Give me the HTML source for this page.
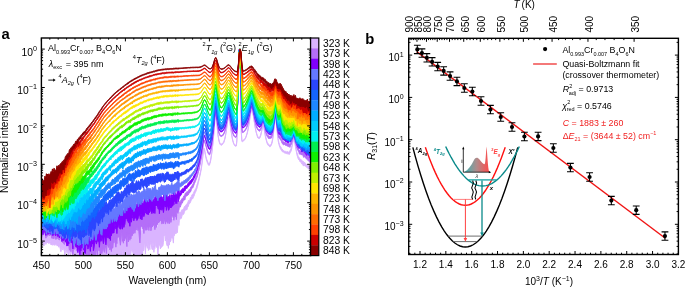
<!DOCTYPE html><html><head><meta charset="utf-8"><style>html,body{margin:0;padding:0;background:#fff;}svg{display:block;will-change:transform;}</style></head><body><svg width="685" height="287" viewBox="0 0 685 287" font-family='"Liberation Sans", sans-serif'>
<rect width="685" height="287" fill="#fff"/>
<defs><clipPath id="cl"><rect x="41.4" y="38.0" width="269.2" height="217.6"/></clipPath>
<linearGradient id="sg" x1="0" x2="1" y1="0" y2="0"><stop offset="0" stop-color="#3cb4b4"/><stop offset="0.5" stop-color="#b08a8a"/><stop offset="1" stop-color="#ff4a4a"/></linearGradient></defs>
<text x="1.6" y="38.9" font-size="14.8" text-anchor="start" fill="#000" font-weight="bold">a</text>
<text x="365.2" y="43.8" font-size="14.8" text-anchor="start" fill="#000" font-weight="bold">b</text>
<g clip-path="url(#cl)">
<polygon points="40.4,234.8 40.9,234.1 41.4,231.7 41.9,234.6 42.4,234.1 42.9,234.8 43.4,234.1 43.9,235.6 44.4,234.8 44.9,236.0 45.4,235.3 45.9,233.5 46.4,235.9 46.9,234.6 47.4,234.9 47.9,234.8 48.4,233.2 48.9,235.1 49.4,231.8 49.9,232.4 50.4,233.0 50.9,235.9 51.4,234.5 51.9,235.4 52.4,234.1 52.9,236.4 53.4,233.9 53.9,234.3 54.4,236.5 54.9,236.7 55.4,237.6 55.9,234.8 56.4,235.0 56.9,235.1 57.4,236.6 57.9,237.2 58.4,237.3 58.9,237.3 59.4,236.3 59.9,237.6 60.4,237.8 60.9,237.4 61.4,240.0 61.9,236.5 62.4,236.9 62.9,238.7 63.4,236.5 63.9,237.2 64.4,240.3 64.9,240.6 65.4,240.4 65.9,240.9 66.4,239.2 66.9,238.5 67.4,236.6 67.9,240.5 68.4,237.6 68.9,238.6 69.4,237.3 69.9,239.8 70.4,241.9 70.9,235.7 71.4,239.1 71.9,239.5 72.4,236.3 72.9,237.7 73.4,240.7 73.9,240.3 74.4,236.4 74.9,239.1 75.4,235.0 75.9,239.9 76.4,236.6 76.9,241.7 77.4,240.1 77.9,243.8 78.4,240.0 78.9,238.0 79.4,243.1 79.9,241.8 80.4,238.5 80.9,240.0 81.4,241.1 81.9,238.0 82.4,239.8 82.9,235.8 83.4,241.8 83.9,238.4 84.4,240.3 84.9,239.8 85.4,243.0 85.9,239.7 86.4,239.2 86.9,242.5 87.4,243.9 87.9,235.8 88.4,235.4 88.9,238.1 89.4,232.1 89.9,236.7 90.4,234.5 90.9,234.4 91.4,239.4 91.9,240.6 92.4,241.4 92.9,243.9 93.4,239.9 93.9,239.9 94.4,242.2 94.9,243.5 95.4,237.7 95.9,240.3 96.4,234.9 96.9,230.9 97.4,237.4 97.9,234.2 98.4,235.9 98.9,240.6 99.4,241.1 99.9,231.9 100.4,237.0 100.9,230.0 101.4,236.5 101.9,230.8 102.4,226.0 102.9,226.9 103.4,236.5 103.9,232.8 104.4,233.0 104.9,231.7 105.4,238.4 105.9,236.4 106.4,230.7 106.9,236.9 107.4,236.0 107.9,229.7 108.4,238.3 108.9,238.8 109.4,234.3 109.9,236.3 110.4,237.2 110.9,230.9 111.4,226.7 111.9,228.1 112.4,229.2 112.9,232.6 113.4,231.6 113.9,230.1 114.4,232.5 114.9,228.0 115.4,230.3 115.9,233.1 116.4,228.0 116.9,229.3 117.4,231.8 117.9,226.1 118.4,225.6 118.9,233.0 119.4,227.3 119.9,227.0 120.4,233.2 120.9,231.1 121.4,230.3 121.9,228.7 122.4,224.5 122.9,225.1 123.4,231.7 123.9,223.8 124.4,222.3 124.9,234.1 125.4,230.8 125.9,231.4 126.4,222.2 126.9,220.9 127.4,231.5 127.9,228.2 128.4,230.1 128.9,228.0 129.4,223.7 129.9,231.0 130.4,231.0 130.9,226.7 131.4,226.0 131.9,223.8 132.4,229.0 132.9,232.3 133.4,230.5 133.9,222.8 134.4,223.8 134.9,230.5 135.4,223.0 135.9,227.9 136.4,223.8 136.9,234.5 137.4,224.9 137.9,232.5 138.4,228.9 138.9,227.6 139.4,227.0 139.9,230.6 140.4,230.3 140.9,230.1 141.4,232.8 141.9,233.9 142.4,232.5 142.9,226.6 143.4,227.6 143.9,222.1 144.4,223.7 144.9,228.2 145.4,225.1 145.9,217.7 146.4,224.0 146.9,222.5 147.4,217.8 147.9,223.0 148.4,219.3 148.9,217.2 149.4,223.0 149.9,217.9 150.4,221.0 150.9,223.5 151.4,221.9 151.9,220.8 152.4,217.4 152.9,226.1 153.4,219.0 153.9,220.5 154.4,223.5 154.9,215.5 155.4,219.1 155.9,225.9 156.4,221.1 156.9,227.2 157.4,228.9 157.9,226.1 158.4,219.9 158.9,225.2 159.4,217.6 159.9,220.3 160.4,225.4 160.9,220.7 161.4,222.8 161.9,223.2 162.4,220.8 162.9,219.3 163.4,215.6 163.9,221.8 164.4,211.5 164.9,214.7 165.4,214.5 165.9,214.1 166.4,213.8 166.9,222.3 167.4,222.0 167.9,216.4 168.4,216.2 168.9,222.0 169.4,217.7 169.9,221.8 170.4,222.1 170.9,218.7 171.4,219.9 171.9,220.2 172.4,219.1 172.9,218.8 173.4,219.4 173.9,220.2 174.4,214.1 174.9,214.5 175.4,213.6 175.9,214.0 176.4,217.1 176.9,216.8 177.4,216.9 177.9,213.2 178.4,208.9 178.9,210.9 179.4,213.9 179.9,212.0 180.4,213.0 180.9,212.3 181.4,210.5 181.9,209.8 182.4,210.3 182.9,209.3 183.4,209.8 183.9,208.0 184.4,206.5 184.9,206.8 185.4,205.8 185.9,204.9 186.4,204.4 186.9,204.8 187.4,202.8 187.9,202.9 188.4,200.4 188.9,200.8 189.4,200.2 189.9,199.5 190.4,197.5 190.9,197.8 191.4,196.4 191.9,195.1 192.4,194.3 192.9,194.7 193.4,193.2 193.9,192.1 194.4,190.8 194.9,190.3 195.4,189.2 195.9,188.4 196.4,187.2 196.9,185.2 197.4,183.9 197.9,182.2 198.4,180.2 198.9,178.6 199.4,176.6 199.9,173.9 200.4,172.0 200.9,169.7 201.4,166.4 201.9,163.5 202.4,159.3 202.9,154.4 203.4,150.1 203.9,147.8 204.4,148.7 204.9,151.2 205.4,154.1 205.9,156.4 206.4,158.3 206.9,159.8 207.4,161.0 207.9,162.4 208.4,163.3 208.9,163.6 209.4,163.6 209.9,162.5 210.4,160.8 210.9,157.9 211.4,154.8 211.9,151.3 212.4,147.3 212.9,143.1 213.4,137.9 213.9,132.0 214.4,125.8 214.9,120.1 215.4,116.1 215.9,115.6 216.4,118.8 216.9,123.6 217.4,129.1 217.9,133.7 218.4,137.2 218.9,139.8 219.4,141.6 219.9,143.0 220.4,143.8 220.9,144.2 221.4,144.0 221.9,143.8 222.4,143.6 222.9,142.9 223.4,142.3 223.9,141.3 224.4,139.8 224.9,138.1 225.4,135.7 225.9,132.9 226.4,129.5 226.9,126.0 227.4,122.4 227.9,119.2 228.4,117.3 228.9,117.1 229.4,118.5 229.9,121.5 230.4,125.2 230.9,129.0 231.4,132.3 231.9,135.6 232.4,138.4 232.9,140.5 233.4,142.2 233.9,143.5 234.4,144.1 234.9,144.6 235.4,145.2 235.9,145.2 236.4,144.8 236.9,139.6 237.4,115.3 237.9,85.0 238.4,62.9 238.9,51.0 239.4,49.5 239.9,58.6 240.4,77.8 240.9,106.1 241.4,133.1 241.9,140.4 242.4,140.6 242.9,140.5 243.4,140.1 243.9,139.5 244.4,139.3 244.9,138.6 245.4,137.8 245.9,136.6 246.4,135.4 246.9,133.7 247.4,131.9 247.9,129.5 248.4,127.1 248.9,124.0 249.4,120.9 249.9,117.6 250.4,114.5 250.9,111.8 251.4,110.2 251.9,109.6 252.4,110.7 252.9,112.7 253.4,115.5 253.9,118.7 254.4,121.9 254.9,125.2 255.4,127.8 255.9,130.3 256.4,132.5 256.9,134.2 257.4,135.6 257.9,136.6 258.4,137.1 258.9,137.6 259.4,137.3 259.9,136.5 260.4,135.4 260.9,133.7 261.4,131.6 261.9,129.4 262.4,126.9 262.9,125.7 263.4,125.6 263.9,127.0 264.4,129.7 264.9,132.6 265.4,135.4 265.9,137.7 266.4,139.8 266.9,141.4 267.4,142.7 267.9,143.3 268.4,144.0 268.9,144.8 269.4,145.2 269.9,145.1 270.4,145.0 270.9,144.5 271.4,143.6 271.9,142.1 272.4,139.8 272.9,136.9 273.4,132.6 273.9,128.1 274.4,123.3 274.9,119.4 275.4,117.6 275.9,119.3 276.4,122.8 276.9,127.9 277.4,132.4 277.9,136.8 278.4,140.3 278.9,142.5 279.4,144.4 279.9,145.9 280.4,146.8 280.9,146.9 281.4,148.6 281.9,149.1 282.4,149.2 282.9,150.3 283.4,150.5 283.9,150.7 284.4,151.2 284.9,151.2 285.4,151.3 285.9,151.7 286.4,152.1 286.9,151.4 287.4,151.6 287.9,151.9 288.4,152.3 288.9,151.7 289.4,151.5 289.9,151.0 290.4,149.8 290.9,149.0 291.4,147.4 291.9,145.6 292.4,142.8 292.9,140.2 293.4,138.4 293.9,138.3 294.4,138.8 294.9,141.4 295.4,144.5 295.9,147.4 296.4,149.6 296.9,152.4 297.4,154.0 297.9,155.4 298.4,156.7 298.9,157.3 299.4,158.2 299.9,158.6 300.4,159.3 300.9,159.2 301.4,160.3 301.9,160.4 302.4,161.2 302.9,161.0 303.4,161.4 303.9,162.6 304.4,162.0 304.9,162.7 305.4,163.7 305.9,163.7 306.4,164.6 306.9,164.5 307.4,165.2 307.9,165.3 308.4,165.8 308.9,165.8 309.4,166.0 309.9,166.5 310.4,167.6 310.9,167.8 311.4,169.2 311.4,171.2 310.9,170.4 310.4,170.8 309.9,170.0 309.4,169.0 308.9,169.1 308.4,168.9 307.9,168.4 307.4,167.1 306.9,167.6 306.4,167.0 305.9,166.4 305.4,166.0 304.9,166.1 304.4,164.8 303.9,164.9 303.4,166.1 302.9,164.8 302.4,164.1 301.9,164.1 301.4,162.8 300.9,162.2 300.4,162.0 299.9,161.5 299.4,160.3 298.9,160.0 298.4,159.3 297.9,157.9 297.4,156.4 296.9,154.7 296.4,151.9 295.9,149.7 295.4,146.7 294.9,143.4 294.4,141.1 293.9,140.7 293.4,140.4 292.9,142.6 292.4,145.1 291.9,147.7 291.4,150.1 290.9,151.5 290.4,152.4 289.9,153.2 289.4,154.4 288.9,154.2 288.4,153.9 287.9,153.7 287.4,154.1 286.9,153.5 286.4,153.6 285.9,153.4 285.4,153.1 284.9,153.4 284.4,152.4 283.9,152.5 283.4,152.0 282.9,152.1 282.4,151.7 281.9,151.2 281.4,150.4 280.9,149.3 280.4,148.9 279.9,147.4 279.4,146.1 278.9,144.2 278.4,142.1 277.9,138.6 277.4,134.2 276.9,129.3 276.4,124.3 275.9,120.6 275.4,119.4 274.9,120.8 274.4,124.9 273.9,129.6 273.4,134.4 272.9,138.5 272.4,141.4 271.9,143.7 271.4,144.9 270.9,145.8 270.4,146.4 269.9,147.1 269.4,146.2 268.9,146.0 268.4,145.5 267.9,144.9 267.4,144.0 266.9,142.8 266.4,140.8 265.9,138.9 265.4,136.7 264.9,133.9 264.4,130.9 263.9,128.3 263.4,126.7 262.9,127.0 262.4,128.0 261.9,130.3 261.4,132.7 260.9,135.3 260.4,136.9 259.9,137.8 259.4,138.6 258.9,138.6 258.4,138.3 257.9,138.0 257.4,136.8 256.9,135.1 256.4,133.3 255.9,131.4 255.4,128.9 254.9,125.9 254.4,122.7 253.9,119.7 253.4,116.3 252.9,113.6 252.4,111.3 251.9,110.4 251.4,110.9 250.9,112.6 250.4,115.4 249.9,118.4 249.4,121.8 248.9,124.9 248.4,127.9 247.9,130.5 247.4,132.8 246.9,134.5 246.4,136.1 245.9,137.7 245.4,138.7 244.9,139.6 244.4,140.0 243.9,140.6 243.4,140.9 242.9,141.3 242.4,141.8 241.9,141.5 241.4,134.0 240.9,106.7 240.4,78.3 239.9,59.0 239.4,50.1 238.9,51.5 238.4,63.4 237.9,85.6 237.4,115.9 236.9,140.6 236.4,146.0 235.9,146.2 235.4,146.2 234.9,146.0 234.4,145.2 233.9,144.4 233.4,143.1 232.9,141.5 232.4,139.2 231.9,136.3 231.4,133.3 230.9,129.8 230.4,125.9 229.9,122.2 229.4,119.2 228.9,117.7 228.4,118.0 227.9,119.9 227.4,123.2 226.9,126.7 226.4,130.4 225.9,133.7 225.4,136.5 224.9,139.1 224.4,140.7 223.9,142.5 223.4,143.1 222.9,143.9 222.4,144.6 221.9,145.0 221.4,145.2 220.9,145.2 220.4,144.7 219.9,144.1 219.4,142.7 218.9,140.8 218.4,138.0 217.9,134.4 217.4,129.7 216.9,124.4 216.4,119.4 215.9,116.3 215.4,116.9 214.9,120.8 214.4,126.7 213.9,132.8 213.4,138.9 212.9,144.2 212.4,148.5 211.9,152.5 211.4,156.0 210.9,159.5 210.4,162.0 209.9,163.8 209.4,165.3 208.9,165.3 208.4,165.1 207.9,163.8 207.4,162.7 206.9,161.4 206.4,159.8 205.9,157.7 205.4,155.2 204.9,152.4 204.4,149.9 203.9,149.0 203.4,151.6 202.9,156.3 202.4,160.7 201.9,164.8 201.4,168.6 200.9,171.1 200.4,174.0 199.9,176.0 199.4,178.3 198.9,180.6 198.4,182.2 197.9,184.9 197.4,186.4 196.9,188.5 196.4,189.7 195.9,191.4 195.4,192.3 194.9,193.6 194.4,194.8 193.9,196.3 193.4,196.9 192.9,198.7 192.4,198.4 191.9,199.2 191.4,200.1 190.9,200.9 190.4,202.6 189.9,203.4 189.4,203.2 188.9,204.3 188.4,206.1 187.9,207.1 187.4,207.7 186.9,209.9 186.4,209.7 185.9,210.1 185.4,209.5 184.9,211.2 184.4,211.7 183.9,213.8 183.4,214.5 182.9,214.4 182.4,214.6 181.9,216.1 181.4,218.3 180.9,218.2 180.4,218.8 179.9,219.0 179.4,220.5 178.9,225.5 178.4,223.3 177.9,225.0 177.4,232.6 176.9,233.0 176.4,230.2 175.9,234.0 175.4,231.6 174.9,232.9 174.4,235.6 173.9,233.3 173.4,243.1 172.9,239.4 172.4,235.7 171.9,238.1 171.4,235.7 170.9,240.7 170.4,241.8 169.9,239.1 169.4,245.1 168.9,237.6 168.4,248.4 167.9,238.8 167.4,246.1 166.9,245.1 166.4,242.5 165.9,237.2 165.4,241.0 164.9,232.1 164.4,235.8 163.9,236.1 163.4,242.7 162.9,245.7 162.4,246.3 161.9,246.5 161.4,247.5 160.9,241.7 160.4,248.9 159.9,244.8 159.4,245.3 158.9,244.9 158.4,248.0 157.9,254.9 157.4,245.5 156.9,247.7 156.4,244.4 155.9,246.5 155.4,239.0 154.9,248.5 154.4,246.5 153.9,252.3 153.4,245.1 152.9,242.0 152.4,249.8 151.9,249.0 151.4,245.0 150.9,244.6 150.4,240.0 149.9,249.7 149.4,246.3 148.9,247.7 148.4,250.5 147.9,240.5 147.4,248.3 146.9,245.8 146.4,246.1 145.9,246.7 145.4,254.1 144.9,242.9 144.4,242.9 143.9,249.9 143.4,250.9 142.9,250.0 142.4,257.3 141.9,255.3 141.4,256.3 140.9,255.9 140.4,255.1 139.9,254.4 139.4,264.9 138.9,251.8 138.4,258.0 137.9,256.9 137.4,257.1 136.9,260.3 136.4,252.0 135.9,255.1 135.4,259.4 134.9,249.5 134.4,256.6 133.9,258.5 133.4,254.7 132.9,252.8 132.4,250.4 131.9,250.5 131.4,249.4 130.9,253.5 130.4,261.0 129.9,257.0 129.4,261.6 128.9,257.0 128.4,256.5 127.9,255.5 127.4,270.1 126.9,253.1 126.4,253.8 125.9,254.7 125.4,252.5 124.9,260.7 124.4,247.3 123.9,260.7 123.4,261.5 122.9,249.9 122.4,251.5 121.9,258.0 121.4,266.9 120.9,256.9 120.4,260.2 119.9,255.3 119.4,253.4 118.9,261.5 118.4,254.6 117.9,260.2 117.4,255.0 116.9,260.1 116.4,263.6 115.9,255.0 115.4,258.6 114.9,266.2 114.4,262.6 113.9,258.7 113.4,258.7 112.9,259.0 112.4,251.9 111.9,255.9 111.4,264.7 110.9,259.1 110.4,260.1 109.9,263.8 109.4,258.0 108.9,258.1 108.4,267.9 107.9,256.2 107.4,269.0 106.9,267.8 106.4,263.9 105.9,264.8 105.4,257.6 104.9,283.6 104.4,257.8 103.9,260.4 103.4,263.0 102.9,255.8 102.4,252.1 101.9,266.8 101.4,252.1 100.9,258.6 100.4,265.4 99.9,266.4 99.4,264.1 98.9,273.2 98.4,264.3 97.9,263.1 97.4,256.4 96.9,261.8 96.4,269.8 95.9,259.5 95.4,255.6 94.9,260.4 94.4,268.4 93.9,266.0 93.4,274.8 92.9,262.3 92.4,264.1 91.9,256.6 91.4,259.3 90.9,256.0 90.4,262.7 89.9,255.5 89.4,260.4 88.9,255.8 88.4,259.3 87.9,264.8 87.4,262.8 86.9,259.5 86.4,266.0 85.9,263.1 85.4,263.0 84.9,263.1 84.4,265.9 83.9,264.0 83.4,261.5 82.9,260.8 82.4,256.9 81.9,258.4 81.4,254.9 80.9,261.8 80.4,262.0 79.9,255.6 79.4,256.6 78.9,261.2 78.4,262.7 77.9,258.4 77.4,259.6 76.9,252.9 76.4,256.5 75.9,255.1 75.4,256.8 74.9,252.5 74.4,257.6 73.9,251.3 73.4,252.5 72.9,258.3 72.4,253.9 71.9,253.7 71.4,251.9 70.9,252.3 70.4,255.4 69.9,253.3 69.4,252.9 68.9,251.9 68.4,255.4 67.9,252.8 67.4,251.6 66.9,252.8 66.4,250.0 65.9,248.6 65.4,250.3 64.9,256.5 64.4,251.5 63.9,248.5 63.4,247.7 62.9,250.1 62.4,248.7 61.9,246.9 61.4,249.6 60.9,251.8 60.4,249.7 59.9,246.8 59.4,244.8 58.9,247.3 58.4,246.5 57.9,246.0 57.4,245.4 56.9,245.8 56.4,243.1 55.9,244.7 55.4,242.8 54.9,245.4 54.4,244.7 53.9,244.6 53.4,244.2 52.9,245.3 52.4,241.4 51.9,245.1 51.4,243.3 50.9,244.7 50.4,241.8 49.9,240.7 49.4,243.0 48.9,243.7 48.4,242.7 47.9,242.2 47.4,243.0 46.9,242.1 46.4,242.6 45.9,244.4 45.4,241.3 44.9,242.1 44.4,243.8 43.9,246.0 43.4,244.4 42.9,243.2 42.4,241.6 41.9,242.3 41.4,240.0 40.9,242.8 40.4,241.3" fill="#dab4ff" stroke="#dab4ff" stroke-width="1.0" stroke-linejoin="round"/>
<polygon points="40.4,227.4 40.9,227.9 41.4,226.4 41.9,226.3 42.4,226.5 42.9,226.6 43.4,225.7 43.9,224.1 44.4,225.8 44.9,224.7 45.4,226.6 45.9,227.2 46.4,227.7 46.9,226.7 47.4,227.7 47.9,226.2 48.4,227.9 48.9,227.6 49.4,226.0 49.9,227.5 50.4,226.4 50.9,226.1 51.4,227.5 51.9,229.9 52.4,228.5 52.9,228.9 53.4,230.1 53.9,227.7 54.4,227.9 54.9,229.5 55.4,229.5 55.9,229.6 56.4,228.7 56.9,228.8 57.4,231.6 57.9,232.0 58.4,229.9 58.9,230.6 59.4,230.8 59.9,228.5 60.4,227.9 60.9,227.2 61.4,227.7 61.9,230.7 62.4,231.6 62.9,229.8 63.4,229.3 63.9,234.0 64.4,231.4 64.9,230.6 65.4,231.0 65.9,230.9 66.4,231.7 66.9,231.5 67.4,232.7 67.9,230.6 68.4,231.3 68.9,228.8 69.4,230.8 69.9,228.9 70.4,232.6 70.9,230.1 71.4,231.9 71.9,230.6 72.4,231.1 72.9,234.1 73.4,234.1 73.9,233.4 74.4,235.9 74.9,231.0 75.4,233.0 75.9,232.1 76.4,229.8 76.9,227.3 77.4,226.3 77.9,232.1 78.4,232.4 78.9,229.7 79.4,229.9 79.9,233.3 80.4,229.6 80.9,229.2 81.4,230.3 81.9,231.5 82.4,232.0 82.9,232.6 83.4,230.9 83.9,230.9 84.4,230.4 84.9,228.7 85.4,235.9 85.9,234.7 86.4,232.1 86.9,235.9 87.4,234.5 87.9,239.3 88.4,235.7 88.9,234.8 89.4,236.8 89.9,232.1 90.4,232.4 90.9,227.3 91.4,230.2 91.9,228.3 92.4,224.2 92.9,227.5 93.4,234.0 93.9,233.8 94.4,232.6 94.9,236.7 95.4,234.7 95.9,229.4 96.4,228.9 96.9,228.8 97.4,226.4 97.9,225.3 98.4,229.5 98.9,228.5 99.4,228.7 99.9,224.0 100.4,231.8 100.9,229.6 101.4,230.6 101.9,225.8 102.4,223.0 102.9,229.4 103.4,222.8 103.9,224.6 104.4,230.1 104.9,222.7 105.4,228.1 105.9,222.4 106.4,228.2 106.9,223.1 107.4,223.5 107.9,220.9 108.4,221.8 108.9,223.0 109.4,228.6 109.9,226.4 110.4,225.5 110.9,220.5 111.4,223.4 111.9,225.4 112.4,224.4 112.9,220.5 113.4,225.1 113.9,218.6 114.4,218.8 114.9,220.9 115.4,219.1 115.9,221.4 116.4,220.8 116.9,218.2 117.4,219.3 117.9,219.0 118.4,217.3 118.9,217.2 119.4,221.8 119.9,220.5 120.4,216.0 120.9,215.7 121.4,214.2 121.9,215.4 122.4,217.1 122.9,217.0 123.4,217.9 123.9,219.1 124.4,220.5 124.9,220.2 125.4,221.8 125.9,219.0 126.4,215.9 126.9,216.8 127.4,219.3 127.9,214.8 128.4,219.9 128.9,212.1 129.4,215.9 129.9,217.9 130.4,217.9 130.9,214.4 131.4,222.7 131.9,221.6 132.4,217.0 132.9,218.0 133.4,216.1 133.9,212.0 134.4,215.7 134.9,208.1 135.4,210.3 135.9,214.8 136.4,209.7 136.9,210.6 137.4,207.9 137.9,208.3 138.4,208.0 138.9,217.6 139.4,211.8 139.9,216.1 140.4,216.7 140.9,212.0 141.4,209.4 141.9,204.8 142.4,208.4 142.9,212.6 143.4,210.8 143.9,212.8 144.4,211.0 144.9,216.6 145.4,209.6 145.9,208.6 146.4,213.5 146.9,210.8 147.4,213.0 147.9,211.4 148.4,213.7 148.9,209.3 149.4,212.7 149.9,208.5 150.4,207.9 150.9,211.2 151.4,211.4 151.9,207.4 152.4,213.2 152.9,211.6 153.4,210.6 153.9,208.8 154.4,210.1 154.9,211.4 155.4,208.7 155.9,207.5 156.4,206.8 156.9,208.2 157.4,208.8 157.9,210.8 158.4,207.9 158.9,207.2 159.4,207.1 159.9,204.1 160.4,207.9 160.9,203.0 161.4,205.0 161.9,204.3 162.4,204.6 162.9,209.0 163.4,205.7 163.9,207.9 164.4,206.2 164.9,204.6 165.4,207.0 165.9,206.5 166.4,209.3 166.9,206.2 167.4,208.0 167.9,206.8 168.4,206.6 168.9,203.9 169.4,207.0 169.9,206.0 170.4,209.3 170.9,208.9 171.4,203.7 171.9,206.4 172.4,201.3 172.9,204.5 173.4,204.1 173.9,204.0 174.4,203.8 174.9,203.7 175.4,202.5 175.9,200.8 176.4,202.1 176.9,202.1 177.4,200.6 177.9,202.8 178.4,200.9 178.9,200.9 179.4,201.9 179.9,202.6 180.4,201.4 180.9,200.2 181.4,200.3 181.9,198.7 182.4,198.2 182.9,198.5 183.4,197.2 183.9,195.9 184.4,195.4 184.9,194.4 185.4,193.0 185.9,192.9 186.4,192.6 186.9,191.6 187.4,191.7 187.9,192.0 188.4,191.0 188.9,190.0 189.4,189.3 189.9,188.8 190.4,188.5 190.9,186.9 191.4,186.7 191.9,186.1 192.4,184.9 192.9,184.2 193.4,183.4 193.9,181.7 194.4,180.7 194.9,179.3 195.4,179.0 195.9,177.2 196.4,176.1 196.9,175.2 197.4,173.4 197.9,171.6 198.4,169.8 198.9,168.0 199.4,165.3 199.9,163.6 200.4,161.0 200.9,158.5 201.4,155.6 201.9,152.8 202.4,149.4 202.9,145.7 203.4,142.4 203.9,140.1 204.4,140.2 204.9,141.5 205.4,143.2 205.9,144.9 206.4,146.7 206.9,148.5 207.4,149.8 207.9,151.2 208.4,152.6 208.9,153.5 209.4,153.6 209.9,152.6 210.4,151.4 210.9,149.2 211.4,146.5 211.9,143.2 212.4,139.9 212.9,136.0 213.4,131.7 213.9,126.8 214.4,121.5 214.9,116.5 215.4,113.0 215.9,112.5 216.4,115.1 216.9,119.2 217.4,123.5 217.9,127.2 218.4,130.0 218.9,132.1 219.4,133.7 219.9,134.6 220.4,135.2 220.9,135.6 221.4,135.6 221.9,135.4 222.4,135.2 222.9,134.5 223.4,133.9 223.9,133.1 224.4,131.8 224.9,130.6 225.4,128.8 225.9,126.4 226.4,124.0 226.9,121.2 227.4,118.2 227.9,115.5 228.4,113.9 228.9,113.8 229.4,115.2 229.9,117.6 230.4,120.7 230.9,123.7 231.4,126.4 231.9,128.9 232.4,131.0 232.9,132.5 233.4,134.0 233.9,134.9 234.4,135.7 234.9,136.2 235.4,136.4 235.9,136.4 236.4,136.2 236.9,131.9 237.4,112.9 237.9,87.1 238.4,66.3 238.9,53.4 239.4,48.9 239.9,52.7 240.4,64.9 240.9,85.0 241.4,110.2 241.9,127.9 242.4,131.8 242.9,131.8 243.4,131.4 243.9,131.2 244.4,130.6 244.9,130.0 245.4,129.3 245.9,128.6 246.4,127.7 246.9,126.3 247.4,124.8 247.9,123.3 248.4,121.3 248.9,118.9 249.4,116.4 249.9,113.7 250.4,111.1 250.9,108.9 251.4,107.6 251.9,107.3 252.4,108.1 252.9,109.9 253.4,112.3 253.9,114.7 254.4,117.5 254.9,120.1 255.4,122.0 255.9,123.8 256.4,125.5 256.9,126.8 257.4,128.0 257.9,128.8 258.4,129.4 258.9,129.5 259.4,129.7 259.9,129.5 260.4,128.7 260.9,127.8 261.4,126.4 261.9,124.7 262.4,123.1 262.9,122.0 263.4,121.8 263.9,123.1 264.4,125.0 264.9,127.3 265.4,129.5 265.9,131.4 266.4,132.6 266.9,134.2 267.4,134.7 267.9,135.8 268.4,135.6 268.9,136.1 269.4,136.8 269.9,136.5 270.4,136.4 270.9,136.8 271.4,135.8 271.9,135.0 272.4,133.3 272.9,130.8 273.4,127.8 273.9,124.4 274.4,120.1 274.9,116.7 275.4,115.4 275.9,116.6 276.4,119.7 276.9,124.1 277.4,128.2 277.9,131.3 278.4,133.5 278.9,135.4 279.4,135.8 279.9,136.3 280.4,136.9 280.9,137.7 281.4,139.3 281.9,139.8 282.4,141.0 282.9,141.7 283.4,141.8 283.9,141.9 284.4,142.0 284.9,142.8 285.4,142.3 285.9,142.9 286.4,143.0 286.9,143.3 287.4,143.9 287.9,144.1 288.4,143.5 288.9,143.8 289.4,143.9 289.9,143.6 290.4,143.4 290.9,142.2 291.4,141.4 291.9,139.4 292.4,138.3 292.9,135.6 293.4,134.6 293.9,134.9 294.4,135.2 294.9,137.2 295.4,139.6 295.9,141.1 296.4,142.8 296.9,145.1 297.4,145.7 297.9,147.8 298.4,149.2 298.9,149.5 299.4,150.3 299.9,150.6 300.4,150.8 300.9,150.7 301.4,150.3 301.9,150.4 302.4,151.6 302.9,152.1 303.4,151.9 303.9,152.8 304.4,152.9 304.9,152.9 305.4,154.3 305.9,153.9 306.4,154.7 306.9,155.7 307.4,156.4 307.9,156.1 308.4,157.1 308.9,156.7 309.4,157.5 309.9,158.1 310.4,158.0 310.9,158.4 311.4,159.3 311.4,162.8 310.9,162.0 310.4,161.9 309.9,162.4 309.4,161.7 308.9,160.4 308.4,160.8 307.9,160.6 307.4,159.3 306.9,159.3 306.4,159.0 305.9,158.2 305.4,156.9 304.9,157.0 304.4,156.1 303.9,157.5 303.4,156.7 302.9,155.3 302.4,154.9 301.9,154.0 301.4,155.1 300.9,154.0 300.4,154.2 299.9,153.5 299.4,154.3 298.9,152.1 298.4,151.3 297.9,150.3 297.4,148.9 296.9,148.1 296.4,146.4 295.9,144.0 295.4,142.6 294.9,141.3 294.4,138.1 293.9,137.5 293.4,137.6 292.9,138.8 292.4,140.6 291.9,142.3 291.4,144.2 290.9,145.0 290.4,145.7 289.9,147.4 289.4,146.8 288.9,146.3 288.4,146.7 287.9,146.1 287.4,146.1 286.9,146.1 286.4,145.5 285.9,145.4 285.4,145.3 284.9,144.8 284.4,144.5 283.9,144.8 283.4,144.8 282.9,144.0 282.4,143.7 281.9,142.8 281.4,141.3 280.9,139.9 280.4,139.9 279.9,138.6 279.4,138.4 278.9,137.9 278.4,135.9 277.9,133.8 277.4,130.5 276.9,126.4 276.4,122.1 275.9,118.5 275.4,117.0 274.9,118.5 274.4,122.1 273.9,126.0 273.4,129.6 272.9,133.3 272.4,135.5 271.9,136.7 271.4,138.1 270.9,138.2 270.4,138.4 269.9,138.6 269.4,138.5 268.9,138.4 268.4,138.4 267.9,137.2 267.4,136.8 266.9,135.9 266.4,134.4 265.9,133.1 265.4,131.6 264.9,128.8 264.4,126.6 263.9,124.7 263.4,123.3 262.9,123.7 262.4,124.3 261.9,126.2 261.4,128.0 260.9,129.3 260.4,130.4 259.9,130.8 259.4,131.2 258.9,130.9 258.4,130.5 257.9,130.0 257.4,129.0 256.9,128.2 256.4,126.9 255.9,125.5 255.4,123.3 254.9,120.9 254.4,118.4 253.9,115.7 253.4,113.3 252.9,110.7 252.4,109.0 251.9,108.1 251.4,108.4 250.9,109.9 250.4,111.9 249.9,114.5 249.4,117.1 248.9,119.6 248.4,122.0 247.9,124.0 247.4,125.7 246.9,127.5 246.4,128.3 245.9,129.4 245.4,130.3 244.9,131.0 244.4,131.5 243.9,132.1 243.4,132.3 242.9,132.7 242.4,132.5 241.9,128.8 241.4,110.8 240.9,85.5 240.4,65.4 239.9,53.2 239.4,49.4 238.9,53.9 238.4,66.7 237.9,87.5 237.4,113.6 236.9,132.8 236.4,137.0 235.9,137.3 235.4,137.5 234.9,137.2 234.4,136.6 233.9,136.0 233.4,135.0 232.9,133.8 232.4,131.8 231.9,129.7 231.4,127.2 230.9,124.7 230.4,121.2 229.9,118.3 229.4,115.7 228.9,114.3 228.4,114.6 227.9,116.3 227.4,119.0 226.9,122.0 226.4,124.8 225.9,127.3 225.4,129.5 224.9,131.3 224.4,132.7 223.9,133.9 223.4,134.9 222.9,135.5 222.4,136.0 221.9,136.4 221.4,136.4 220.9,136.3 220.4,136.1 219.9,135.7 219.4,134.3 218.9,132.9 218.4,131.1 217.9,128.0 217.4,124.2 216.9,119.9 216.4,115.7 215.9,113.1 215.4,113.6 214.9,117.1 214.4,122.3 213.9,127.6 213.4,132.7 212.9,136.9 212.4,140.9 211.9,144.5 211.4,147.4 210.9,150.3 210.4,152.3 209.9,154.4 209.4,154.9 208.9,154.5 208.4,153.7 207.9,152.8 207.4,151.2 206.9,149.8 206.4,147.7 205.9,146.1 205.4,144.4 204.9,142.7 204.4,141.3 203.9,141.1 203.4,143.5 202.9,147.0 202.4,150.5 201.9,154.1 201.4,157.3 200.9,160.2 200.4,162.6 199.9,165.4 199.4,167.5 198.9,170.6 198.4,171.7 197.9,174.0 197.4,175.9 196.9,177.6 196.4,178.8 195.9,180.0 195.4,181.3 194.9,182.8 194.4,183.2 193.9,185.0 193.4,186.2 192.9,187.8 192.4,187.8 191.9,188.4 191.4,189.3 190.9,191.0 190.4,191.9 189.9,192.4 189.4,193.0 188.9,193.2 188.4,194.8 187.9,195.3 187.4,195.3 186.9,195.9 186.4,196.0 185.9,196.5 185.4,197.0 184.9,200.0 184.4,199.9 183.9,200.1 183.4,200.5 182.9,201.6 182.4,203.0 181.9,203.2 181.4,203.9 180.9,205.1 180.4,207.0 179.9,207.2 179.4,206.1 178.9,210.4 178.4,210.3 177.9,213.4 177.4,212.5 176.9,212.6 176.4,219.6 175.9,214.2 175.4,216.8 174.9,216.1 174.4,216.3 173.9,220.3 173.4,218.3 172.9,217.2 172.4,214.6 171.9,216.4 171.4,220.1 170.9,222.4 170.4,218.5 169.9,220.9 169.4,223.7 168.9,222.5 168.4,217.7 167.9,223.5 167.4,220.5 166.9,221.6 166.4,220.7 165.9,222.7 165.4,224.1 164.9,221.7 164.4,220.8 163.9,218.5 163.4,223.7 162.9,222.5 162.4,221.4 161.9,224.1 161.4,220.0 160.9,221.0 160.4,219.4 159.9,220.9 159.4,222.2 158.9,221.7 158.4,222.8 157.9,219.5 157.4,224.6 156.9,221.2 156.4,227.4 155.9,220.2 155.4,226.3 154.9,229.7 154.4,225.7 153.9,221.7 153.4,225.5 152.9,223.0 152.4,227.0 151.9,224.0 151.4,228.4 150.9,230.8 150.4,223.0 149.9,227.2 149.4,223.2 148.9,230.5 148.4,225.9 147.9,227.0 147.4,226.5 146.9,230.1 146.4,224.0 145.9,230.4 145.4,226.5 144.9,227.8 144.4,227.8 143.9,233.5 143.4,227.8 142.9,228.9 142.4,225.4 141.9,226.3 141.4,227.1 140.9,227.6 140.4,235.1 139.9,242.9 139.4,237.9 138.9,231.9 138.4,226.7 137.9,230.5 137.4,224.1 136.9,227.8 136.4,229.8 135.9,230.0 135.4,229.2 134.9,233.3 134.4,228.0 133.9,231.1 133.4,233.6 132.9,232.9 132.4,235.4 131.9,236.1 131.4,234.1 130.9,238.9 130.4,236.3 129.9,240.3 129.4,236.1 128.9,233.8 128.4,242.0 127.9,237.0 127.4,231.9 126.9,246.6 126.4,239.0 125.9,234.2 125.4,238.2 124.9,239.3 124.4,240.9 123.9,236.3 123.4,243.2 122.9,239.1 122.4,241.3 121.9,231.9 121.4,233.7 120.9,241.0 120.4,245.2 119.9,241.2 119.4,237.6 118.9,237.0 118.4,235.7 117.9,237.7 117.4,234.6 116.9,243.6 116.4,240.4 115.9,247.2 115.4,242.7 114.9,241.6 114.4,236.0 113.9,243.1 113.4,239.7 112.9,247.8 112.4,248.2 111.9,240.2 111.4,251.5 110.9,248.1 110.4,247.9 109.9,250.0 109.4,243.2 108.9,242.6 108.4,247.5 107.9,244.3 107.4,244.8 106.9,246.5 106.4,253.6 105.9,248.7 105.4,247.8 104.9,246.2 104.4,252.4 103.9,250.9 103.4,246.2 102.9,249.4 102.4,251.5 101.9,253.6 101.4,253.1 100.9,248.1 100.4,254.8 99.9,251.4 99.4,248.8 98.9,250.7 98.4,244.4 97.9,244.2 97.4,255.0 96.9,251.4 96.4,248.5 95.9,250.9 95.4,257.2 94.9,258.8 94.4,256.0 93.9,247.4 93.4,255.0 92.9,254.0 92.4,251.6 91.9,246.6 91.4,254.0 90.9,251.5 90.4,248.7 89.9,255.3 89.4,253.3 88.9,258.1 88.4,258.0 87.9,257.4 87.4,251.0 86.9,250.5 86.4,255.0 85.9,253.5 85.4,250.5 84.9,255.7 84.4,264.2 83.9,263.7 83.4,252.5 82.9,248.6 82.4,252.1 81.9,255.3 81.4,251.2 80.9,248.1 80.4,249.1 79.9,254.4 79.4,250.9 78.9,249.6 78.4,250.7 77.9,250.1 77.4,251.6 76.9,246.1 76.4,250.7 75.9,246.8 75.4,246.9 74.9,248.6 74.4,249.2 73.9,249.2 73.4,250.0 72.9,254.6 72.4,251.8 71.9,243.2 71.4,243.1 70.9,251.6 70.4,246.3 69.9,248.1 69.4,250.2 68.9,246.4 68.4,244.4 67.9,244.3 67.4,245.1 66.9,241.2 66.4,243.9 65.9,239.8 65.4,243.0 64.9,240.9 64.4,244.5 63.9,244.1 63.4,241.9 62.9,242.9 62.4,241.1 61.9,240.4 61.4,237.6 60.9,239.0 60.4,238.7 59.9,237.4 59.4,240.0 58.9,239.7 58.4,239.2 57.9,237.6 57.4,237.5 56.9,238.8 56.4,237.1 55.9,239.5 55.4,236.6 54.9,234.9 54.4,236.6 53.9,238.8 53.4,237.7 52.9,238.4 52.4,236.7 51.9,238.3 51.4,236.3 50.9,235.3 50.4,234.3 49.9,234.8 49.4,236.0 48.9,234.7 48.4,233.3 47.9,235.3 47.4,236.3 46.9,235.0 46.4,235.7 45.9,238.2 45.4,233.7 44.9,233.4 44.4,232.2 43.9,235.0 43.4,234.0 42.9,235.3 42.4,233.7 41.9,237.5 41.4,237.6 40.9,235.5 40.4,234.1" fill="#b46ef8" stroke="#b46ef8" stroke-width="1.0" stroke-linejoin="round"/>
<polygon points="40.4,224.8 40.9,225.1 41.4,224.7 41.9,223.3 42.4,223.6 42.9,224.1 43.4,224.3 43.9,224.5 44.4,223.0 44.9,224.0 45.4,225.9 45.9,224.4 46.4,223.1 46.9,225.9 47.4,223.6 47.9,227.3 48.4,226.7 48.9,224.8 49.4,224.7 49.9,227.1 50.4,224.9 50.9,225.2 51.4,225.8 51.9,224.9 52.4,225.3 52.9,226.9 53.4,226.5 53.9,226.2 54.4,226.1 54.9,226.2 55.4,225.0 55.9,226.4 56.4,226.9 56.9,227.8 57.4,226.0 57.9,227.4 58.4,226.1 58.9,224.9 59.4,227.3 59.9,226.2 60.4,226.5 60.9,225.7 61.4,225.3 61.9,227.7 62.4,229.3 62.9,227.2 63.4,229.0 63.9,227.4 64.4,229.3 64.9,227.2 65.4,228.1 65.9,228.2 66.4,228.8 66.9,228.7 67.4,227.8 67.9,230.8 68.4,226.1 68.9,226.9 69.4,226.4 69.9,227.6 70.4,230.6 70.9,225.7 71.4,225.5 71.9,224.6 72.4,227.2 72.9,222.6 73.4,222.3 73.9,224.3 74.4,221.7 74.9,223.7 75.4,229.8 75.9,231.3 76.4,231.0 76.9,230.6 77.4,229.3 77.9,230.0 78.4,226.9 78.9,226.1 79.4,232.0 79.9,231.3 80.4,226.6 80.9,228.5 81.4,235.4 81.9,228.6 82.4,231.8 82.9,227.9 83.4,223.6 83.9,229.4 84.4,225.5 84.9,228.5 85.4,224.7 85.9,225.4 86.4,231.2 86.9,225.3 87.4,223.5 87.9,228.8 88.4,223.7 88.9,227.9 89.4,228.5 89.9,227.1 90.4,228.0 90.9,223.0 91.4,229.4 91.9,226.7 92.4,226.0 92.9,223.5 93.4,222.7 93.9,224.4 94.4,222.9 94.9,227.5 95.4,221.6 95.9,225.2 96.4,219.8 96.9,220.4 97.4,224.0 97.9,219.3 98.4,222.4 98.9,223.3 99.4,228.0 99.9,220.7 100.4,223.3 100.9,219.7 101.4,224.8 101.9,219.8 102.4,222.9 102.9,222.8 103.4,222.6 103.9,220.5 104.4,218.6 104.9,225.2 105.4,218.5 105.9,223.2 106.4,224.9 106.9,222.7 107.4,221.4 107.9,218.0 108.4,218.7 108.9,218.5 109.4,217.5 109.9,216.4 110.4,218.2 110.9,218.2 111.4,216.2 111.9,218.1 112.4,214.4 112.9,218.7 113.4,218.2 113.9,213.2 114.4,216.6 114.9,212.5 115.4,212.3 115.9,214.3 116.4,211.7 116.9,212.2 117.4,214.3 117.9,209.5 118.4,210.8 118.9,214.1 119.4,210.6 119.9,213.7 120.4,215.5 120.9,209.9 121.4,210.3 121.9,212.0 122.4,209.9 122.9,210.8 123.4,211.8 123.9,210.1 124.4,209.4 124.9,209.3 125.4,205.4 125.9,207.6 126.4,208.3 126.9,207.6 127.4,206.5 127.9,208.4 128.4,206.4 128.9,204.8 129.4,205.2 129.9,207.5 130.4,203.6 130.9,203.4 131.4,203.4 131.9,201.4 132.4,203.2 132.9,201.6 133.4,202.8 133.9,202.5 134.4,201.7 134.9,205.4 135.4,202.1 135.9,206.7 136.4,204.5 136.9,204.7 137.4,202.5 137.9,204.9 138.4,201.2 138.9,202.6 139.4,203.6 139.9,202.5 140.4,201.4 140.9,202.9 141.4,198.0 141.9,203.4 142.4,203.5 142.9,202.7 143.4,205.8 143.9,201.0 144.4,199.4 144.9,197.3 145.4,201.4 145.9,196.9 146.4,200.7 146.9,201.4 147.4,200.5 147.9,202.0 148.4,203.2 148.9,197.1 149.4,199.6 149.9,196.2 150.4,199.2 150.9,200.5 151.4,198.4 151.9,199.9 152.4,201.4 152.9,201.6 153.4,199.3 153.9,201.0 154.4,200.3 154.9,196.8 155.4,196.7 155.9,195.9 156.4,196.8 156.9,194.9 157.4,195.5 157.9,196.0 158.4,198.6 158.9,198.1 159.4,196.5 159.9,197.2 160.4,195.0 160.9,196.3 161.4,196.6 161.9,196.5 162.4,197.3 162.9,199.3 163.4,198.2 163.9,194.1 164.4,197.4 164.9,196.8 165.4,194.7 165.9,194.0 166.4,194.8 166.9,195.2 167.4,196.0 167.9,197.2 168.4,197.9 168.9,196.0 169.4,198.2 169.9,194.5 170.4,197.4 170.9,199.4 171.4,194.6 171.9,197.9 172.4,194.9 172.9,196.5 173.4,191.3 173.9,194.9 174.4,191.9 174.9,191.4 175.4,194.2 175.9,194.8 176.4,194.2 176.9,193.6 177.4,190.4 177.9,190.4 178.4,189.3 178.9,189.9 179.4,192.4 179.9,192.7 180.4,192.2 180.9,190.4 181.4,189.8 181.9,189.7 182.4,188.7 182.9,188.3 183.4,188.7 183.9,188.2 184.4,187.0 184.9,186.0 185.4,185.8 185.9,185.9 186.4,186.0 186.9,185.2 187.4,185.3 187.9,183.4 188.4,183.7 188.9,182.2 189.4,182.6 189.9,181.1 190.4,181.1 190.9,180.2 191.4,180.0 191.9,179.0 192.4,179.0 192.9,178.2 193.4,177.0 193.9,175.7 194.4,174.7 194.9,174.0 195.4,173.1 195.9,172.5 196.4,170.6 196.9,169.4 197.4,167.8 197.9,166.0 198.4,164.6 198.9,162.1 199.4,160.1 199.9,157.8 200.4,155.6 200.9,152.8 201.4,150.1 201.9,147.2 202.4,144.3 202.9,140.8 203.4,137.9 203.9,135.7 204.4,135.3 204.9,136.4 205.4,137.9 205.9,139.3 206.4,141.0 206.9,142.8 207.4,144.3 207.9,145.5 208.4,146.9 208.9,148.3 209.4,148.4 209.9,147.8 210.4,146.6 210.9,144.6 211.4,141.9 211.9,138.8 212.4,135.5 212.9,132.1 213.4,127.9 213.9,123.4 214.4,118.6 214.9,113.9 215.4,110.8 215.9,110.3 216.4,112.6 216.9,116.4 217.4,120.1 217.9,123.3 218.4,125.9 218.9,127.7 219.4,129.2 219.9,130.0 220.4,130.7 220.9,131.0 221.4,131.0 221.9,130.8 222.4,130.5 222.9,130.0 223.4,129.5 223.9,128.7 224.4,127.8 224.9,126.3 225.4,124.8 225.9,122.9 226.4,120.7 226.9,118.3 227.4,115.6 227.9,113.3 228.4,111.7 228.9,111.6 229.4,112.9 229.9,115.0 230.4,117.7 230.9,120.4 231.4,123.0 231.9,125.0 232.4,126.8 232.9,128.5 233.4,129.7 233.9,130.7 234.4,131.3 234.9,132.0 235.4,132.2 235.9,132.2 236.4,131.7 236.9,128.0 237.4,111.5 237.9,87.5 238.4,67.5 238.9,54.4 239.4,49.0 239.9,51.2 240.4,61.2 240.9,78.5 241.4,101.4 241.9,120.8 242.4,127.0 242.9,127.3 243.4,127.0 243.9,126.6 244.4,126.2 244.9,125.6 245.4,125.0 245.9,124.2 246.4,123.2 246.9,122.2 247.4,121.0 247.9,119.4 248.4,117.7 248.9,115.8 249.4,113.6 249.9,111.3 250.4,108.9 250.9,107.0 251.4,105.6 251.9,105.3 252.4,106.1 252.9,107.7 253.4,109.6 253.9,112.1 254.4,114.7 254.9,116.7 255.4,118.6 255.9,120.5 256.4,121.9 256.9,123.1 257.4,123.8 257.9,124.6 258.4,125.4 258.9,125.9 259.4,126.1 259.9,125.8 260.4,125.6 260.9,124.6 261.4,123.1 261.9,121.6 262.4,120.3 262.9,119.7 263.4,119.6 263.9,121.0 264.4,122.6 264.9,124.8 265.4,126.7 265.9,127.7 266.4,128.8 266.9,130.3 267.4,130.5 267.9,131.7 268.4,132.0 268.9,131.8 269.4,132.1 269.9,132.6 270.4,132.3 270.9,132.3 271.4,131.8 271.9,131.3 272.4,130.2 272.9,128.3 273.4,125.2 273.9,121.6 274.4,117.7 274.9,115.0 275.4,113.1 275.9,114.1 276.4,117.4 276.9,121.7 277.4,125.4 277.9,128.4 278.4,130.5 278.9,131.2 279.4,132.5 279.9,132.3 280.4,132.8 280.9,132.9 281.4,134.5 281.9,134.9 282.4,135.7 282.9,136.9 283.4,137.0 283.9,137.5 284.4,137.4 284.9,138.0 285.4,138.7 285.9,138.5 286.4,138.6 286.9,138.8 287.4,138.9 287.9,139.2 288.4,139.1 288.9,139.7 289.4,138.5 289.9,139.5 290.4,138.1 290.9,137.9 291.4,137.7 291.9,135.8 292.4,134.1 292.9,133.6 293.4,131.7 293.9,132.4 294.4,132.6 294.9,135.2 295.4,136.3 295.9,139.0 296.4,140.1 296.9,140.7 297.4,142.5 297.9,142.2 298.4,143.4 298.9,144.5 299.4,144.0 299.9,145.5 300.4,145.6 300.9,145.6 301.4,146.2 301.9,147.1 302.4,147.9 302.9,147.6 303.4,148.3 303.9,148.4 304.4,148.8 304.9,149.4 305.4,150.1 305.9,149.6 306.4,150.7 306.9,150.1 307.4,150.7 307.9,150.6 308.4,151.0 308.9,151.8 309.4,151.6 309.9,152.7 310.4,152.8 310.9,153.7 311.4,153.7 311.4,159.2 310.9,158.6 310.4,158.4 309.9,157.7 309.4,156.5 308.9,155.6 308.4,155.0 307.9,154.8 307.4,155.1 306.9,155.6 306.4,155.1 305.9,154.3 305.4,153.5 304.9,153.0 304.4,152.6 303.9,151.4 303.4,151.7 302.9,151.5 302.4,150.5 301.9,151.9 301.4,150.6 300.9,149.6 300.4,149.2 299.9,148.6 299.4,147.6 298.9,148.4 298.4,146.6 297.9,147.2 297.4,146.2 296.9,144.7 296.4,143.9 295.9,141.5 295.4,140.2 294.9,138.3 294.4,135.8 293.9,134.6 293.4,135.7 292.9,137.1 292.4,138.3 291.9,139.2 291.4,140.4 290.9,141.6 290.4,141.7 289.9,141.8 289.4,141.8 288.9,142.5 288.4,142.8 287.9,143.2 287.4,142.8 286.9,141.7 286.4,141.9 285.9,141.0 285.4,141.6 284.9,140.8 284.4,140.1 283.9,140.3 283.4,139.8 282.9,139.7 282.4,138.7 281.9,137.7 281.4,136.9 280.9,135.6 280.4,135.2 279.9,135.2 279.4,134.6 278.9,133.9 278.4,132.6 277.9,130.6 277.4,127.9 276.9,123.7 276.4,120.1 275.9,116.8 275.4,116.1 274.9,116.7 274.4,120.1 273.9,123.3 273.4,127.0 272.9,129.8 272.4,132.4 271.9,133.3 271.4,133.7 270.9,135.1 270.4,134.7 269.9,134.9 269.4,134.5 268.9,134.3 268.4,134.1 267.9,133.3 267.4,132.4 266.9,132.0 266.4,131.2 265.9,129.8 265.4,127.8 264.9,126.3 264.4,124.3 263.9,122.6 263.4,121.1 262.9,120.8 262.4,122.0 261.9,123.0 261.4,125.2 260.9,126.1 260.4,126.9 259.9,127.3 259.4,127.4 258.9,127.0 258.4,126.5 257.9,126.0 257.4,125.1 256.9,124.4 256.4,122.9 255.9,121.7 255.4,120.1 254.9,117.9 254.4,115.8 253.9,113.3 253.4,110.9 252.9,108.7 252.4,106.9 251.9,106.2 251.4,106.6 250.9,107.8 250.4,109.9 249.9,112.1 249.4,114.5 248.9,116.5 248.4,118.5 247.9,120.4 247.4,122.1 246.9,123.1 246.4,124.2 245.9,125.3 245.4,126.0 244.9,126.4 244.4,127.1 243.9,127.6 243.4,127.7 242.9,128.1 242.4,127.7 241.9,121.6 241.4,101.9 240.9,79.1 240.4,61.7 239.9,51.8 239.4,49.4 238.9,54.9 238.4,68.0 237.9,88.2 237.4,112.2 236.9,128.8 236.4,132.5 235.9,133.2 235.4,133.2 234.9,132.8 234.4,132.3 233.9,131.6 233.4,130.6 232.9,129.4 232.4,127.8 231.9,125.9 231.4,123.8 230.9,121.2 230.4,118.5 229.9,115.7 229.4,113.5 228.9,112.2 228.4,112.5 227.9,114.0 227.4,116.3 226.9,118.9 226.4,121.5 225.9,123.8 225.4,125.7 224.9,127.3 224.4,128.4 223.9,129.6 223.4,130.3 222.9,131.0 222.4,131.5 221.9,131.7 221.4,131.9 220.9,132.0 220.4,131.7 219.9,131.0 219.4,130.2 218.9,128.8 218.4,126.6 217.9,124.2 217.4,121.1 216.9,117.3 216.4,113.4 215.9,110.9 215.4,111.4 214.9,114.5 214.4,119.3 213.9,124.2 213.4,128.8 212.9,132.9 212.4,136.7 211.9,140.3 211.4,142.8 210.9,145.5 210.4,147.8 209.9,149.2 209.4,149.4 208.9,149.1 208.4,148.3 207.9,146.7 207.4,145.3 206.9,143.8 206.4,142.1 205.9,140.5 205.4,139.0 204.9,137.4 204.4,136.3 203.9,136.5 203.4,138.7 202.9,142.0 202.4,145.5 201.9,148.6 201.4,151.8 200.9,154.7 200.4,156.8 199.9,159.7 199.4,161.8 198.9,164.6 198.4,166.1 197.9,167.9 197.4,170.2 196.9,171.7 196.4,173.4 195.9,174.5 195.4,175.6 194.9,176.9 194.4,178.2 193.9,178.2 193.4,179.8 192.9,180.8 192.4,181.0 191.9,182.2 191.4,183.3 190.9,183.7 190.4,184.2 189.9,184.3 189.4,185.3 188.9,185.7 188.4,186.5 187.9,186.7 187.4,187.6 186.9,188.6 186.4,188.2 185.9,188.7 185.4,189.7 184.9,191.1 184.4,190.8 183.9,191.6 183.4,192.9 182.9,191.8 182.4,192.8 181.9,192.9 181.4,194.3 180.9,195.4 180.4,195.5 179.9,196.4 179.4,197.1 178.9,199.7 178.4,201.5 177.9,198.5 177.4,198.4 176.9,203.5 176.4,202.5 175.9,203.7 175.4,202.3 174.9,201.8 174.4,201.4 173.9,204.7 173.4,201.2 172.9,205.9 172.4,205.9 171.9,206.1 171.4,207.6 170.9,206.2 170.4,207.9 169.9,206.6 169.4,207.6 168.9,210.0 168.4,210.2 167.9,206.1 167.4,206.8 166.9,206.6 166.4,210.4 165.9,205.0 165.4,207.0 164.9,206.4 164.4,203.8 163.9,209.7 163.4,212.6 162.9,207.5 162.4,209.0 161.9,210.3 161.4,209.7 160.9,206.3 160.4,209.7 159.9,208.6 159.4,213.8 158.9,205.9 158.4,209.3 157.9,208.7 157.4,207.6 156.9,206.2 156.4,204.7 155.9,206.2 155.4,206.5 154.9,213.5 154.4,208.7 153.9,211.6 153.4,213.2 152.9,211.8 152.4,210.7 151.9,213.7 151.4,212.1 150.9,211.6 150.4,210.8 149.9,207.4 149.4,212.7 148.9,210.9 148.4,214.7 147.9,209.1 147.4,214.3 146.9,214.2 146.4,213.0 145.9,212.7 145.4,213.0 144.9,209.7 144.4,215.3 143.9,216.6 143.4,215.8 142.9,215.7 142.4,216.1 141.9,219.9 141.4,214.8 140.9,214.1 140.4,219.1 139.9,216.3 139.4,212.6 138.9,216.1 138.4,216.8 137.9,219.1 137.4,219.3 136.9,220.5 136.4,216.9 135.9,217.6 135.4,218.3 134.9,218.2 134.4,218.3 133.9,220.8 133.4,219.6 132.9,215.6 132.4,217.9 131.9,218.1 131.4,222.2 130.9,220.8 130.4,219.0 129.9,226.3 129.4,222.4 128.9,222.8 128.4,222.7 127.9,221.1 127.4,220.9 126.9,217.9 126.4,218.7 125.9,219.1 125.4,219.3 124.9,224.4 124.4,224.9 123.9,227.4 123.4,223.3 122.9,225.3 122.4,229.2 121.9,224.0 121.4,225.7 120.9,229.1 120.4,228.9 119.9,228.8 119.4,228.1 118.9,223.9 118.4,225.1 117.9,227.5 117.4,224.1 116.9,233.6 116.4,224.2 115.9,229.1 115.4,225.4 114.9,222.8 114.4,228.9 113.9,233.0 113.4,231.8 112.9,233.4 112.4,231.7 111.9,232.2 111.4,235.8 110.9,232.9 110.4,240.5 109.9,233.1 109.4,239.0 108.9,236.8 108.4,237.2 107.9,238.1 107.4,234.4 106.9,237.5 106.4,238.5 105.9,244.8 105.4,237.0 104.9,237.4 104.4,235.7 103.9,241.5 103.4,243.7 102.9,241.2 102.4,236.0 101.9,237.1 101.4,240.8 100.9,241.4 100.4,240.6 99.9,240.6 99.4,247.3 98.9,241.9 98.4,241.4 97.9,240.7 97.4,240.6 96.9,242.5 96.4,244.1 95.9,242.3 95.4,241.1 94.9,241.0 94.4,244.9 93.9,248.5 93.4,250.7 92.9,240.2 92.4,244.0 91.9,243.2 91.4,246.7 90.9,242.4 90.4,251.4 89.9,248.2 89.4,241.2 88.9,243.4 88.4,247.5 87.9,249.1 87.4,243.4 86.9,245.3 86.4,244.1 85.9,245.9 85.4,253.5 84.9,249.9 84.4,252.8 83.9,242.6 83.4,249.6 82.9,243.0 82.4,245.1 81.9,248.1 81.4,246.1 80.9,251.1 80.4,246.1 79.9,255.7 79.4,244.4 78.9,244.1 78.4,247.7 77.9,252.7 77.4,246.7 76.9,247.3 76.4,247.0 75.9,247.0 75.4,243.9 74.9,239.9 74.4,239.8 73.9,239.8 73.4,237.4 72.9,248.9 72.4,239.1 71.9,241.5 71.4,242.8 70.9,242.5 70.4,240.6 69.9,240.3 69.4,240.5 68.9,243.7 68.4,242.3 67.9,245.8 67.4,244.0 66.9,246.1 66.4,241.6 65.9,240.1 65.4,241.9 64.9,239.2 64.4,237.1 63.9,240.4 63.4,240.5 62.9,236.8 62.4,240.0 61.9,241.6 61.4,236.8 60.9,234.2 60.4,234.5 59.9,233.8 59.4,237.9 58.9,235.9 58.4,235.2 57.9,236.6 57.4,235.2 56.9,234.6 56.4,233.9 55.9,235.7 55.4,235.6 54.9,233.3 54.4,232.9 53.9,234.2 53.4,234.8 52.9,235.7 52.4,234.7 51.9,235.1 51.4,233.9 50.9,233.0 50.4,234.3 49.9,232.2 49.4,233.2 48.9,234.0 48.4,233.6 47.9,234.5 47.4,233.6 46.9,232.1 46.4,233.0 45.9,235.5 45.4,233.7 44.9,230.9 44.4,230.4 43.9,232.6 43.4,232.5 42.9,234.7 42.4,230.8 41.9,233.2 41.4,231.2 40.9,233.1 40.4,233.6" fill="#8000ff" stroke="#8000ff" stroke-width="1.0" stroke-linejoin="round"/>
<polygon points="40.4,221.0 40.9,221.1 41.4,221.2 41.9,219.1 42.4,220.0 42.9,220.9 43.4,219.3 43.9,222.8 44.4,221.7 44.9,219.8 45.4,219.8 45.9,220.8 46.4,223.4 46.9,222.2 47.4,224.6 47.9,224.8 48.4,221.8 48.9,224.6 49.4,225.0 49.9,225.3 50.4,222.7 50.9,223.3 51.4,224.6 51.9,223.7 52.4,221.7 52.9,225.0 53.4,225.1 53.9,223.1 54.4,225.3 54.9,223.0 55.4,224.1 55.9,225.3 56.4,223.4 56.9,223.2 57.4,226.0 57.9,226.4 58.4,223.5 58.9,226.7 59.4,226.5 59.9,225.2 60.4,225.1 60.9,225.7 61.4,222.3 61.9,226.3 62.4,223.3 62.9,225.2 63.4,226.7 63.9,225.7 64.4,223.3 64.9,223.7 65.4,226.2 65.9,226.0 66.4,222.8 66.9,223.0 67.4,224.1 67.9,221.1 68.4,225.7 68.9,226.3 69.4,223.8 69.9,225.8 70.4,225.2 70.9,222.4 71.4,219.3 71.9,220.1 72.4,220.3 72.9,223.2 73.4,222.4 73.9,226.8 74.4,226.2 74.9,226.2 75.4,222.6 75.9,220.0 76.4,222.5 76.9,225.7 77.4,223.6 77.9,226.4 78.4,223.8 78.9,225.1 79.4,227.1 79.9,225.3 80.4,226.8 80.9,225.1 81.4,224.8 81.9,224.6 82.4,224.1 82.9,221.2 83.4,221.4 83.9,223.4 84.4,223.9 84.9,225.2 85.4,223.5 85.9,226.5 86.4,226.4 86.9,222.2 87.4,224.1 87.9,218.6 88.4,219.8 88.9,219.8 89.4,217.1 89.9,223.9 90.4,223.0 90.9,222.5 91.4,219.8 91.9,224.4 92.4,220.4 92.9,218.2 93.4,222.4 93.9,217.7 94.4,218.5 94.9,221.3 95.4,219.4 95.9,217.1 96.4,219.8 96.9,219.5 97.4,218.0 97.9,220.9 98.4,213.9 98.9,218.7 99.4,212.1 99.9,212.8 100.4,214.3 100.9,215.8 101.4,217.6 101.9,219.5 102.4,217.2 102.9,215.4 103.4,217.4 103.9,212.7 104.4,214.8 104.9,213.1 105.4,215.1 105.9,214.3 106.4,212.5 106.9,214.4 107.4,216.7 107.9,211.9 108.4,210.4 108.9,210.0 109.4,208.1 109.9,210.4 110.4,208.4 110.9,210.4 111.4,207.7 111.9,208.6 112.4,210.1 112.9,206.7 113.4,206.7 113.9,208.9 114.4,208.7 114.9,208.6 115.4,205.0 115.9,208.4 116.4,207.3 116.9,203.9 117.4,206.8 117.9,206.0 118.4,204.5 118.9,204.0 119.4,202.2 119.9,203.4 120.4,200.0 120.9,205.7 121.4,204.2 121.9,203.3 122.4,198.9 122.9,198.8 123.4,201.5 123.9,200.9 124.4,201.1 124.9,198.4 125.4,197.1 125.9,196.1 126.4,196.9 126.9,197.1 127.4,195.7 127.9,197.5 128.4,195.0 128.9,194.2 129.4,194.6 129.9,196.5 130.4,197.5 130.9,194.0 131.4,194.2 131.9,194.9 132.4,195.1 132.9,196.4 133.4,194.5 133.9,195.1 134.4,196.0 134.9,194.3 135.4,196.1 135.9,193.9 136.4,191.8 136.9,192.5 137.4,191.9 137.9,192.6 138.4,190.7 138.9,193.9 139.4,191.3 139.9,192.2 140.4,192.9 140.9,194.0 141.4,191.6 141.9,193.6 142.4,191.3 142.9,191.3 143.4,190.4 143.9,187.6 144.4,191.2 144.9,189.2 145.4,190.4 145.9,191.2 146.4,190.8 146.9,188.0 147.4,190.8 147.9,187.8 148.4,189.8 148.9,188.5 149.4,188.5 149.9,190.3 150.4,188.4 150.9,189.6 151.4,190.5 151.9,190.6 152.4,187.4 152.9,187.7 153.4,188.7 153.9,188.8 154.4,186.4 154.9,188.6 155.4,184.7 155.9,189.8 156.4,189.9 156.9,190.0 157.4,190.1 157.9,191.5 158.4,189.2 158.9,187.1 159.4,187.2 159.9,189.3 160.4,186.6 160.9,187.3 161.4,184.6 161.9,186.9 162.4,186.9 162.9,185.1 163.4,186.1 163.9,187.0 164.4,185.9 164.9,185.5 165.4,186.9 165.9,185.3 166.4,185.1 166.9,184.7 167.4,184.8 167.9,185.6 168.4,184.0 168.9,185.9 169.4,186.0 169.9,184.8 170.4,186.2 170.9,185.8 171.4,184.2 171.9,183.1 172.4,186.7 172.9,184.8 173.4,186.1 173.9,184.6 174.4,184.6 174.9,183.7 175.4,184.8 175.9,182.9 176.4,183.0 176.9,182.2 177.4,181.4 177.9,180.8 178.4,181.4 178.9,180.3 179.4,184.0 179.9,183.4 180.4,183.7 180.9,183.1 181.4,182.1 181.9,181.6 182.4,182.0 182.9,181.8 183.4,181.4 183.9,180.4 184.4,180.6 184.9,180.4 185.4,179.6 185.9,179.5 186.4,179.3 186.9,178.4 187.4,178.3 187.9,178.3 188.4,177.0 188.9,177.0 189.4,176.7 189.9,175.3 190.4,175.7 190.9,174.8 191.4,174.1 191.9,174.1 192.4,172.9 192.9,172.3 193.4,172.0 193.9,170.9 194.4,170.8 194.9,169.0 195.4,168.5 195.9,167.7 196.4,166.2 196.9,164.8 197.4,163.5 197.9,162.0 198.4,160.4 198.9,158.0 199.4,155.8 199.9,153.7 200.4,151.4 200.9,148.8 201.4,146.1 201.9,143.0 202.4,140.1 202.9,136.9 203.4,134.0 203.9,132.1 204.4,131.7 204.9,132.4 205.4,133.5 205.9,135.0 206.4,136.6 206.9,138.4 207.4,140.1 207.9,142.0 208.4,143.5 208.9,144.5 209.4,145.0 209.9,144.6 210.4,143.4 210.9,141.8 211.4,138.9 211.9,136.2 212.4,132.7 212.9,128.9 213.4,125.0 213.9,120.5 214.4,115.8 214.9,111.6 215.4,108.4 215.9,108.0 216.4,110.3 216.9,113.8 217.4,117.5 217.9,120.7 218.4,123.3 218.9,125.3 219.4,127.0 219.9,127.9 220.4,128.7 220.9,128.9 221.4,128.8 221.9,128.7 222.4,128.3 222.9,127.9 223.4,127.2 223.9,126.3 224.4,125.2 224.9,124.0 225.4,122.4 225.9,120.5 226.4,118.5 226.9,116.0 227.4,113.5 227.9,111.4 228.4,110.1 228.9,109.9 229.4,111.1 229.9,113.1 230.4,115.7 230.9,118.1 231.4,120.6 231.9,122.6 232.4,124.4 232.9,125.9 233.4,127.2 233.9,128.2 234.4,129.0 234.9,129.6 235.4,129.8 235.9,129.9 236.4,129.6 236.9,125.9 237.4,110.8 237.9,88.1 238.4,68.5 238.9,55.4 239.4,49.3 239.9,50.4 240.4,58.7 240.9,73.8 241.4,94.7 241.9,115.1 242.4,124.1 242.9,125.2 243.4,124.9 243.9,124.4 244.4,123.8 244.9,123.3 245.4,122.7 245.9,121.8 246.4,121.0 246.9,119.8 247.4,118.8 247.9,117.2 248.4,115.6 248.9,113.6 249.4,111.7 249.9,109.6 250.4,107.3 250.9,105.5 251.4,104.4 251.9,104.1 252.4,104.7 252.9,106.2 253.4,108.3 253.9,110.8 254.4,113.0 254.9,114.9 255.4,116.8 255.9,118.2 256.4,119.7 256.9,120.9 257.4,121.6 257.9,122.6 258.4,123.3 258.9,123.5 259.4,123.7 259.9,123.8 260.4,123.2 260.9,122.9 261.4,122.0 261.9,120.4 262.4,119.5 262.9,118.6 263.4,118.7 263.9,119.8 264.4,121.3 264.9,123.3 265.4,124.6 265.9,126.3 266.4,127.2 266.9,127.9 267.4,128.8 267.9,129.2 268.4,130.0 268.9,130.8 269.4,130.9 269.9,130.8 270.4,131.4 270.9,130.8 271.4,130.5 271.9,129.1 272.4,128.3 272.9,126.3 273.4,123.7 273.9,120.2 274.4,116.3 274.9,113.3 275.4,111.8 275.9,113.2 276.4,116.5 276.9,119.6 277.4,123.1 277.9,126.0 278.4,127.9 278.9,128.9 279.4,129.1 279.9,129.8 280.4,129.8 280.9,130.3 281.4,131.4 281.9,132.2 282.4,133.4 282.9,134.3 283.4,134.7 283.9,135.3 284.4,136.1 284.9,135.5 285.4,136.0 285.9,136.2 286.4,136.1 286.9,136.3 287.4,136.4 287.9,137.5 288.4,136.5 288.9,137.1 289.4,137.2 289.9,137.1 290.4,137.5 290.9,137.1 291.4,136.0 291.9,135.0 292.4,133.1 292.9,132.3 293.4,130.7 293.9,130.2 294.4,131.8 294.9,132.6 295.4,134.8 295.9,136.6 296.4,138.6 296.9,139.3 297.4,140.3 297.9,140.9 298.4,141.6 298.9,141.9 299.4,142.4 299.9,143.1 300.4,144.0 300.9,144.1 301.4,145.4 301.9,145.2 302.4,145.8 302.9,145.6 303.4,145.3 303.9,146.6 304.4,145.5 304.9,147.3 305.4,147.1 305.9,148.2 306.4,148.8 306.9,148.4 307.4,149.3 307.9,149.8 308.4,148.7 308.9,150.1 309.4,148.9 309.9,149.3 310.4,150.1 310.9,151.0 311.4,150.0 311.4,157.4 310.9,155.7 310.4,153.5 309.9,154.5 309.4,154.0 308.9,153.6 308.4,154.4 307.9,154.3 307.4,153.6 306.9,153.2 306.4,152.8 305.9,152.1 305.4,151.2 304.9,151.4 304.4,150.4 303.9,151.5 303.4,151.2 302.9,150.6 302.4,150.2 301.9,149.0 301.4,148.8 300.9,149.2 300.4,148.1 299.9,147.2 299.4,147.8 298.9,146.4 298.4,146.0 297.9,144.8 297.4,144.7 296.9,143.8 296.4,142.0 295.9,141.0 295.4,137.9 294.9,136.1 294.4,134.9 293.9,134.7 293.4,133.8 292.9,135.2 292.4,137.9 291.9,139.1 291.4,139.1 290.9,141.0 290.4,140.5 289.9,141.2 289.4,140.6 288.9,140.2 288.4,140.9 287.9,140.3 287.4,139.9 286.9,140.6 286.4,139.0 285.9,140.1 285.4,139.5 284.9,139.0 284.4,138.9 283.9,138.2 283.4,138.2 282.9,137.7 282.4,136.8 281.9,135.3 281.4,135.1 280.9,132.5 280.4,132.4 279.9,131.7 279.4,132.0 278.9,131.4 278.4,130.8 277.9,129.2 277.4,126.3 276.9,122.5 276.4,118.9 275.9,115.8 275.4,114.3 274.9,115.2 274.4,118.9 273.9,122.3 273.4,126.1 272.9,128.8 272.4,130.0 271.9,131.3 271.4,132.4 270.9,133.2 270.4,133.2 269.9,133.0 269.4,133.0 268.9,132.8 268.4,132.1 267.9,131.6 267.4,131.1 266.9,129.9 266.4,129.5 265.9,127.8 265.4,126.6 264.9,124.7 264.4,123.5 263.9,121.6 263.4,120.1 262.9,120.1 262.4,121.4 261.9,122.2 261.4,123.5 260.9,124.5 260.4,124.8 259.9,125.2 259.4,125.2 258.9,124.7 258.4,124.5 257.9,123.7 257.4,123.0 256.9,122.1 256.4,121.3 255.9,119.5 255.4,118.2 254.9,116.4 254.4,114.0 253.9,112.0 253.4,109.3 252.9,107.2 252.4,105.6 251.9,105.0 251.4,105.3 250.9,106.5 250.4,108.3 249.9,110.6 249.4,112.5 248.9,114.7 248.4,116.4 247.9,118.2 247.4,119.5 246.9,120.8 246.4,121.8 245.9,123.1 245.4,123.6 244.9,124.4 244.4,124.7 243.9,125.5 243.4,125.7 242.9,126.1 242.4,125.0 241.9,116.0 241.4,95.3 240.9,74.4 240.4,59.2 239.9,50.9 239.4,49.8 238.9,55.9 238.4,69.0 237.9,88.6 237.4,111.5 236.9,126.8 236.4,130.4 235.9,130.8 235.4,130.7 234.9,130.5 234.4,130.0 233.9,129.1 233.4,128.2 232.9,127.0 232.4,125.4 231.9,123.3 231.4,121.5 230.9,118.8 230.4,116.4 229.9,113.8 229.4,111.9 228.9,110.6 228.4,110.8 227.9,112.2 227.4,114.2 226.9,116.7 226.4,119.2 225.9,121.3 225.4,123.3 224.9,124.7 224.4,126.0 223.9,127.2 223.4,128.0 222.9,128.6 222.4,129.3 221.9,129.6 221.4,129.8 220.9,129.7 220.4,129.5 219.9,128.7 219.4,127.9 218.9,126.3 218.4,124.2 217.9,121.7 217.4,118.1 216.9,114.5 216.4,110.9 215.9,108.8 215.4,109.1 214.9,112.2 214.4,116.7 213.9,121.3 213.4,126.0 212.9,129.9 212.4,133.8 211.9,137.1 211.4,140.2 210.9,142.7 210.4,144.7 209.9,146.0 209.4,146.3 208.9,146.0 208.4,144.8 207.9,143.1 207.4,141.5 206.9,139.7 206.4,137.7 205.9,135.9 205.4,134.5 204.9,133.2 204.4,132.6 203.9,132.9 203.4,135.1 202.9,138.1 202.4,141.4 201.9,144.3 201.4,147.5 200.9,149.8 200.4,152.7 199.9,155.4 199.4,157.4 198.9,160.1 198.4,162.1 197.9,163.8 197.4,165.2 196.9,167.0 196.4,168.8 195.9,169.5 195.4,171.3 194.9,171.3 194.4,172.7 193.9,173.3 193.4,174.2 192.9,174.6 192.4,175.6 191.9,176.1 191.4,176.8 190.9,177.4 190.4,178.4 189.9,178.7 189.4,178.8 188.9,180.3 188.4,180.9 187.9,181.1 187.4,181.7 186.9,182.6 186.4,182.5 185.9,182.7 185.4,182.6 184.9,183.6 184.4,182.9 183.9,184.1 183.4,184.8 182.9,184.5 182.4,185.6 181.9,185.0 181.4,186.4 180.9,186.7 180.4,186.8 179.9,186.8 179.4,187.5 178.9,190.8 178.4,187.9 177.9,188.5 177.4,190.5 176.9,191.4 176.4,189.8 175.9,191.4 175.4,191.2 174.9,191.2 174.4,194.6 173.9,192.0 173.4,192.5 172.9,191.3 172.4,194.0 171.9,192.8 171.4,193.6 170.9,192.0 170.4,193.0 169.9,193.7 169.4,192.7 168.9,192.8 168.4,193.7 167.9,194.8 167.4,196.5 166.9,193.4 166.4,194.8 165.9,193.7 165.4,195.8 164.9,200.8 164.4,192.6 163.9,194.9 163.4,194.4 162.9,194.0 162.4,195.0 161.9,193.9 161.4,195.3 160.9,196.7 160.4,195.4 159.9,197.0 159.4,197.4 158.9,196.4 158.4,198.2 157.9,200.8 157.4,198.9 156.9,196.7 156.4,197.6 155.9,196.5 155.4,196.2 154.9,195.8 154.4,196.5 153.9,196.8 153.4,198.5 152.9,199.4 152.4,196.3 151.9,201.4 151.4,199.2 150.9,199.4 150.4,199.5 149.9,199.1 149.4,198.1 148.9,196.7 148.4,201.9 147.9,196.8 147.4,199.0 146.9,200.4 146.4,202.2 145.9,200.8 145.4,200.7 144.9,198.1 144.4,199.2 143.9,197.3 143.4,198.9 142.9,200.1 142.4,202.5 141.9,201.4 141.4,201.3 140.9,204.7 140.4,203.0 139.9,203.6 139.4,203.0 138.9,204.8 138.4,206.8 137.9,202.8 137.4,203.6 136.9,202.4 136.4,201.6 135.9,205.0 135.4,208.2 134.9,204.9 134.4,210.7 133.9,211.6 133.4,208.6 132.9,208.9 132.4,209.4 131.9,208.0 131.4,207.8 130.9,205.8 130.4,207.0 129.9,205.0 129.4,205.3 128.9,208.0 128.4,206.1 127.9,207.6 127.4,204.6 126.9,211.1 126.4,210.2 125.9,207.6 125.4,207.8 124.9,213.2 124.4,208.3 123.9,208.2 123.4,208.8 122.9,212.2 122.4,215.8 121.9,214.5 121.4,215.6 120.9,215.7 120.4,215.4 119.9,214.7 119.4,212.7 118.9,214.1 118.4,216.4 117.9,214.6 117.4,218.9 116.9,220.3 116.4,221.6 115.9,221.1 115.4,217.1 114.9,217.6 114.4,221.5 113.9,218.3 113.4,218.9 112.9,219.4 112.4,222.4 111.9,219.2 111.4,219.2 110.9,219.0 110.4,219.4 109.9,223.5 109.4,218.8 108.9,223.7 108.4,223.4 107.9,223.8 107.4,227.1 106.9,226.6 106.4,228.7 105.9,229.0 105.4,227.9 104.9,225.0 104.4,229.0 103.9,228.8 103.4,228.6 102.9,227.9 102.4,228.9 101.9,235.3 101.4,232.5 100.9,234.3 100.4,229.3 99.9,230.2 99.4,226.8 98.9,228.2 98.4,232.4 97.9,234.0 97.4,234.0 96.9,233.9 96.4,239.2 95.9,240.5 95.4,237.9 94.9,235.9 94.4,232.2 93.9,232.2 93.4,233.6 92.9,239.9 92.4,240.0 91.9,236.3 91.4,239.0 90.9,235.6 90.4,241.1 89.9,237.4 89.4,236.6 88.9,236.9 88.4,237.3 87.9,244.4 87.4,238.8 86.9,243.7 86.4,239.4 85.9,242.9 85.4,244.5 84.9,236.3 84.4,240.2 83.9,244.2 83.4,248.3 82.9,239.3 82.4,243.9 81.9,240.7 81.4,243.3 80.9,238.9 80.4,244.9 79.9,238.4 79.4,243.2 78.9,245.6 78.4,241.8 77.9,241.0 77.4,245.0 76.9,237.7 76.4,238.8 75.9,238.4 75.4,241.7 74.9,243.7 74.4,239.7 73.9,245.6 73.4,241.0 72.9,240.5 72.4,239.8 71.9,236.7 71.4,235.8 70.9,237.4 70.4,236.7 69.9,242.5 69.4,238.5 68.9,241.4 68.4,234.6 67.9,237.1 67.4,236.9 66.9,237.9 66.4,237.8 65.9,238.6 65.4,239.4 64.9,235.3 64.4,234.7 63.9,235.7 63.4,238.2 62.9,236.3 62.4,238.5 61.9,235.5 61.4,236.3 60.9,235.4 60.4,236.3 59.9,235.0 59.4,235.4 58.9,233.8 58.4,232.7 57.9,232.0 57.4,233.7 56.9,231.8 56.4,234.3 55.9,232.0 55.4,231.5 54.9,229.7 54.4,234.0 53.9,233.0 53.4,231.9 52.9,234.1 52.4,232.4 51.9,232.0 51.4,235.0 50.9,230.6 50.4,230.8 49.9,233.3 49.4,231.3 48.9,231.8 48.4,232.8 47.9,232.5 47.4,230.3 46.9,229.2 46.4,234.1 45.9,229.3 45.4,231.2 44.9,228.8 44.4,229.9 43.9,230.3 43.4,228.2 42.9,228.0 42.4,228.8 41.9,228.4 41.4,228.2 40.9,231.8 40.4,227.2" fill="#6478ff" stroke="#6478ff" stroke-width="1.0" stroke-linejoin="round"/>
<polygon points="40.4,216.7 40.9,217.7 41.4,217.5 41.9,218.4 42.4,218.1 42.9,216.1 43.4,217.3 43.9,218.5 44.4,217.4 44.9,220.1 45.4,219.9 45.9,219.8 46.4,219.4 46.9,222.2 47.4,219.6 47.9,221.4 48.4,219.6 48.9,220.0 49.4,220.8 49.9,220.9 50.4,220.1 50.9,219.1 51.4,220.9 51.9,219.7 52.4,221.7 52.9,221.7 53.4,222.2 53.9,218.5 54.4,220.6 54.9,217.7 55.4,220.8 55.9,219.0 56.4,219.8 56.9,219.2 57.4,219.1 57.9,221.6 58.4,219.8 58.9,223.2 59.4,222.6 59.9,220.2 60.4,222.3 60.9,220.7 61.4,220.7 61.9,223.0 62.4,224.7 62.9,224.7 63.4,225.6 63.9,222.5 64.4,221.3 64.9,224.1 65.4,221.3 65.9,219.2 66.4,219.7 66.9,221.5 67.4,218.9 67.9,221.6 68.4,221.2 68.9,220.5 69.4,221.5 69.9,220.7 70.4,220.5 70.9,224.2 71.4,220.5 71.9,219.1 72.4,218.1 72.9,220.2 73.4,222.2 73.9,217.4 74.4,220.4 74.9,219.0 75.4,221.1 75.9,219.8 76.4,219.5 76.9,216.4 77.4,216.5 77.9,219.5 78.4,218.3 78.9,219.3 79.4,220.2 79.9,220.5 80.4,222.3 80.9,220.4 81.4,219.7 81.9,215.3 82.4,219.9 82.9,223.2 83.4,217.9 83.9,221.2 84.4,218.5 84.9,220.2 85.4,215.5 85.9,219.3 86.4,213.7 86.9,219.0 87.4,212.8 87.9,213.8 88.4,216.0 88.9,217.7 89.4,218.6 89.9,217.0 90.4,220.2 90.9,218.5 91.4,219.5 91.9,216.3 92.4,217.9 92.9,213.7 93.4,216.4 93.9,217.1 94.4,217.0 94.9,216.2 95.4,215.8 95.9,214.3 96.4,210.3 96.9,212.4 97.4,209.2 97.9,207.9 98.4,209.8 98.9,212.8 99.4,210.2 99.9,210.7 100.4,208.1 100.9,208.9 101.4,207.8 101.9,205.8 102.4,207.0 102.9,205.5 103.4,204.5 103.9,203.3 104.4,202.9 104.9,205.4 105.4,202.4 105.9,203.5 106.4,201.6 106.9,205.3 107.4,204.1 107.9,204.0 108.4,202.8 108.9,202.2 109.4,200.0 109.9,202.6 110.4,201.1 110.9,199.5 111.4,200.9 111.9,199.2 112.4,199.5 112.9,198.0 113.4,199.5 113.9,196.4 114.4,197.5 114.9,196.2 115.4,195.6 115.9,195.3 116.4,193.7 116.9,193.3 117.4,192.6 117.9,192.0 118.4,192.0 118.9,192.0 119.4,193.6 119.9,193.8 120.4,193.9 120.9,193.4 121.4,191.3 121.9,194.4 122.4,192.9 122.9,191.5 123.4,192.0 123.9,190.5 124.4,189.6 124.9,187.9 125.4,188.7 125.9,188.5 126.4,185.4 126.9,185.8 127.4,185.3 127.9,186.3 128.4,183.8 128.9,184.0 129.4,185.3 129.9,185.8 130.4,183.3 130.9,185.6 131.4,182.9 131.9,181.4 132.4,180.5 132.9,181.2 133.4,182.5 133.9,184.8 134.4,183.8 134.9,184.1 135.4,183.0 135.9,182.5 136.4,180.6 136.9,182.2 137.4,181.9 137.9,182.9 138.4,180.6 138.9,181.5 139.4,182.7 139.9,181.7 140.4,181.0 140.9,179.0 141.4,180.3 141.9,178.8 142.4,178.9 142.9,180.4 143.4,180.4 143.9,179.9 144.4,179.4 144.9,179.1 145.4,177.9 145.9,177.6 146.4,180.4 146.9,177.6 147.4,178.7 147.9,177.0 148.4,178.4 148.9,177.0 149.4,176.9 149.9,178.5 150.4,176.2 150.9,178.0 151.4,176.4 151.9,177.3 152.4,176.0 152.9,177.7 153.4,176.5 153.9,176.3 154.4,176.1 154.9,175.7 155.4,176.8 155.9,175.9 156.4,175.7 156.9,174.5 157.4,176.6 157.9,173.8 158.4,175.5 158.9,173.7 159.4,175.4 159.9,173.8 160.4,175.3 160.9,173.4 161.4,174.5 161.9,175.4 162.4,172.9 162.9,173.9 163.4,173.7 163.9,173.7 164.4,175.3 164.9,175.5 165.4,174.0 165.9,173.2 166.4,174.6 166.9,171.8 167.4,173.8 167.9,171.8 168.4,172.7 168.9,174.0 169.4,174.6 169.9,174.7 170.4,174.4 170.9,174.4 171.4,174.6 171.9,175.1 172.4,173.8 172.9,174.4 173.4,174.3 173.9,173.9 174.4,173.6 174.9,172.0 175.4,173.3 175.9,172.1 176.4,173.6 176.9,172.3 177.4,171.2 177.9,171.7 178.4,171.7 178.9,172.7 179.4,173.6 179.9,173.1 180.4,173.5 180.9,173.0 181.4,172.4 181.9,172.7 182.4,172.3 182.9,172.6 183.4,171.9 183.9,172.1 184.4,171.4 184.9,171.2 185.4,170.4 185.9,170.2 186.4,169.5 186.9,169.6 187.4,169.4 187.9,169.4 188.4,169.6 188.9,169.1 189.4,168.7 189.9,168.5 190.4,167.8 190.9,167.2 191.4,167.2 191.9,166.9 192.4,165.9 192.9,165.3 193.4,165.1 193.9,164.9 194.4,163.9 194.9,163.4 195.4,162.5 195.9,161.9 196.4,160.9 196.9,160.2 197.4,158.6 197.9,157.2 198.4,155.5 198.9,153.9 199.4,151.7 199.9,149.6 200.4,146.9 200.9,144.6 201.4,141.9 201.9,138.9 202.4,136.1 202.9,133.3 203.4,130.4 203.9,128.5 204.4,128.0 204.9,128.5 205.4,129.5 205.9,131.2 206.4,132.8 206.9,134.7 207.4,136.5 207.9,138.5 208.4,140.2 208.9,141.4 209.4,141.8 209.9,142.1 210.4,141.2 210.9,139.4 211.4,137.0 211.9,133.9 212.4,130.2 212.9,126.5 213.4,122.3 213.9,117.9 214.4,113.3 214.9,109.2 215.4,106.1 215.9,105.7 216.4,107.8 216.9,111.4 217.4,115.1 217.9,118.6 218.4,121.4 218.9,123.8 219.4,125.5 219.9,126.9 220.4,127.7 220.9,128.1 221.4,128.0 221.9,127.9 222.4,127.5 222.9,126.8 223.4,125.8 223.9,124.9 224.4,123.7 224.9,122.3 225.4,120.6 225.9,118.7 226.4,116.6 226.9,114.2 227.4,112.0 227.9,109.8 228.4,108.5 228.9,108.4 229.4,109.5 229.9,111.4 230.4,113.8 230.9,116.4 231.4,118.6 231.9,120.8 232.4,122.6 232.9,124.2 233.4,125.7 233.9,126.9 234.4,127.8 234.9,128.3 235.4,128.6 235.9,129.0 236.4,128.7 236.9,125.2 237.4,110.6 237.9,88.6 238.4,69.4 238.9,56.2 239.4,49.6 239.9,49.8 240.4,56.7 240.9,70.2 241.4,89.4 241.9,110.3 242.4,122.2 242.9,124.2 243.4,124.0 243.9,123.4 244.4,122.9 244.9,122.1 245.4,121.3 245.9,120.4 246.4,119.5 246.9,118.4 247.4,117.2 247.9,115.7 248.4,114.1 248.9,112.1 249.4,110.2 249.9,108.2 250.4,106.0 250.9,104.1 251.4,103.0 251.9,102.7 252.4,103.4 252.9,105.2 253.4,107.1 253.9,109.2 254.4,111.5 254.9,113.6 255.4,115.5 255.9,116.8 256.4,118.3 256.9,119.4 257.4,120.7 257.9,121.7 258.4,122.1 258.9,122.7 259.4,122.9 259.9,123.4 260.4,123.1 260.9,122.2 261.4,121.1 261.9,120.3 262.4,118.6 262.9,118.5 263.4,118.3 263.9,119.6 264.4,121.2 264.9,123.4 265.4,124.5 265.9,125.9 266.4,127.1 266.9,128.1 267.4,128.4 267.9,129.4 268.4,129.2 268.9,130.0 269.4,130.4 269.9,130.3 270.4,130.2 270.9,130.2 271.4,129.6 271.9,129.4 272.4,127.9 272.9,125.7 273.4,122.6 273.9,119.4 274.4,116.0 274.9,113.1 275.4,111.7 275.9,112.2 276.4,115.3 276.9,119.0 277.4,122.1 277.9,125.1 278.4,126.7 278.9,128.0 279.4,128.3 279.9,127.3 280.4,127.9 280.9,128.2 281.4,130.4 281.9,130.8 282.4,133.0 282.9,133.2 283.4,134.2 283.9,135.1 284.4,135.2 284.9,135.7 285.4,135.8 285.9,136.1 286.4,137.0 286.9,135.9 287.4,136.5 287.9,136.2 288.4,136.1 288.9,136.2 289.4,137.3 289.9,136.5 290.4,136.8 290.9,135.8 291.4,135.7 291.9,134.8 292.4,132.5 292.9,130.9 293.4,130.4 293.9,129.4 294.4,130.5 294.9,133.3 295.4,133.4 295.9,136.6 296.4,137.5 296.9,138.3 297.4,138.7 297.9,140.6 298.4,141.0 298.9,142.5 299.4,142.8 299.9,142.7 300.4,142.7 300.9,143.3 301.4,144.3 301.9,144.5 302.4,144.9 302.9,144.7 303.4,146.2 303.9,145.7 304.4,146.0 304.9,145.6 305.4,146.0 305.9,145.6 306.4,146.8 306.9,147.7 307.4,147.7 307.9,147.4 308.4,148.3 308.9,147.5 309.4,148.1 309.9,147.9 310.4,149.8 310.9,149.0 311.4,150.0 311.4,155.5 310.9,154.6 310.4,153.6 309.9,155.1 309.4,152.5 308.9,155.3 308.4,153.0 307.9,153.5 307.4,153.3 306.9,153.1 306.4,152.4 305.9,150.6 305.4,151.6 304.9,150.7 304.4,150.7 303.9,150.4 303.4,150.2 302.9,150.7 302.4,151.3 301.9,149.2 301.4,148.4 300.9,147.1 300.4,146.3 299.9,146.6 299.4,147.7 298.9,145.0 298.4,145.2 297.9,143.3 297.4,143.0 296.9,142.4 296.4,142.2 295.9,139.3 295.4,137.9 294.9,136.4 294.4,135.3 293.9,133.1 293.4,134.5 292.9,135.6 292.4,136.8 291.9,138.2 291.4,139.1 290.9,139.3 290.4,140.5 289.9,141.8 289.4,140.9 288.9,140.8 288.4,140.7 287.9,139.4 287.4,139.5 286.9,140.4 286.4,139.2 285.9,140.0 285.4,139.6 284.9,139.3 284.4,138.3 283.9,137.6 283.4,138.0 282.9,136.3 282.4,135.8 281.9,134.5 281.4,133.3 280.9,132.0 280.4,130.7 279.9,130.9 279.4,130.8 278.9,130.7 278.4,130.0 277.9,128.0 277.4,124.7 276.9,121.9 276.4,118.5 275.9,114.4 275.4,115.1 274.9,115.8 274.4,118.7 273.9,122.1 273.4,125.5 272.9,128.3 272.4,131.2 271.9,131.0 271.4,131.8 270.9,132.7 270.4,132.8 269.9,132.9 269.4,132.5 268.9,132.1 268.4,131.5 267.9,131.0 267.4,131.4 266.9,130.3 266.4,129.7 265.9,127.8 265.4,126.1 264.9,125.6 264.4,123.0 263.9,121.2 263.4,120.6 262.9,120.0 262.4,120.3 261.9,121.8 261.4,123.0 260.9,124.2 260.4,124.9 259.9,125.0 259.4,124.5 258.9,124.5 258.4,123.9 257.9,123.6 257.4,122.1 256.9,121.2 256.4,119.9 255.9,118.3 255.4,116.6 254.9,114.7 254.4,112.8 253.9,110.7 253.4,108.6 252.9,106.1 252.4,104.6 251.9,104.1 251.4,104.3 250.9,105.2 250.4,107.1 249.9,109.2 249.4,111.2 248.9,113.2 248.4,114.9 247.9,116.7 247.4,118.2 246.9,119.2 246.4,120.3 245.9,121.3 245.4,122.4 244.9,123.1 244.4,123.7 243.9,124.3 243.4,125.0 242.9,125.1 242.4,123.0 241.9,111.1 241.4,90.0 240.9,70.7 240.4,57.2 239.9,50.3 239.4,50.1 238.9,56.8 238.4,69.9 237.9,89.2 237.4,111.3 236.9,126.1 236.4,129.7 235.9,129.9 235.4,129.7 234.9,129.3 234.4,128.7 233.9,127.8 233.4,126.5 232.9,125.2 232.4,123.6 231.9,121.6 231.4,119.5 230.9,117.1 230.4,114.5 229.9,112.1 229.4,110.3 228.9,109.0 228.4,109.2 227.9,110.4 227.4,112.6 226.9,115.1 226.4,117.2 225.9,119.4 225.4,121.4 224.9,123.0 224.4,124.5 223.9,125.9 223.4,126.9 222.9,127.7 222.4,128.6 221.9,128.7 221.4,129.0 220.9,129.1 220.4,128.7 219.9,127.7 219.4,126.4 218.9,124.8 218.4,122.3 217.9,119.3 217.4,115.8 216.9,112.2 216.4,108.5 215.9,106.4 215.4,106.9 214.9,109.9 214.4,114.1 213.9,118.7 213.4,123.2 212.9,127.3 212.4,131.4 211.9,135.0 211.4,138.2 210.9,140.8 210.4,142.3 209.9,143.3 209.4,143.2 208.9,142.5 208.4,141.3 207.9,139.6 207.4,137.6 206.9,135.7 206.4,133.8 205.9,132.3 205.4,130.6 204.9,129.3 204.4,128.9 203.9,129.3 203.4,131.3 202.9,134.1 202.4,137.4 201.9,140.2 201.4,143.1 200.9,145.8 200.4,148.2 199.9,150.8 199.4,153.5 198.9,155.1 198.4,157.5 197.9,159.7 197.4,160.2 196.9,162.0 196.4,163.2 195.9,163.6 195.4,164.8 194.9,165.9 194.4,166.6 193.9,166.9 193.4,166.8 192.9,168.0 192.4,168.5 191.9,169.7 191.4,169.8 190.9,169.9 190.4,170.0 189.9,170.5 189.4,171.1 188.9,171.7 188.4,172.0 187.9,172.1 187.4,171.8 186.9,172.4 186.4,172.4 185.9,173.8 185.4,172.9 184.9,174.3 184.4,173.4 183.9,174.7 183.4,174.4 182.9,174.8 182.4,174.9 181.9,175.3 181.4,175.7 180.9,176.3 180.4,175.6 179.9,176.3 179.4,175.9 178.9,180.5 178.4,179.3 177.9,179.1 177.4,180.3 176.9,178.7 176.4,178.3 175.9,178.0 175.4,177.8 174.9,180.0 174.4,178.8 173.9,180.2 173.4,180.4 172.9,181.1 172.4,179.6 171.9,182.4 171.4,178.6 170.9,181.9 170.4,180.2 169.9,180.2 169.4,181.0 168.9,180.1 168.4,179.2 167.9,179.4 167.4,178.9 166.9,179.5 166.4,179.6 165.9,179.6 165.4,181.8 164.9,179.8 164.4,182.4 163.9,181.3 163.4,180.6 162.9,179.1 162.4,178.8 161.9,181.3 161.4,179.5 160.9,180.7 160.4,182.3 159.9,181.1 159.4,181.3 158.9,181.6 158.4,181.6 157.9,182.6 157.4,182.9 156.9,181.9 156.4,182.7 155.9,181.8 155.4,182.9 154.9,184.6 154.4,182.0 153.9,182.5 153.4,184.5 152.9,181.9 152.4,184.0 151.9,184.7 151.4,183.1 150.9,183.9 150.4,183.2 149.9,184.4 149.4,182.6 148.9,185.9 148.4,184.3 147.9,183.5 147.4,187.1 146.9,186.9 146.4,187.9 145.9,185.3 145.4,186.4 144.9,185.8 144.4,184.9 143.9,186.0 143.4,188.1 142.9,187.0 142.4,186.4 141.9,185.6 141.4,185.3 140.9,188.8 140.4,189.6 139.9,189.4 139.4,189.7 138.9,189.0 138.4,187.5 137.9,190.2 137.4,189.1 136.9,190.1 136.4,189.7 135.9,192.5 135.4,190.5 134.9,190.0 134.4,192.8 133.9,193.4 133.4,190.6 132.9,192.8 132.4,190.1 131.9,191.6 131.4,192.2 130.9,191.6 130.4,191.8 129.9,193.2 129.4,194.7 128.9,194.3 128.4,194.5 127.9,193.1 127.4,193.1 126.9,197.2 126.4,195.6 125.9,195.3 125.4,196.0 124.9,194.1 124.4,196.0 123.9,198.1 123.4,198.2 122.9,199.5 122.4,201.7 121.9,199.4 121.4,201.6 120.9,201.1 120.4,202.5 119.9,201.2 119.4,199.2 118.9,203.6 118.4,201.6 117.9,201.0 117.4,202.9 116.9,206.8 116.4,202.5 115.9,203.3 115.4,204.1 114.9,205.2 114.4,206.0 113.9,206.9 113.4,205.8 112.9,207.8 112.4,208.2 111.9,209.0 111.4,209.1 110.9,211.5 110.4,208.4 109.9,209.7 109.4,207.6 108.9,211.3 108.4,214.7 107.9,212.2 107.4,212.4 106.9,213.6 106.4,210.5 105.9,212.3 105.4,213.3 104.9,212.3 104.4,215.0 103.9,217.0 103.4,217.0 102.9,216.8 102.4,222.1 101.9,215.8 101.4,218.5 100.9,217.2 100.4,220.2 99.9,223.6 99.4,221.8 98.9,222.9 98.4,225.9 97.9,222.2 97.4,223.0 96.9,222.6 96.4,221.0 95.9,222.0 95.4,228.4 94.9,229.3 94.4,231.1 93.9,229.9 93.4,227.6 92.9,228.3 92.4,228.9 91.9,230.3 91.4,233.2 90.9,237.2 90.4,233.9 89.9,233.8 89.4,231.4 88.9,235.8 88.4,227.9 87.9,227.3 87.4,227.5 86.9,234.8 86.4,231.1 85.9,235.7 85.4,230.1 84.9,234.9 84.4,236.8 83.9,231.8 83.4,237.6 82.9,234.9 82.4,237.0 81.9,230.3 81.4,243.5 80.9,235.3 80.4,240.1 79.9,238.8 79.4,238.5 78.9,235.3 78.4,238.3 77.9,234.8 77.4,231.5 76.9,231.9 76.4,236.7 75.9,237.2 75.4,236.9 74.9,237.4 74.4,234.1 73.9,236.0 73.4,236.3 72.9,233.1 72.4,239.1 71.9,232.7 71.4,233.5 70.9,237.1 70.4,231.4 69.9,233.1 69.4,234.4 68.9,232.2 68.4,234.2 67.9,238.5 67.4,235.1 66.9,234.6 66.4,232.8 65.9,234.5 65.4,238.2 64.9,235.1 64.4,238.4 63.9,236.7 63.4,232.6 62.9,236.2 62.4,235.3 61.9,234.0 61.4,233.9 60.9,231.7 60.4,233.9 59.9,233.2 59.4,233.4 58.9,228.6 58.4,231.2 57.9,229.2 57.4,227.7 56.9,227.3 56.4,228.0 55.9,226.4 55.4,226.4 54.9,226.3 54.4,228.9 53.9,227.5 53.4,229.1 52.9,233.5 52.4,230.5 51.9,231.3 51.4,229.9 50.9,228.2 50.4,229.2 49.9,232.1 49.4,229.2 48.9,229.1 48.4,230.1 47.9,230.1 47.4,229.9 46.9,228.8 46.4,227.9 45.9,227.8 45.4,227.6 44.9,226.8 44.4,225.8 43.9,225.9 43.4,225.8 42.9,225.6 42.4,227.0 41.9,226.3 41.4,225.4 40.9,226.7 40.4,226.0" fill="#2a46ff" stroke="#2a46ff" stroke-width="1.0" stroke-linejoin="round"/>
<polygon points="40.4,215.3 40.9,216.5 41.4,216.2 41.9,217.0 42.4,215.8 42.9,215.6 43.4,215.2 43.9,214.2 44.4,214.9 44.9,216.2 45.4,217.3 45.9,217.0 46.4,216.0 46.9,216.0 47.4,218.8 47.9,217.3 48.4,219.9 48.9,219.0 49.4,217.8 49.9,218.1 50.4,215.3 50.9,215.3 51.4,215.6 51.9,214.2 52.4,217.1 52.9,218.2 53.4,218.4 53.9,220.0 54.4,217.1 54.9,217.2 55.4,218.4 55.9,216.8 56.4,218.5 56.9,218.9 57.4,219.9 57.9,219.1 58.4,218.9 58.9,219.6 59.4,219.9 59.9,220.7 60.4,220.7 60.9,217.4 61.4,218.9 61.9,216.4 62.4,217.6 62.9,220.3 63.4,219.7 63.9,217.6 64.4,221.7 64.9,217.6 65.4,220.0 65.9,219.6 66.4,218.8 66.9,216.6 67.4,215.2 67.9,215.4 68.4,220.3 68.9,219.4 69.4,219.1 69.9,220.5 70.4,217.3 70.9,217.0 71.4,216.0 71.9,215.6 72.4,216.6 72.9,214.7 73.4,217.7 73.9,218.1 74.4,213.7 74.9,214.4 75.4,215.2 75.9,216.0 76.4,213.0 76.9,215.3 77.4,214.8 77.9,213.8 78.4,213.9 78.9,211.3 79.4,212.5 79.9,215.6 80.4,215.3 80.9,216.2 81.4,212.5 81.9,215.5 82.4,213.2 82.9,215.8 83.4,210.5 83.9,211.3 84.4,211.7 84.9,212.3 85.4,213.2 85.9,215.3 86.4,215.3 86.9,212.8 87.4,209.9 87.9,213.6 88.4,211.5 88.9,210.8 89.4,212.3 89.9,210.6 90.4,208.3 90.9,210.5 91.4,209.3 91.9,209.2 92.4,209.5 92.9,206.7 93.4,206.0 93.9,207.5 94.4,208.1 94.9,208.2 95.4,205.7 95.9,205.2 96.4,203.9 96.9,206.0 97.4,204.0 97.9,203.7 98.4,202.3 98.9,200.2 99.4,202.5 99.9,201.9 100.4,202.0 100.9,200.0 101.4,200.2 101.9,199.1 102.4,200.2 102.9,198.1 103.4,196.1 103.9,197.8 104.4,195.0 104.9,194.4 105.4,194.8 105.9,193.6 106.4,193.5 106.9,194.3 107.4,191.8 107.9,192.2 108.4,193.3 108.9,190.5 109.4,191.1 109.9,190.9 110.4,189.8 110.9,188.7 111.4,190.1 111.9,190.0 112.4,187.5 112.9,187.6 113.4,187.2 113.9,186.7 114.4,186.0 114.9,186.4 115.4,185.5 115.9,185.2 116.4,186.8 116.9,184.4 117.4,184.2 117.9,184.8 118.4,184.2 118.9,184.3 119.4,183.2 119.9,181.6 120.4,182.9 120.9,180.2 121.4,181.6 121.9,180.5 122.4,180.6 122.9,178.4 123.4,180.5 123.9,178.1 124.4,178.6 124.9,178.7 125.4,178.2 125.9,178.7 126.4,177.2 126.9,176.7 127.4,176.8 127.9,175.2 128.4,174.3 128.9,174.0 129.4,173.2 129.9,173.9 130.4,174.3 130.9,173.7 131.4,174.2 131.9,174.8 132.4,173.2 132.9,173.7 133.4,172.6 133.9,173.7 134.4,173.2 134.9,172.7 135.4,170.3 135.9,170.9 136.4,171.2 136.9,171.4 137.4,170.7 137.9,169.4 138.4,169.5 138.9,171.4 139.4,169.9 139.9,171.2 140.4,171.5 140.9,170.2 141.4,170.0 141.9,169.3 142.4,168.1 142.9,168.6 143.4,167.8 143.9,169.1 144.4,167.7 144.9,169.1 145.4,168.4 145.9,166.8 146.4,167.2 146.9,166.8 147.4,166.9 147.9,167.7 148.4,167.3 148.9,167.3 149.4,166.7 149.9,166.9 150.4,166.1 150.9,166.3 151.4,166.1 151.9,167.0 152.4,166.7 152.9,165.9 153.4,164.1 153.9,164.9 154.4,165.2 154.9,164.8 155.4,164.8 155.9,166.3 156.4,165.3 156.9,164.2 157.4,164.0 157.9,165.6 158.4,163.2 158.9,164.1 159.4,164.5 159.9,163.9 160.4,162.8 160.9,162.8 161.4,164.1 161.9,163.4 162.4,164.5 162.9,163.0 163.4,164.6 163.9,162.8 164.4,163.6 164.9,164.1 165.4,163.7 165.9,161.7 166.4,163.6 166.9,162.9 167.4,163.2 167.9,163.1 168.4,162.5 168.9,163.2 169.4,162.0 169.9,162.6 170.4,162.4 170.9,161.5 171.4,162.8 171.9,162.4 172.4,162.3 172.9,163.0 173.4,163.3 173.9,162.7 174.4,162.7 174.9,163.1 175.4,161.2 175.9,162.3 176.4,162.4 176.9,161.3 177.4,161.3 177.9,162.3 178.4,161.6 178.9,162.0 179.4,162.4 179.9,162.6 180.4,162.3 180.9,162.6 181.4,161.7 181.9,162.0 182.4,161.6 182.9,161.4 183.4,161.6 183.9,161.7 184.4,161.4 184.9,161.1 185.4,161.2 185.9,160.9 186.4,160.8 186.9,161.0 187.4,160.5 187.9,160.2 188.4,160.7 188.9,159.9 189.4,159.9 189.9,159.2 190.4,159.6 190.9,159.3 191.4,158.6 191.9,158.4 192.4,158.2 192.9,157.9 193.4,157.6 193.9,156.6 194.4,156.5 194.9,155.8 195.4,155.6 195.9,154.8 196.4,154.4 196.9,153.5 197.4,152.9 197.9,151.4 198.4,150.2 198.9,148.5 199.4,146.6 199.9,144.7 200.4,142.7 200.9,140.1 201.4,137.4 201.9,135.0 202.4,132.1 202.9,129.4 203.4,126.8 203.9,125.0 204.4,124.3 204.9,124.5 205.4,125.5 205.9,126.9 206.4,128.6 206.9,130.5 207.4,132.5 207.9,134.4 208.4,136.2 208.9,137.5 209.4,138.3 209.9,138.4 210.4,137.7 210.9,136.2 211.4,133.8 211.9,130.8 212.4,127.2 212.9,123.3 213.4,119.0 213.9,114.8 214.4,110.3 214.9,106.3 215.4,103.6 215.9,103.1 216.4,105.2 216.9,108.6 217.4,112.4 217.9,115.8 218.4,119.0 218.9,121.7 219.4,123.6 219.9,125.2 220.4,126.2 220.9,126.5 221.4,126.7 221.9,126.2 222.4,125.7 222.9,125.2 223.4,124.2 223.9,123.0 224.4,121.6 224.9,120.1 225.4,118.6 225.9,116.5 226.4,114.4 226.9,112.2 227.4,110.0 227.9,107.9 228.4,106.8 228.9,106.6 229.4,107.7 229.9,109.5 230.4,111.7 230.9,114.2 231.4,116.6 231.9,118.7 232.4,120.5 232.9,122.4 233.4,123.9 233.9,124.9 234.4,126.2 234.9,126.7 235.4,127.4 235.9,127.7 236.4,127.5 236.9,124.0 237.4,109.9 237.9,88.9 238.4,70.1 238.9,56.9 239.4,50.0 239.9,49.4 240.4,55.3 240.9,67.4 241.4,85.2 241.9,105.6 242.4,119.5 242.9,122.9 243.4,122.7 243.9,122.4 244.4,121.6 244.9,120.9 245.4,119.9 245.9,119.1 246.4,117.8 246.9,116.8 247.4,115.4 247.9,114.0 248.4,112.3 248.9,110.4 249.4,108.5 249.9,106.6 250.4,104.5 250.9,102.9 251.4,102.0 251.9,101.7 252.4,102.3 252.9,103.8 253.4,105.9 253.9,107.9 254.4,110.1 254.9,111.9 255.4,113.8 255.9,115.3 256.4,116.5 256.9,117.9 257.4,119.0 257.9,119.9 258.4,120.9 258.9,121.3 259.4,121.9 259.9,122.6 260.4,122.6 260.9,121.8 261.4,120.5 261.9,119.9 262.4,118.6 262.9,117.3 263.4,117.8 263.9,119.2 264.4,121.1 264.9,122.8 265.4,124.3 265.9,125.6 266.4,126.2 266.9,127.4 267.4,128.2 267.9,128.5 268.4,129.2 268.9,129.9 269.4,129.5 269.9,129.6 270.4,129.6 270.9,129.7 271.4,129.5 271.9,128.0 272.4,127.5 272.9,125.5 273.4,122.0 273.9,118.4 274.4,114.7 274.9,112.2 275.4,110.9 275.9,112.2 276.4,114.2 276.9,117.9 277.4,121.6 277.9,123.6 278.4,125.2 278.9,127.1 279.4,126.5 279.9,126.6 280.4,126.6 280.9,128.1 281.4,128.5 281.9,130.9 282.4,131.9 282.9,133.6 283.4,134.7 283.9,134.3 284.4,135.7 284.9,135.1 285.4,135.3 285.9,135.6 286.4,136.0 286.9,136.9 287.4,135.8 287.9,136.1 288.4,136.5 288.9,135.7 289.4,136.1 289.9,135.9 290.4,135.1 290.9,135.1 291.4,134.6 291.9,134.3 292.4,133.3 292.9,131.9 293.4,129.9 293.9,129.0 294.4,130.0 294.9,132.1 295.4,133.4 295.9,136.2 296.4,137.5 296.9,137.3 297.4,139.3 297.9,140.6 298.4,140.6 298.9,140.4 299.4,140.4 299.9,142.8 300.4,141.6 300.9,141.9 301.4,142.4 301.9,142.8 302.4,143.2 302.9,142.9 303.4,143.8 303.9,144.1 304.4,144.3 304.9,144.9 305.4,145.5 305.9,145.3 306.4,146.3 306.9,145.4 307.4,146.2 307.9,147.6 308.4,147.6 308.9,146.7 309.4,147.5 309.9,146.0 310.4,147.4 310.9,146.5 311.4,148.2 311.4,153.7 310.9,154.3 310.4,153.1 309.9,151.6 309.4,153.2 308.9,152.7 308.4,152.3 307.9,153.4 307.4,152.4 306.9,151.0 306.4,151.7 305.9,150.1 305.4,151.2 304.9,149.7 304.4,148.8 303.9,150.1 303.4,148.8 302.9,148.6 302.4,148.5 301.9,148.5 301.4,147.1 300.9,147.7 300.4,146.9 299.9,145.3 299.4,146.7 298.9,145.1 298.4,146.0 297.9,144.8 297.4,143.0 296.9,141.7 296.4,142.6 295.9,140.4 295.4,138.5 294.9,136.2 294.4,134.6 293.9,135.2 293.4,133.9 292.9,135.9 292.4,137.1 291.9,138.6 291.4,138.8 290.9,138.5 290.4,140.6 289.9,140.0 289.4,140.3 288.9,140.4 288.4,140.1 287.9,140.9 287.4,139.6 286.9,139.2 286.4,139.7 285.9,139.1 285.4,138.5 284.9,139.4 284.4,138.5 283.9,138.9 283.4,137.6 282.9,136.1 282.4,134.8 281.9,133.7 281.4,132.7 280.9,130.7 280.4,129.4 279.9,129.9 279.4,129.6 278.9,130.1 278.4,128.3 277.9,127.2 277.4,124.8 276.9,120.7 276.4,116.8 275.9,114.7 275.4,113.5 274.9,115.2 274.4,118.0 273.9,121.3 273.4,125.2 272.9,127.7 272.4,129.6 271.9,130.7 271.4,131.8 270.9,132.8 270.4,132.0 269.9,133.2 269.4,131.8 268.9,131.9 268.4,131.1 267.9,130.6 267.4,130.8 266.9,129.4 266.4,129.1 265.9,127.9 265.4,126.5 264.9,124.5 264.4,122.8 263.9,121.0 263.4,120.2 262.9,119.9 262.4,120.2 261.9,121.5 261.4,122.9 260.9,123.4 260.4,123.8 259.9,124.2 259.4,124.0 258.9,123.3 258.4,122.4 257.9,121.7 257.4,120.6 256.9,119.8 256.4,118.1 255.9,117.1 255.4,115.2 254.9,113.4 254.4,111.3 253.9,109.2 253.4,107.2 252.9,105.0 252.4,103.3 251.9,102.7 251.4,103.1 250.9,103.8 250.4,105.6 249.9,107.6 249.4,109.6 248.9,111.7 248.4,113.4 247.9,115.0 247.4,116.4 246.9,117.7 246.4,119.0 245.9,120.1 245.4,121.0 244.9,121.7 244.4,122.5 243.9,123.2 243.4,123.8 242.9,123.9 242.4,120.5 241.9,106.2 241.4,85.7 240.9,67.8 240.4,55.7 239.9,49.9 239.4,50.5 238.9,57.4 238.4,70.6 237.9,89.5 237.4,110.7 236.9,125.1 236.4,128.4 235.9,128.7 235.4,128.5 234.9,128.0 234.4,126.9 233.9,126.0 233.4,124.8 232.9,123.4 232.4,121.3 231.9,119.6 231.4,117.4 230.9,115.0 230.4,112.6 229.9,110.3 229.4,108.3 228.9,107.4 228.4,107.5 227.9,108.7 227.4,110.7 226.9,113.0 226.4,115.3 225.9,117.3 225.4,119.4 224.9,121.0 224.4,122.5 223.9,123.9 223.4,125.2 222.9,126.1 222.4,126.7 221.9,127.4 221.4,127.5 220.9,127.5 220.4,127.1 219.9,126.2 219.4,124.6 218.9,122.6 218.4,119.8 217.9,116.7 217.4,113.0 216.9,109.2 216.4,105.9 215.9,103.8 215.4,104.1 214.9,107.0 214.4,111.2 213.9,115.6 213.4,119.8 212.9,124.2 212.4,128.0 211.9,131.7 211.4,135.0 210.9,137.3 210.4,139.2 209.9,139.9 209.4,140.0 208.9,138.7 208.4,137.3 207.9,135.7 207.4,133.6 206.9,131.5 206.4,129.7 205.9,127.9 205.4,126.5 204.9,125.7 204.4,125.0 203.9,125.7 203.4,127.8 202.9,130.4 202.4,133.4 201.9,136.0 201.4,138.8 200.9,141.4 200.4,143.9 199.9,145.9 199.4,148.2 198.9,149.9 198.4,151.9 197.9,153.3 197.4,154.3 196.9,155.6 196.4,156.2 195.9,156.9 195.4,157.3 194.9,158.0 194.4,158.2 193.9,159.0 193.4,159.1 192.9,159.9 192.4,160.5 191.9,161.5 191.4,161.0 190.9,160.7 190.4,161.5 189.9,161.7 189.4,161.7 188.9,162.4 188.4,163.1 187.9,162.5 187.4,162.7 186.9,163.2 186.4,163.1 185.9,162.6 185.4,162.8 184.9,164.6 184.4,163.7 183.9,163.2 183.4,164.1 182.9,164.0 182.4,163.6 181.9,164.3 181.4,164.1 180.9,164.5 180.4,164.4 179.9,164.7 179.4,164.7 178.9,167.2 178.4,166.1 177.9,165.8 177.4,166.2 176.9,165.9 176.4,166.2 175.9,166.6 175.4,166.8 174.9,167.5 174.4,166.7 173.9,169.0 173.4,168.7 172.9,167.8 172.4,167.5 171.9,167.1 171.4,167.6 170.9,167.2 170.4,167.4 169.9,167.9 169.4,166.8 168.9,167.7 168.4,167.3 167.9,168.4 167.4,166.9 166.9,168.0 166.4,169.0 165.9,167.8 165.4,168.2 164.9,168.2 164.4,169.2 163.9,168.9 163.4,169.3 162.9,167.7 162.4,167.8 161.9,169.3 161.4,169.1 160.9,168.0 160.4,168.2 159.9,168.5 159.4,168.4 158.9,169.1 158.4,169.4 157.9,168.4 157.4,170.2 156.9,168.9 156.4,171.0 155.9,169.7 155.4,170.0 154.9,170.9 154.4,170.8 153.9,171.1 153.4,170.5 152.9,171.9 152.4,170.9 151.9,170.2 151.4,171.5 150.9,172.3 150.4,172.4 149.9,172.1 149.4,171.9 148.9,171.4 148.4,173.4 147.9,174.0 147.4,173.8 146.9,173.3 146.4,174.8 145.9,173.6 145.4,173.9 144.9,174.9 144.4,175.2 143.9,175.9 143.4,175.5 142.9,175.3 142.4,173.2 141.9,174.8 141.4,173.9 140.9,175.5 140.4,175.7 139.9,176.5 139.4,177.1 138.9,176.5 138.4,176.5 137.9,176.0 137.4,177.1 136.9,177.3 136.4,177.5 135.9,177.6 135.4,178.7 134.9,178.9 134.4,179.4 133.9,181.5 133.4,177.9 132.9,178.5 132.4,179.0 131.9,181.2 131.4,179.6 130.9,181.2 130.4,179.9 129.9,180.2 129.4,180.3 128.9,179.3 128.4,180.5 127.9,183.0 127.4,182.7 126.9,184.5 126.4,183.4 125.9,183.7 125.4,184.9 124.9,185.2 124.4,185.3 123.9,186.9 123.4,186.9 122.9,186.2 122.4,185.7 121.9,185.7 121.4,187.6 120.9,189.2 120.4,189.4 119.9,188.5 119.4,189.1 118.9,189.7 118.4,190.3 117.9,191.4 117.4,189.5 116.9,191.1 116.4,193.1 115.9,192.0 115.4,193.2 114.9,193.4 114.4,193.4 113.9,193.5 113.4,193.3 112.9,196.6 112.4,195.4 111.9,197.3 111.4,196.1 110.9,196.3 110.4,198.5 109.9,197.6 109.4,198.1 108.9,196.7 108.4,199.5 107.9,199.9 107.4,198.7 106.9,199.1 106.4,200.8 105.9,200.6 105.4,200.7 104.9,202.8 104.4,203.3 103.9,202.5 103.4,206.7 102.9,205.3 102.4,206.6 101.9,206.3 101.4,207.3 100.9,209.0 100.4,209.4 99.9,209.9 99.4,209.2 98.9,208.3 98.4,210.3 97.9,210.7 97.4,210.7 96.9,213.3 96.4,214.5 95.9,216.3 95.4,214.7 94.9,217.1 94.4,218.8 93.9,215.8 93.4,216.2 92.9,217.3 92.4,217.0 91.9,217.8 91.4,217.2 90.9,220.4 90.4,221.5 89.9,222.1 89.4,221.5 88.9,220.0 88.4,226.1 87.9,222.2 87.4,229.0 86.9,225.2 86.4,224.9 85.9,233.0 85.4,224.3 84.9,229.0 84.4,229.8 83.9,226.7 83.4,228.0 82.9,230.4 82.4,226.6 81.9,226.0 81.4,231.4 80.9,228.4 80.4,230.1 79.9,226.3 79.4,230.4 78.9,231.4 78.4,224.9 77.9,227.6 77.4,233.0 76.9,230.9 76.4,230.1 75.9,231.2 75.4,230.3 74.9,227.6 74.4,232.1 73.9,227.0 73.4,230.1 72.9,227.7 72.4,229.0 71.9,233.5 71.4,230.8 70.9,235.7 70.4,234.9 69.9,241.1 69.4,231.9 68.9,229.6 68.4,228.8 67.9,234.6 67.4,231.6 66.9,227.9 66.4,231.4 65.9,231.0 65.4,229.4 64.9,233.5 64.4,232.8 63.9,231.5 63.4,230.5 62.9,229.4 62.4,234.0 61.9,230.2 61.4,229.0 60.9,231.6 60.4,228.3 59.9,231.1 59.4,231.3 58.9,230.6 58.4,229.0 57.9,227.7 57.4,225.1 56.9,227.3 56.4,226.9 55.9,229.0 55.4,225.3 54.9,229.1 54.4,225.7 53.9,229.2 53.4,225.0 52.9,224.8 52.4,225.7 51.9,225.9 51.4,224.3 50.9,223.6 50.4,225.5 49.9,226.3 49.4,224.4 48.9,225.6 48.4,227.9 47.9,227.9 47.4,227.6 46.9,228.3 46.4,225.9 45.9,225.5 45.4,227.3 44.9,226.3 44.4,225.5 43.9,224.0 43.4,225.9 42.9,222.8 42.4,225.9 41.9,224.1 41.4,226.2 40.9,224.6 40.4,231.0" fill="#1464ff" stroke="#1464ff" stroke-width="1.0" stroke-linejoin="round"/>
<polygon points="40.4,215.5 40.9,212.8 41.4,212.3 41.9,214.3 42.4,213.3 42.9,212.2 43.4,211.3 43.9,213.9 44.4,212.4 44.9,215.5 45.4,214.0 45.9,214.3 46.4,212.4 46.9,215.0 47.4,215.3 47.9,213.7 48.4,213.3 48.9,213.3 49.4,213.9 49.9,212.3 50.4,215.2 50.9,213.4 51.4,212.5 51.9,216.5 52.4,216.7 52.9,216.2 53.4,216.8 53.9,215.0 54.4,214.6 54.9,214.3 55.4,215.9 55.9,213.0 56.4,214.9 56.9,216.8 57.4,213.4 57.9,215.1 58.4,214.6 58.9,212.1 59.4,214.8 59.9,211.9 60.4,216.7 60.9,215.7 61.4,218.4 61.9,213.8 62.4,214.2 62.9,215.0 63.4,216.9 63.9,216.0 64.4,215.4 64.9,217.3 65.4,214.8 65.9,211.4 66.4,215.9 66.9,215.2 67.4,210.2 67.9,210.8 68.4,218.1 68.9,216.8 69.4,212.4 69.9,211.0 70.4,210.5 70.9,213.3 71.4,211.2 71.9,211.7 72.4,209.5 72.9,211.3 73.4,214.1 73.9,213.3 74.4,210.6 74.9,212.1 75.4,210.2 75.9,209.1 76.4,209.9 76.9,208.3 77.4,211.7 77.9,206.6 78.4,211.4 78.9,208.7 79.4,211.7 79.9,209.5 80.4,207.2 80.9,206.0 81.4,205.0 81.9,206.1 82.4,207.4 82.9,206.6 83.4,210.1 83.9,210.5 84.4,206.0 84.9,206.3 85.4,207.4 85.9,208.2 86.4,204.9 86.9,207.5 87.4,207.1 87.9,203.8 88.4,203.9 88.9,203.1 89.4,201.7 89.9,201.5 90.4,203.1 90.9,203.2 91.4,201.7 91.9,203.0 92.4,202.3 92.9,200.7 93.4,199.3 93.9,199.6 94.4,199.3 94.9,199.6 95.4,196.8 95.9,196.9 96.4,198.2 96.9,195.9 97.4,197.0 97.9,197.1 98.4,195.5 98.9,193.2 99.4,193.3 99.9,192.4 100.4,190.7 100.9,190.1 101.4,189.9 101.9,190.0 102.4,189.2 102.9,190.4 103.4,189.7 103.9,188.2 104.4,188.0 104.9,187.2 105.4,187.6 105.9,185.2 106.4,185.4 106.9,185.6 107.4,184.0 107.9,183.7 108.4,183.2 108.9,182.6 109.4,183.3 109.9,183.8 110.4,182.8 110.9,181.8 111.4,181.4 111.9,180.2 112.4,179.3 112.9,179.1 113.4,179.5 113.9,179.5 114.4,179.2 114.9,177.6 115.4,177.8 115.9,177.0 116.4,176.7 116.9,175.8 117.4,175.4 117.9,175.4 118.4,175.9 118.9,174.2 119.4,174.7 119.9,172.9 120.4,172.8 120.9,173.4 121.4,172.7 121.9,172.4 122.4,171.4 122.9,169.8 123.4,170.2 123.9,170.4 124.4,170.2 124.9,170.7 125.4,170.2 125.9,168.3 126.4,168.9 126.9,168.5 127.4,167.0 127.9,168.4 128.4,166.7 128.9,167.0 129.4,166.7 129.9,166.3 130.4,166.0 130.9,165.7 131.4,165.4 131.9,165.0 132.4,165.0 132.9,165.5 133.4,164.7 133.9,163.5 134.4,163.1 134.9,164.0 135.4,163.6 135.9,162.1 136.4,162.0 136.9,162.7 137.4,161.9 137.9,161.4 138.4,161.0 138.9,161.1 139.4,161.4 139.9,160.9 140.4,160.6 140.9,161.7 141.4,160.1 141.9,160.8 142.4,160.8 142.9,159.5 143.4,158.9 143.9,160.3 144.4,158.9 144.9,159.8 145.4,158.0 145.9,158.9 146.4,158.5 146.9,157.9 147.4,159.1 147.9,158.4 148.4,158.8 148.9,158.5 149.4,157.4 149.9,156.6 150.4,157.1 150.9,157.5 151.4,157.0 151.9,156.3 152.4,156.9 152.9,156.7 153.4,156.7 153.9,155.8 154.4,156.5 154.9,156.5 155.4,155.8 155.9,155.6 156.4,155.3 156.9,155.0 157.4,155.6 157.9,156.1 158.4,154.6 158.9,154.6 159.4,154.6 159.9,155.1 160.4,155.1 160.9,154.7 161.4,154.5 161.9,155.4 162.4,154.2 162.9,154.5 163.4,154.2 163.9,153.8 164.4,155.1 164.9,154.1 165.4,153.9 165.9,154.4 166.4,154.7 166.9,154.2 167.4,154.4 167.9,155.0 168.4,154.6 168.9,154.0 169.4,153.7 169.9,153.3 170.4,153.0 170.9,154.7 171.4,153.4 171.9,153.3 172.4,153.0 172.9,153.3 173.4,152.9 173.9,152.7 174.4,154.1 174.9,153.8 175.4,153.3 175.9,152.4 176.4,152.9 176.9,152.7 177.4,152.5 177.9,152.9 178.4,152.7 178.9,152.9 179.4,153.9 179.9,153.7 180.4,153.5 180.9,153.7 181.4,153.6 181.9,153.5 182.4,153.1 182.9,153.0 183.4,152.9 183.9,153.1 184.4,152.9 184.9,153.1 185.4,152.7 185.9,152.6 186.4,152.7 186.9,152.3 187.4,152.4 187.9,151.9 188.4,151.8 188.9,152.0 189.4,151.9 189.9,151.8 190.4,151.4 190.9,151.7 191.4,151.1 191.9,151.0 192.4,150.9 192.9,150.3 193.4,150.1 193.9,149.9 194.4,149.5 194.9,149.3 195.4,148.8 195.9,148.6 196.4,147.6 196.9,147.1 197.4,146.1 197.9,145.3 198.4,144.0 198.9,142.8 199.4,141.6 199.9,139.7 200.4,137.5 200.9,135.3 201.4,132.9 201.9,130.4 202.4,127.8 202.9,125.4 203.4,122.8 203.9,121.2 204.4,120.4 204.9,120.6 205.4,121.6 205.9,123.0 206.4,124.6 206.9,126.5 207.4,128.3 207.9,130.3 208.4,132.2 208.9,133.8 209.4,134.9 209.9,135.3 210.4,134.4 210.9,132.9 211.4,130.6 211.9,127.5 212.4,123.9 212.9,120.0 213.4,115.9 213.9,111.6 214.4,107.2 214.9,103.2 215.4,100.7 215.9,100.3 216.4,102.3 216.9,105.6 217.4,109.3 217.9,112.9 218.4,116.2 218.9,119.1 219.4,121.7 219.9,123.4 220.4,124.2 220.9,125.0 221.4,125.0 221.9,124.6 222.4,124.1 222.9,123.4 223.4,122.3 223.9,121.0 224.4,119.5 224.9,118.0 225.4,116.1 225.9,114.2 226.4,112.1 226.9,109.9 227.4,107.9 227.9,106.0 228.4,104.7 228.9,104.6 229.4,105.5 229.9,107.3 230.4,109.7 230.9,111.8 231.4,114.2 231.9,116.3 232.4,118.1 232.9,120.1 233.4,121.6 233.9,123.0 234.4,124.1 234.9,125.0 235.4,125.7 235.9,126.3 236.4,126.2 236.9,122.9 237.4,109.6 237.9,89.3 238.4,70.7 238.9,57.6 239.4,50.4 239.9,49.2 240.4,54.1 240.9,65.1 241.4,81.5 241.9,101.2 242.4,116.4 242.9,121.3 243.4,121.3 243.9,120.8 244.4,120.2 244.9,119.2 245.4,118.1 245.9,117.2 246.4,116.1 246.9,114.6 247.4,113.4 247.9,111.8 248.4,110.4 248.9,108.7 249.4,106.6 249.9,104.9 250.4,102.8 250.9,101.3 251.4,100.2 251.9,100.2 252.4,100.7 252.9,102.0 253.4,103.9 253.9,105.9 254.4,107.9 254.9,110.0 255.4,111.7 255.9,113.3 256.4,114.7 256.9,116.4 257.4,117.7 257.9,118.8 258.4,120.0 258.9,120.4 259.4,120.9 259.9,121.3 260.4,121.1 260.9,121.0 261.4,120.3 261.9,119.2 262.4,118.3 262.9,117.0 263.4,117.3 263.9,118.4 264.4,120.6 264.9,122.3 265.4,123.9 265.9,124.8 266.4,126.2 266.9,127.5 267.4,127.8 267.9,128.5 268.4,129.0 268.9,129.1 269.4,129.8 269.9,129.4 270.4,128.8 270.9,128.9 271.4,129.0 271.9,127.0 272.4,125.7 272.9,123.6 273.4,121.5 273.9,117.1 274.4,113.7 274.9,109.9 275.4,108.9 275.9,110.1 276.4,112.2 276.9,116.1 277.4,120.2 277.9,123.1 278.4,124.3 278.9,124.9 279.4,124.7 279.9,123.9 280.4,124.3 280.9,124.8 281.4,126.8 281.9,128.9 282.4,130.7 282.9,131.1 283.4,132.8 283.9,134.1 284.4,134.3 284.9,134.1 285.4,134.2 285.9,135.4 286.4,135.1 286.9,135.4 287.4,135.2 287.9,135.2 288.4,135.0 288.9,135.3 289.4,136.0 289.9,135.4 290.4,135.8 290.9,135.4 291.4,134.2 291.9,133.0 292.4,131.8 292.9,131.2 293.4,129.0 293.9,129.5 294.4,130.5 294.9,131.1 295.4,133.3 295.9,135.9 296.4,136.4 296.9,136.8 297.4,137.7 297.9,139.5 298.4,138.6 298.9,139.6 299.4,140.1 299.9,141.1 300.4,141.4 300.9,140.8 301.4,142.0 301.9,142.3 302.4,141.5 302.9,141.9 303.4,142.5 303.9,141.5 304.4,142.2 304.9,142.9 305.4,142.5 305.9,142.5 306.4,142.3 306.9,143.0 307.4,142.2 307.9,142.8 308.4,144.8 308.9,144.9 309.4,145.5 309.9,146.1 310.4,147.6 310.9,147.5 311.4,146.8 311.4,152.3 310.9,151.9 310.4,152.4 309.9,150.7 309.4,150.9 308.9,150.0 308.4,150.3 307.9,149.5 307.4,149.7 306.9,148.5 306.4,148.0 305.9,151.1 305.4,148.8 304.9,148.0 304.4,148.2 303.9,147.6 303.4,148.2 302.9,146.4 302.4,146.7 301.9,146.2 301.4,147.3 300.9,146.3 300.4,145.3 299.9,145.0 299.4,144.7 298.9,144.1 298.4,143.2 297.9,143.6 297.4,143.6 296.9,143.0 296.4,142.4 295.9,141.1 295.4,138.1 294.9,135.7 294.4,135.4 293.9,133.6 293.4,133.6 292.9,134.6 292.4,135.9 291.9,136.8 291.4,139.8 290.9,139.5 290.4,139.4 289.9,140.0 289.4,140.3 288.9,139.3 288.4,139.8 287.9,140.4 287.4,139.6 286.9,139.3 286.4,138.5 285.9,138.3 285.4,138.9 284.9,138.4 284.4,137.1 283.9,138.4 283.4,136.6 282.9,136.0 282.4,134.4 281.9,132.2 281.4,129.6 280.9,128.0 280.4,127.4 279.9,127.3 279.4,127.4 278.9,127.9 278.4,128.2 277.9,126.3 277.4,123.4 276.9,119.1 276.4,115.7 275.9,112.3 275.4,112.3 274.9,112.5 274.4,117.0 273.9,120.0 273.4,124.2 272.9,127.0 272.4,128.7 271.9,129.9 271.4,130.9 270.9,131.3 270.4,131.7 269.9,131.7 269.4,131.6 268.9,131.0 268.4,131.5 267.9,130.6 267.4,129.9 266.9,129.7 266.4,128.9 265.9,127.2 265.4,126.3 264.9,125.0 264.4,122.9 263.9,121.1 263.4,119.6 262.9,119.6 262.4,120.2 261.9,121.1 261.4,122.5 260.9,123.3 260.4,123.4 259.9,123.4 259.4,122.8 258.9,122.4 258.4,121.5 257.9,120.5 257.4,119.0 256.9,117.7 256.4,116.6 255.9,114.8 255.4,113.2 254.9,111.4 254.4,109.7 253.9,107.1 253.4,105.4 252.9,103.2 252.4,101.7 251.9,101.4 251.4,101.6 250.9,102.7 250.4,104.0 249.9,105.7 249.4,107.6 248.9,109.7 248.4,111.2 247.9,112.9 247.4,114.3 246.9,115.6 246.4,116.9 245.9,117.9 245.4,119.3 244.9,120.1 244.4,121.0 243.9,121.7 243.4,122.5 242.9,122.2 242.4,117.3 241.9,101.9 241.4,82.1 240.9,65.6 240.4,54.7 239.9,49.7 239.4,50.9 238.9,58.2 238.4,71.3 237.9,89.8 237.4,110.4 236.9,123.9 236.4,127.1 235.9,127.2 235.4,126.8 234.9,126.0 234.4,125.2 233.9,123.9 233.4,122.5 232.9,121.0 232.4,119.1 231.9,117.1 231.4,115.0 230.9,112.6 230.4,110.4 229.9,108.1 229.4,106.4 228.9,105.4 228.4,105.5 227.9,106.7 227.4,108.5 226.9,110.8 226.4,112.9 225.9,115.1 225.4,117.0 224.9,118.9 224.4,120.4 223.9,121.9 223.4,123.2 222.9,124.3 222.4,125.0 221.9,125.7 221.4,126.0 220.9,126.0 220.4,125.2 219.9,124.3 219.4,122.4 218.9,120.1 218.4,117.1 217.9,113.9 217.4,110.0 216.9,106.3 216.4,102.9 215.9,100.9 215.4,101.3 214.9,103.9 214.4,107.9 213.9,112.2 213.4,116.6 212.9,121.1 212.4,124.9 211.9,128.7 211.4,131.9 210.9,134.1 210.4,135.8 209.9,136.3 209.4,136.1 208.9,135.0 208.4,133.5 207.9,131.5 207.4,129.4 206.9,127.4 206.4,125.6 205.9,123.9 205.4,122.4 204.9,121.8 204.4,121.4 203.9,122.1 203.4,123.8 202.9,126.4 202.4,129.2 201.9,131.7 201.4,133.9 200.9,136.4 200.4,138.9 199.9,141.3 199.4,142.7 198.9,144.6 198.4,145.4 197.9,147.2 197.4,148.1 196.9,148.5 196.4,149.4 195.9,150.1 195.4,150.3 194.9,150.8 194.4,151.5 193.9,151.7 193.4,151.9 192.9,152.7 192.4,152.7 191.9,152.7 191.4,153.0 190.9,153.6 190.4,153.6 189.9,153.8 189.4,153.4 188.9,153.8 188.4,153.9 187.9,154.1 187.4,153.7 186.9,154.2 186.4,154.5 185.9,154.8 185.4,154.9 184.9,154.6 184.4,155.1 183.9,154.6 183.4,155.2 182.9,154.7 182.4,154.9 181.9,155.3 181.4,155.6 180.9,155.6 180.4,155.5 179.9,155.3 179.4,156.3 178.9,159.2 178.4,157.3 177.9,157.4 177.4,156.8 176.9,156.5 176.4,157.5 175.9,156.6 175.4,157.8 174.9,156.8 174.4,158.3 173.9,157.0 173.4,157.8 172.9,157.2 172.4,157.5 171.9,158.1 171.4,157.4 170.9,158.1 170.4,158.1 169.9,158.3 169.4,158.8 168.9,158.7 168.4,158.9 167.9,158.2 167.4,158.7 166.9,158.6 166.4,158.3 165.9,158.6 165.4,159.0 164.9,159.2 164.4,159.1 163.9,157.8 163.4,158.2 162.9,157.7 162.4,160.7 161.9,158.2 161.4,158.3 160.9,159.2 160.4,159.1 159.9,158.9 159.4,159.3 158.9,158.6 158.4,159.8 157.9,158.8 157.4,159.3 156.9,160.5 156.4,160.2 155.9,160.1 155.4,160.2 154.9,161.6 154.4,159.7 153.9,161.2 153.4,160.9 152.9,159.6 152.4,159.6 151.9,160.7 151.4,161.7 150.9,161.3 150.4,161.3 149.9,161.6 149.4,162.5 148.9,163.6 148.4,162.7 147.9,163.4 147.4,162.8 146.9,163.2 146.4,163.7 145.9,163.7 145.4,165.7 144.9,164.9 144.4,164.7 143.9,164.6 143.4,164.4 142.9,166.6 142.4,165.0 141.9,165.2 141.4,165.1 140.9,165.5 140.4,167.2 139.9,166.2 139.4,167.1 138.9,166.8 138.4,166.3 137.9,166.8 137.4,168.5 136.9,167.0 136.4,166.4 135.9,168.3 135.4,168.5 134.9,168.8 134.4,169.2 133.9,170.1 133.4,168.9 132.9,170.8 132.4,171.0 131.9,169.7 131.4,170.4 130.9,169.6 130.4,170.8 129.9,171.7 129.4,171.9 128.9,172.3 128.4,172.2 127.9,172.4 127.4,173.5 126.9,173.0 126.4,173.4 125.9,174.6 125.4,176.3 124.9,177.5 124.4,176.2 123.9,175.1 123.4,175.9 122.9,175.8 122.4,176.0 121.9,177.7 121.4,176.5 120.9,177.0 120.4,177.1 119.9,178.9 119.4,178.7 118.9,179.5 118.4,181.4 117.9,181.1 117.4,180.7 116.9,182.3 116.4,181.0 115.9,181.5 115.4,183.7 114.9,182.3 114.4,184.3 113.9,182.3 113.4,183.0 112.9,185.1 112.4,183.3 111.9,185.9 111.4,185.5 110.9,185.4 110.4,186.9 109.9,188.8 109.4,187.2 108.9,188.0 108.4,188.4 107.9,188.8 107.4,189.6 106.9,189.7 106.4,190.0 105.9,191.4 105.4,192.6 104.9,193.2 104.4,194.2 103.9,194.3 103.4,194.8 102.9,196.0 102.4,195.9 101.9,195.8 101.4,197.5 100.9,197.8 100.4,196.6 99.9,197.9 99.4,200.6 98.9,199.2 98.4,202.5 97.9,201.4 97.4,203.0 96.9,203.7 96.4,203.5 95.9,206.2 95.4,203.8 94.9,205.3 94.4,206.7 93.9,206.8 93.4,209.3 92.9,209.0 92.4,210.8 91.9,212.4 91.4,211.7 90.9,212.4 90.4,210.2 89.9,215.4 89.4,211.3 88.9,215.2 88.4,213.1 87.9,213.6 87.4,215.1 86.9,218.4 86.4,217.8 85.9,217.2 85.4,218.4 84.9,220.1 84.4,218.5 83.9,221.4 83.4,221.2 82.9,220.5 82.4,219.6 81.9,218.4 81.4,221.6 80.9,219.1 80.4,225.6 79.9,221.2 79.4,224.0 78.9,224.9 78.4,222.0 77.9,224.1 77.4,224.8 76.9,219.8 76.4,221.1 75.9,221.2 75.4,229.7 74.9,223.6 74.4,227.6 73.9,225.6 73.4,227.6 72.9,222.5 72.4,225.4 71.9,227.4 71.4,223.0 70.9,228.5 70.4,230.0 69.9,226.1 69.4,226.2 68.9,227.8 68.4,227.9 67.9,225.4 67.4,226.8 66.9,224.8 66.4,225.4 65.9,225.2 65.4,225.9 64.9,226.6 64.4,226.4 63.9,230.0 63.4,228.1 62.9,226.8 62.4,226.9 61.9,228.9 61.4,228.6 60.9,225.2 60.4,228.7 59.9,227.7 59.4,221.1 58.9,222.1 58.4,225.6 57.9,223.3 57.4,224.3 56.9,225.0 56.4,222.3 55.9,224.1 55.4,222.3 54.9,223.3 54.4,226.3 53.9,225.6 53.4,226.4 52.9,225.4 52.4,225.7 51.9,224.2 51.4,222.5 50.9,224.0 50.4,223.3 49.9,222.3 49.4,221.9 48.9,223.0 48.4,224.0 47.9,221.5 47.4,224.2 46.9,222.4 46.4,222.3 45.9,224.1 45.4,224.5 44.9,224.3 44.4,223.9 43.9,223.0 43.4,226.2 42.9,220.6 42.4,219.2 41.9,224.4 41.4,222.7 40.9,222.6 40.4,223.0" fill="#1e88ff" stroke="#1e88ff" stroke-width="1.0" stroke-linejoin="round"/>
<polygon points="40.4,211.2 40.9,208.9 41.4,210.7 41.9,212.5 42.4,210.9 42.9,209.8 43.4,212.3 43.9,211.7 44.4,211.4 44.9,213.2 45.4,210.0 45.9,211.9 46.4,211.4 46.9,210.5 47.4,209.5 47.9,212.6 48.4,209.1 48.9,211.4 49.4,212.3 49.9,212.2 50.4,211.7 50.9,214.0 51.4,214.2 51.9,211.6 52.4,211.6 52.9,212.1 53.4,211.1 53.9,213.6 54.4,213.0 54.9,214.5 55.4,212.2 55.9,214.8 56.4,214.2 56.9,210.4 57.4,214.2 57.9,210.4 58.4,212.2 58.9,212.4 59.4,213.7 59.9,211.8 60.4,212.7 60.9,210.8 61.4,209.5 61.9,212.4 62.4,214.4 62.9,208.1 63.4,210.7 63.9,210.8 64.4,208.8 64.9,209.0 65.4,210.3 65.9,213.0 66.4,208.9 66.9,212.1 67.4,211.0 67.9,212.5 68.4,211.9 68.9,209.5 69.4,207.7 69.9,204.2 70.4,205.7 70.9,206.0 71.4,205.8 71.9,207.8 72.4,204.8 72.9,206.8 73.4,208.8 73.9,205.3 74.4,206.5 74.9,207.7 75.4,204.4 75.9,204.3 76.4,205.1 76.9,205.0 77.4,204.0 77.9,206.5 78.4,204.0 78.9,203.9 79.4,202.5 79.9,203.1 80.4,206.8 80.9,206.1 81.4,206.0 81.9,205.7 82.4,203.7 82.9,202.1 83.4,202.1 83.9,202.7 84.4,199.5 84.9,202.6 85.4,202.5 85.9,199.9 86.4,200.0 86.9,199.0 87.4,200.6 87.9,197.2 88.4,199.4 88.9,197.6 89.4,198.2 89.9,196.1 90.4,197.4 90.9,196.0 91.4,193.3 91.9,196.0 92.4,193.2 92.9,194.1 93.4,193.3 93.9,193.2 94.4,192.1 94.9,190.1 95.4,190.6 95.9,190.9 96.4,189.0 96.9,190.1 97.4,189.0 97.9,187.6 98.4,187.0 98.9,187.5 99.4,185.0 99.9,183.8 100.4,183.6 100.9,182.7 101.4,182.4 101.9,182.7 102.4,182.1 102.9,180.7 103.4,180.4 103.9,181.0 104.4,179.1 104.9,178.6 105.4,178.8 105.9,177.0 106.4,177.2 106.9,177.0 107.4,175.9 107.9,176.2 108.4,175.4 108.9,174.5 109.4,174.9 109.9,174.0 110.4,173.4 110.9,173.1 111.4,171.7 111.9,172.0 112.4,170.2 112.9,169.8 113.4,169.7 113.9,169.9 114.4,170.0 114.9,169.2 115.4,168.5 115.9,168.5 116.4,168.8 116.9,167.3 117.4,167.3 117.9,165.9 118.4,166.1 118.9,165.8 119.4,164.4 119.9,164.6 120.4,163.7 120.9,164.0 121.4,163.9 121.9,162.4 122.4,162.3 122.9,163.3 123.4,162.4 123.9,161.5 124.4,161.8 124.9,160.9 125.4,160.8 125.9,159.5 126.4,159.4 126.9,158.2 127.4,158.0 127.9,158.5 128.4,157.7 128.9,157.0 129.4,158.6 129.9,157.8 130.4,158.5 130.9,158.0 131.4,157.2 131.9,157.4 132.4,156.2 132.9,156.0 133.4,155.9 133.9,154.5 134.4,154.8 134.9,154.5 135.4,153.0 135.9,153.6 136.4,153.1 136.9,153.7 137.4,151.8 137.9,152.0 138.4,152.4 138.9,151.8 139.4,151.5 139.9,151.4 140.4,151.5 140.9,152.0 141.4,150.7 141.9,151.6 142.4,151.3 142.9,150.4 143.4,149.5 143.9,149.5 144.4,150.2 144.9,149.5 145.4,150.1 145.9,149.8 146.4,149.5 146.9,149.1 147.4,149.0 147.9,148.2 148.4,148.9 148.9,148.7 149.4,148.4 149.9,148.6 150.4,147.9 150.9,148.5 151.4,147.9 151.9,148.4 152.4,147.2 152.9,147.3 153.4,146.6 153.9,147.3 154.4,146.9 154.9,146.7 155.4,146.9 155.9,147.6 156.4,147.5 156.9,146.5 157.4,145.8 157.9,146.3 158.4,145.7 158.9,145.9 159.4,145.5 159.9,146.1 160.4,146.6 160.9,146.5 161.4,145.1 161.9,146.0 162.4,145.7 162.9,145.3 163.4,144.7 163.9,145.5 164.4,145.8 164.9,144.6 165.4,145.0 165.9,144.6 166.4,145.0 166.9,145.1 167.4,145.2 167.9,145.9 168.4,144.8 168.9,145.2 169.4,145.5 169.9,144.9 170.4,144.6 170.9,145.2 171.4,145.7 171.9,145.4 172.4,145.1 172.9,145.1 173.4,144.4 173.9,144.2 174.4,144.9 174.9,144.9 175.4,144.9 175.9,145.0 176.4,144.4 176.9,144.0 177.4,144.0 177.9,143.7 178.4,143.7 178.9,143.7 179.4,144.7 179.9,144.9 180.4,144.6 180.9,144.3 181.4,144.6 181.9,144.4 182.4,144.5 182.9,144.1 183.4,144.1 183.9,144.4 184.4,144.1 184.9,144.1 185.4,144.1 185.9,144.1 186.4,143.7 186.9,144.1 187.4,144.0 187.9,143.8 188.4,143.7 188.9,144.0 189.4,143.6 189.9,143.1 190.4,143.3 190.9,142.9 191.4,142.6 191.9,142.8 192.4,142.6 192.9,142.1 193.4,142.6 193.9,142.2 194.4,142.2 194.9,141.9 195.4,141.2 195.9,140.9 196.4,140.5 196.9,140.1 197.4,139.3 197.9,138.8 198.4,137.8 198.9,136.8 199.4,135.1 199.9,133.8 200.4,132.1 200.9,130.1 201.4,128.1 201.9,125.6 202.4,123.5 202.9,121.2 203.4,118.8 203.9,117.2 204.4,116.6 204.9,116.8 205.4,117.6 205.9,118.7 206.4,120.3 206.9,122.4 207.4,124.1 207.9,126.0 208.4,127.7 208.9,129.1 209.4,130.0 209.9,130.5 210.4,130.1 210.9,128.7 211.4,126.6 211.9,123.7 212.4,120.2 212.9,116.2 213.4,112.1 213.9,107.8 214.4,103.8 214.9,100.0 215.4,97.7 215.9,97.2 216.4,99.1 216.9,102.4 217.4,106.0 217.9,109.7 218.4,113.1 218.9,116.2 219.4,119.0 219.9,120.8 220.4,121.8 220.9,122.5 221.4,122.7 221.9,122.3 222.4,121.7 222.9,120.8 223.4,119.8 223.9,118.4 224.4,116.8 224.9,115.3 225.4,113.5 225.9,111.5 226.4,109.5 226.9,107.4 227.4,105.5 227.9,103.9 228.4,102.7 228.9,102.6 229.4,103.6 229.9,105.1 230.4,107.3 230.9,109.4 231.4,111.5 231.9,113.7 232.4,115.5 232.9,117.4 233.4,119.1 233.9,120.4 234.4,121.8 234.9,122.9 235.4,123.4 235.9,124.1 236.4,124.1 236.9,121.0 237.4,108.8 237.9,89.4 238.4,71.3 238.9,58.2 239.4,50.6 239.9,48.9 240.4,53.2 240.9,63.2 241.4,78.5 241.9,97.4 242.4,113.2 242.9,118.9 243.4,119.6 243.9,118.9 244.4,118.1 244.9,117.0 245.4,116.1 245.9,115.1 246.4,113.8 246.9,112.6 247.4,111.2 247.9,109.6 248.4,108.2 248.9,106.5 249.4,104.5 249.9,102.8 250.4,101.1 250.9,99.4 251.4,98.8 251.9,98.6 252.4,99.2 252.9,100.5 253.4,102.3 253.9,104.3 254.4,106.5 254.9,108.4 255.4,110.2 255.9,111.4 256.4,113.2 256.9,114.4 257.4,116.1 257.9,116.6 258.4,117.6 258.9,118.4 259.4,118.8 259.9,119.3 260.4,119.6 260.9,119.6 261.4,119.6 261.9,118.9 262.4,117.5 262.9,116.8 263.4,117.0 263.9,117.8 264.4,119.3 264.9,121.2 265.4,123.1 265.9,123.6 266.4,125.1 266.9,126.4 267.4,126.4 267.9,126.8 268.4,127.8 268.9,127.7 269.4,128.6 269.9,128.2 270.4,127.9 270.9,127.7 271.4,127.6 271.9,126.6 272.4,124.8 272.9,122.9 273.4,119.4 273.9,116.1 274.4,112.7 274.9,109.3 275.4,108.3 275.9,108.9 276.4,111.8 276.9,115.1 277.4,118.8 277.9,121.0 278.4,123.1 278.9,124.1 279.4,123.4 279.9,122.4 280.4,122.0 280.9,123.2 281.4,124.7 281.9,126.0 282.4,128.7 282.9,130.4 283.4,131.8 283.9,132.3 284.4,134.2 284.9,133.9 285.4,133.6 285.9,134.2 286.4,134.6 286.9,134.8 287.4,135.5 287.9,135.0 288.4,134.9 288.9,135.1 289.4,136.3 289.9,135.1 290.4,134.7 290.9,134.7 291.4,134.1 291.9,131.6 292.4,131.6 292.9,129.3 293.4,129.2 293.9,128.8 294.4,129.3 294.9,130.0 295.4,131.7 295.9,134.4 296.4,133.9 296.9,134.6 297.4,137.7 297.9,137.7 298.4,136.9 298.9,138.2 299.4,140.2 299.9,138.7 300.4,138.8 300.9,141.1 301.4,140.1 301.9,140.5 302.4,140.8 302.9,142.4 303.4,140.5 303.9,140.5 304.4,142.0 304.9,140.8 305.4,141.6 305.9,142.8 306.4,141.7 306.9,141.5 307.4,142.2 307.9,143.6 308.4,141.8 308.9,142.9 309.4,142.7 309.9,143.3 310.4,142.3 310.9,143.6 311.4,143.4 311.4,152.4 310.9,151.0 310.4,147.8 309.9,148.4 309.4,148.1 308.9,147.6 308.4,149.2 307.9,149.1 307.4,148.6 306.9,148.7 306.4,149.9 305.9,147.6 305.4,148.5 304.9,148.0 304.4,146.2 303.9,147.5 303.4,146.7 302.9,146.5 302.4,146.4 301.9,146.8 301.4,145.2 300.9,146.0 300.4,145.5 299.9,143.3 299.4,143.1 298.9,143.1 298.4,143.2 297.9,143.6 297.4,142.1 296.9,139.5 296.4,138.5 295.9,139.4 295.4,137.9 294.9,136.5 294.4,134.8 293.9,134.4 293.4,132.6 292.9,134.6 292.4,135.7 291.9,137.7 291.4,137.7 290.9,138.8 290.4,138.4 289.9,139.9 289.4,141.6 288.9,140.1 288.4,139.4 287.9,138.6 287.4,139.5 286.9,139.0 286.4,138.8 285.9,138.9 285.4,138.4 284.9,137.9 284.4,137.2 283.9,136.5 283.4,134.8 282.9,133.9 282.4,133.3 281.9,129.6 281.4,127.9 280.9,126.0 280.4,126.4 279.9,125.4 279.4,127.3 278.9,126.7 278.4,125.8 277.9,124.7 277.4,122.1 276.9,117.9 276.4,114.1 275.9,111.9 275.4,111.6 274.9,112.5 274.4,115.2 273.9,119.3 273.4,123.0 272.9,125.1 272.4,127.5 271.9,129.0 271.4,129.8 270.9,130.7 270.4,131.0 269.9,131.2 269.4,130.8 268.9,130.8 268.4,130.5 267.9,129.2 267.4,129.6 266.9,128.2 266.4,127.5 265.9,126.2 265.4,125.4 264.9,123.3 264.4,121.6 263.9,120.0 263.4,119.1 262.9,119.0 262.4,120.3 261.9,120.8 261.4,121.0 260.9,122.4 260.4,121.7 259.9,121.5 259.4,120.7 258.9,120.4 258.4,119.3 257.9,118.6 257.4,117.6 256.9,116.0 256.4,114.4 255.9,113.0 255.4,111.4 254.9,109.8 254.4,107.7 253.9,105.6 253.4,103.6 252.9,102.0 252.4,100.4 251.9,99.7 251.4,99.8 250.9,100.6 250.4,102.1 249.9,104.1 249.4,105.6 248.9,107.3 248.4,109.0 247.9,110.8 247.4,112.2 246.9,113.6 246.4,114.8 245.9,115.9 245.4,117.2 244.9,118.2 244.4,119.1 243.9,120.0 243.4,120.4 242.9,119.9 242.4,114.0 241.9,98.0 241.4,79.1 240.9,63.7 240.4,53.7 239.9,49.5 239.4,51.2 238.9,58.7 238.4,71.9 237.9,90.0 237.4,109.6 236.9,122.4 236.4,125.0 235.9,125.0 235.4,124.6 234.9,124.1 234.4,122.7 233.9,121.6 233.4,120.0 232.9,118.5 232.4,116.5 231.9,114.4 231.4,112.4 230.9,110.1 230.4,108.1 229.9,106.0 229.4,104.2 228.9,103.3 228.4,103.4 227.9,104.6 227.4,106.2 226.9,108.2 226.4,110.3 225.9,112.3 225.4,114.4 224.9,116.0 224.4,117.8 223.9,119.3 223.4,120.6 222.9,121.6 222.4,122.6 221.9,123.2 221.4,123.6 220.9,123.5 220.4,123.0 219.9,121.6 219.4,119.9 218.9,117.3 218.4,114.1 217.9,110.5 217.4,106.8 216.9,103.0 216.4,99.8 215.9,97.9 215.4,98.3 214.9,100.7 214.4,104.4 213.9,108.5 213.4,112.9 212.9,117.1 212.4,121.4 211.9,124.6 211.4,127.9 210.9,129.9 210.4,131.2 209.9,131.8 209.4,131.2 208.9,130.4 208.4,129.1 207.9,127.0 207.4,125.3 206.9,123.3 206.4,121.5 205.9,119.8 205.4,118.5 204.9,117.7 204.4,117.6 203.9,118.0 203.4,119.9 202.9,122.2 202.4,124.4 201.9,126.9 201.4,129.0 200.9,131.4 200.4,133.2 199.9,135.1 199.4,136.6 198.9,138.0 198.4,139.0 197.9,139.8 197.4,140.6 196.9,141.6 196.4,141.9 195.9,142.2 195.4,142.7 194.9,143.2 194.4,143.4 193.9,143.3 193.4,144.0 192.9,143.8 192.4,144.3 191.9,144.1 191.4,144.1 190.9,144.8 190.4,144.7 189.9,144.7 189.4,145.0 188.9,145.4 188.4,145.3 187.9,145.4 187.4,145.6 186.9,145.6 186.4,145.8 185.9,145.5 185.4,145.4 184.9,145.5 184.4,145.5 183.9,145.9 183.4,145.8 182.9,146.3 182.4,145.8 181.9,145.9 181.4,146.3 180.9,146.2 180.4,146.1 179.9,146.6 179.4,146.6 178.9,147.5 178.4,147.3 177.9,147.6 177.4,147.8 176.9,147.7 176.4,148.2 175.9,147.6 175.4,147.7 174.9,148.2 174.4,147.9 173.9,147.7 173.4,147.1 172.9,148.3 172.4,148.5 171.9,149.4 171.4,147.9 170.9,148.0 170.4,148.7 169.9,148.0 169.4,148.3 168.9,148.8 168.4,148.3 167.9,147.9 167.4,149.2 166.9,149.2 166.4,148.4 165.9,148.5 165.4,147.9 164.9,149.0 164.4,148.2 163.9,149.0 163.4,148.8 162.9,148.7 162.4,149.1 161.9,149.4 161.4,148.6 160.9,150.7 160.4,150.2 159.9,149.0 159.4,149.8 158.9,149.4 158.4,149.8 157.9,149.9 157.4,150.2 156.9,150.2 156.4,150.9 155.9,150.5 155.4,150.4 154.9,151.1 154.4,149.5 153.9,149.9 153.4,150.8 152.9,150.6 152.4,150.8 151.9,151.3 151.4,152.0 150.9,151.5 150.4,151.7 149.9,151.0 149.4,152.1 148.9,152.3 148.4,151.9 147.9,152.7 147.4,151.9 146.9,152.7 146.4,153.4 145.9,152.9 145.4,154.5 144.9,153.7 144.4,153.8 143.9,153.9 143.4,153.7 142.9,154.8 142.4,154.2 141.9,154.2 141.4,154.9 140.9,156.1 140.4,156.0 139.9,155.7 139.4,155.6 138.9,155.8 138.4,156.8 137.9,155.4 137.4,156.8 136.9,157.4 136.4,157.9 135.9,157.9 135.4,157.9 134.9,157.4 134.4,159.1 133.9,158.4 133.4,161.1 132.9,159.1 132.4,160.9 131.9,161.4 131.4,162.9 130.9,162.6 130.4,162.4 129.9,162.5 129.4,162.7 128.9,163.6 128.4,162.5 127.9,162.4 127.4,162.8 126.9,163.1 126.4,164.0 125.9,164.4 125.4,164.5 124.9,165.8 124.4,165.5 123.9,166.8 123.4,166.6 122.9,169.1 122.4,167.7 121.9,167.8 121.4,167.4 120.9,167.5 120.4,168.4 119.9,168.4 119.4,168.5 118.9,170.2 118.4,171.1 117.9,170.5 117.4,171.6 116.9,171.2 116.4,173.3 115.9,172.9 115.4,172.2 114.9,172.4 114.4,173.6 113.9,173.8 113.4,174.2 112.9,173.6 112.4,175.1 111.9,175.6 111.4,175.7 110.9,176.3 110.4,177.2 109.9,177.1 109.4,177.5 108.9,178.6 108.4,179.2 107.9,180.3 107.4,181.1 106.9,180.4 106.4,181.3 105.9,182.3 105.4,182.6 104.9,184.2 104.4,184.8 103.9,184.6 103.4,185.5 102.9,185.8 102.4,186.6 101.9,186.0 101.4,186.8 100.9,189.0 100.4,188.2 99.9,191.1 99.4,191.2 98.9,190.9 98.4,192.5 97.9,193.4 97.4,194.6 96.9,194.4 96.4,195.0 95.9,197.4 95.4,195.5 94.9,196.6 94.4,196.9 93.9,198.6 93.4,198.1 92.9,201.3 92.4,201.4 91.9,201.7 91.4,201.7 90.9,202.8 90.4,204.1 89.9,203.4 89.4,207.3 88.9,207.1 88.4,208.2 87.9,206.1 87.4,208.2 86.9,208.9 86.4,207.0 85.9,211.5 85.4,211.1 84.9,214.1 84.4,210.8 83.9,212.0 83.4,212.3 82.9,213.2 82.4,214.1 81.9,214.8 81.4,217.1 80.9,217.4 80.4,217.0 79.9,215.9 79.4,214.5 78.9,213.2 78.4,216.4 77.9,216.4 77.4,220.3 76.9,223.6 76.4,219.4 75.9,217.0 75.4,219.9 74.9,222.1 74.4,219.2 73.9,220.7 73.4,219.5 72.9,217.8 72.4,220.1 71.9,221.4 71.4,217.5 70.9,218.4 70.4,218.9 69.9,219.1 69.4,224.5 68.9,220.8 68.4,223.4 67.9,229.2 67.4,226.0 66.9,225.8 66.4,222.7 65.9,224.0 65.4,227.2 64.9,226.2 64.4,222.9 63.9,223.4 63.4,223.3 62.9,220.6 62.4,229.1 61.9,222.2 61.4,223.0 60.9,225.8 60.4,224.2 59.9,222.9 59.4,224.9 58.9,224.3 58.4,222.6 57.9,220.9 57.4,223.4 56.9,224.1 56.4,224.8 55.9,227.2 55.4,225.3 54.9,222.3 54.4,220.9 53.9,221.9 53.4,221.5 52.9,221.7 52.4,221.7 51.9,223.9 51.4,222.0 50.9,223.5 50.4,222.8 49.9,221.6 49.4,220.6 48.9,223.7 48.4,218.7 47.9,220.7 47.4,219.9 46.9,218.7 46.4,219.8 45.9,222.5 45.4,219.5 44.9,219.8 44.4,223.2 43.9,221.3 43.4,222.1 42.9,221.2 42.4,220.1 41.9,218.5 41.4,221.5 40.9,219.2 40.4,220.7" fill="#00acff" stroke="#00acff" stroke-width="1.0" stroke-linejoin="round"/>
<polygon points="40.4,207.8 40.9,207.2 41.4,208.4 41.9,208.0 42.4,206.1 42.9,205.4 43.4,207.7 43.9,207.3 44.4,207.6 44.9,207.3 45.4,205.2 45.9,205.7 46.4,206.3 46.9,206.6 47.4,209.9 47.9,206.3 48.4,210.2 48.9,210.7 49.4,210.3 49.9,210.2 50.4,209.1 50.9,210.7 51.4,206.7 51.9,208.8 52.4,206.9 52.9,209.0 53.4,210.7 53.9,211.1 54.4,207.9 54.9,208.3 55.4,209.1 55.9,209.7 56.4,211.1 56.9,208.8 57.4,207.2 57.9,210.2 58.4,210.2 58.9,204.8 59.4,205.7 59.9,210.5 60.4,209.6 60.9,210.2 61.4,206.6 61.9,209.4 62.4,204.1 62.9,205.6 63.4,205.9 63.9,207.1 64.4,206.6 64.9,207.2 65.4,206.5 65.9,204.5 66.4,206.4 66.9,203.1 67.4,206.7 67.9,204.9 68.4,207.7 68.9,203.6 69.4,205.7 69.9,202.9 70.4,204.2 70.9,202.9 71.4,205.8 71.9,201.0 72.4,200.6 72.9,200.9 73.4,200.0 73.9,200.8 74.4,200.1 74.9,198.6 75.4,199.5 75.9,200.3 76.4,196.7 76.9,197.2 77.4,198.6 77.9,194.7 78.4,196.6 78.9,197.1 79.4,195.6 79.9,199.4 80.4,199.5 80.9,195.9 81.4,199.1 81.9,197.1 82.4,194.1 82.9,196.1 83.4,193.7 83.9,196.4 84.4,193.7 84.9,196.1 85.4,194.0 85.9,191.9 86.4,191.1 86.9,191.4 87.4,192.3 87.9,191.1 88.4,190.7 88.9,192.0 89.4,189.7 89.9,188.2 90.4,188.2 90.9,189.0 91.4,188.3 91.9,188.1 92.4,187.5 92.9,186.6 93.4,184.8 93.9,184.6 94.4,184.9 94.9,182.8 95.4,182.3 95.9,182.4 96.4,181.0 96.9,181.5 97.4,180.9 97.9,180.1 98.4,178.8 98.9,179.1 99.4,178.3 99.9,177.3 100.4,176.9 100.9,176.5 101.4,175.2 101.9,173.8 102.4,173.9 102.9,172.6 103.4,172.0 103.9,172.2 104.4,171.4 104.9,170.8 105.4,169.9 105.9,169.7 106.4,169.6 106.9,168.5 107.4,169.1 107.9,168.4 108.4,167.4 108.9,166.7 109.4,166.3 109.9,165.4 110.4,165.7 110.9,165.4 111.4,164.7 111.9,163.5 112.4,163.6 112.9,162.6 113.4,162.2 113.9,161.6 114.4,161.0 114.9,160.4 115.4,159.7 115.9,159.4 116.4,159.9 116.9,159.5 117.4,158.5 117.9,157.7 118.4,157.1 118.9,157.4 119.4,157.2 119.9,156.3 120.4,155.5 120.9,155.8 121.4,155.4 121.9,156.2 122.4,155.3 122.9,155.2 123.4,154.9 123.9,154.2 124.4,153.8 124.9,153.3 125.4,152.5 125.9,152.0 126.4,152.2 126.9,152.1 127.4,151.2 127.9,150.5 128.4,150.4 128.9,149.6 129.4,149.0 129.9,149.1 130.4,148.9 130.9,149.0 131.4,147.9 131.9,147.8 132.4,147.5 132.9,147.5 133.4,146.6 133.9,145.8 134.4,146.0 134.9,145.4 135.4,146.1 135.9,145.5 136.4,144.9 136.9,145.6 137.4,144.1 137.9,145.0 138.4,143.9 138.9,144.0 139.4,144.1 139.9,143.8 140.4,144.1 140.9,142.8 141.4,143.7 141.9,142.2 142.4,142.0 142.9,141.8 143.4,142.5 143.9,141.6 144.4,141.2 144.9,141.7 145.4,141.6 145.9,141.2 146.4,142.0 146.9,141.2 147.4,140.4 147.9,140.2 148.4,139.8 148.9,139.7 149.4,140.4 149.9,139.5 150.4,140.1 150.9,139.6 151.4,139.6 151.9,139.4 152.4,139.1 152.9,139.5 153.4,138.6 153.9,139.2 154.4,138.6 154.9,139.4 155.4,138.4 155.9,138.3 156.4,138.7 156.9,138.2 157.4,138.1 157.9,137.6 158.4,138.2 158.9,138.3 159.4,137.8 159.9,137.8 160.4,137.5 160.9,136.9 161.4,137.1 161.9,137.3 162.4,137.4 162.9,136.6 163.4,137.2 163.9,137.6 164.4,137.3 164.9,137.4 165.4,137.3 165.9,137.2 166.4,137.1 166.9,136.5 167.4,136.9 167.9,136.2 168.4,136.7 168.9,136.7 169.4,136.2 169.9,136.4 170.4,136.1 170.9,136.1 171.4,136.7 171.9,136.1 172.4,136.4 172.9,136.2 173.4,136.1 173.9,135.7 174.4,136.2 174.9,136.8 175.4,136.5 175.9,136.3 176.4,135.8 176.9,135.8 177.4,136.4 177.9,135.7 178.4,136.2 178.9,136.1 179.4,136.4 179.9,136.4 180.4,136.4 180.9,136.4 181.4,136.1 181.9,136.1 182.4,136.3 182.9,135.9 183.4,136.0 183.9,136.2 184.4,135.9 184.9,135.9 185.4,136.0 185.9,136.0 186.4,135.8 186.9,135.8 187.4,135.6 187.9,135.4 188.4,135.3 188.9,135.4 189.4,135.2 189.9,135.1 190.4,135.1 190.9,135.2 191.4,135.0 191.9,134.8 192.4,134.9 192.9,134.5 193.4,134.5 193.9,134.2 194.4,134.2 194.9,133.9 195.4,133.8 195.9,133.7 196.4,133.5 196.9,132.8 197.4,132.4 197.9,131.8 198.4,131.0 198.9,130.1 199.4,129.2 199.9,127.9 200.4,126.4 200.9,124.8 201.4,123.0 201.9,120.8 202.4,118.9 202.9,116.5 203.4,114.7 203.9,113.2 204.4,112.4 204.9,112.7 205.4,113.2 205.9,114.5 206.4,115.9 206.9,117.7 207.4,119.6 207.9,121.3 208.4,123.0 208.9,124.3 209.4,125.6 209.9,125.7 210.4,125.4 210.9,124.5 211.4,122.4 211.9,119.7 212.4,116.3 212.9,112.6 213.4,108.3 213.9,104.2 214.4,100.2 214.9,96.7 215.4,94.4 215.9,94.2 216.4,96.0 216.9,99.1 217.4,102.7 217.9,106.4 218.4,109.9 218.9,113.0 219.4,115.7 219.9,117.7 220.4,118.9 220.9,119.7 221.4,119.7 221.9,119.3 222.4,118.7 222.9,117.9 223.4,116.8 223.9,115.4 224.4,114.0 224.9,112.3 225.4,110.5 225.9,108.7 226.4,106.8 226.9,104.9 227.4,103.0 227.9,101.4 228.4,100.3 228.9,100.2 229.4,101.1 229.9,102.6 230.4,104.6 230.9,106.6 231.4,108.8 231.9,110.9 232.4,112.6 232.9,114.6 233.4,116.1 233.9,117.5 234.4,118.7 234.9,119.9 235.4,120.8 235.9,121.3 236.4,121.5 236.9,118.7 237.4,107.7 237.9,89.3 238.4,71.7 238.9,58.7 239.4,51.0 239.9,48.9 240.4,52.4 240.9,61.6 241.4,76.0 241.9,93.8 242.4,109.6 242.9,116.1 243.4,116.8 243.9,116.2 244.4,115.4 244.9,114.8 245.4,113.5 245.9,112.6 246.4,111.5 246.9,109.8 247.4,108.6 247.9,107.2 248.4,105.6 248.9,103.9 249.4,102.4 249.9,100.6 250.4,98.9 250.9,97.7 251.4,97.0 251.9,96.8 252.4,97.5 252.9,98.7 253.4,100.5 253.9,102.4 254.4,104.2 254.9,106.1 255.4,107.5 255.9,109.2 256.4,110.9 256.9,112.6 257.4,113.9 257.9,114.8 258.4,115.7 258.9,116.6 259.4,117.8 259.9,118.0 260.4,118.5 260.9,117.9 261.4,117.7 261.9,116.9 262.4,116.3 262.9,115.9 263.4,115.5 263.9,116.9 264.4,118.7 264.9,120.1 265.4,121.7 265.9,122.2 266.4,123.7 266.9,123.8 267.4,124.5 267.9,125.8 268.4,125.5 268.9,126.7 269.4,126.5 269.9,126.5 270.4,127.0 270.9,127.0 271.4,125.9 271.9,124.8 272.4,123.7 272.9,120.9 273.4,118.3 273.9,114.8 274.4,111.2 274.9,107.5 275.4,106.6 275.9,107.4 276.4,109.9 276.9,113.3 277.4,116.1 277.9,119.2 278.4,120.3 278.9,121.4 279.4,119.8 279.9,119.0 280.4,119.7 280.9,120.1 281.4,123.3 281.9,124.6 282.4,127.3 282.9,129.8 283.4,130.2 283.9,131.6 284.4,132.4 284.9,132.2 285.4,132.3 285.9,132.8 286.4,132.7 286.9,133.3 287.4,133.6 287.9,133.7 288.4,133.5 288.9,132.8 289.4,133.7 289.9,133.6 290.4,132.3 290.9,133.6 291.4,132.1 291.9,130.9 292.4,130.6 292.9,128.8 293.4,128.8 293.9,127.8 294.4,128.6 294.9,130.0 295.4,131.8 295.9,132.8 296.4,133.4 296.9,134.5 297.4,136.1 297.9,135.5 298.4,136.4 298.9,137.0 299.4,136.9 299.9,138.1 300.4,138.9 300.9,138.4 301.4,138.9 301.9,139.1 302.4,140.4 302.9,140.1 303.4,138.8 303.9,139.3 304.4,140.5 304.9,139.1 305.4,140.4 305.9,138.9 306.4,140.4 306.9,139.2 307.4,140.5 307.9,139.6 308.4,141.3 308.9,141.4 309.4,140.1 309.9,140.1 310.4,140.4 310.9,142.3 311.4,141.6 311.4,149.0 310.9,147.6 310.4,147.6 309.9,146.2 309.4,147.6 308.9,145.2 308.4,146.5 307.9,146.2 307.4,145.9 306.9,144.8 306.4,147.8 305.9,145.7 305.4,146.6 304.9,146.2 304.4,146.3 303.9,144.5 303.4,144.1 302.9,145.6 302.4,146.2 301.9,146.4 301.4,145.1 300.9,146.1 300.4,143.1 299.9,143.6 299.4,143.8 298.9,143.6 298.4,142.0 297.9,141.9 297.4,140.9 296.9,141.4 296.4,139.2 295.9,137.9 295.4,136.4 294.9,135.7 294.4,133.2 293.9,133.1 293.4,132.9 292.9,133.2 292.4,135.4 291.9,137.4 291.4,136.5 290.9,137.5 290.4,136.9 289.9,138.1 289.4,137.4 288.9,137.8 288.4,137.3 287.9,138.2 287.4,137.5 286.9,137.8 286.4,138.6 285.9,137.9 285.4,135.9 284.9,136.8 284.4,136.1 283.9,134.6 283.4,134.6 282.9,133.6 282.4,130.7 281.9,128.4 281.4,125.8 280.9,124.1 280.4,122.6 279.9,122.5 279.4,123.9 278.9,124.1 278.4,124.5 277.9,122.9 277.4,120.0 276.9,116.8 276.4,114.0 275.9,110.1 275.4,109.7 274.9,111.8 274.4,113.8 273.9,117.5 273.4,120.9 272.9,124.1 272.4,125.9 271.9,128.3 271.4,129.2 270.9,129.1 270.4,130.2 269.9,129.8 269.4,129.8 268.9,129.6 268.4,128.1 267.9,128.1 267.4,127.1 266.9,126.9 266.4,125.7 265.9,125.0 265.4,123.7 264.9,122.7 264.4,120.5 263.9,119.0 263.4,117.6 262.9,117.6 262.4,118.2 261.9,119.2 261.4,119.9 260.9,119.9 260.4,120.3 259.9,119.7 259.4,119.9 258.9,118.3 258.4,117.6 257.9,117.0 257.4,116.1 256.9,114.0 256.4,112.7 255.9,110.8 255.4,109.5 254.9,107.3 254.4,105.9 253.9,103.6 253.4,101.9 252.9,100.4 252.4,98.6 251.9,98.2 251.4,98.3 250.9,99.3 250.4,100.1 249.9,102.0 249.4,103.5 248.9,104.9 248.4,106.5 247.9,108.1 247.4,109.5 246.9,110.9 246.4,112.4 245.9,113.5 245.4,114.5 244.9,115.7 244.4,116.3 243.9,117.3 243.4,117.7 242.9,117.2 242.4,110.3 241.9,94.5 241.4,76.5 240.9,62.1 240.4,53.0 239.9,49.4 239.4,51.5 238.9,59.2 238.4,72.3 237.9,90.0 237.4,108.6 236.9,119.9 236.4,122.4 235.9,122.3 235.4,121.8 234.9,120.8 234.4,120.0 233.9,118.6 233.4,117.1 232.9,115.3 232.4,113.6 231.9,111.6 231.4,109.6 230.9,107.3 230.4,105.2 229.9,103.4 229.4,101.7 228.9,100.9 228.4,101.0 227.9,102.1 227.4,103.8 226.9,105.7 226.4,107.6 225.9,109.7 225.4,111.4 224.9,113.3 224.4,114.8 223.9,116.3 223.4,117.6 222.9,118.7 222.4,119.6 221.9,120.4 221.4,120.6 220.9,120.6 220.4,119.9 219.9,118.6 219.4,116.6 218.9,113.8 218.4,110.7 217.9,107.1 217.4,103.3 216.9,99.7 216.4,96.7 215.9,94.8 215.4,95.3 214.9,97.3 214.4,101.0 213.9,104.9 213.4,109.2 212.9,113.4 212.4,117.4 211.9,120.8 211.4,123.5 210.9,125.5 210.4,126.5 209.9,126.7 209.4,126.8 208.9,125.8 208.4,124.1 207.9,122.5 207.4,120.6 206.9,118.7 206.4,116.9 205.9,115.3 205.4,114.0 204.9,113.5 204.4,113.3 203.9,114.1 203.4,115.7 202.9,117.6 202.4,119.7 201.9,122.0 201.4,123.9 200.9,126.0 200.4,127.6 199.9,129.2 199.4,130.4 198.9,131.3 198.4,132.5 197.9,133.2 197.4,133.7 196.9,134.7 196.4,134.5 195.9,134.8 195.4,135.2 194.9,135.4 194.4,135.9 193.9,135.9 193.4,136.1 192.9,136.0 192.4,136.1 191.9,136.3 191.4,136.3 190.9,136.2 190.4,136.6 189.9,137.0 189.4,136.5 188.9,136.5 188.4,136.5 187.9,136.7 187.4,137.1 186.9,136.9 186.4,137.4 185.9,137.3 185.4,137.2 184.9,137.1 184.4,137.4 183.9,137.5 183.4,137.5 182.9,137.3 182.4,137.6 181.9,137.5 181.4,137.6 180.9,137.8 180.4,137.8 179.9,138.1 179.4,137.6 178.9,138.9 178.4,138.4 177.9,138.6 177.4,138.6 176.9,139.2 176.4,138.5 175.9,138.7 175.4,138.7 174.9,139.1 174.4,139.4 173.9,139.1 173.4,139.5 172.9,139.5 172.4,139.0 171.9,139.2 171.4,139.7 170.9,139.3 170.4,139.0 169.9,138.4 169.4,138.4 168.9,138.9 168.4,138.9 167.9,139.3 167.4,140.3 166.9,139.4 166.4,140.0 165.9,139.7 165.4,139.8 164.9,139.7 164.4,139.9 163.9,139.8 163.4,139.9 162.9,139.2 162.4,140.2 161.9,140.3 161.4,139.2 160.9,140.0 160.4,140.3 159.9,140.1 159.4,140.2 158.9,140.6 158.4,140.8 157.9,141.1 157.4,140.5 156.9,141.1 156.4,142.0 155.9,141.7 155.4,142.0 154.9,142.3 154.4,141.6 153.9,142.0 153.4,142.8 152.9,142.3 152.4,142.7 151.9,142.5 151.4,143.3 150.9,142.5 150.4,143.0 149.9,142.6 149.4,143.7 148.9,143.0 148.4,144.0 147.9,143.7 147.4,144.3 146.9,145.4 146.4,144.6 145.9,145.0 145.4,145.7 144.9,144.6 144.4,145.1 143.9,144.6 143.4,145.3 142.9,145.8 142.4,146.0 141.9,147.1 141.4,146.1 140.9,146.8 140.4,147.1 139.9,147.4 139.4,147.8 138.9,147.7 138.4,147.2 137.9,147.5 137.4,149.1 136.9,148.3 136.4,148.8 135.9,149.6 135.4,149.0 134.9,149.7 134.4,150.1 133.9,149.4 133.4,150.1 132.9,149.8 132.4,151.3 131.9,150.8 131.4,151.4 130.9,151.6 130.4,153.6 129.9,153.2 129.4,152.5 128.9,153.9 128.4,154.0 127.9,154.9 127.4,155.8 126.9,155.3 126.4,156.7 125.9,156.2 125.4,156.3 124.9,156.8 124.4,156.5 123.9,158.1 123.4,158.6 122.9,157.7 122.4,160.1 121.9,159.1 121.4,158.7 120.9,159.3 120.4,159.0 119.9,160.9 119.4,160.6 118.9,160.6 118.4,160.8 117.9,162.4 117.4,162.9 116.9,162.2 116.4,163.2 115.9,163.9 115.4,163.5 114.9,163.1 114.4,165.7 113.9,165.4 113.4,165.5 112.9,166.8 112.4,166.9 111.9,167.2 111.4,167.4 110.9,167.8 110.4,171.1 109.9,169.3 109.4,169.9 108.9,169.4 108.4,170.1 107.9,170.9 107.4,172.5 106.9,172.2 106.4,173.3 105.9,174.2 105.4,173.4 104.9,174.9 104.4,174.2 103.9,175.4 103.4,177.0 102.9,177.0 102.4,179.6 101.9,178.7 101.4,178.7 100.9,180.0 100.4,181.4 99.9,181.5 99.4,182.6 98.9,183.2 98.4,184.6 97.9,184.5 97.4,184.4 96.9,184.7 96.4,185.7 95.9,186.7 95.4,188.2 94.9,187.4 94.4,188.2 93.9,190.2 93.4,190.5 92.9,193.7 92.4,192.8 91.9,192.9 91.4,193.7 90.9,194.0 90.4,193.4 89.9,194.0 89.4,196.5 88.9,197.2 88.4,197.5 87.9,199.8 87.4,199.8 86.9,199.3 86.4,197.6 85.9,199.6 85.4,203.3 84.9,201.5 84.4,202.6 83.9,201.7 83.4,204.9 82.9,203.7 82.4,205.6 81.9,206.2 81.4,208.4 80.9,207.0 80.4,209.8 79.9,209.3 79.4,208.1 78.9,205.9 78.4,208.1 77.9,206.7 77.4,209.8 76.9,212.1 76.4,212.1 75.9,207.2 75.4,212.0 74.9,211.9 74.4,211.9 73.9,210.4 73.4,210.9 72.9,213.6 72.4,212.4 71.9,216.5 71.4,216.2 70.9,216.3 70.4,219.8 69.9,217.8 69.4,216.7 68.9,216.8 68.4,217.6 67.9,220.9 67.4,217.5 66.9,217.3 66.4,220.8 65.9,224.0 65.4,217.6 64.9,221.5 64.4,218.3 63.9,220.6 63.4,217.7 62.9,220.0 62.4,221.9 61.9,221.1 61.4,223.9 60.9,220.8 60.4,221.3 59.9,221.8 59.4,222.2 58.9,216.1 58.4,217.7 57.9,220.7 57.4,223.2 56.9,220.5 56.4,219.9 55.9,220.3 55.4,215.8 54.9,219.5 54.4,221.0 53.9,220.9 53.4,222.5 52.9,220.2 52.4,220.5 51.9,217.5 51.4,219.0 50.9,217.3 50.4,219.0 49.9,222.5 49.4,218.9 48.9,219.4 48.4,216.3 47.9,220.0 47.4,217.2 46.9,222.0 46.4,214.9 45.9,215.9 45.4,216.3 44.9,215.5 44.4,218.7 43.9,217.6 43.4,215.8 42.9,216.9 42.4,219.4 41.9,221.0 41.4,217.2 40.9,216.1 40.4,218.3" fill="#00ccff" stroke="#00ccff" stroke-width="1.0" stroke-linejoin="round"/>
<polygon points="40.4,204.7 40.9,205.7 41.4,203.1 41.9,203.1 42.4,206.6 42.9,204.1 43.4,203.3 43.9,205.7 44.4,206.2 44.9,206.7 45.4,206.8 45.9,205.7 46.4,207.3 46.9,204.8 47.4,204.3 47.9,203.0 48.4,206.3 48.9,203.6 49.4,204.9 49.9,204.3 50.4,203.8 50.9,203.4 51.4,206.6 51.9,205.4 52.4,208.6 52.9,204.4 53.4,205.8 53.9,206.4 54.4,205.6 54.9,205.3 55.4,207.7 55.9,205.3 56.4,206.1 56.9,202.7 57.4,201.8 57.9,205.8 58.4,206.9 58.9,208.2 59.4,204.9 59.9,202.7 60.4,203.9 60.9,204.3 61.4,204.7 61.9,202.4 62.4,206.3 62.9,202.1 63.4,201.7 63.9,200.5 64.4,204.0 64.9,199.7 65.4,202.0 65.9,198.1 66.4,199.0 66.9,199.2 67.4,197.6 67.9,198.2 68.4,199.4 68.9,200.0 69.4,200.7 69.9,198.9 70.4,196.2 70.9,200.3 71.4,199.4 71.9,198.2 72.4,198.3 72.9,196.1 73.4,193.3 73.9,195.7 74.4,193.7 74.9,193.0 75.4,193.1 75.9,195.3 76.4,192.8 76.9,193.6 77.4,191.9 77.9,191.6 78.4,191.2 78.9,192.7 79.4,191.3 79.9,188.4 80.4,188.9 80.9,189.3 81.4,187.4 81.9,189.2 82.4,188.9 82.9,188.2 83.4,187.9 83.9,187.2 84.4,188.7 84.9,186.7 85.4,187.2 85.9,184.3 86.4,186.3 86.9,185.1 87.4,184.8 87.9,184.5 88.4,184.1 88.9,183.5 89.4,182.0 89.9,181.5 90.4,180.8 90.9,179.7 91.4,180.2 91.9,179.3 92.4,179.1 92.9,178.5 93.4,178.1 93.9,178.6 94.4,176.3 94.9,176.3 95.4,175.0 95.9,174.4 96.4,174.8 96.9,173.9 97.4,173.0 97.9,171.7 98.4,171.9 98.9,170.6 99.4,170.5 99.9,169.1 100.4,168.7 100.9,168.3 101.4,166.7 101.9,166.2 102.4,165.6 102.9,165.7 103.4,164.5 103.9,164.1 104.4,163.2 104.9,163.3 105.4,162.8 105.9,162.0 106.4,160.6 106.9,161.0 107.4,160.2 107.9,159.8 108.4,159.4 108.9,158.2 109.4,158.1 109.9,157.4 110.4,156.4 110.9,156.3 111.4,155.5 111.9,155.7 112.4,154.7 112.9,154.8 113.4,153.7 113.9,153.3 114.4,152.4 114.9,152.6 115.4,151.5 115.9,151.3 116.4,151.3 116.9,150.3 117.4,150.2 117.9,149.3 118.4,148.8 118.9,148.7 119.4,148.7 119.9,147.5 120.4,147.0 120.9,146.7 121.4,146.7 121.9,146.8 122.4,145.8 122.9,146.0 123.4,145.6 123.9,145.2 124.4,144.1 124.9,143.6 125.4,144.0 125.9,143.7 126.4,143.1 126.9,143.0 127.4,142.8 127.9,142.1 128.4,141.9 128.9,142.1 129.4,140.6 129.9,139.9 130.4,139.5 130.9,139.7 131.4,139.0 131.9,138.6 132.4,138.5 132.9,138.0 133.4,138.1 133.9,138.4 134.4,138.2 134.9,137.9 135.4,136.9 135.9,137.0 136.4,136.3 136.9,135.8 137.4,136.4 137.9,136.1 138.4,135.4 138.9,135.8 139.4,135.8 139.9,135.0 140.4,135.1 140.9,134.3 141.4,134.2 141.9,133.9 142.4,134.6 142.9,134.5 143.4,133.7 143.9,133.7 144.4,133.0 144.9,132.8 145.4,132.6 145.9,133.5 146.4,132.6 146.9,132.4 147.4,132.3 147.9,132.6 148.4,132.2 148.9,132.0 149.4,132.2 149.9,131.8 150.4,132.1 150.9,132.1 151.4,131.5 151.9,131.6 152.4,130.8 152.9,131.1 153.4,130.2 153.9,130.2 154.4,130.4 154.9,130.1 155.4,129.7 155.9,129.5 156.4,130.1 156.9,129.6 157.4,129.7 157.9,129.4 158.4,129.2 158.9,129.3 159.4,129.6 159.9,129.4 160.4,128.6 160.9,129.0 161.4,128.7 161.9,128.6 162.4,128.8 162.9,129.3 163.4,128.6 163.9,128.8 164.4,128.2 164.9,129.0 165.4,128.2 165.9,127.7 166.4,127.6 166.9,127.6 167.4,127.2 167.9,127.9 168.4,127.8 168.9,128.2 169.4,127.9 169.9,128.4 170.4,128.2 170.9,128.7 171.4,128.8 171.9,128.6 172.4,127.7 172.9,127.9 173.4,128.4 173.9,128.2 174.4,127.5 174.9,127.9 175.4,127.5 175.9,128.0 176.4,127.5 176.9,128.0 177.4,127.5 177.9,127.8 178.4,127.7 178.9,127.4 179.4,127.6 179.9,127.8 180.4,127.6 180.9,127.8 181.4,127.7 181.9,127.6 182.4,127.5 182.9,127.4 183.4,127.6 183.9,127.5 184.4,127.5 184.9,127.2 185.4,127.2 185.9,127.3 186.4,127.3 186.9,127.3 187.4,127.2 187.9,127.0 188.4,126.9 188.9,127.0 189.4,126.8 189.9,126.8 190.4,126.8 190.9,126.6 191.4,126.7 191.9,126.6 192.4,126.3 192.9,126.2 193.4,126.3 193.9,126.2 194.4,126.3 194.9,126.0 195.4,125.8 195.9,125.6 196.4,125.4 196.9,124.9 197.4,124.8 197.9,124.3 198.4,124.1 198.9,123.3 199.4,122.3 199.9,121.5 200.4,120.4 200.9,118.8 201.4,117.2 201.9,115.7 202.4,113.7 202.9,112.0 203.4,110.1 203.9,108.8 204.4,108.1 204.9,108.1 205.4,108.8 205.9,110.0 206.4,111.5 206.9,113.1 207.4,114.5 207.9,116.2 208.4,117.6 208.9,118.9 209.4,119.9 209.9,120.2 210.4,119.9 210.9,119.2 211.4,117.3 211.9,115.0 212.4,111.9 212.9,108.2 213.4,104.4 213.9,100.5 214.4,96.6 214.9,93.4 215.4,91.1 215.9,90.9 216.4,92.5 216.9,95.5 217.4,99.0 217.9,102.7 218.4,106.1 218.9,109.1 219.4,111.9 219.9,113.9 220.4,115.0 220.9,115.8 221.4,115.9 221.9,115.6 222.4,115.0 222.9,114.2 223.4,113.2 223.9,111.9 224.4,110.5 224.9,109.0 225.4,107.3 225.9,105.6 226.4,103.8 226.9,101.9 227.4,100.1 227.9,98.7 228.4,97.7 228.9,97.7 229.4,98.4 229.9,99.9 230.4,101.7 230.9,103.6 231.4,105.7 231.9,107.6 232.4,109.4 232.9,111.1 233.4,112.6 233.9,114.0 234.4,115.2 234.9,116.1 235.4,117.1 235.9,117.7 236.4,117.7 236.9,115.7 237.4,106.2 237.9,89.0 238.4,72.1 238.9,59.1 239.4,51.3 239.9,48.8 240.4,51.9 240.9,60.3 241.4,73.7 241.9,90.6 242.4,106.0 242.9,112.9 243.4,114.0 243.9,113.3 244.4,112.6 244.9,111.6 245.4,110.6 245.9,109.6 246.4,108.3 246.9,107.0 247.4,105.8 247.9,104.2 248.4,102.8 248.9,101.3 249.4,100.1 249.9,98.5 250.4,96.9 250.9,95.6 251.4,95.1 251.9,94.9 252.4,95.6 252.9,96.7 253.4,98.3 253.9,100.2 254.4,101.7 254.9,103.4 255.4,105.6 255.9,107.1 256.4,108.5 256.9,109.7 257.4,111.0 257.9,112.1 258.4,113.2 258.9,114.2 259.4,114.9 259.9,115.5 260.4,116.3 260.9,116.1 261.4,115.7 261.9,115.4 262.4,114.0 262.9,114.2 263.4,114.1 263.9,115.1 264.4,117.0 264.9,118.4 265.4,119.7 265.9,120.1 266.4,121.0 266.9,121.6 267.4,122.8 267.9,123.0 268.4,123.4 268.9,124.1 269.4,124.4 269.9,124.3 270.4,124.5 270.9,124.1 271.4,123.7 271.9,123.2 272.4,120.8 272.9,119.4 273.4,116.3 273.9,112.7 274.4,108.9 274.9,106.8 275.4,105.1 275.9,105.2 276.4,107.5 276.9,111.7 277.4,114.4 277.9,117.6 278.4,119.0 278.9,117.9 279.4,117.2 279.9,116.2 280.4,116.7 280.9,116.9 281.4,119.3 281.9,122.7 282.4,124.7 282.9,126.5 283.4,129.4 283.9,130.5 284.4,130.6 284.9,130.5 285.4,130.2 285.9,129.8 286.4,129.9 286.9,130.7 287.4,131.5 287.9,131.6 288.4,132.3 288.9,131.9 289.4,132.6 289.9,130.9 290.4,131.1 290.9,130.4 291.4,130.3 291.9,129.4 292.4,129.1 292.9,126.7 293.4,126.1 293.9,126.9 294.4,127.0 294.9,128.6 295.4,128.9 295.9,130.9 296.4,132.3 296.9,132.8 297.4,134.4 297.9,133.1 298.4,133.4 298.9,135.6 299.4,134.3 299.9,135.3 300.4,136.3 300.9,136.3 301.4,135.6 301.9,137.8 302.4,135.8 302.9,137.1 303.4,137.2 303.9,136.8 304.4,136.5 304.9,137.8 305.4,137.5 305.9,138.3 306.4,138.1 306.9,139.0 307.4,137.2 307.9,138.9 308.4,138.7 308.9,136.8 309.4,136.9 309.9,138.1 310.4,137.6 310.9,136.5 311.4,137.6 311.4,143.4 310.9,143.5 310.4,141.3 309.9,145.2 309.4,143.7 308.9,143.6 308.4,142.8 307.9,144.9 307.4,143.9 306.9,143.0 306.4,143.2 305.9,143.7 305.4,142.2 304.9,142.7 304.4,141.7 303.9,142.6 303.4,143.7 302.9,143.9 302.4,142.9 301.9,142.1 301.4,142.4 300.9,140.3 300.4,142.1 299.9,142.0 299.4,138.9 298.9,140.1 298.4,139.3 297.9,139.4 297.4,140.6 296.9,138.5 296.4,136.2 295.9,135.3 295.4,135.7 294.9,132.9 294.4,131.7 293.9,131.4 293.4,133.1 292.9,132.7 292.4,133.1 291.9,134.3 291.4,136.2 290.9,136.8 290.4,136.5 289.9,135.7 289.4,136.6 288.9,136.1 288.4,136.2 287.9,136.0 287.4,134.7 286.9,134.9 286.4,134.2 285.9,134.7 285.4,136.5 284.9,135.0 284.4,135.5 283.9,133.1 283.4,133.3 282.9,131.0 282.4,129.0 281.9,126.1 281.4,123.6 280.9,121.8 280.4,119.8 279.9,119.3 279.4,121.7 278.9,122.2 278.4,122.6 277.9,120.1 277.4,117.5 276.9,114.3 276.4,111.9 275.9,109.2 275.4,108.0 274.9,110.1 274.4,112.1 273.9,115.9 273.4,120.1 272.9,122.0 272.4,124.4 271.9,125.0 271.4,126.8 270.9,127.2 270.4,127.7 269.9,126.7 269.4,126.8 268.9,126.3 268.4,126.2 267.9,125.5 267.4,124.9 266.9,124.0 266.4,124.3 265.9,123.5 265.4,121.8 264.9,121.0 264.4,119.3 263.9,117.4 263.4,116.2 262.9,116.0 262.4,116.3 261.9,116.9 261.4,117.5 260.9,119.0 260.4,118.5 259.9,117.4 259.4,117.5 258.9,115.9 258.4,115.0 257.9,113.6 257.4,112.9 256.9,111.1 256.4,109.7 255.9,108.6 255.4,107.0 254.9,105.0 254.4,103.2 253.9,101.4 253.4,99.9 252.9,98.0 252.4,96.8 251.9,96.3 251.4,96.1 250.9,96.9 250.4,98.3 249.9,99.8 249.4,101.2 248.9,102.3 248.4,104.0 247.9,105.5 247.4,107.0 246.9,108.2 246.4,109.4 245.9,110.5 245.4,111.7 244.9,112.5 244.4,113.5 243.9,114.3 243.4,114.7 242.9,114.0 242.4,106.8 241.9,91.3 241.4,74.3 240.9,60.9 240.4,52.4 239.9,49.4 239.4,51.8 238.9,59.6 238.4,72.7 237.9,89.8 237.4,107.0 236.9,116.5 236.4,118.8 235.9,118.7 235.4,118.0 234.9,117.4 234.4,116.2 233.9,115.0 233.4,113.5 232.9,111.9 232.4,110.1 231.9,108.4 231.4,106.3 230.9,104.3 230.4,102.4 229.9,100.6 229.4,99.2 228.9,98.6 228.4,98.6 227.9,99.4 227.4,100.9 226.9,102.8 226.4,104.6 225.9,106.5 225.4,108.2 224.9,109.8 224.4,111.5 223.9,112.7 223.4,114.1 222.9,115.0 222.4,115.9 221.9,116.5 221.4,116.7 220.9,116.6 220.4,116.1 219.9,114.7 219.4,112.9 218.9,110.1 218.4,106.9 217.9,103.5 217.4,99.8 216.9,96.3 216.4,93.2 215.9,91.5 215.4,91.8 214.9,94.1 214.4,97.4 213.9,101.1 213.4,105.2 212.9,109.1 212.4,112.8 211.9,115.9 211.4,118.5 210.9,120.0 210.4,121.1 209.9,121.1 209.4,120.7 208.9,119.9 208.4,118.6 207.9,117.4 207.4,115.5 206.9,113.8 206.4,112.4 205.9,110.8 205.4,109.7 204.9,108.9 204.4,109.0 203.9,109.6 203.4,110.9 202.9,112.7 202.4,114.9 201.9,116.5 201.4,118.1 200.9,119.8 200.4,121.3 199.9,122.4 199.4,123.7 198.9,125.0 198.4,124.9 197.9,125.4 197.4,125.9 196.9,126.1 196.4,126.5 195.9,126.6 195.4,127.0 194.9,126.9 194.4,127.6 193.9,127.4 193.4,127.4 192.9,127.5 192.4,127.7 191.9,127.8 191.4,127.6 190.9,127.9 190.4,128.3 189.9,128.0 189.4,127.9 188.9,128.1 188.4,128.3 187.9,128.4 187.4,128.1 186.9,128.5 186.4,128.5 185.9,128.3 185.4,128.5 184.9,128.6 184.4,128.8 183.9,128.5 183.4,128.8 182.9,128.7 182.4,128.6 181.9,128.8 181.4,129.0 180.9,129.0 180.4,128.6 179.9,128.8 179.4,128.9 178.9,129.7 178.4,129.9 177.9,130.2 177.4,129.8 176.9,130.0 176.4,130.4 175.9,130.0 175.4,129.9 174.9,130.1 174.4,130.3 173.9,129.8 173.4,130.0 172.9,130.9 172.4,130.0 171.9,130.9 171.4,130.8 170.9,131.0 170.4,131.4 169.9,130.8 169.4,130.4 168.9,130.2 168.4,130.4 167.9,130.3 167.4,129.5 166.9,130.2 166.4,129.7 165.9,130.4 165.4,130.9 164.9,130.8 164.4,130.7 163.9,131.3 163.4,131.2 162.9,131.3 162.4,131.4 161.9,131.9 161.4,130.9 160.9,131.7 160.4,131.8 159.9,131.4 159.4,132.2 158.9,132.0 158.4,132.2 157.9,131.9 157.4,131.9 156.9,131.6 156.4,132.8 155.9,133.2 155.4,132.5 154.9,132.3 154.4,134.0 153.9,132.9 153.4,133.1 152.9,132.7 152.4,133.5 151.9,134.3 151.4,134.6 150.9,133.9 150.4,134.5 149.9,133.8 149.4,133.8 148.9,134.8 148.4,134.2 147.9,134.9 147.4,135.2 146.9,135.2 146.4,135.6 145.9,136.6 145.4,136.2 144.9,136.2 144.4,135.5 143.9,136.2 143.4,137.0 142.9,136.4 142.4,136.9 141.9,137.3 141.4,136.9 140.9,138.4 140.4,138.1 139.9,137.9 139.4,138.3 138.9,138.5 138.4,139.5 137.9,139.1 137.4,138.5 136.9,138.3 136.4,139.0 135.9,140.4 135.4,140.9 134.9,140.4 134.4,140.8 133.9,141.7 133.4,141.2 132.9,140.9 132.4,141.7 131.9,142.0 131.4,142.9 130.9,142.1 130.4,143.2 129.9,143.7 129.4,144.7 128.9,145.3 128.4,145.1 127.9,144.4 127.4,145.2 126.9,145.9 126.4,145.5 125.9,146.5 125.4,146.9 124.9,147.5 124.4,147.8 123.9,147.9 123.4,148.8 122.9,148.6 122.4,149.6 121.9,148.9 121.4,150.9 120.9,149.8 120.4,149.7 119.9,151.6 119.4,150.7 118.9,151.1 118.4,152.0 117.9,152.3 117.4,152.7 116.9,154.1 116.4,153.5 115.9,153.6 115.4,154.9 114.9,154.8 114.4,155.4 113.9,155.9 113.4,157.1 112.9,156.9 112.4,157.2 111.9,157.5 111.4,158.2 110.9,160.0 110.4,159.2 109.9,160.0 109.4,160.5 108.9,160.7 108.4,161.8 107.9,162.5 107.4,162.6 106.9,163.0 106.4,164.1 105.9,164.5 105.4,166.0 104.9,166.0 104.4,166.2 103.9,167.6 103.4,167.2 102.9,168.0 102.4,169.0 101.9,169.0 101.4,170.5 100.9,171.6 100.4,171.2 99.9,172.1 99.4,173.5 98.9,174.8 98.4,174.6 97.9,176.1 97.4,176.4 96.9,178.6 96.4,178.7 95.9,179.9 95.4,179.7 94.9,179.7 94.4,181.3 93.9,182.7 93.4,182.9 92.9,183.5 92.4,184.1 91.9,183.4 91.4,183.6 90.9,186.0 90.4,186.2 89.9,187.0 89.4,187.4 88.9,187.6 88.4,188.5 87.9,189.0 87.4,191.7 86.9,192.6 86.4,192.7 85.9,192.1 85.4,194.3 84.9,193.5 84.4,193.5 83.9,193.9 83.4,194.9 82.9,194.9 82.4,197.2 81.9,195.0 81.4,196.1 80.9,195.9 80.4,196.7 79.9,198.5 79.4,198.8 78.9,199.3 78.4,202.5 77.9,200.5 77.4,201.3 76.9,201.5 76.4,202.0 75.9,203.2 75.4,206.0 74.9,203.1 74.4,205.7 73.9,209.3 73.4,204.5 72.9,208.3 72.4,207.1 71.9,207.9 71.4,208.3 70.9,209.8 70.4,209.9 69.9,211.4 69.4,213.0 68.9,210.7 68.4,208.0 67.9,211.9 67.4,213.7 66.9,211.9 66.4,210.6 65.9,215.3 65.4,213.9 64.9,216.2 64.4,217.4 63.9,217.0 63.4,219.1 62.9,214.4 62.4,220.2 61.9,215.7 61.4,214.5 60.9,219.5 60.4,220.8 59.9,219.7 59.4,216.6 58.9,221.5 58.4,218.3 57.9,213.1 57.4,216.8 56.9,217.5 56.4,215.9 55.9,214.4 55.4,218.2 54.9,219.4 54.4,220.4 53.9,216.5 53.4,222.3 52.9,217.6 52.4,220.8 51.9,217.1 51.4,216.0 50.9,216.1 50.4,219.3 49.9,218.1 49.4,218.9 48.9,213.6 48.4,217.7 47.9,213.3 47.4,216.0 46.9,212.6 46.4,215.2 45.9,217.5 45.4,218.5 44.9,218.6 44.4,216.2 43.9,215.7 43.4,213.8 42.9,212.8 42.4,213.7 41.9,214.3 41.4,213.1 40.9,213.0 40.4,215.3" fill="#00f0f0" stroke="#00f0f0" stroke-width="1.0" stroke-linejoin="round"/>
<polygon points="40.4,203.7 40.9,200.8 41.4,203.3 41.9,201.7 42.4,203.4 42.9,202.5 43.4,203.8 43.9,201.3 44.4,202.1 44.9,202.2 45.4,200.3 45.9,201.2 46.4,204.4 46.9,203.3 47.4,202.6 47.9,203.6 48.4,204.7 48.9,203.3 49.4,203.5 49.9,203.7 50.4,203.4 50.9,202.8 51.4,198.9 51.9,200.6 52.4,199.8 52.9,199.2 53.4,199.2 53.9,200.1 54.4,199.3 54.9,202.5 55.4,203.3 55.9,201.2 56.4,202.5 56.9,202.9 57.4,201.4 57.9,200.2 58.4,196.7 58.9,199.3 59.4,196.7 59.9,200.5 60.4,198.4 60.9,198.8 61.4,202.2 61.9,198.8 62.4,198.2 62.9,196.5 63.4,195.8 63.9,197.7 64.4,197.6 64.9,198.9 65.4,197.0 65.9,194.4 66.4,195.8 66.9,194.0 67.4,193.0 67.9,194.2 68.4,194.4 68.9,195.5 69.4,193.1 69.9,192.6 70.4,195.2 70.9,194.3 71.4,189.8 71.9,193.4 72.4,191.3 72.9,191.4 73.4,190.5 73.9,190.9 74.4,190.0 74.9,189.3 75.4,188.0 75.9,186.6 76.4,188.5 76.9,186.2 77.4,188.3 77.9,185.7 78.4,184.3 78.9,184.5 79.4,185.3 79.9,184.0 80.4,182.5 80.9,181.1 81.4,181.5 81.9,181.3 82.4,182.5 82.9,182.1 83.4,182.9 83.9,181.8 84.4,181.3 84.9,179.1 85.4,178.9 85.9,178.6 86.4,179.2 86.9,177.6 87.4,177.6 87.9,178.1 88.4,176.9 88.9,177.2 89.4,175.5 89.9,174.1 90.4,174.0 90.9,173.6 91.4,173.2 91.9,172.4 92.4,171.7 92.9,170.7 93.4,170.9 93.9,170.5 94.4,168.8 94.9,169.2 95.4,168.5 95.9,167.8 96.4,166.7 96.9,166.4 97.4,165.5 97.9,164.7 98.4,164.0 98.9,163.2 99.4,163.2 99.9,161.6 100.4,160.9 100.9,160.6 101.4,160.0 101.9,159.2 102.4,158.1 102.9,157.4 103.4,157.2 103.9,156.9 104.4,155.6 104.9,155.8 105.4,155.0 105.9,153.8 106.4,153.6 106.9,153.0 107.4,152.4 107.9,151.8 108.4,151.2 108.9,150.6 109.4,150.7 109.9,150.2 110.4,149.6 110.9,149.0 111.4,148.5 111.9,147.7 112.4,147.6 112.9,147.3 113.4,146.3 113.9,145.7 114.4,145.4 114.9,145.4 115.4,144.7 115.9,143.6 116.4,143.6 116.9,143.6 117.4,142.6 117.9,142.3 118.4,141.4 118.9,141.6 119.4,141.1 119.9,140.2 120.4,140.0 120.9,139.7 121.4,139.5 121.9,139.1 122.4,139.1 122.9,138.4 123.4,138.1 123.9,137.9 124.4,137.3 124.9,137.2 125.4,136.7 125.9,136.7 126.4,136.0 126.9,134.9 127.4,135.1 127.9,134.8 128.4,134.5 128.9,134.3 129.4,134.1 129.9,133.9 130.4,133.3 130.9,132.9 131.4,132.2 131.9,131.6 132.4,131.7 132.9,131.8 133.4,130.9 133.9,130.6 134.4,130.2 134.9,130.0 135.4,130.4 135.9,129.3 136.4,129.4 136.9,129.5 137.4,128.9 137.9,129.1 138.4,129.1 138.9,128.4 139.4,127.8 139.9,127.7 140.4,127.2 140.9,127.3 141.4,126.7 141.9,126.7 142.4,126.0 142.9,126.4 143.4,126.6 143.9,126.1 144.4,126.1 144.9,126.1 145.4,125.4 145.9,125.6 146.4,125.5 146.9,124.7 147.4,124.3 147.9,124.6 148.4,124.3 148.9,124.7 149.4,124.0 149.9,124.2 150.4,123.8 150.9,123.8 151.4,123.9 151.9,123.7 152.4,123.8 152.9,123.7 153.4,123.0 153.9,123.3 154.4,122.7 154.9,122.6 155.4,122.6 155.9,122.6 156.4,122.8 156.9,122.1 157.4,122.4 157.9,122.0 158.4,121.6 158.9,121.5 159.4,121.5 159.9,121.6 160.4,121.3 160.9,121.3 161.4,121.5 161.9,121.5 162.4,121.5 162.9,120.9 163.4,121.1 163.9,121.0 164.4,120.6 164.9,121.2 165.4,121.1 165.9,120.7 166.4,120.5 166.9,120.5 167.4,120.8 167.9,121.1 168.4,120.7 168.9,120.8 169.4,120.6 169.9,120.4 170.4,120.5 170.9,120.5 171.4,120.2 171.9,120.4 172.4,120.2 172.9,120.1 173.4,120.4 173.9,119.8 174.4,120.3 174.9,120.1 175.4,120.3 175.9,119.8 176.4,120.3 176.9,120.0 177.4,119.7 177.9,119.8 178.4,119.7 178.9,120.1 179.4,120.3 179.9,120.3 180.4,120.3 180.9,120.4 181.4,120.4 181.9,120.3 182.4,120.3 182.9,120.1 183.4,120.2 183.9,120.1 184.4,119.9 184.9,119.9 185.4,119.9 185.9,120.0 186.4,119.8 186.9,119.6 187.4,119.6 187.9,119.6 188.4,119.8 188.9,119.5 189.4,119.6 189.9,119.4 190.4,119.5 190.9,119.5 191.4,119.5 191.9,119.4 192.4,119.3 192.9,119.1 193.4,119.2 193.9,119.1 194.4,118.8 194.9,118.7 195.4,118.7 195.9,118.6 196.4,118.5 196.9,118.2 197.4,118.1 197.9,117.6 198.4,117.4 198.9,116.8 199.4,116.2 199.9,115.4 200.4,114.4 200.9,113.4 201.4,111.9 201.9,110.4 202.4,109.0 202.9,107.4 203.4,105.8 203.9,104.6 204.4,104.1 204.9,104.1 205.4,104.7 205.9,105.8 206.4,107.0 206.9,108.4 207.4,109.9 207.9,111.2 208.4,112.5 208.9,113.7 209.4,114.4 209.9,114.9 210.4,114.7 210.9,114.1 211.4,112.5 211.9,110.2 212.4,107.5 212.9,104.0 213.4,100.4 213.9,96.7 214.4,93.1 214.9,89.9 215.4,87.8 215.9,87.5 216.4,89.1 216.9,91.9 217.4,95.3 217.9,98.9 218.4,102.3 218.9,105.2 219.4,108.0 219.9,109.8 220.4,111.1 220.9,111.6 221.4,111.7 221.9,111.5 222.4,110.9 222.9,110.2 223.4,109.2 223.9,108.1 224.4,106.7 224.9,105.4 225.4,103.9 225.9,102.3 226.4,100.6 226.9,98.9 227.4,97.3 227.9,95.9 228.4,95.1 228.9,95.1 229.4,95.8 229.9,97.0 230.4,98.7 230.9,100.4 231.4,102.3 231.9,104.2 232.4,105.8 232.9,107.5 233.4,108.9 233.9,110.4 234.4,111.3 234.9,112.5 235.4,113.3 235.9,113.8 236.4,114.0 236.9,112.2 237.4,104.1 237.9,88.7 238.4,72.3 238.9,59.5 239.4,51.6 239.9,48.9 240.4,51.4 240.9,59.1 241.4,71.8 241.9,87.7 242.4,102.3 242.9,109.3 243.4,110.5 243.9,109.9 244.4,109.2 244.9,108.3 245.4,107.3 245.9,106.3 246.4,105.1 246.9,103.9 247.4,102.8 247.9,101.3 248.4,99.9 248.9,98.6 249.4,97.2 249.9,96.1 250.4,94.7 250.9,93.6 251.4,92.9 251.9,92.8 252.4,93.4 252.9,94.3 253.4,95.9 253.9,97.7 254.4,99.4 254.9,101.1 255.4,102.6 255.9,103.7 256.4,105.3 256.9,106.8 257.4,108.0 257.9,109.2 258.4,110.0 258.9,111.0 259.4,112.1 259.9,113.2 260.4,113.3 260.9,113.2 261.4,113.5 261.9,112.9 262.4,111.9 262.9,112.0 263.4,112.0 263.9,112.8 264.4,113.9 264.9,115.2 265.4,116.3 265.9,118.0 266.4,118.6 266.9,119.5 267.4,120.2 267.9,121.4 268.4,121.1 268.9,121.4 269.4,121.5 269.9,121.8 270.4,122.3 270.9,121.6 271.4,121.7 271.9,120.9 272.4,118.8 272.9,116.3 273.4,113.7 273.9,110.3 274.4,107.6 274.9,104.7 275.4,102.9 275.9,103.7 276.4,105.8 276.9,109.3 277.4,112.5 277.9,114.2 278.4,116.3 278.9,116.3 279.4,115.9 279.9,114.0 280.4,113.8 280.9,115.2 281.4,117.5 281.9,120.3 282.4,123.1 282.9,124.7 283.4,126.7 283.9,126.3 284.4,127.4 284.9,128.9 285.4,128.1 285.9,128.7 286.4,128.3 286.9,128.3 287.4,128.5 287.9,129.0 288.4,129.1 288.9,128.5 289.4,129.8 289.9,130.3 290.4,128.7 290.9,129.7 291.4,129.8 291.9,129.0 292.4,127.0 292.9,126.1 293.4,124.8 293.9,124.4 294.4,124.4 294.9,126.9 295.4,128.1 295.9,127.9 296.4,128.9 296.9,130.4 297.4,131.2 297.9,132.3 298.4,130.8 298.9,132.0 299.4,132.2 299.9,133.5 300.4,133.4 300.9,133.5 301.4,132.6 301.9,133.4 302.4,134.6 302.9,135.2 303.4,133.5 303.9,133.1 304.4,132.7 304.9,133.8 305.4,135.3 305.9,134.8 306.4,134.8 306.9,136.1 307.4,134.1 307.9,135.3 308.4,135.9 308.9,135.0 309.4,134.0 309.9,134.8 310.4,136.2 310.9,136.4 311.4,136.0 311.4,144.3 310.9,141.9 310.4,142.7 309.9,141.3 309.4,142.2 308.9,141.9 308.4,141.4 307.9,141.0 307.4,142.1 306.9,141.9 306.4,140.2 305.9,142.2 305.4,140.5 304.9,140.5 304.4,140.2 303.9,140.2 303.4,138.8 302.9,139.5 302.4,139.3 301.9,140.3 301.4,140.0 300.9,139.6 300.4,138.0 299.9,138.8 299.4,137.7 298.9,137.3 298.4,136.6 297.9,136.1 297.4,136.4 296.9,135.3 296.4,136.4 295.9,134.5 295.4,133.3 294.9,131.2 294.4,130.1 293.9,130.7 293.4,130.4 292.9,130.5 292.4,133.3 291.9,133.0 291.4,134.2 290.9,135.8 290.4,135.1 289.9,135.3 289.4,133.3 288.9,133.4 288.4,134.5 287.9,134.8 287.4,131.8 286.9,133.4 286.4,133.4 285.9,134.3 285.4,132.0 284.9,132.0 284.4,131.9 283.9,131.1 283.4,130.3 282.9,127.5 282.4,126.4 281.9,124.6 281.4,121.5 280.9,118.6 280.4,117.5 279.9,117.8 279.4,119.7 278.9,119.9 278.4,119.9 277.9,118.2 277.4,116.1 276.9,112.7 276.4,109.5 275.9,107.2 275.4,106.2 274.9,107.6 274.4,110.5 273.9,114.3 273.4,116.8 272.9,119.6 272.4,122.7 271.9,123.1 271.4,124.4 270.9,124.4 270.4,125.6 269.9,125.3 269.4,124.2 268.9,124.3 268.4,124.4 267.9,123.9 267.4,122.8 266.9,122.7 266.4,121.2 265.9,121.5 265.4,119.0 264.9,118.1 264.4,117.2 263.9,116.2 263.4,114.6 262.9,114.3 262.4,114.4 261.9,114.8 261.4,115.6 260.9,115.4 260.4,115.3 259.9,114.6 259.4,114.2 258.9,113.1 258.4,112.2 257.9,110.8 257.4,109.5 256.9,108.4 256.4,106.9 255.9,106.5 255.4,103.8 254.9,102.6 254.4,100.5 253.9,99.2 253.4,97.5 252.9,95.8 252.4,94.6 251.9,93.8 251.4,94.2 250.9,94.6 250.4,95.7 249.9,97.0 249.4,98.3 248.9,99.8 248.4,101.3 247.9,102.5 247.4,103.7 246.9,105.0 246.4,106.3 245.9,107.3 245.4,108.2 244.9,109.1 244.4,110.2 243.9,110.9 243.4,111.2 242.9,110.3 242.4,103.0 241.9,88.3 241.4,72.3 240.9,59.7 240.4,52.0 239.9,49.4 239.4,52.1 238.9,60.1 238.4,72.9 237.9,89.3 237.4,105.0 236.9,113.2 236.4,115.0 235.9,114.7 235.4,114.3 234.9,113.3 234.4,112.2 233.9,111.2 233.4,109.9 232.9,108.4 232.4,106.5 231.9,104.9 231.4,103.0 230.9,101.2 230.4,99.4 229.9,97.8 229.4,96.5 228.9,95.6 228.4,95.7 227.9,96.7 227.4,98.1 226.9,99.7 226.4,101.5 225.9,103.0 225.4,104.6 224.9,106.1 224.4,107.7 223.9,109.0 223.4,110.0 222.9,111.0 222.4,111.8 221.9,112.5 221.4,112.7 220.9,112.5 220.4,111.9 219.9,110.7 219.4,108.7 218.9,106.1 218.4,102.9 217.9,99.6 217.4,96.1 216.9,92.6 216.4,89.7 215.9,88.2 215.4,88.4 214.9,90.5 214.4,93.7 213.9,97.4 213.4,101.1 212.9,104.9 212.4,108.2 211.9,111.3 211.4,113.4 210.9,114.9 210.4,115.7 209.9,115.9 209.4,115.4 208.9,114.5 208.4,113.4 207.9,112.2 207.4,110.7 206.9,109.2 206.4,107.7 205.9,106.5 205.4,105.4 204.9,105.0 204.4,104.7 203.9,105.4 203.4,106.6 202.9,108.2 202.4,109.8 201.9,111.4 201.4,112.9 200.9,114.3 200.4,115.2 199.9,116.5 199.4,117.2 198.9,117.7 198.4,118.5 197.9,118.7 197.4,119.1 196.9,119.3 196.4,119.3 195.9,119.5 195.4,120.0 194.9,119.8 194.4,119.9 193.9,120.2 193.4,120.0 192.9,120.0 192.4,120.4 191.9,120.3 191.4,120.6 190.9,120.6 190.4,120.4 189.9,120.5 189.4,120.7 188.9,120.7 188.4,120.8 187.9,120.6 187.4,120.7 186.9,120.9 186.4,120.8 185.9,121.0 185.4,120.8 184.9,120.9 184.4,120.9 183.9,121.2 183.4,121.2 182.9,121.2 182.4,121.2 181.9,121.5 181.4,121.3 180.9,121.3 180.4,121.6 179.9,121.3 179.4,121.2 178.9,122.0 178.4,122.3 177.9,121.6 177.4,122.1 176.9,122.1 176.4,121.9 175.9,122.6 175.4,122.1 174.9,122.6 174.4,122.6 173.9,122.2 173.4,122.5 172.9,122.0 172.4,122.2 171.9,122.5 171.4,122.4 170.9,122.2 170.4,122.4 169.9,122.4 169.4,122.7 168.9,122.8 168.4,122.8 167.9,122.8 167.4,122.9 166.9,122.8 166.4,123.1 165.9,122.6 165.4,122.9 164.9,123.0 164.4,123.3 163.9,123.4 163.4,123.5 162.9,123.3 162.4,123.4 161.9,123.5 161.4,123.3 160.9,123.5 160.4,124.1 159.9,123.7 159.4,123.8 158.9,123.5 158.4,123.9 157.9,123.6 157.4,123.8 156.9,124.4 156.4,124.7 155.9,124.8 155.4,124.6 154.9,125.4 154.4,124.9 153.9,125.1 153.4,125.0 152.9,125.9 152.4,125.6 151.9,125.9 151.4,125.8 150.9,126.2 150.4,126.4 149.9,126.5 149.4,126.3 148.9,126.2 148.4,127.0 147.9,126.6 147.4,127.3 146.9,127.0 146.4,127.4 145.9,127.7 145.4,128.3 144.9,128.3 144.4,128.1 143.9,128.4 143.4,128.7 142.9,128.5 142.4,128.7 141.9,128.4 141.4,129.6 140.9,129.2 140.4,130.0 139.9,130.4 139.4,130.6 138.9,131.3 138.4,131.7 137.9,131.6 137.4,131.9 136.9,131.3 136.4,132.2 135.9,132.5 135.4,132.9 134.9,132.7 134.4,132.8 133.9,132.9 133.4,133.4 132.9,133.9 132.4,133.9 131.9,135.0 131.4,134.8 130.9,136.3 130.4,135.9 129.9,136.5 129.4,136.8 128.9,135.9 128.4,136.6 127.9,137.0 127.4,138.0 126.9,137.7 126.4,138.3 125.9,139.0 125.4,139.8 124.9,139.3 124.4,139.8 123.9,140.4 123.4,140.6 122.9,141.2 122.4,141.6 121.9,141.5 121.4,142.3 120.9,142.5 120.4,143.2 119.9,143.5 119.4,143.2 118.9,144.2 118.4,144.0 117.9,144.4 117.4,145.4 116.9,145.6 116.4,146.1 115.9,146.6 115.4,146.5 114.9,147.0 114.4,147.9 113.9,148.0 113.4,148.7 112.9,148.9 112.4,149.8 111.9,150.5 111.4,151.1 110.9,151.7 110.4,151.2 109.9,152.8 109.4,152.4 108.9,152.9 108.4,153.5 107.9,153.7 107.4,154.3 106.9,155.5 106.4,156.0 105.9,156.0 105.4,157.9 104.9,157.7 104.4,158.6 103.9,159.6 103.4,159.4 102.9,160.4 102.4,161.0 101.9,161.5 101.4,163.0 100.9,163.6 100.4,163.5 99.9,165.0 99.4,166.6 98.9,166.0 98.4,166.8 97.9,168.5 97.4,169.2 96.9,169.5 96.4,170.9 95.9,171.1 95.4,171.9 94.9,172.8 94.4,172.7 93.9,173.6 93.4,174.8 92.9,174.5 92.4,175.1 91.9,176.8 91.4,176.1 90.9,177.6 90.4,177.5 89.9,178.7 89.4,179.5 88.9,181.5 88.4,182.6 87.9,181.6 87.4,183.1 86.9,184.1 86.4,184.8 85.9,185.1 85.4,186.6 84.9,185.6 84.4,188.1 83.9,188.7 83.4,189.5 82.9,188.1 82.4,189.3 81.9,188.2 81.4,188.9 80.9,191.0 80.4,188.8 79.9,193.6 79.4,193.3 78.9,191.9 78.4,195.2 77.9,194.2 77.4,195.3 76.9,197.4 76.4,197.4 75.9,199.0 75.4,197.6 74.9,195.9 74.4,200.8 73.9,203.4 73.4,201.5 72.9,203.8 72.4,203.0 71.9,202.9 71.4,200.1 70.9,202.9 70.4,205.1 69.9,204.6 69.4,204.3 68.9,204.4 68.4,207.2 67.9,207.3 67.4,209.5 66.9,206.0 66.4,207.8 65.9,208.4 65.4,210.4 64.9,206.9 64.4,208.2 63.9,209.1 63.4,211.6 62.9,208.9 62.4,214.6 61.9,215.0 61.4,215.3 60.9,214.8 60.4,211.4 59.9,210.5 59.4,213.3 58.9,210.2 58.4,208.9 57.9,213.5 57.4,211.6 56.9,213.8 56.4,213.9 55.9,212.7 55.4,214.3 54.9,212.4 54.4,216.5 53.9,213.8 53.4,215.6 52.9,214.3 52.4,215.4 51.9,209.8 51.4,212.5 50.9,212.0 50.4,210.7 49.9,213.3 49.4,214.6 48.9,212.4 48.4,214.1 47.9,215.1 47.4,214.9 46.9,214.1 46.4,218.0 45.9,214.9 45.4,213.0 44.9,213.4 44.4,210.0 43.9,214.3 43.4,213.3 42.9,213.2 42.4,213.8 41.9,213.3 41.4,213.1 40.9,215.7 40.4,213.0" fill="#00f050" stroke="#00f050" stroke-width="1.0" stroke-linejoin="round"/>
<polygon points="40.4,202.8 40.9,201.6 41.4,199.3 41.9,198.8 42.4,199.4 42.9,200.5 43.4,201.7 43.9,199.2 44.4,199.8 44.9,202.2 45.4,203.3 45.9,200.4 46.4,201.3 46.9,202.5 47.4,203.1 47.9,201.3 48.4,201.7 48.9,201.4 49.4,199.2 49.9,200.1 50.4,199.6 50.9,202.2 51.4,200.3 51.9,200.0 52.4,199.5 52.9,199.0 53.4,197.9 53.9,196.1 54.4,195.0 54.9,196.3 55.4,200.6 55.9,197.6 56.4,197.5 56.9,200.4 57.4,202.4 57.9,197.0 58.4,199.5 58.9,200.9 59.4,195.2 59.9,198.8 60.4,197.9 60.9,197.9 61.4,196.0 61.9,193.3 62.4,191.9 62.9,194.6 63.4,191.3 63.9,195.0 64.4,194.7 64.9,193.6 65.4,191.9 65.9,192.0 66.4,194.1 66.9,194.7 67.4,194.1 67.9,190.7 68.4,191.3 68.9,189.8 69.4,187.6 69.9,185.8 70.4,183.5 70.9,185.5 71.4,184.2 71.9,184.6 72.4,185.7 72.9,184.4 73.4,186.4 73.9,184.8 74.4,185.5 74.9,185.0 75.4,183.8 75.9,182.5 76.4,184.7 76.9,184.3 77.4,181.4 77.9,181.5 78.4,181.8 78.9,178.8 79.4,179.2 79.9,178.3 80.4,177.1 80.9,178.5 81.4,178.1 81.9,176.1 82.4,177.0 82.9,176.2 83.4,176.2 83.9,176.3 84.4,175.6 84.9,175.2 85.4,173.9 85.9,172.8 86.4,173.0 86.9,170.9 87.4,171.6 87.9,170.5 88.4,171.1 88.9,170.4 89.4,170.3 89.9,168.9 90.4,168.5 90.9,166.9 91.4,167.2 91.9,166.3 92.4,165.1 92.9,165.4 93.4,164.0 93.9,163.2 94.4,163.2 94.9,162.1 95.4,161.6 95.9,160.9 96.4,160.1 96.9,159.6 97.4,159.4 97.9,158.3 98.4,157.3 98.9,157.2 99.4,156.7 99.9,155.6 100.4,154.9 100.9,154.2 101.4,152.7 101.9,151.7 102.4,151.5 102.9,151.0 103.4,150.0 103.9,149.4 104.4,148.5 104.9,148.0 105.4,147.7 105.9,147.1 106.4,146.7 106.9,146.6 107.4,145.6 107.9,145.0 108.4,144.6 108.9,143.9 109.4,143.4 109.9,142.5 110.4,142.5 110.9,141.8 111.4,141.7 111.9,140.7 112.4,140.2 112.9,139.7 113.4,139.0 113.9,138.5 114.4,138.0 114.9,137.7 115.4,137.3 115.9,136.8 116.4,136.2 116.9,136.2 117.4,135.6 117.9,135.2 118.4,135.5 118.9,134.9 119.4,134.6 119.9,133.4 120.4,133.7 120.9,133.1 121.4,132.3 121.9,132.3 122.4,131.3 122.9,131.4 123.4,131.2 123.9,131.0 124.4,130.5 124.9,130.0 125.4,129.6 125.9,129.6 126.4,129.0 126.9,128.5 127.4,128.4 127.9,127.8 128.4,127.3 128.9,127.1 129.4,126.4 129.9,125.8 130.4,126.3 130.9,125.4 131.4,125.7 131.9,125.1 132.4,124.9 132.9,124.4 133.4,124.0 133.9,123.4 134.4,123.1 134.9,122.7 135.4,122.7 135.9,123.0 136.4,122.3 136.9,122.3 137.4,122.0 137.9,121.7 138.4,121.8 138.9,121.1 139.4,121.3 139.9,121.4 140.4,120.8 140.9,120.3 141.4,120.0 141.9,119.8 142.4,119.3 142.9,119.4 143.4,119.2 143.9,118.9 144.4,118.8 144.9,118.6 145.4,118.3 145.9,118.5 146.4,118.0 146.9,118.1 147.4,117.8 147.9,117.5 148.4,117.8 148.9,117.4 149.4,117.6 149.9,117.6 150.4,117.6 150.9,116.9 151.4,116.7 151.9,116.7 152.4,116.8 152.9,116.0 153.4,116.1 153.9,115.8 154.4,115.5 154.9,115.9 155.4,115.5 155.9,115.6 156.4,115.4 156.9,115.5 157.4,115.5 157.9,114.9 158.4,114.8 158.9,114.8 159.4,114.7 159.9,114.2 160.4,114.8 160.9,114.3 161.4,114.4 161.9,114.0 162.4,114.0 162.9,114.0 163.4,114.0 163.9,114.0 164.4,114.1 164.9,113.8 165.4,113.7 165.9,113.8 166.4,114.0 166.9,114.0 167.4,113.9 167.9,114.0 168.4,113.6 168.9,113.4 169.4,113.9 169.9,113.3 170.4,113.5 170.9,113.5 171.4,113.6 171.9,113.4 172.4,113.2 172.9,113.4 173.4,113.3 173.9,112.9 174.4,113.0 174.9,113.2 175.4,112.9 175.9,113.3 176.4,113.2 176.9,113.0 177.4,112.8 177.9,112.5 178.4,112.9 178.9,113.3 179.4,113.3 179.9,113.2 180.4,113.4 180.9,113.2 181.4,113.1 181.9,113.0 182.4,113.0 182.9,113.0 183.4,112.8 183.9,113.0 184.4,112.9 184.9,112.9 185.4,112.8 185.9,112.7 186.4,112.8 186.9,112.7 187.4,112.7 187.9,112.6 188.4,112.6 188.9,112.6 189.4,112.5 189.9,112.6 190.4,112.5 190.9,112.5 191.4,112.5 191.9,112.4 192.4,112.4 192.9,112.2 193.4,112.2 193.9,112.2 194.4,112.0 194.9,111.8 195.4,111.9 195.9,111.8 196.4,111.7 196.9,111.5 197.4,111.2 197.9,110.9 198.4,110.7 198.9,110.5 199.4,109.9 199.9,109.2 200.4,108.5 200.9,107.6 201.4,106.4 201.9,105.2 202.4,103.9 202.9,102.6 203.4,101.2 203.9,100.2 204.4,99.7 204.9,99.7 205.4,100.3 205.9,101.1 206.4,102.4 206.9,103.7 207.4,105.0 207.9,106.3 208.4,107.4 208.9,108.3 209.4,109.1 209.9,109.3 210.4,109.3 210.9,108.7 211.4,107.3 211.9,105.4 212.4,102.6 212.9,99.7 213.4,96.3 213.9,92.7 214.4,89.4 214.9,86.4 215.4,84.6 215.9,84.3 216.4,85.9 216.9,88.6 217.4,91.7 217.9,95.1 218.4,98.3 218.9,101.2 219.4,103.6 219.9,105.3 220.4,106.5 220.9,107.1 221.4,107.3 221.9,106.9 222.4,106.4 222.9,105.7 223.4,104.8 223.9,104.0 224.4,102.9 224.9,101.6 225.4,100.2 225.9,98.8 226.4,97.1 226.9,95.7 227.4,94.2 227.9,93.1 228.4,92.3 228.9,92.2 229.4,92.8 229.9,94.1 230.4,95.5 230.9,97.2 231.4,98.8 231.9,100.6 232.4,102.1 232.9,103.6 233.4,104.9 233.9,106.2 234.4,107.3 234.9,108.1 235.4,108.9 235.9,109.4 236.4,109.7 236.9,108.1 237.4,101.5 237.9,87.8 238.4,72.3 238.9,59.7 239.4,51.8 239.9,48.9 240.4,51.0 240.9,58.2 241.4,70.0 241.9,84.9 242.4,98.5 242.9,105.2 243.4,106.4 243.9,106.0 244.4,105.4 244.9,104.6 245.4,103.7 245.9,102.9 246.4,101.7 246.9,100.6 247.4,99.6 247.9,98.6 248.4,97.0 248.9,95.8 249.4,94.7 249.9,93.3 250.4,92.0 250.9,91.1 251.4,90.6 251.9,90.4 252.4,90.9 252.9,92.2 253.4,93.5 253.9,94.7 254.4,96.6 254.9,98.2 255.4,99.3 255.9,100.6 256.4,102.3 256.9,103.8 257.4,105.3 257.9,106.3 258.4,106.9 258.9,108.2 259.4,108.7 259.9,109.2 260.4,110.2 260.9,110.1 261.4,110.1 261.9,110.2 262.4,110.0 262.9,109.3 263.4,109.7 263.9,110.8 264.4,111.7 264.9,113.1 265.4,114.4 265.9,114.8 266.4,115.4 266.9,116.5 267.4,117.0 267.9,117.8 268.4,118.0 268.9,119.0 269.4,118.9 269.9,119.1 270.4,119.0 270.9,118.3 271.4,118.3 271.9,117.3 272.4,116.1 272.9,114.7 273.4,112.1 273.9,109.2 274.4,105.4 274.9,102.1 275.4,100.5 275.9,101.6 276.4,104.2 276.9,106.8 277.4,110.2 277.9,112.4 278.4,112.8 278.9,113.2 279.4,112.1 279.9,111.6 280.4,112.7 280.9,112.6 281.4,114.7 281.9,117.1 282.4,118.8 282.9,120.2 283.4,121.7 283.9,122.7 284.4,124.6 284.9,124.9 285.4,125.4 285.9,127.0 286.4,126.2 286.9,127.3 287.4,126.8 287.9,127.1 288.4,126.3 288.9,126.5 289.4,126.8 289.9,126.6 290.4,125.3 290.9,126.5 291.4,125.8 291.9,125.2 292.4,125.2 292.9,123.5 293.4,122.1 293.9,122.1 294.4,124.4 294.9,124.3 295.4,126.7 295.9,127.2 296.4,128.8 296.9,128.4 297.4,128.3 297.9,128.9 298.4,128.7 298.9,128.5 299.4,129.8 299.9,130.2 300.4,130.2 300.9,130.2 301.4,130.8 301.9,132.0 302.4,130.1 302.9,132.2 303.4,131.6 303.9,132.2 304.4,131.9 304.9,130.8 305.4,132.1 305.9,130.4 306.4,130.8 306.9,130.4 307.4,130.9 307.9,131.4 308.4,131.1 308.9,131.9 309.4,131.0 309.9,130.5 310.4,132.6 310.9,131.2 311.4,131.2 311.4,137.8 310.9,138.9 310.4,137.7 309.9,136.6 309.4,137.1 308.9,138.8 308.4,138.5 307.9,136.5 307.4,137.2 306.9,139.7 306.4,138.9 305.9,138.5 305.4,137.3 304.9,138.9 304.4,136.7 303.9,138.4 303.4,138.4 302.9,137.5 302.4,138.3 301.9,137.2 301.4,137.9 300.9,137.9 300.4,136.4 299.9,135.8 299.4,135.4 298.9,134.0 298.4,135.4 297.9,134.9 297.4,134.6 296.9,135.7 296.4,133.6 295.9,133.2 295.4,132.3 294.9,130.7 294.4,128.6 293.9,126.8 293.4,127.3 292.9,128.0 292.4,130.1 291.9,129.6 291.4,131.1 290.9,130.7 290.4,132.1 289.9,130.4 289.4,131.0 288.9,130.2 288.4,130.8 287.9,131.5 287.4,130.8 286.9,130.7 286.4,132.1 285.9,130.2 285.4,129.8 284.9,129.7 284.4,127.9 283.9,126.8 283.4,125.8 282.9,124.9 282.4,123.1 281.9,120.9 281.4,117.9 280.9,117.0 280.4,116.5 279.9,115.4 279.4,116.7 278.9,117.3 278.4,116.8 277.9,116.2 277.4,113.4 276.9,111.1 276.4,108.5 275.9,105.5 275.4,104.4 274.9,106.0 274.4,108.4 273.9,112.0 273.4,115.9 272.9,117.7 272.4,120.1 271.9,120.6 271.4,121.2 270.9,122.0 270.4,121.6 269.9,121.9 269.4,121.9 268.9,122.8 268.4,121.4 267.9,120.3 267.4,120.3 266.9,119.6 266.4,118.5 265.9,117.6 265.4,116.5 264.9,115.5 264.4,113.6 263.9,112.9 263.4,112.6 262.9,112.3 262.4,112.5 261.9,112.5 261.4,112.2 260.9,112.7 260.4,112.3 259.9,111.5 259.4,111.2 258.9,110.4 258.4,109.5 257.9,107.7 257.4,107.2 256.9,105.4 256.4,104.2 255.9,102.8 255.4,101.2 254.9,99.5 254.4,97.9 253.9,96.6 253.4,95.1 252.9,93.3 252.4,92.2 251.9,92.0 251.4,91.7 250.9,92.5 250.4,93.5 249.9,94.5 249.4,96.2 248.9,97.0 248.4,98.2 247.9,99.6 247.4,100.7 246.9,102.2 246.4,102.8 245.9,103.7 245.4,104.7 244.9,105.5 244.4,106.3 243.9,106.9 243.4,107.4 242.9,106.2 242.4,99.4 241.9,85.5 241.4,70.5 240.9,58.8 240.4,51.6 239.9,49.4 239.4,52.3 238.9,60.3 238.4,72.8 237.9,88.4 237.4,102.4 236.9,109.2 236.4,110.6 235.9,110.3 235.4,109.6 234.9,109.0 234.4,108.2 233.9,107.3 233.4,105.9 232.9,104.5 232.4,102.8 231.9,101.3 231.4,99.7 230.9,98.0 230.4,96.2 229.9,94.9 229.4,93.6 228.9,92.9 228.4,92.9 227.9,93.6 227.4,94.9 226.9,96.4 226.4,98.1 225.9,99.5 225.4,101.0 224.9,102.4 224.4,103.6 223.9,104.7 223.4,105.9 222.9,106.6 222.4,107.4 221.9,107.8 221.4,108.0 220.9,108.0 220.4,107.3 219.9,106.1 219.4,104.3 218.9,101.9 218.4,99.0 217.9,95.8 217.4,92.4 216.9,89.3 216.4,86.5 215.9,85.0 215.4,85.1 214.9,87.2 214.4,90.1 213.9,93.5 213.4,97.1 212.9,100.4 212.4,103.6 211.9,106.2 211.4,108.2 210.9,109.6 210.4,110.3 209.9,110.3 209.4,110.0 208.9,109.2 208.4,108.2 207.9,107.1 207.4,105.9 206.9,104.3 206.4,103.2 205.9,102.0 205.4,101.0 204.9,100.4 204.4,100.5 203.9,100.9 203.4,102.1 202.9,103.4 202.4,104.9 201.9,106.2 201.4,107.4 200.9,108.4 200.4,109.3 199.9,110.2 199.4,110.8 198.9,111.3 198.4,111.6 197.9,111.8 197.4,112.2 196.9,112.3 196.4,112.6 195.9,112.7 195.4,112.7 194.9,112.8 194.4,113.1 193.9,113.0 193.4,113.1 192.9,113.4 192.4,113.2 191.9,113.5 191.4,113.6 190.9,113.5 190.4,113.6 189.9,113.6 189.4,113.6 188.9,113.4 188.4,113.5 187.9,113.5 187.4,113.8 186.9,113.6 186.4,113.8 185.9,113.9 185.4,113.7 184.9,113.8 184.4,114.0 183.9,113.9 183.4,114.0 182.9,114.0 182.4,113.9 181.9,114.2 181.4,114.0 180.9,114.1 180.4,114.3 179.9,114.4 179.4,114.3 178.9,114.6 178.4,114.2 177.9,114.6 177.4,114.8 176.9,114.6 176.4,114.5 175.9,114.7 175.4,114.9 174.9,114.5 174.4,114.8 173.9,114.8 173.4,115.2 172.9,115.5 172.4,115.6 171.9,115.4 171.4,115.4 170.9,115.6 170.4,115.0 169.9,115.1 169.4,115.1 168.9,115.1 168.4,115.3 167.9,115.4 167.4,115.4 166.9,115.7 166.4,115.7 165.9,115.6 165.4,115.7 164.9,115.7 164.4,115.6 163.9,116.0 163.4,115.7 162.9,115.7 162.4,116.3 161.9,116.3 161.4,116.2 160.9,116.3 160.4,116.0 159.9,115.9 159.4,116.5 158.9,116.9 158.4,116.6 157.9,116.7 157.4,116.8 156.9,117.2 156.4,117.5 155.9,117.5 155.4,117.5 154.9,117.4 154.4,118.0 153.9,117.8 153.4,117.9 152.9,118.2 152.4,118.7 151.9,118.8 151.4,119.2 150.9,118.7 150.4,119.1 149.9,119.2 149.4,119.6 148.9,119.2 148.4,120.1 147.9,120.2 147.4,119.7 146.9,120.2 146.4,120.3 145.9,120.2 145.4,120.7 144.9,120.9 144.4,120.6 143.9,121.3 143.4,121.0 142.9,121.4 142.4,121.9 141.9,121.6 141.4,121.9 140.9,123.0 140.4,123.0 139.9,123.5 139.4,123.5 138.9,123.5 138.4,123.5 137.9,124.1 137.4,124.8 136.9,124.7 136.4,125.0 135.9,125.4 135.4,125.1 134.9,125.0 134.4,125.5 133.9,125.9 133.4,126.4 132.9,126.5 132.4,126.9 131.9,127.1 131.4,127.9 130.9,128.3 130.4,128.8 129.9,128.6 129.4,129.8 128.9,128.8 128.4,129.1 127.9,130.2 127.4,130.0 126.9,130.8 126.4,130.8 125.9,131.7 125.4,132.3 124.9,132.7 124.4,132.7 123.9,133.0 123.4,133.2 122.9,133.5 122.4,133.9 121.9,133.8 121.4,135.0 120.9,135.3 120.4,135.4 119.9,135.6 119.4,136.8 118.9,137.1 118.4,137.4 117.9,137.8 117.4,137.9 116.9,138.6 116.4,138.6 115.9,138.9 115.4,139.3 114.9,139.7 114.4,139.5 113.9,140.1 113.4,141.2 112.9,141.5 112.4,142.3 111.9,143.2 111.4,143.6 110.9,144.0 110.4,144.7 109.9,145.0 109.4,145.0 108.9,145.9 108.4,146.8 107.9,147.3 107.4,147.4 106.9,147.9 106.4,148.4 105.9,149.5 105.4,149.4 104.9,150.4 104.4,150.9 103.9,151.8 103.4,151.9 102.9,152.6 102.4,153.9 101.9,154.4 101.4,155.6 100.9,156.0 100.4,156.8 99.9,157.7 99.4,159.1 98.9,160.1 98.4,160.0 97.9,161.1 97.4,162.2 96.9,162.2 96.4,163.0 95.9,163.9 95.4,164.2 94.9,165.3 94.4,165.7 93.9,167.5 93.4,167.5 92.9,168.8 92.4,168.1 91.9,170.0 91.4,171.9 90.9,171.2 90.4,171.6 89.9,173.0 89.4,173.6 88.9,174.9 88.4,174.3 87.9,173.8 87.4,175.2 86.9,175.6 86.4,176.3 85.9,177.6 85.4,178.5 84.9,178.8 84.4,179.5 83.9,180.6 83.4,182.2 82.9,181.4 82.4,183.1 81.9,183.2 81.4,182.2 80.9,183.9 80.4,184.4 79.9,185.2 79.4,186.5 78.9,187.3 78.4,188.6 77.9,188.9 77.4,190.1 76.9,189.5 76.4,190.7 75.9,192.5 75.4,190.5 74.9,192.2 74.4,191.7 73.9,193.0 73.4,194.6 72.9,196.1 72.4,196.8 71.9,193.9 71.4,193.0 70.9,195.9 70.4,194.3 69.9,197.4 69.4,194.6 68.9,198.8 68.4,204.0 67.9,209.4 67.4,205.6 66.9,206.7 66.4,205.4 65.9,205.8 65.4,206.3 64.9,209.5 64.4,207.1 63.9,206.2 63.4,207.6 62.9,205.9 62.4,211.8 61.9,206.8 61.4,208.4 60.9,210.2 60.4,206.4 59.9,209.9 59.4,211.6 58.9,211.4 58.4,213.7 57.9,210.2 57.4,211.5 56.9,217.6 56.4,212.1 55.9,208.0 55.4,208.5 54.9,211.0 54.4,211.6 53.9,207.1 53.4,210.2 52.9,208.7 52.4,211.3 51.9,212.1 51.4,212.5 50.9,214.4 50.4,212.2 49.9,213.5 49.4,219.4 48.9,213.1 48.4,212.8 47.9,212.3 47.4,210.4 46.9,212.1 46.4,217.9 45.9,214.1 45.4,213.6 44.9,219.5 44.4,211.2 43.9,215.3 43.4,215.3 42.9,211.5 42.4,213.4 41.9,212.2 41.4,210.0 40.9,212.1 40.4,216.7" fill="#10f000" stroke="#10f000" stroke-width="1.0" stroke-linejoin="round"/>
<polygon points="40.4,201.1 40.9,197.4 41.4,197.7 41.9,200.4 42.4,200.1 42.9,201.4 43.4,196.5 43.9,194.6 44.4,198.5 44.9,193.8 45.4,196.7 45.9,195.7 46.4,196.9 46.9,199.0 47.4,196.2 47.9,198.6 48.4,195.7 48.9,198.9 49.4,198.6 49.9,199.4 50.4,197.7 50.9,196.0 51.4,196.5 51.9,193.5 52.4,193.2 52.9,198.1 53.4,196.0 53.9,200.0 54.4,196.6 54.9,200.4 55.4,198.4 55.9,199.6 56.4,197.9 56.9,193.6 57.4,195.5 57.9,196.0 58.4,191.5 58.9,193.6 59.4,192.9 59.9,191.6 60.4,193.8 60.9,189.3 61.4,192.6 61.9,188.3 62.4,188.9 62.9,190.8 63.4,191.3 63.9,189.1 64.4,188.3 64.9,191.2 65.4,188.8 65.9,188.4 66.4,189.7 66.9,187.2 67.4,185.6 67.9,186.4 68.4,183.6 68.9,185.7 69.4,184.3 69.9,186.1 70.4,182.4 70.9,184.0 71.4,180.0 71.9,181.4 72.4,178.9 72.9,180.3 73.4,178.5 73.9,178.4 74.4,176.4 74.9,176.1 75.4,175.9 75.9,175.6 76.4,174.4 76.9,175.5 77.4,175.3 77.9,176.3 78.4,173.6 78.9,174.6 79.4,174.4 79.9,174.4 80.4,173.4 80.9,172.7 81.4,171.1 81.9,171.3 82.4,169.4 82.9,170.6 83.4,169.3 83.9,169.6 84.4,169.1 84.9,168.7 85.4,166.9 85.9,167.2 86.4,166.3 86.9,165.8 87.4,165.2 87.9,164.1 88.4,164.3 88.9,163.7 89.4,163.2 89.9,161.7 90.4,161.5 90.9,160.9 91.4,160.7 91.9,160.0 92.4,159.6 92.9,158.2 93.4,158.4 93.9,157.5 94.4,157.1 94.9,156.2 95.4,155.4 95.9,154.1 96.4,153.3 96.9,152.8 97.4,152.1 97.9,151.3 98.4,150.9 98.9,150.0 99.4,149.1 99.9,148.8 100.4,148.4 100.9,147.0 101.4,146.5 101.9,145.8 102.4,145.5 102.9,144.2 103.4,143.7 103.9,142.7 104.4,142.6 104.9,141.7 105.4,141.4 105.9,140.7 106.4,140.4 106.9,139.6 107.4,139.2 107.9,138.3 108.4,137.8 108.9,137.1 109.4,136.8 109.9,135.9 110.4,135.9 110.9,135.1 111.4,134.9 111.9,134.5 112.4,133.8 112.9,133.6 113.4,133.2 113.9,132.6 114.4,132.3 114.9,131.6 115.4,130.9 115.9,130.6 116.4,130.1 116.9,129.3 117.4,129.0 117.9,128.9 118.4,128.1 118.9,127.7 119.4,127.3 119.9,126.5 120.4,126.7 120.9,126.3 121.4,125.3 121.9,125.4 122.4,125.5 122.9,124.7 123.4,124.7 123.9,124.4 124.4,123.5 124.9,123.2 125.4,122.9 125.9,121.9 126.4,122.0 126.9,121.3 127.4,121.4 127.9,120.9 128.4,120.3 128.9,120.5 129.4,120.6 129.9,120.0 130.4,119.6 130.9,119.5 131.4,119.2 131.9,118.5 132.4,118.1 132.9,117.9 133.4,117.8 133.9,117.6 134.4,116.9 134.9,116.8 135.4,116.7 135.9,116.3 136.4,116.1 136.9,115.8 137.4,115.3 137.9,114.6 138.4,114.8 138.9,114.8 139.4,114.1 139.9,114.0 140.4,114.2 140.9,114.0 141.4,113.8 141.9,113.0 142.4,112.9 142.9,112.8 143.4,112.9 143.9,112.3 144.4,112.5 144.9,112.1 145.4,112.2 145.9,111.7 146.4,111.9 146.9,111.4 147.4,111.3 147.9,111.0 148.4,110.9 148.9,110.7 149.4,110.6 149.9,110.1 150.4,110.1 150.9,110.0 151.4,110.1 151.9,109.6 152.4,110.0 152.9,109.6 153.4,109.5 153.9,109.8 154.4,109.1 154.9,109.3 155.4,109.2 155.9,109.2 156.4,108.9 156.9,108.8 157.4,108.4 157.9,108.3 158.4,108.0 158.9,107.8 159.4,107.9 159.9,107.8 160.4,107.9 160.9,107.7 161.4,108.2 161.9,107.8 162.4,107.9 162.9,107.8 163.4,107.8 163.9,107.5 164.4,107.2 164.9,107.1 165.4,107.4 165.9,107.2 166.4,106.9 166.9,107.3 167.4,107.2 167.9,107.1 168.4,107.1 168.9,107.1 169.4,107.0 169.9,107.0 170.4,107.0 170.9,107.1 171.4,106.8 171.9,106.9 172.4,106.7 172.9,106.7 173.4,107.0 173.9,107.0 174.4,106.6 174.9,106.3 175.4,106.7 175.9,106.4 176.4,106.5 176.9,106.2 177.4,106.3 177.9,106.3 178.4,106.3 178.9,106.7 179.4,106.7 179.9,106.7 180.4,106.6 180.9,106.7 181.4,106.5 181.9,106.6 182.4,106.5 182.9,106.4 183.4,106.3 183.9,106.2 184.4,106.2 184.9,106.1 185.4,106.1 185.9,106.1 186.4,106.1 186.9,106.2 187.4,106.2 187.9,106.0 188.4,105.9 188.9,105.9 189.4,106.0 189.9,105.7 190.4,105.8 190.9,105.9 191.4,105.7 191.9,105.7 192.4,105.7 192.9,105.6 193.4,105.6 193.9,105.5 194.4,105.5 194.9,105.3 195.4,105.4 195.9,105.3 196.4,105.1 196.9,105.0 197.4,105.1 197.9,104.8 198.4,104.8 198.9,104.3 199.4,104.1 199.9,103.5 200.4,102.9 200.9,102.0 201.4,101.3 201.9,100.1 202.4,99.1 202.9,97.9 203.4,96.8 203.9,95.9 204.4,95.5 204.9,95.4 205.4,95.8 205.9,96.7 206.4,97.7 206.9,98.8 207.4,100.1 207.9,101.2 208.4,102.1 208.9,103.0 209.4,103.5 209.9,103.9 210.4,103.9 210.9,103.3 211.4,102.2 211.9,100.6 212.4,98.2 212.9,95.4 213.4,92.2 213.9,89.0 214.4,85.8 214.9,83.0 215.4,81.3 215.9,81.0 216.4,82.5 216.9,85.0 217.4,88.0 217.9,91.2 218.4,94.2 218.9,96.8 219.4,99.1 219.9,100.7 220.4,101.9 220.9,102.4 221.4,102.6 221.9,102.4 222.4,101.9 222.9,101.4 223.4,100.7 223.9,99.7 224.4,98.6 224.9,97.6 225.4,96.4 225.9,95.1 226.4,93.7 226.9,92.4 227.4,91.1 227.9,89.9 228.4,89.2 228.9,89.3 229.4,89.9 229.9,90.9 230.4,92.3 230.9,93.8 231.4,95.2 231.9,96.8 232.4,98.1 232.9,99.5 233.4,100.9 233.9,101.9 234.4,102.8 234.9,103.6 235.4,104.2 235.9,104.7 236.4,104.8 236.9,103.9 237.4,98.6 237.9,86.8 238.4,72.2 238.9,60.0 239.4,52.0 239.9,48.9 240.4,50.7 240.9,57.3 241.4,68.4 241.9,82.3 242.4,94.9 242.9,101.2 243.4,102.4 243.9,102.0 244.4,101.4 244.9,100.7 245.4,99.8 245.9,99.1 246.4,98.0 246.9,97.2 247.4,96.3 247.9,95.2 248.4,93.8 248.9,92.7 249.4,91.3 249.9,90.2 250.4,89.3 250.9,88.5 251.4,87.7 251.9,87.7 252.4,88.5 252.9,89.5 253.4,90.8 253.9,92.2 254.4,93.7 254.9,95.0 255.4,96.7 255.9,98.1 256.4,99.3 256.9,100.3 257.4,101.7 257.9,102.9 258.4,103.8 258.9,104.4 259.4,105.7 259.9,105.8 260.4,106.8 260.9,107.0 261.4,107.4 261.9,106.7 262.4,106.4 262.9,106.4 263.4,106.9 263.9,107.4 264.4,108.2 264.9,109.3 265.4,110.7 265.9,111.7 266.4,112.3 266.9,112.5 267.4,113.3 267.9,113.4 268.4,114.4 268.9,115.0 269.4,115.5 269.9,116.0 270.4,115.6 270.9,116.3 271.4,116.0 271.9,114.4 272.4,113.5 272.9,112.0 273.4,108.3 273.9,105.8 274.4,102.8 274.9,100.3 275.4,99.4 275.9,99.3 276.4,101.3 276.9,104.7 277.4,107.5 277.9,109.8 278.4,110.3 278.9,110.7 279.4,110.6 279.9,109.3 280.4,108.3 280.9,109.4 281.4,111.1 281.9,114.1 282.4,116.3 282.9,118.3 283.4,119.9 283.9,121.1 284.4,121.4 284.9,121.6 285.4,122.8 285.9,122.2 286.4,122.3 286.9,122.6 287.4,123.7 287.9,123.5 288.4,123.8 288.9,123.4 289.4,123.8 289.9,123.5 290.4,123.3 290.9,122.8 291.4,122.1 291.9,122.7 292.4,122.6 292.9,121.7 293.4,121.7 293.9,121.1 294.4,122.7 294.9,123.7 295.4,122.5 295.9,123.6 296.4,125.3 296.9,125.7 297.4,125.0 297.9,125.0 298.4,127.6 298.9,126.0 299.4,126.4 299.9,127.2 300.4,128.0 300.9,127.2 301.4,126.2 301.9,126.0 302.4,127.3 302.9,126.9 303.4,125.9 303.9,127.5 304.4,127.5 304.9,128.8 305.4,128.0 305.9,129.3 306.4,127.2 306.9,128.3 307.4,129.4 307.9,128.8 308.4,127.3 308.9,126.8 309.4,126.8 309.9,127.7 310.4,129.9 310.9,128.4 311.4,129.1 311.4,137.6 310.9,135.2 310.4,136.0 309.9,135.0 309.4,134.3 308.9,133.3 308.4,136.2 307.9,134.5 307.4,135.0 306.9,134.5 306.4,134.6 305.9,134.8 305.4,135.0 304.9,134.6 304.4,132.9 303.9,132.7 303.4,132.0 302.9,134.6 302.4,133.0 301.9,131.5 301.4,132.2 300.9,132.8 300.4,132.0 299.9,132.6 299.4,132.6 298.9,132.5 298.4,132.9 297.9,130.7 297.4,130.5 296.9,129.8 296.4,129.8 295.9,130.0 295.4,129.1 294.9,128.5 294.4,126.8 293.9,125.7 293.4,126.1 292.9,127.4 292.4,127.0 291.9,127.3 291.4,127.6 290.9,128.6 290.4,127.4 289.9,128.5 289.4,128.4 288.9,128.2 288.4,127.8 287.9,126.9 287.4,127.8 286.9,128.4 286.4,129.1 285.9,127.4 285.4,127.0 284.9,125.7 284.4,125.2 283.9,125.3 283.4,124.2 282.9,123.3 282.4,121.6 281.9,118.3 281.4,114.6 280.9,113.1 280.4,112.4 279.9,113.2 279.4,113.6 278.9,115.2 278.4,114.0 277.9,113.8 277.4,111.2 276.9,107.7 276.4,105.1 275.9,103.7 275.4,102.4 274.9,104.0 274.4,107.1 273.9,110.1 273.4,112.5 272.9,114.8 272.4,116.4 271.9,118.4 271.4,118.5 270.9,119.3 270.4,119.6 269.9,118.9 269.4,118.4 268.9,118.4 268.4,117.6 267.9,116.3 267.4,116.0 266.9,115.0 266.4,115.2 265.9,114.0 265.4,112.8 264.9,111.9 264.4,110.5 263.9,109.8 263.4,109.4 262.9,109.1 262.4,109.8 261.9,109.0 261.4,109.5 260.9,109.3 260.4,109.5 259.9,108.1 259.4,108.0 258.9,106.1 258.4,105.5 257.9,104.8 257.4,103.4 256.9,102.1 256.4,100.8 255.9,99.7 255.4,98.4 254.9,96.5 254.4,95.1 253.9,93.6 253.4,92.3 252.9,90.9 252.4,89.6 251.9,89.3 251.4,89.2 250.9,89.6 250.4,90.5 249.9,91.5 249.4,92.7 248.9,93.8 248.4,95.1 247.9,96.2 247.4,97.1 246.9,98.3 246.4,99.0 245.9,99.9 245.4,100.8 244.9,101.5 244.4,102.4 243.9,102.9 243.4,103.2 242.9,102.0 242.4,95.5 241.9,82.9 241.4,69.0 240.9,58.0 240.4,51.3 239.9,49.5 239.4,52.5 238.9,60.5 238.4,72.8 237.9,87.5 237.4,99.5 236.9,104.8 236.4,105.8 235.9,105.6 235.4,105.2 234.9,104.7 234.4,103.7 233.9,102.7 233.4,101.6 232.9,100.3 232.4,99.1 231.9,97.6 231.4,96.1 230.9,94.7 230.4,93.0 229.9,91.7 229.4,90.6 228.9,89.9 228.4,89.9 227.9,90.6 227.4,91.8 226.9,93.0 226.4,94.5 225.9,95.8 225.4,97.0 224.9,98.5 224.4,99.5 223.9,100.6 223.4,101.4 222.9,102.2 222.4,102.7 221.9,103.2 221.4,103.4 220.9,103.2 220.4,102.7 219.9,101.6 219.4,99.9 218.9,97.7 218.4,95.0 217.9,91.8 217.4,88.6 216.9,85.6 216.4,83.0 215.9,81.6 215.4,81.8 214.9,83.6 214.4,86.4 213.9,89.7 213.4,93.0 212.9,96.0 212.4,98.9 211.9,101.2 211.4,103.1 210.9,104.1 210.4,104.7 209.9,104.9 209.4,104.3 208.9,103.6 208.4,102.9 207.9,101.9 207.4,100.9 206.9,99.6 206.4,98.5 205.9,97.4 205.4,96.7 204.9,96.1 204.4,96.2 203.9,96.7 203.4,97.6 202.9,98.7 202.4,99.9 201.9,101.1 201.4,102.0 200.9,102.9 200.4,103.7 199.9,104.2 199.4,104.9 198.9,105.4 198.4,105.6 197.9,105.7 197.4,105.9 196.9,105.9 196.4,106.1 195.9,106.0 195.4,106.2 194.9,106.2 194.4,106.1 193.9,106.4 193.4,106.5 192.9,106.6 192.4,106.6 191.9,106.5 191.4,106.5 190.9,106.6 190.4,106.6 189.9,106.7 189.4,106.8 188.9,106.7 188.4,106.8 187.9,107.0 187.4,107.0 186.9,107.2 186.4,107.1 185.9,107.0 185.4,107.0 184.9,107.1 184.4,107.0 183.9,107.0 183.4,107.1 182.9,107.1 182.4,107.2 181.9,107.3 181.4,107.3 180.9,107.5 180.4,107.4 179.9,107.4 179.4,107.5 178.9,108.0 178.4,108.1 177.9,108.1 177.4,107.6 176.9,107.9 176.4,108.0 175.9,107.7 175.4,108.2 174.9,108.2 174.4,108.4 173.9,108.4 173.4,108.2 172.9,108.4 172.4,108.8 171.9,108.7 171.4,108.3 170.9,108.2 170.4,108.1 169.9,108.6 169.4,108.6 168.9,108.5 168.4,109.1 167.9,108.7 167.4,108.8 166.9,108.4 166.4,108.8 165.9,108.7 165.4,108.5 164.9,108.8 164.4,108.7 163.9,109.2 163.4,108.9 162.9,109.4 162.4,109.2 161.9,109.3 161.4,109.5 160.9,109.4 160.4,109.3 159.9,109.6 159.4,109.6 158.9,109.4 158.4,110.0 157.9,110.0 157.4,110.4 156.9,110.3 156.4,110.6 155.9,110.9 155.4,110.5 154.9,110.9 154.4,110.8 153.9,111.3 153.4,111.1 152.9,111.2 152.4,112.0 151.9,111.6 151.4,111.4 150.9,111.6 150.4,112.2 149.9,111.8 149.4,112.0 148.9,112.6 148.4,112.7 147.9,112.8 147.4,113.4 146.9,113.0 146.4,113.1 145.9,113.5 145.4,114.0 144.9,113.9 144.4,114.0 143.9,114.6 143.4,114.9 142.9,114.4 142.4,114.8 141.9,114.9 141.4,115.0 140.9,115.3 140.4,116.3 139.9,116.0 139.4,116.2 138.9,116.2 138.4,117.4 137.9,117.0 137.4,117.0 136.9,117.8 136.4,117.9 135.9,118.3 135.4,118.7 134.9,119.2 134.4,118.8 133.9,120.0 133.4,119.4 132.9,119.8 132.4,120.0 131.9,120.0 131.4,120.8 130.9,121.2 130.4,122.5 129.9,122.6 129.4,121.9 128.9,122.2 128.4,122.9 127.9,122.7 127.4,122.9 126.9,123.4 126.4,123.6 125.9,124.5 125.4,124.4 124.9,125.3 124.4,125.9 123.9,125.8 123.4,126.6 122.9,127.2 122.4,127.6 121.9,127.4 121.4,128.2 120.9,127.6 120.4,128.2 119.9,128.5 119.4,129.2 118.9,129.7 118.4,130.4 117.9,130.3 117.4,131.3 116.9,131.3 116.4,132.0 115.9,132.4 115.4,133.0 114.9,133.3 114.4,133.8 113.9,134.2 113.4,134.7 112.9,135.2 112.4,135.8 111.9,136.2 111.4,136.9 110.9,136.9 110.4,138.1 109.9,137.7 109.4,138.5 108.9,138.9 108.4,139.4 107.9,140.5 107.4,141.1 106.9,141.5 106.4,142.1 105.9,142.5 105.4,142.9 104.9,144.1 104.4,143.9 103.9,144.9 103.4,145.4 102.9,146.2 102.4,147.1 101.9,148.1 101.4,149.0 100.9,149.8 100.4,151.0 99.9,150.4 99.4,152.6 98.9,151.8 98.4,153.0 97.9,153.8 97.4,154.5 96.9,155.5 96.4,156.2 95.9,156.6 95.4,157.7 94.9,158.9 94.4,159.1 93.9,160.6 93.4,160.1 92.9,160.8 92.4,162.8 91.9,162.5 91.4,163.9 90.9,165.4 90.4,165.1 89.9,164.9 89.4,166.2 88.9,166.8 88.4,167.1 87.9,168.7 87.4,169.9 86.9,169.0 86.4,170.0 85.9,171.6 85.4,171.2 84.9,173.1 84.4,172.2 83.9,172.7 83.4,174.1 82.9,174.6 82.4,174.8 81.9,176.9 81.4,177.9 80.9,178.6 80.4,178.3 79.9,180.9 79.4,179.4 78.9,181.0 78.4,180.5 77.9,182.6 77.4,180.7 76.9,183.3 76.4,182.5 75.9,181.6 75.4,183.6 74.9,184.2 74.4,183.9 73.9,184.3 73.4,187.6 72.9,185.7 72.4,188.2 71.9,190.2 71.4,190.2 70.9,191.4 70.4,195.6 69.9,193.6 69.4,193.3 68.9,197.2 68.4,195.6 67.9,196.8 67.4,200.0 66.9,201.3 66.4,198.7 65.9,202.5 65.4,200.5 64.9,200.4 64.4,199.4 63.9,204.1 63.4,203.0 62.9,208.1 62.4,206.1 61.9,199.2 61.4,204.8 60.9,203.0 60.4,203.6 59.9,207.4 59.4,210.6 58.9,208.9 58.4,206.8 57.9,209.9 57.4,206.8 56.9,207.8 56.4,211.9 55.9,210.0 55.4,211.2 54.9,209.5 54.4,211.6 53.9,213.8 53.4,211.7 52.9,209.1 52.4,212.8 51.9,210.0 51.4,209.5 50.9,210.4 50.4,209.3 49.9,209.0 49.4,211.8 48.9,211.4 48.4,209.8 47.9,209.6 47.4,213.2 46.9,210.7 46.4,209.1 45.9,210.1 45.4,207.9 44.9,211.5 44.4,210.8 43.9,206.7 43.4,210.8 42.9,212.4 42.4,210.2 41.9,211.5 41.4,209.3 40.9,211.0 40.4,211.0" fill="#80f000" stroke="#80f000" stroke-width="1.0" stroke-linejoin="round"/>
<polygon points="40.4,197.1 40.9,199.8 41.4,197.5 41.9,197.8 42.4,197.3 42.9,192.8 43.4,195.0 43.9,195.7 44.4,194.5 44.9,195.1 45.4,195.2 45.9,193.6 46.4,194.8 46.9,200.6 47.4,196.8 47.9,195.6 48.4,195.9 48.9,198.8 49.4,199.0 49.9,195.9 50.4,192.4 50.9,192.5 51.4,193.2 51.9,192.0 52.4,194.0 52.9,193.2 53.4,194.4 53.9,190.3 54.4,192.7 54.9,193.8 55.4,191.4 55.9,188.8 56.4,191.0 56.9,191.6 57.4,190.5 57.9,189.2 58.4,191.9 58.9,193.0 59.4,189.3 59.9,191.6 60.4,188.3 60.9,186.1 61.4,187.0 61.9,189.3 62.4,188.3 62.9,188.8 63.4,184.6 63.9,185.6 64.4,187.5 64.9,186.9 65.4,182.4 65.9,183.5 66.4,184.5 66.9,183.1 67.4,183.6 67.9,180.8 68.4,181.1 68.9,179.6 69.4,180.2 69.9,180.4 70.4,179.4 70.9,177.8 71.4,176.8 71.9,178.0 72.4,175.9 72.9,176.2 73.4,175.8 73.9,173.9 74.4,172.1 74.9,171.6 75.4,171.1 75.9,171.4 76.4,170.8 76.9,170.9 77.4,169.8 77.9,169.5 78.4,169.4 78.9,167.7 79.4,169.0 79.9,168.0 80.4,166.6 80.9,167.2 81.4,165.9 81.9,166.2 82.4,165.8 82.9,164.4 83.4,164.6 83.9,164.2 84.4,163.6 84.9,163.1 85.4,162.3 85.9,162.2 86.4,160.6 86.9,160.9 87.4,159.6 87.9,159.6 88.4,159.3 88.9,158.6 89.4,157.9 89.9,157.6 90.4,156.4 90.9,155.7 91.4,155.7 91.9,155.2 92.4,154.3 92.9,153.3 93.4,152.2 93.9,151.5 94.4,150.9 94.9,150.2 95.4,150.0 95.9,149.3 96.4,148.5 96.9,147.4 97.4,146.7 97.9,146.3 98.4,145.8 98.9,145.0 99.4,143.9 99.9,143.3 100.4,142.9 100.9,141.9 101.4,141.7 101.9,141.1 102.4,140.1 102.9,139.0 103.4,138.3 103.9,137.6 104.4,137.3 104.9,136.5 105.4,136.0 105.9,135.4 106.4,135.2 106.9,134.4 107.4,134.0 107.9,133.4 108.4,132.6 108.9,132.4 109.4,131.4 109.9,130.8 110.4,130.7 110.9,129.9 111.4,129.5 111.9,128.7 112.4,128.1 112.9,127.7 113.4,127.3 113.9,126.7 114.4,126.4 114.9,125.9 115.4,125.4 115.9,125.2 116.4,124.5 116.9,124.4 117.4,123.9 117.9,123.2 118.4,122.8 118.9,122.3 119.4,122.4 119.9,121.4 120.4,121.2 120.9,121.0 121.4,120.4 121.9,119.7 122.4,119.3 122.9,119.1 123.4,118.6 123.9,118.7 124.4,118.2 124.9,118.1 125.4,117.6 125.9,117.2 126.4,117.0 126.9,116.2 127.4,116.4 127.9,115.7 128.4,115.6 128.9,114.9 129.4,114.9 129.9,114.5 130.4,114.0 130.9,113.8 131.4,113.5 131.9,113.1 132.4,112.9 132.9,112.4 133.4,112.1 133.9,112.1 134.4,111.5 134.9,111.1 135.4,110.7 135.9,110.5 136.4,110.4 136.9,110.1 137.4,110.3 137.9,109.7 138.4,109.6 138.9,109.2 139.4,108.8 139.9,108.7 140.4,108.5 140.9,108.2 141.4,108.3 141.9,108.0 142.4,107.6 142.9,107.4 143.4,107.3 143.9,106.9 144.4,106.9 144.9,106.6 145.4,106.6 145.9,106.5 146.4,106.0 146.9,106.2 147.4,106.1 147.9,105.8 148.4,105.7 148.9,105.5 149.4,105.3 149.9,104.9 150.4,104.7 150.9,104.6 151.4,104.6 151.9,104.5 152.4,104.4 152.9,104.2 153.4,104.1 153.9,104.2 154.4,103.8 154.9,103.9 155.4,103.6 155.9,103.3 156.4,103.1 156.9,103.1 157.4,102.8 157.9,102.9 158.4,102.6 158.9,102.7 159.4,102.6 159.9,102.2 160.4,102.1 160.9,102.5 161.4,102.1 161.9,102.4 162.4,102.5 162.9,102.4 163.4,101.9 163.9,102.1 164.4,102.0 164.9,102.0 165.4,101.7 165.9,102.0 166.4,101.7 166.9,101.7 167.4,101.6 167.9,101.7 168.4,101.8 168.9,101.6 169.4,101.6 169.9,101.4 170.4,101.6 170.9,101.3 171.4,101.2 171.9,101.3 172.4,101.0 172.9,101.3 173.4,101.4 173.9,101.2 174.4,101.3 174.9,101.0 175.4,101.0 175.9,101.2 176.4,101.0 176.9,100.9 177.4,101.2 177.9,101.0 178.4,101.1 178.9,100.9 179.4,101.2 179.9,101.2 180.4,101.2 180.9,101.2 181.4,101.2 181.9,101.2 182.4,101.0 182.9,101.0 183.4,101.0 183.9,100.9 184.4,100.9 184.9,100.6 185.4,100.8 185.9,100.7 186.4,100.8 186.9,100.7 187.4,100.7 187.9,100.7 188.4,100.6 188.9,100.5 189.4,100.5 189.9,100.3 190.4,100.4 190.9,100.3 191.4,100.4 191.9,100.4 192.4,100.3 192.9,100.2 193.4,100.2 193.9,100.2 194.4,100.1 194.9,100.0 195.4,100.0 195.9,100.1 196.4,100.0 196.9,99.9 197.4,99.8 197.9,99.6 198.4,99.4 198.9,99.2 199.4,98.8 199.9,98.3 200.4,97.8 200.9,97.3 201.4,96.6 201.9,95.7 202.4,94.7 202.9,93.8 203.4,92.8 203.9,91.9 204.4,91.5 204.9,91.6 205.4,91.9 205.9,92.8 206.4,93.7 206.9,94.7 207.4,95.8 207.9,96.8 208.4,97.7 208.9,98.4 209.4,98.9 209.9,99.2 210.4,99.1 210.9,98.7 211.4,97.6 211.9,96.0 212.4,94.1 212.9,91.4 213.4,88.6 213.9,85.5 214.4,82.5 214.9,79.9 215.4,78.2 215.9,77.9 216.4,79.3 216.9,81.7 217.4,84.6 217.9,87.6 218.4,90.5 218.9,92.9 219.4,95.0 219.9,96.7 220.4,97.6 220.9,98.0 221.4,98.2 221.9,98.1 222.4,97.7 222.9,97.2 223.4,96.6 223.9,95.7 224.4,94.8 224.9,93.9 225.4,92.7 225.9,91.6 226.4,90.5 226.9,89.1 227.4,88.0 227.9,87.1 228.4,86.4 228.9,86.4 229.4,87.0 229.9,87.9 230.4,89.2 230.9,90.6 231.4,92.0 231.9,93.4 232.4,94.7 232.9,95.9 233.4,97.0 233.9,98.1 234.4,99.0 234.9,99.6 235.4,100.2 235.9,100.7 236.4,100.9 236.9,100.0 237.4,96.0 237.9,85.5 238.4,72.0 238.9,60.1 239.4,52.2 239.9,49.0 240.4,50.4 240.9,56.5 241.4,67.0 241.9,80.0 242.4,91.6 242.9,97.3 243.4,98.4 243.9,98.2 244.4,97.7 244.9,97.0 245.4,96.3 245.9,95.6 246.4,94.5 246.9,93.8 247.4,92.9 247.9,91.7 248.4,90.7 248.9,89.7 249.4,88.8 249.9,87.6 250.4,86.8 250.9,85.9 251.4,85.4 251.9,85.7 252.4,86.1 252.9,87.1 253.4,88.3 253.9,89.2 254.4,91.1 254.9,92.1 255.4,93.0 255.9,94.6 256.4,95.7 256.9,96.8 257.4,97.9 257.9,99.0 258.4,100.3 258.9,101.0 259.4,102.1 259.9,102.4 260.4,102.9 260.9,103.3 261.4,103.4 261.9,103.3 262.4,103.1 262.9,102.8 263.4,103.8 263.9,104.6 264.4,104.9 264.9,106.5 265.4,107.3 265.9,108.2 266.4,108.3 266.9,108.9 267.4,110.4 267.9,110.7 268.4,111.3 268.9,111.0 269.4,111.4 269.9,111.1 270.4,111.2 270.9,110.7 271.4,111.3 271.9,110.9 272.4,109.9 272.9,108.2 273.4,105.1 273.9,102.5 274.4,99.9 274.9,97.7 275.4,96.5 275.9,97.5 276.4,100.0 276.9,102.2 277.4,104.4 277.9,107.0 278.4,106.8 278.9,107.9 279.4,106.8 279.9,105.9 280.4,104.6 280.9,105.7 281.4,108.7 281.9,110.4 282.4,113.1 282.9,113.7 283.4,115.4 283.9,117.6 284.4,117.9 284.9,118.7 285.4,118.2 285.9,119.0 286.4,118.0 286.9,118.7 287.4,119.8 287.9,119.0 288.4,119.3 288.9,119.7 289.4,120.9 289.9,121.1 290.4,120.7 290.9,120.9 291.4,120.5 291.9,118.6 292.4,118.5 292.9,118.5 293.4,118.7 293.9,117.3 294.4,119.4 294.9,119.9 295.4,119.7 295.9,122.0 296.4,121.2 296.9,122.3 297.4,122.6 297.9,121.8 298.4,121.1 298.9,123.1 299.4,122.7 299.9,122.0 300.4,123.8 300.9,125.3 301.4,125.3 301.9,124.1 302.4,124.7 302.9,123.3 303.4,125.8 303.9,125.0 304.4,123.2 304.9,124.7 305.4,124.9 305.9,125.2 306.4,124.7 306.9,126.9 307.4,126.1 307.9,126.2 308.4,125.2 308.9,124.8 309.4,126.4 309.9,127.8 310.4,127.4 310.9,125.3 311.4,126.4 311.4,134.3 310.9,133.6 310.4,134.2 309.9,133.5 309.4,133.2 308.9,131.1 308.4,132.6 307.9,131.6 307.4,132.4 306.9,132.0 306.4,132.5 305.9,130.4 305.4,129.4 304.9,130.2 304.4,129.3 303.9,129.9 303.4,130.5 302.9,131.0 302.4,132.2 301.9,132.3 301.4,132.5 300.9,131.0 300.4,130.8 299.9,130.2 299.4,127.8 298.9,127.3 298.4,128.8 297.9,127.7 297.4,127.4 296.9,128.1 296.4,127.0 295.9,127.4 295.4,126.3 294.9,125.9 294.4,123.3 293.9,123.8 293.4,123.7 292.9,124.1 292.4,122.5 291.9,124.7 291.4,124.9 290.9,126.1 290.4,124.8 289.9,125.6 289.4,127.2 288.9,124.9 288.4,125.1 287.9,123.9 287.4,123.8 286.9,124.2 286.4,123.5 285.9,124.2 285.4,124.9 284.9,121.7 284.4,121.2 283.9,121.6 283.4,120.3 282.9,118.1 282.4,117.1 281.9,114.9 281.4,112.6 280.9,110.1 280.4,108.8 279.9,110.0 279.4,109.6 278.9,111.2 278.4,110.9 277.9,110.5 277.4,107.6 276.9,105.9 276.4,102.4 275.9,101.6 275.4,100.5 274.9,101.9 274.4,103.7 273.9,106.9 273.4,109.0 272.9,111.9 272.4,112.8 271.9,113.9 271.4,114.4 270.9,114.0 270.4,114.4 269.9,115.0 269.4,114.7 268.9,114.2 268.4,114.0 267.9,114.1 267.4,113.1 266.9,112.6 266.4,111.6 265.9,110.9 265.4,109.4 264.9,109.3 264.4,108.1 263.9,107.3 263.4,105.7 262.9,105.3 262.4,106.0 261.9,105.5 261.4,106.4 260.9,105.6 260.4,105.8 259.9,104.6 259.4,104.3 258.9,102.9 258.4,102.3 257.9,101.4 257.4,100.2 256.9,98.6 256.4,97.4 255.9,96.3 255.4,94.9 254.9,93.7 254.4,92.5 253.9,91.2 253.4,89.8 252.9,88.8 252.4,87.7 251.9,86.9 251.4,86.8 250.9,87.3 250.4,87.7 249.9,89.0 249.4,90.0 248.9,90.8 248.4,91.8 247.9,93.0 247.4,93.9 246.9,94.7 246.4,95.7 245.9,96.5 245.4,97.2 244.9,97.9 244.4,98.6 243.9,99.1 243.4,99.4 242.9,98.2 242.4,92.3 241.9,80.6 241.4,67.5 240.9,57.0 240.4,50.9 239.9,49.5 239.4,52.7 238.9,60.6 238.4,72.5 237.9,86.3 237.4,96.5 236.9,100.9 236.4,101.6 235.9,101.4 235.4,100.9 234.9,100.4 234.4,99.8 233.9,98.7 233.4,97.8 232.9,96.6 232.4,95.4 231.9,94.1 231.4,92.6 230.9,91.4 230.4,90.0 229.9,88.8 229.4,87.7 228.9,87.1 228.4,87.1 227.9,87.7 227.4,88.6 226.9,89.8 226.4,91.2 225.9,92.4 225.4,93.7 224.9,94.7 224.4,95.6 223.9,96.4 223.4,97.4 222.9,97.9 222.4,98.4 221.9,99.0 221.4,99.0 220.9,98.7 220.4,98.2 219.9,97.4 219.4,95.7 218.9,93.8 218.4,91.1 217.9,88.3 217.4,85.4 216.9,82.3 216.4,80.0 215.9,78.5 215.4,78.7 214.9,80.4 214.4,83.2 213.9,86.1 213.4,89.3 212.9,92.1 212.4,94.6 211.9,96.8 211.4,98.4 210.9,99.5 210.4,99.8 209.9,99.9 209.4,99.7 208.9,99.3 208.4,98.4 207.9,97.6 207.4,96.6 206.9,95.4 206.4,94.4 205.9,93.5 205.4,92.6 204.9,92.4 204.4,92.3 203.9,92.7 203.4,93.5 202.9,94.5 202.4,95.5 201.9,96.5 201.4,97.4 200.9,98.0 200.4,98.6 199.9,99.2 199.4,99.6 198.9,99.9 198.4,100.3 197.9,100.3 197.4,100.5 196.9,100.8 196.4,100.7 195.9,100.9 195.4,100.9 194.9,100.9 194.4,100.9 193.9,100.8 193.4,101.0 192.9,101.0 192.4,101.1 191.9,101.2 191.4,101.2 190.9,101.2 190.4,101.1 189.9,101.2 189.4,101.7 188.9,101.4 188.4,101.4 187.9,101.4 187.4,101.6 186.9,101.5 186.4,101.6 185.9,101.6 185.4,101.4 184.9,101.6 184.4,101.7 183.9,101.7 183.4,101.6 182.9,101.7 182.4,101.9 181.9,101.9 181.4,102.1 180.9,102.1 180.4,102.1 179.9,102.1 179.4,102.0 178.9,102.3 178.4,102.4 177.9,102.8 177.4,102.5 176.9,102.9 176.4,102.7 175.9,102.3 175.4,102.4 174.9,102.4 174.4,102.3 173.9,102.4 173.4,102.4 172.9,102.5 172.4,102.4 171.9,102.5 171.4,102.6 170.9,102.7 170.4,102.8 169.9,103.1 169.4,103.1 168.9,103.1 168.4,103.1 167.9,103.5 167.4,103.0 166.9,103.2 166.4,103.1 165.9,103.1 165.4,103.2 164.9,103.4 164.4,103.1 163.9,103.4 163.4,103.6 162.9,103.4 162.4,103.9 161.9,103.8 161.4,103.8 160.9,103.7 160.4,103.9 159.9,103.9 159.4,104.3 158.9,104.4 158.4,104.4 157.9,104.4 157.4,104.2 156.9,104.6 156.4,104.6 155.9,104.6 155.4,105.1 154.9,105.2 154.4,105.3 153.9,105.9 153.4,105.4 152.9,105.8 152.4,106.4 151.9,106.2 151.4,106.0 150.9,106.3 150.4,106.3 149.9,106.6 149.4,107.4 148.9,107.1 148.4,106.8 147.9,107.2 147.4,107.4 146.9,107.6 146.4,107.5 145.9,108.1 145.4,108.4 144.9,108.1 144.4,108.8 143.9,108.5 143.4,108.5 142.9,109.1 142.4,109.1 141.9,109.5 141.4,109.7 140.9,109.9 140.4,111.0 139.9,110.2 139.4,110.8 138.9,110.9 138.4,111.2 137.9,111.5 137.4,111.6 136.9,111.7 136.4,112.1 135.9,112.1 135.4,112.3 134.9,113.0 134.4,112.9 133.9,113.9 133.4,114.2 132.9,114.5 132.4,114.5 131.9,115.4 131.4,115.0 130.9,115.4 130.4,115.7 129.9,116.4 129.4,116.8 128.9,116.8 128.4,117.3 127.9,118.0 127.4,117.9 126.9,118.2 126.4,118.8 125.9,118.9 125.4,119.1 124.9,119.4 124.4,120.4 123.9,120.4 123.4,120.7 122.9,120.8 122.4,121.3 121.9,121.6 121.4,122.2 120.9,122.6 120.4,122.9 119.9,123.4 119.4,124.1 118.9,124.4 118.4,124.7 117.9,125.2 117.4,125.8 116.9,125.7 116.4,126.2 115.9,126.7 115.4,127.2 114.9,127.3 114.4,128.2 113.9,128.5 113.4,129.2 112.9,129.2 112.4,129.6 111.9,130.8 111.4,131.0 110.9,131.7 110.4,131.8 109.9,132.7 109.4,132.8 108.9,133.5 108.4,134.1 107.9,134.8 107.4,135.2 106.9,136.0 106.4,136.9 105.9,137.1 105.4,137.4 104.9,138.4 104.4,138.8 103.9,139.4 103.4,139.9 102.9,141.7 102.4,142.1 101.9,142.5 101.4,143.0 100.9,144.0 100.4,144.8 99.9,145.3 99.4,146.3 98.9,147.2 98.4,148.2 97.9,148.3 97.4,149.8 96.9,149.5 96.4,151.0 95.9,151.2 95.4,152.7 94.9,152.6 94.4,153.5 93.9,154.8 93.4,155.3 92.9,155.9 92.4,156.7 91.9,157.8 91.4,158.0 90.9,158.2 90.4,159.5 89.9,159.3 89.4,160.8 88.9,161.1 88.4,161.6 87.9,162.3 87.4,162.5 86.9,164.2 86.4,163.9 85.9,165.7 85.4,165.9 84.9,167.4 84.4,166.9 83.9,167.3 83.4,170.1 82.9,169.6 82.4,170.1 81.9,170.6 81.4,171.1 80.9,171.3 80.4,173.0 79.9,173.0 79.4,173.3 78.9,175.2 78.4,173.5 77.9,176.6 77.4,175.4 76.9,175.7 76.4,177.9 75.9,177.5 75.4,179.0 74.9,179.7 74.4,178.5 73.9,180.8 73.4,183.4 72.9,182.7 72.4,185.3 71.9,186.1 71.4,188.0 70.9,185.6 70.4,186.9 69.9,187.9 69.4,190.5 68.9,189.3 68.4,189.8 67.9,192.0 67.4,191.8 66.9,193.4 66.4,195.6 65.9,192.3 65.4,194.2 64.9,195.5 64.4,195.7 63.9,197.0 63.4,199.3 62.9,198.0 62.4,196.5 61.9,199.4 61.4,199.3 60.9,199.0 60.4,201.5 59.9,200.5 59.4,203.5 58.9,209.8 58.4,202.4 57.9,204.7 57.4,207.3 56.9,206.3 56.4,204.6 55.9,206.4 55.4,206.2 54.9,207.0 54.4,203.0 53.9,207.1 53.4,205.1 52.9,205.1 52.4,206.7 51.9,207.0 51.4,209.5 50.9,213.7 50.4,208.2 49.9,210.2 49.4,214.1 48.9,212.6 48.4,209.1 47.9,210.4 47.4,208.9 46.9,215.9 46.4,211.1 45.9,211.3 45.4,208.4 44.9,210.9 44.4,208.9 43.9,209.2 43.4,209.0 42.9,206.4 42.4,212.4 41.9,209.4 41.4,215.0 40.9,210.2 40.4,211.0" fill="#c0f000" stroke="#c0f000" stroke-width="1.0" stroke-linejoin="round"/>
<polygon points="40.4,193.9 40.9,195.1 41.4,191.2 41.9,192.8 42.4,189.7 42.9,189.7 43.4,194.4 43.9,193.9 44.4,193.9 44.9,189.4 45.4,189.5 45.9,193.4 46.4,194.3 46.9,191.5 47.4,194.6 47.9,196.4 48.4,191.4 48.9,195.3 49.4,195.4 49.9,190.0 50.4,192.4 50.9,193.4 51.4,193.9 51.9,191.3 52.4,192.3 52.9,192.4 53.4,188.3 53.9,186.9 54.4,187.7 54.9,185.9 55.4,186.6 55.9,188.5 56.4,190.8 56.9,188.7 57.4,187.2 57.9,184.4 58.4,185.0 58.9,186.4 59.4,184.9 59.9,184.1 60.4,182.4 60.9,182.3 61.4,180.7 61.9,183.3 62.4,182.7 62.9,180.9 63.4,183.3 63.9,182.7 64.4,180.1 64.9,181.2 65.4,179.3 65.9,178.7 66.4,177.6 66.9,179.4 67.4,178.7 67.9,178.1 68.4,174.3 68.9,176.1 69.4,172.8 69.9,171.6 70.4,172.6 70.9,171.9 71.4,171.0 71.9,170.3 72.4,169.1 72.9,168.9 73.4,168.6 73.9,168.8 74.4,168.7 74.9,168.2 75.4,167.0 75.9,165.4 76.4,165.6 76.9,164.8 77.4,164.0 77.9,164.1 78.4,162.4 78.9,162.3 79.4,162.0 79.9,162.1 80.4,161.1 80.9,161.5 81.4,160.9 81.9,161.4 82.4,159.8 82.9,158.7 83.4,158.5 83.9,157.8 84.4,156.9 84.9,157.6 85.4,156.0 85.9,155.3 86.4,155.6 86.9,154.5 87.4,154.2 87.9,153.6 88.4,152.5 88.9,151.9 89.4,151.4 89.9,150.4 90.4,150.6 90.9,149.6 91.4,149.2 91.9,149.1 92.4,148.3 92.9,147.2 93.4,146.7 93.9,145.6 94.4,145.4 94.9,144.6 95.4,143.9 95.9,143.4 96.4,142.4 96.9,141.9 97.4,140.8 97.9,140.2 98.4,139.7 98.9,138.8 99.4,137.8 99.9,137.2 100.4,136.3 100.9,135.9 101.4,135.1 101.9,134.4 102.4,133.7 102.9,133.0 103.4,132.2 103.9,131.5 104.4,131.0 104.9,130.2 105.4,129.8 105.9,129.2 106.4,128.8 106.9,128.1 107.4,127.6 107.9,127.1 108.4,126.7 108.9,126.1 109.4,125.7 109.9,124.8 110.4,124.3 110.9,123.6 111.4,123.3 111.9,122.5 112.4,122.1 112.9,121.6 113.4,121.0 113.9,120.6 114.4,120.5 114.9,120.0 115.4,119.4 115.9,119.1 116.4,118.7 116.9,118.1 117.4,117.7 117.9,117.3 118.4,116.8 118.9,116.6 119.4,115.9 119.9,115.9 120.4,115.4 120.9,114.8 121.4,114.4 121.9,114.1 122.4,113.8 122.9,113.2 123.4,112.8 123.9,112.3 124.4,112.2 124.9,112.0 125.4,111.2 125.9,110.9 126.4,110.9 126.9,110.4 127.4,110.0 127.9,110.1 128.4,109.2 128.9,108.7 129.4,108.6 129.9,107.9 130.4,107.9 130.9,107.3 131.4,107.1 131.9,106.9 132.4,106.3 132.9,105.9 133.4,105.6 133.9,105.8 134.4,105.5 134.9,105.0 135.4,105.0 135.9,104.6 136.4,104.8 136.9,104.2 137.4,104.4 137.9,103.7 138.4,103.5 138.9,103.4 139.4,103.2 139.9,102.5 140.4,102.2 140.9,102.2 141.4,102.2 141.9,102.0 142.4,102.0 142.9,101.5 143.4,101.2 143.9,101.0 144.4,100.9 144.9,100.4 145.4,100.5 145.9,100.5 146.4,100.0 146.9,99.9 147.4,99.8 147.9,99.5 148.4,99.2 148.9,99.2 149.4,99.1 149.9,98.9 150.4,98.9 150.9,98.8 151.4,98.7 151.9,98.5 152.4,98.4 152.9,97.9 153.4,97.9 153.9,97.8 154.4,98.0 154.9,97.5 155.4,97.6 155.9,97.3 156.4,97.2 156.9,96.9 157.4,96.9 157.9,96.8 158.4,96.9 158.9,96.9 159.4,96.5 159.9,96.8 160.4,96.6 160.9,96.4 161.4,96.2 161.9,96.1 162.4,96.2 162.9,96.0 163.4,95.7 163.9,95.8 164.4,95.7 164.9,95.7 165.4,95.6 165.9,95.5 166.4,95.4 166.9,95.4 167.4,95.4 167.9,95.5 168.4,95.5 168.9,95.4 169.4,95.2 169.9,95.4 170.4,95.2 170.9,95.2 171.4,95.3 171.9,95.4 172.4,95.1 172.9,95.2 173.4,95.3 173.9,94.9 174.4,94.9 174.9,95.0 175.4,94.8 175.9,94.7 176.4,95.0 176.9,95.0 177.4,94.9 177.9,94.7 178.4,94.9 178.9,94.9 179.4,95.0 179.9,94.9 180.4,94.8 180.9,94.9 181.4,95.0 181.9,94.8 182.4,94.9 182.9,94.9 183.4,94.9 183.9,94.9 184.4,94.8 184.9,94.8 185.4,94.6 185.9,94.7 186.4,94.5 186.9,94.7 187.4,94.5 187.9,94.6 188.4,94.5 188.9,94.5 189.4,94.5 189.9,94.3 190.4,94.3 190.9,94.3 191.4,94.3 191.9,94.3 192.4,94.2 192.9,94.3 193.4,94.2 193.9,94.2 194.4,94.2 194.9,94.1 195.4,94.0 195.9,93.9 196.4,93.9 196.9,93.9 197.4,93.9 197.9,93.6 198.4,93.7 198.9,93.4 199.4,93.2 199.9,92.9 200.4,92.5 200.9,91.9 201.4,91.3 201.9,90.6 202.4,89.7 202.9,88.9 203.4,88.1 203.9,87.6 204.4,87.1 204.9,87.2 205.4,87.6 205.9,88.1 206.4,89.0 206.9,90.0 207.4,90.9 207.9,91.6 208.4,92.3 208.9,92.9 209.4,93.5 209.9,93.7 210.4,93.8 210.9,93.4 211.4,92.6 211.9,91.2 212.4,89.5 212.9,87.2 213.4,84.5 213.9,81.7 214.4,78.9 214.9,76.4 215.4,74.8 215.9,74.6 216.4,75.9 216.9,78.2 217.4,80.9 217.9,83.7 218.4,86.2 218.9,88.5 219.4,90.5 219.9,91.9 220.4,92.7 220.9,93.1 221.4,93.2 221.9,93.2 222.4,92.9 222.9,92.5 223.4,91.8 223.9,91.3 224.4,90.4 224.9,89.7 225.4,88.8 225.9,87.6 226.4,86.6 226.9,85.5 227.4,84.4 227.9,83.6 228.4,83.2 228.9,83.1 229.4,83.7 229.9,84.5 230.4,85.6 230.9,86.9 231.4,88.0 231.9,89.3 232.4,90.5 232.9,91.5 233.4,92.6 233.9,93.4 234.4,94.1 234.9,94.7 235.4,95.2 235.9,95.7 236.4,95.8 236.9,95.3 237.4,92.2 237.9,83.7 238.4,71.4 238.9,60.1 239.4,52.4 239.9,49.0 240.4,50.1 240.9,55.9 241.4,65.4 241.9,77.4 242.4,87.9 242.9,92.9 243.4,94.0 243.9,93.9 244.4,93.4 244.9,92.6 245.4,92.0 245.9,91.4 246.4,90.6 246.9,89.7 247.4,89.1 247.9,88.1 248.4,87.3 248.9,86.4 249.4,85.3 249.9,84.6 250.4,83.7 250.9,83.1 251.4,82.6 251.9,82.6 252.4,83.1 252.9,83.8 253.4,84.8 253.9,86.3 254.4,87.6 254.9,88.6 255.4,89.8 255.9,90.8 256.4,92.3 256.9,93.5 257.4,94.1 257.9,95.2 258.4,96.0 258.9,96.3 259.4,97.1 259.9,97.9 260.4,98.4 260.9,99.3 261.4,99.7 261.9,99.6 262.4,99.8 262.9,99.9 263.4,100.4 263.9,101.2 264.4,101.9 264.9,102.5 265.4,103.0 265.9,103.4 266.4,104.0 266.9,105.0 267.4,105.8 267.9,106.1 268.4,106.9 268.9,107.0 269.4,107.1 269.9,106.4 270.4,106.9 270.9,107.6 271.4,107.4 271.9,107.1 272.4,106.4 272.9,105.6 273.4,102.4 273.9,100.7 274.4,98.4 274.9,95.1 275.4,94.1 275.9,95.4 276.4,96.9 276.9,99.3 277.4,101.7 277.9,104.2 278.4,104.3 278.9,105.3 279.4,103.5 279.9,102.0 280.4,101.4 280.9,102.1 281.4,104.8 281.9,106.8 282.4,108.7 282.9,110.8 283.4,112.2 283.9,112.8 284.4,113.2 284.9,113.8 285.4,115.0 285.9,114.9 286.4,116.3 286.9,116.5 287.4,116.1 287.9,115.9 288.4,116.2 288.9,116.2 289.4,116.9 289.9,115.8 290.4,117.4 290.9,115.2 291.4,116.8 291.9,116.2 292.4,116.4 292.9,114.9 293.4,114.0 293.9,114.3 294.4,114.3 294.9,116.2 295.4,117.3 295.9,118.9 296.4,119.0 296.9,118.0 297.4,119.1 297.9,118.8 298.4,119.9 298.9,120.0 299.4,119.8 299.9,119.6 300.4,119.8 300.9,120.4 301.4,120.5 301.9,120.9 302.4,121.0 302.9,120.1 303.4,119.7 303.9,120.5 304.4,119.9 304.9,120.9 305.4,121.3 305.9,122.8 306.4,122.3 306.9,122.8 307.4,121.6 307.9,121.2 308.4,121.6 308.9,121.8 309.4,122.4 309.9,120.4 310.4,121.0 310.9,122.0 311.4,120.8 311.4,130.4 310.9,128.4 310.4,128.4 309.9,128.9 309.4,130.2 308.9,129.6 308.4,130.5 307.9,128.4 307.4,129.0 306.9,128.8 306.4,127.4 305.9,129.5 305.4,128.2 304.9,128.2 304.4,126.9 303.9,125.1 303.4,127.5 302.9,127.8 302.4,129.5 301.9,127.6 301.4,125.8 300.9,124.4 300.4,125.6 299.9,126.8 299.4,124.7 298.9,125.4 298.4,127.1 297.9,125.2 297.4,124.4 296.9,125.5 296.4,122.6 295.9,124.6 295.4,123.6 294.9,121.5 294.4,119.7 293.9,120.0 293.4,119.7 292.9,119.5 292.4,121.9 291.9,120.7 291.4,121.1 290.9,121.0 290.4,122.6 289.9,121.0 289.4,122.1 288.9,121.4 288.4,122.5 287.9,119.2 287.4,120.1 286.9,119.9 286.4,119.3 285.9,119.8 285.4,119.2 284.9,118.5 284.4,120.4 283.9,117.7 283.4,117.0 282.9,114.8 282.4,112.7 281.9,111.4 281.4,109.3 280.9,106.4 280.4,105.7 279.9,106.6 279.4,108.8 278.9,107.8 278.4,109.2 277.9,107.9 277.4,105.0 276.9,103.5 276.4,101.2 275.9,98.5 275.4,97.8 274.9,101.2 274.4,101.5 273.9,103.9 273.4,106.6 272.9,108.8 272.4,109.9 271.9,110.7 271.4,110.4 270.9,110.7 270.4,110.1 269.9,109.4 269.4,110.5 268.9,110.9 268.4,109.3 267.9,109.4 267.4,109.0 266.9,107.8 266.4,106.4 265.9,106.3 265.4,105.0 264.9,104.4 264.4,103.7 263.9,103.4 263.4,103.1 262.9,102.3 262.4,102.4 261.9,101.9 261.4,101.6 260.9,101.6 260.4,101.2 259.9,100.2 259.4,99.6 258.9,98.9 258.4,98.1 257.9,96.9 257.4,95.8 256.9,95.1 256.4,94.1 255.9,92.9 255.4,91.5 254.9,90.3 254.4,89.4 253.9,88.5 253.4,86.6 252.9,85.2 252.4,84.6 251.9,83.9 251.4,84.2 250.9,84.4 250.4,85.0 249.9,85.8 249.4,86.8 248.9,87.4 248.4,88.3 247.9,89.3 247.4,89.9 246.9,90.9 246.4,91.6 245.9,92.1 245.4,92.9 244.9,93.5 244.4,94.1 243.9,94.6 243.4,94.8 242.9,93.6 242.4,88.5 241.9,78.2 241.4,66.0 240.9,56.3 240.4,50.6 239.9,49.5 239.4,52.9 238.9,60.7 238.4,72.0 237.9,84.3 237.4,92.8 236.9,96.2 236.4,96.6 235.9,96.5 235.4,96.0 234.9,95.4 234.4,94.9 233.9,94.1 233.4,93.2 232.9,92.3 232.4,91.1 231.9,89.9 231.4,88.9 230.9,87.5 230.4,86.3 229.9,85.1 229.4,84.4 228.9,83.7 228.4,83.7 227.9,84.3 227.4,85.1 226.9,86.2 226.4,87.3 225.9,88.4 225.4,89.4 224.9,90.3 224.4,91.1 223.9,92.0 223.4,92.6 222.9,93.1 222.4,93.6 221.9,93.9 221.4,94.1 220.9,93.8 220.4,93.4 219.9,92.6 219.4,91.3 218.9,89.3 218.4,87.0 217.9,84.3 217.4,81.5 216.9,78.7 216.4,76.5 215.9,75.2 215.4,75.3 214.9,77.0 214.4,79.6 213.9,82.5 213.4,85.2 212.9,87.8 212.4,90.2 211.9,91.9 211.4,93.3 210.9,94.2 210.4,94.4 209.9,94.5 209.4,94.2 208.9,93.8 208.4,93.1 207.9,92.3 207.4,91.5 206.9,90.5 206.4,89.6 205.9,88.8 205.4,88.1 204.9,87.9 204.4,87.7 203.9,88.2 203.4,88.9 202.9,89.7 202.4,90.5 201.9,91.2 201.4,92.0 200.9,92.6 200.4,93.1 199.9,93.6 199.4,93.9 198.9,94.1 198.4,94.4 197.9,94.4 197.4,94.6 196.9,94.7 196.4,94.7 195.9,94.8 195.4,94.8 194.9,94.7 194.4,94.8 193.9,94.9 193.4,95.0 192.9,95.0 192.4,95.0 191.9,95.0 191.4,95.0 190.9,95.1 190.4,95.0 189.9,95.0 189.4,95.1 188.9,95.3 188.4,95.3 187.9,95.2 187.4,95.3 186.9,95.3 186.4,95.3 185.9,95.3 185.4,95.3 184.9,95.4 184.4,95.5 183.9,95.5 183.4,95.6 182.9,95.6 182.4,95.7 181.9,95.8 181.4,95.7 180.9,95.7 180.4,95.6 179.9,95.7 179.4,95.8 178.9,96.1 178.4,95.9 177.9,96.1 177.4,96.4 176.9,96.0 176.4,96.0 175.9,96.3 175.4,96.5 174.9,96.2 174.4,96.1 173.9,96.2 173.4,96.5 172.9,96.2 172.4,96.8 171.9,96.7 171.4,96.7 170.9,96.5 170.4,96.5 169.9,96.5 169.4,96.7 168.9,96.8 168.4,96.8 167.9,96.7 167.4,97.0 166.9,96.9 166.4,97.0 165.9,96.9 165.4,96.7 164.9,97.0 164.4,97.1 163.9,97.3 163.4,97.3 162.9,97.3 162.4,97.6 161.9,97.4 161.4,97.2 160.9,97.5 160.4,97.8 159.9,98.0 159.4,98.1 158.9,98.0 158.4,98.8 157.9,98.0 157.4,98.1 156.9,98.7 156.4,98.6 155.9,98.9 155.4,98.6 154.9,98.7 154.4,99.1 153.9,99.0 153.4,99.3 152.9,99.3 152.4,99.9 151.9,99.7 151.4,100.1 150.9,100.1 150.4,100.0 149.9,100.2 149.4,100.5 148.9,100.7 148.4,100.9 147.9,101.0 147.4,100.8 146.9,101.3 146.4,101.7 145.9,101.8 145.4,102.0 144.9,101.9 144.4,102.1 143.9,102.6 143.4,102.8 142.9,103.3 142.4,103.2 141.9,103.5 141.4,103.6 140.9,103.5 140.4,103.9 139.9,104.1 139.4,104.8 138.9,104.9 138.4,105.3 137.9,105.4 137.4,105.7 136.9,106.0 136.4,106.1 135.9,106.2 135.4,106.9 134.9,106.9 134.4,107.5 133.9,107.1 133.4,107.6 132.9,107.4 132.4,108.5 131.9,108.4 131.4,108.7 130.9,108.9 130.4,109.0 129.9,109.6 129.4,110.0 128.9,110.5 128.4,111.1 127.9,111.5 127.4,112.0 126.9,112.3 126.4,112.7 125.9,113.0 125.4,113.3 124.9,113.3 124.4,113.9 123.9,114.3 123.4,114.3 122.9,114.6 122.4,115.0 121.9,115.5 121.4,116.4 120.9,116.2 120.4,116.8 119.9,117.0 119.4,117.2 118.9,118.1 118.4,118.4 117.9,119.0 117.4,119.0 116.9,119.5 116.4,120.3 115.9,120.9 115.4,120.8 114.9,121.2 114.4,121.6 113.9,122.4 113.4,123.2 112.9,123.4 112.4,123.5 111.9,124.2 111.4,124.7 110.9,125.5 110.4,125.8 109.9,126.5 109.4,127.1 108.9,127.3 108.4,127.7 107.9,128.3 107.4,129.0 106.9,129.6 106.4,130.1 105.9,131.0 105.4,131.3 104.9,131.7 104.4,132.6 103.9,132.9 103.4,133.9 102.9,134.6 102.4,135.4 101.9,136.2 101.4,136.8 100.9,137.4 100.4,138.2 99.9,138.6 99.4,139.9 98.9,140.8 98.4,141.6 97.9,142.3 97.4,142.7 96.9,143.4 96.4,144.6 95.9,145.1 95.4,145.8 94.9,146.6 94.4,147.4 93.9,147.8 93.4,148.3 92.9,149.1 92.4,150.3 91.9,150.8 91.4,151.6 90.9,151.7 90.4,152.2 89.9,153.2 89.4,154.1 88.9,155.6 88.4,155.4 87.9,156.7 87.4,156.6 86.9,159.6 86.4,158.2 85.9,158.8 85.4,159.9 84.9,160.8 84.4,160.7 83.9,161.8 83.4,162.7 82.9,163.3 82.4,163.5 81.9,164.8 81.4,164.2 80.9,165.7 80.4,166.9 79.9,167.1 79.4,166.0 78.9,168.3 78.4,168.0 77.9,169.2 77.4,169.4 76.9,169.5 76.4,170.8 75.9,171.7 75.4,173.6 74.9,174.8 74.4,175.3 73.9,174.4 73.4,177.2 72.9,177.0 72.4,179.9 71.9,178.9 71.4,179.6 70.9,179.8 70.4,179.9 69.9,179.4 69.4,180.8 68.9,183.9 68.4,182.9 67.9,189.1 67.4,188.1 66.9,186.3 66.4,189.1 65.9,188.8 65.4,191.5 64.9,191.2 64.4,193.6 63.9,194.9 63.4,192.5 62.9,192.7 62.4,195.9 61.9,192.9 61.4,195.7 60.9,197.2 60.4,198.3 59.9,195.4 59.4,199.1 58.9,197.6 58.4,198.1 57.9,201.0 57.4,198.5 56.9,201.5 56.4,200.0 55.9,201.7 55.4,199.8 54.9,198.6 54.4,204.9 53.9,205.0 53.4,205.1 52.9,202.6 52.4,205.7 51.9,209.7 51.4,208.1 50.9,202.7 50.4,208.8 49.9,209.6 49.4,205.9 48.9,207.7 48.4,210.9 47.9,207.5 47.4,212.5 46.9,206.0 46.4,206.7 45.9,209.1 45.4,207.0 44.9,205.0 44.4,203.9 43.9,204.3 43.4,204.1 42.9,206.7 42.4,205.9 41.9,203.1 41.4,210.0 40.9,212.1 40.4,211.4" fill="#ffe600" stroke="#ffe600" stroke-width="1.0" stroke-linejoin="round"/>
<polygon points="40.4,194.4 40.9,198.1 41.4,192.5 41.9,192.8 42.4,191.3 42.9,197.0 43.4,192.4 43.9,197.5 44.4,197.1 44.9,194.6 45.4,192.0 45.9,194.3 46.4,191.0 46.9,193.7 47.4,191.9 47.9,189.9 48.4,188.9 48.9,189.9 49.4,190.8 49.9,190.6 50.4,187.9 50.9,187.0 51.4,190.1 51.9,191.2 52.4,186.4 52.9,186.7 53.4,186.8 53.9,184.1 54.4,183.2 54.9,182.9 55.4,184.5 55.9,185.6 56.4,185.1 56.9,184.3 57.4,183.2 57.9,180.2 58.4,182.9 58.9,183.2 59.4,184.3 59.9,180.6 60.4,183.8 60.9,182.4 61.4,178.9 61.9,176.9 62.4,176.0 62.9,175.7 63.4,178.7 63.9,177.4 64.4,175.4 64.9,177.3 65.4,175.9 65.9,175.6 66.4,176.8 66.9,173.4 67.4,173.3 67.9,173.4 68.4,172.6 68.9,170.3 69.4,170.2 69.9,168.1 70.4,168.1 70.9,168.3 71.4,168.1 71.9,167.1 72.4,165.6 72.9,164.5 73.4,165.8 73.9,164.3 74.4,163.3 74.9,161.6 75.4,162.8 75.9,162.0 76.4,161.6 76.9,159.4 77.4,159.5 77.9,159.4 78.4,159.0 78.9,158.7 79.4,158.5 79.9,157.8 80.4,157.1 80.9,155.7 81.4,156.3 81.9,155.8 82.4,154.5 82.9,154.3 83.4,153.2 83.9,152.7 84.4,152.2 84.9,151.8 85.4,152.0 85.9,151.0 86.4,150.7 86.9,149.8 87.4,149.1 87.9,148.9 88.4,148.3 88.9,147.3 89.4,146.8 89.9,145.8 90.4,145.4 90.9,144.8 91.4,144.2 91.9,143.0 92.4,142.7 92.9,141.9 93.4,141.8 93.9,140.7 94.4,140.1 94.9,139.3 95.4,139.1 95.9,138.4 96.4,137.6 96.9,136.6 97.4,136.1 97.9,135.0 98.4,134.6 98.9,133.8 99.4,133.2 99.9,132.2 100.4,131.2 100.9,130.6 101.4,130.0 101.9,129.0 102.4,128.2 102.9,127.7 103.4,126.8 103.9,126.2 104.4,125.9 104.9,125.1 105.4,124.6 105.9,123.9 106.4,123.2 106.9,122.7 107.4,122.5 107.9,121.7 108.4,121.4 108.9,120.7 109.4,120.3 109.9,119.6 110.4,119.4 110.9,118.8 111.4,118.2 111.9,117.4 112.4,116.8 112.9,116.4 113.4,116.2 113.9,115.3 114.4,115.0 114.9,114.6 115.4,114.3 115.9,113.7 116.4,113.0 116.9,112.9 117.4,112.5 117.9,112.0 118.4,111.4 118.9,110.9 119.4,110.6 119.9,110.2 120.4,109.7 120.9,109.5 121.4,109.2 121.9,109.0 122.4,108.3 122.9,107.8 123.4,107.7 123.9,107.2 124.4,106.6 124.9,106.4 125.4,106.1 125.9,105.8 126.4,105.3 126.9,105.0 127.4,104.9 127.9,104.6 128.4,104.1 128.9,104.0 129.4,103.4 129.9,103.0 130.4,102.8 130.9,102.4 131.4,102.2 131.9,102.0 132.4,101.4 132.9,101.0 133.4,100.8 133.9,100.3 134.4,100.1 134.9,99.9 135.4,99.5 135.9,99.5 136.4,99.3 136.9,98.9 137.4,98.8 137.9,98.5 138.4,98.0 138.9,98.0 139.4,97.9 139.9,97.4 140.4,97.3 140.9,96.9 141.4,97.0 141.9,96.5 142.4,96.5 142.9,96.1 143.4,95.7 143.9,95.6 144.4,95.7 144.9,95.5 145.4,95.2 145.9,95.1 146.4,95.1 146.9,94.8 147.4,94.6 147.9,94.4 148.4,94.0 148.9,94.0 149.4,93.9 149.9,93.5 150.4,93.5 150.9,93.4 151.4,93.3 151.9,93.3 152.4,92.8 152.9,93.0 153.4,92.7 153.9,92.8 154.4,92.7 154.9,92.5 155.4,92.3 155.9,92.2 156.4,91.9 156.9,92.0 157.4,92.0 157.9,91.8 158.4,91.6 158.9,91.4 159.4,91.4 159.9,91.4 160.4,91.2 160.9,91.1 161.4,91.1 161.9,90.9 162.4,90.8 162.9,90.8 163.4,90.7 163.9,90.9 164.4,90.8 164.9,90.5 165.4,90.6 165.9,90.4 166.4,90.5 166.9,90.4 167.4,90.4 167.9,90.1 168.4,90.3 168.9,90.3 169.4,90.1 169.9,90.2 170.4,90.0 170.9,89.9 171.4,89.9 171.9,89.9 172.4,90.1 172.9,89.8 173.4,89.9 173.9,90.0 174.4,90.0 174.9,89.8 175.4,89.9 175.9,89.9 176.4,89.9 176.9,89.7 177.4,90.0 177.9,89.7 178.4,89.6 178.9,89.9 179.4,89.9 179.9,89.8 180.4,89.8 180.9,89.8 181.4,89.7 181.9,89.6 182.4,89.6 182.9,89.5 183.4,89.4 183.9,89.4 184.4,89.4 184.9,89.4 185.4,89.3 185.9,89.3 186.4,89.3 186.9,89.3 187.4,89.1 187.9,89.2 188.4,89.2 188.9,89.2 189.4,89.2 189.9,89.2 190.4,89.1 190.9,89.0 191.4,89.0 191.9,89.0 192.4,89.0 192.9,88.9 193.4,88.8 193.9,88.9 194.4,88.8 194.9,88.7 195.4,88.8 195.9,88.8 196.4,88.8 196.9,88.6 197.4,88.6 197.9,88.5 198.4,88.4 198.9,88.3 199.4,88.1 199.9,87.9 200.4,87.5 200.9,87.0 201.4,86.6 201.9,86.0 202.4,85.4 202.9,84.7 203.4,83.9 203.9,83.4 204.4,83.0 204.9,83.1 205.4,83.4 205.9,84.0 206.4,84.8 206.9,85.6 207.4,86.4 207.9,87.1 208.4,87.8 208.9,88.3 209.4,88.7 209.9,88.9 210.4,88.8 210.9,88.6 211.4,87.9 211.9,86.7 212.4,85.2 212.9,83.2 213.4,80.8 213.9,78.2 214.4,75.5 214.9,73.3 215.4,71.8 215.9,71.7 216.4,72.9 216.9,75.0 217.4,77.5 217.9,80.1 218.4,82.3 218.9,84.5 219.4,86.1 219.9,87.4 220.4,88.2 220.9,88.5 221.4,88.7 221.9,88.6 222.4,88.5 222.9,88.0 223.4,87.6 223.9,87.0 224.4,86.3 224.9,85.7 225.4,84.8 225.9,83.9 226.4,83.1 226.9,82.1 227.4,81.2 227.9,80.5 228.4,79.9 228.9,79.9 229.4,80.4 229.9,81.2 230.4,82.2 230.9,83.4 231.4,84.5 231.9,85.5 232.4,86.5 232.9,87.5 233.4,88.3 233.9,89.2 234.4,89.8 234.9,90.4 235.4,90.7 235.9,91.2 236.4,91.3 236.9,91.1 237.4,88.5 237.9,81.5 238.4,70.7 238.9,60.1 239.4,52.5 239.9,49.1 240.4,49.9 240.9,55.2 241.4,64.2 241.9,75.1 242.4,84.4 242.9,88.8 243.4,89.8 243.9,89.6 244.4,89.3 244.9,88.7 245.4,88.2 245.9,87.6 246.4,86.9 246.9,86.1 247.4,85.4 247.9,84.6 248.4,84.0 248.9,83.0 249.4,82.5 249.9,81.7 250.4,80.8 250.9,80.2 251.4,80.0 251.9,80.2 252.4,80.6 252.9,81.2 253.4,82.2 253.9,83.2 254.4,84.7 254.9,85.4 255.4,86.4 255.9,87.6 256.4,88.9 256.9,89.4 257.4,90.8 257.9,91.8 258.4,92.2 258.9,93.4 259.4,94.0 259.9,94.0 260.4,95.2 260.9,95.4 261.4,95.7 261.9,95.5 262.4,95.6 262.9,95.9 263.4,96.2 263.9,96.8 264.4,97.6 264.9,98.0 265.4,99.2 265.9,99.7 266.4,100.3 266.9,100.5 267.4,101.1 267.9,102.0 268.4,102.7 268.9,102.3 269.4,103.1 269.9,103.7 270.4,103.3 270.9,103.2 271.4,103.0 271.9,103.2 272.4,102.7 272.9,101.8 273.4,99.4 273.9,98.4 274.4,95.0 274.9,93.2 275.4,91.8 275.9,92.1 276.4,94.3 276.9,95.9 277.4,97.5 277.9,100.1 278.4,100.6 278.9,100.6 279.4,100.6 279.9,100.0 280.4,98.6 280.9,99.7 281.4,102.6 281.9,103.3 282.4,105.3 282.9,107.8 283.4,107.8 283.9,109.7 284.4,108.5 284.9,110.6 285.4,110.7 285.9,110.0 286.4,111.3 286.9,112.1 287.4,112.2 287.9,112.5 288.4,111.7 288.9,113.1 289.4,111.8 289.9,112.3 290.4,111.4 290.9,112.8 291.4,111.8 291.9,112.1 292.4,112.5 292.9,111.5 293.4,112.4 293.9,112.7 294.4,112.1 294.9,112.1 295.4,114.1 295.9,115.3 296.4,115.6 296.9,114.8 297.4,115.4 297.9,114.9 298.4,114.8 298.9,116.2 299.4,115.6 299.9,116.9 300.4,115.9 300.9,115.9 301.4,117.0 301.9,116.6 302.4,116.2 302.9,117.7 303.4,118.1 303.9,118.2 304.4,117.3 304.9,117.6 305.4,118.0 305.9,118.2 306.4,116.2 306.9,117.3 307.4,117.7 307.9,117.8 308.4,117.6 308.9,117.7 309.4,119.6 309.9,117.9 310.4,119.8 310.9,119.3 311.4,119.2 311.4,126.7 310.9,125.0 310.4,126.0 309.9,126.4 309.4,125.4 308.9,124.9 308.4,124.4 307.9,126.2 307.4,125.8 306.9,124.6 306.4,124.6 305.9,123.7 305.4,124.0 304.9,123.0 304.4,124.0 303.9,124.0 303.4,123.1 302.9,123.5 302.4,123.8 301.9,124.7 301.4,124.8 300.9,124.0 300.4,121.4 299.9,123.6 299.4,123.9 298.9,122.4 298.4,122.1 297.9,121.0 297.4,125.9 296.9,120.1 296.4,120.9 295.9,119.4 295.4,120.6 294.9,117.3 294.4,117.6 293.9,116.5 293.4,117.8 292.9,117.9 292.4,117.1 291.9,115.6 291.4,117.9 290.9,117.1 290.4,117.4 289.9,117.5 289.4,117.6 288.9,117.0 288.4,116.9 287.9,117.7 287.4,117.5 286.9,117.1 286.4,115.3 285.9,116.2 285.4,114.3 284.9,114.1 284.4,113.7 283.9,114.1 283.4,113.1 282.9,112.7 282.4,109.9 281.9,107.7 281.4,106.9 280.9,104.8 280.4,102.9 279.9,102.6 279.4,104.7 278.9,104.2 278.4,104.5 277.9,103.5 277.4,102.0 276.9,99.2 276.4,97.3 275.9,95.2 275.4,95.4 274.9,97.1 274.4,99.1 273.9,102.1 273.4,103.0 272.9,104.8 272.4,105.7 271.9,105.5 271.4,106.4 270.9,106.9 270.4,106.5 269.9,106.7 269.4,106.3 268.9,105.9 268.4,105.3 267.9,105.2 267.4,104.0 266.9,103.0 266.4,103.0 265.9,101.7 265.4,101.9 264.9,101.1 264.4,100.1 263.9,99.4 263.4,99.2 262.9,98.1 262.4,97.7 261.9,98.2 261.4,97.6 260.9,98.0 260.4,96.9 259.9,96.7 259.4,95.8 258.9,95.4 258.4,94.4 257.9,94.0 257.4,92.6 256.9,91.4 256.4,91.2 255.9,89.4 255.4,88.3 254.9,87.1 254.4,86.0 253.9,85.2 253.4,83.7 252.9,82.7 252.4,82.2 251.9,81.5 251.4,81.3 250.9,81.6 250.4,82.3 249.9,82.8 249.4,83.3 248.9,84.2 248.4,85.3 247.9,85.9 247.4,86.4 246.9,87.2 246.4,87.7 245.9,88.5 245.4,89.0 244.9,89.5 244.4,90.1 243.9,90.5 243.4,90.5 242.9,89.5 242.4,85.1 241.9,75.8 241.4,64.7 240.9,55.8 240.4,50.5 239.9,49.6 239.4,53.0 238.9,60.6 238.4,71.3 237.9,82.2 237.4,89.2 236.9,91.6 236.4,92.1 235.9,92.0 235.4,91.5 234.9,91.0 234.4,90.5 233.9,89.9 233.4,89.1 232.9,88.2 232.4,87.2 231.9,86.1 231.4,85.3 230.9,83.9 230.4,82.9 229.9,81.9 229.4,81.1 228.9,80.6 228.4,80.5 227.9,81.1 227.4,81.9 226.9,82.8 226.4,83.7 225.9,84.6 225.4,85.4 224.9,86.3 224.4,87.1 223.9,87.8 223.4,88.4 222.9,88.8 222.4,89.1 221.9,89.4 221.4,89.4 220.9,89.2 220.4,88.9 219.9,88.1 219.4,86.9 218.9,85.1 218.4,83.0 217.9,80.7 217.4,78.2 216.9,75.6 216.4,73.4 215.9,72.3 215.4,72.4 214.9,73.9 214.4,76.1 213.9,78.8 213.4,81.4 212.9,83.8 212.4,85.7 211.9,87.5 211.4,88.5 210.9,89.3 210.4,89.5 209.9,89.6 209.4,89.4 208.9,89.0 208.4,88.4 207.9,87.8 207.4,87.0 206.9,86.2 206.4,85.4 205.9,84.7 205.4,84.0 204.9,83.7 204.4,83.7 203.9,84.0 203.4,84.6 202.9,85.3 202.4,86.1 201.9,86.7 201.4,87.3 200.9,87.8 200.4,88.2 199.9,88.5 199.4,88.8 198.9,89.1 198.4,89.1 197.9,89.4 197.4,89.4 196.9,89.4 196.4,89.4 195.9,89.4 195.4,89.6 194.9,89.5 194.4,89.5 193.9,89.6 193.4,89.5 192.9,89.7 192.4,89.7 191.9,89.7 191.4,89.8 190.9,89.8 190.4,89.9 189.9,90.0 189.4,89.9 188.9,89.9 188.4,90.0 187.9,89.9 187.4,89.9 186.9,90.0 186.4,89.9 185.9,90.1 185.4,90.0 184.9,90.1 184.4,90.2 183.9,90.2 183.4,90.1 182.9,90.1 182.4,90.2 181.9,90.2 181.4,90.3 180.9,90.6 180.4,90.4 179.9,90.5 179.4,90.6 178.9,91.0 178.4,91.0 177.9,91.1 177.4,91.1 176.9,90.7 176.4,91.1 175.9,90.9 175.4,91.5 174.9,91.0 174.4,91.0 173.9,91.1 173.4,90.9 172.9,91.1 172.4,91.2 171.9,91.2 171.4,91.2 170.9,91.2 170.4,91.3 169.9,91.2 169.4,91.5 168.9,91.5 168.4,91.5 167.9,91.2 167.4,91.7 166.9,91.4 166.4,91.6 165.9,91.7 165.4,91.8 164.9,91.7 164.4,91.8 163.9,91.9 163.4,91.7 162.9,92.0 162.4,92.0 161.9,92.2 161.4,92.0 160.9,92.1 160.4,92.2 159.9,92.5 159.4,92.5 158.9,92.7 158.4,92.9 157.9,92.8 157.4,93.2 156.9,93.3 156.4,93.4 155.9,93.3 155.4,93.2 154.9,93.8 154.4,93.8 153.9,93.7 153.4,93.9 152.9,93.9 152.4,94.2 151.9,94.5 151.4,94.3 150.9,94.6 150.4,94.8 149.9,94.9 149.4,94.8 148.9,95.2 148.4,95.4 147.9,95.8 147.4,96.0 146.9,96.2 146.4,96.5 145.9,96.4 145.4,96.4 144.9,96.8 144.4,96.7 143.9,97.1 143.4,97.3 142.9,97.5 142.4,97.4 141.9,97.7 141.4,98.5 140.9,98.2 140.4,98.5 139.9,98.9 139.4,99.2 138.9,99.2 138.4,99.5 137.9,99.9 137.4,100.0 136.9,100.2 136.4,100.7 135.9,100.7 135.4,100.9 134.9,101.1 134.4,101.9 133.9,101.5 133.4,102.2 132.9,102.5 132.4,103.9 131.9,103.2 131.4,103.8 130.9,104.1 130.4,104.2 129.9,104.3 129.4,104.9 128.9,105.3 128.4,105.7 127.9,105.8 127.4,106.3 126.9,106.5 126.4,106.8 125.9,107.3 125.4,107.5 124.9,108.0 124.4,108.8 123.9,108.7 123.4,108.7 122.9,109.5 122.4,110.0 121.9,110.2 121.4,110.5 120.9,110.8 120.4,111.3 119.9,111.5 119.4,112.3 118.9,112.5 118.4,112.8 117.9,113.4 117.4,113.6 116.9,114.5 116.4,114.6 115.9,114.9 115.4,116.3 114.9,116.0 114.4,116.3 113.9,117.0 113.4,117.3 112.9,117.9 112.4,118.1 111.9,119.0 111.4,119.2 110.9,119.8 110.4,120.4 109.9,121.7 109.4,121.3 108.9,122.2 108.4,122.5 107.9,122.9 107.4,123.5 106.9,124.3 106.4,124.8 105.9,125.2 105.4,125.7 104.9,126.8 104.4,127.1 103.9,127.8 103.4,128.4 102.9,129.2 102.4,129.9 101.9,130.5 101.4,130.9 100.9,132.2 100.4,133.0 99.9,133.6 99.4,135.0 98.9,135.5 98.4,136.5 97.9,136.7 97.4,138.0 96.9,138.5 96.4,139.2 95.9,140.0 95.4,141.0 94.9,141.4 94.4,142.3 93.9,142.5 93.4,143.0 92.9,144.2 92.4,144.6 91.9,145.6 91.4,145.8 90.9,146.9 90.4,147.7 89.9,148.0 89.4,149.1 88.9,149.4 88.4,150.3 87.9,150.9 87.4,151.8 86.9,152.8 86.4,153.5 85.9,154.1 85.4,154.9 84.9,155.0 84.4,155.1 83.9,156.2 83.4,156.8 82.9,156.5 82.4,157.6 81.9,159.2 81.4,159.0 80.9,159.9 80.4,161.5 79.9,161.0 79.4,163.0 78.9,162.4 78.4,164.0 77.9,164.3 77.4,163.8 76.9,165.5 76.4,166.1 75.9,166.1 75.4,167.1 74.9,168.2 74.4,170.0 73.9,170.9 73.4,171.4 72.9,172.0 72.4,172.1 71.9,173.8 71.4,173.5 70.9,175.7 70.4,178.3 69.9,175.0 69.4,176.8 68.9,177.0 68.4,181.7 67.9,181.9 67.4,181.6 66.9,183.7 66.4,182.3 65.9,188.7 65.4,186.8 64.9,187.2 64.4,187.8 63.9,186.9 63.4,185.7 62.9,188.7 62.4,187.1 61.9,193.5 61.4,191.6 60.9,193.9 60.4,198.2 59.9,195.4 59.4,195.7 58.9,198.9 58.4,194.5 57.9,196.5 57.4,192.3 56.9,192.9 56.4,196.2 55.9,198.5 55.4,195.5 54.9,197.0 54.4,199.9 53.9,198.7 53.4,204.4 52.9,202.3 52.4,201.7 51.9,204.6 51.4,201.6 50.9,202.3 50.4,205.4 49.9,206.0 49.4,203.6 48.9,205.8 48.4,208.3 47.9,207.3 47.4,208.9 46.9,206.7 46.4,205.4 45.9,205.8 45.4,210.4 44.9,211.3 44.4,209.2 43.9,208.2 43.4,207.7 42.9,212.0 42.4,209.9 41.9,211.3 41.4,211.5 40.9,210.5 40.4,210.1" fill="#ffb400" stroke="#ffb400" stroke-width="1.0" stroke-linejoin="round"/>
<polygon points="40.4,190.8 40.9,187.7 41.4,192.0 41.9,190.9 42.4,187.9 42.9,191.8 43.4,189.4 43.9,187.1 44.4,189.0 44.9,184.7 45.4,187.8 45.9,187.3 46.4,186.7 46.9,190.0 47.4,184.2 47.9,186.2 48.4,183.2 48.9,185.0 49.4,184.6 49.9,184.5 50.4,183.4 50.9,183.2 51.4,184.2 51.9,179.9 52.4,184.4 52.9,183.0 53.4,183.0 53.9,181.5 54.4,179.0 54.9,183.3 55.4,180.0 55.9,183.7 56.4,181.1 56.9,182.2 57.4,180.4 57.9,179.4 58.4,180.6 58.9,178.8 59.4,177.8 59.9,178.1 60.4,178.6 60.9,178.0 61.4,178.4 61.9,177.9 62.4,177.8 62.9,175.7 63.4,176.1 63.9,173.5 64.4,172.7 64.9,170.9 65.4,170.6 65.9,171.3 66.4,169.5 66.9,168.9 67.4,168.5 67.9,170.4 68.4,167.0 68.9,167.5 69.4,167.2 69.9,164.6 70.4,164.7 70.9,164.0 71.4,162.9 71.9,163.2 72.4,161.6 72.9,162.6 73.4,161.7 73.9,160.7 74.4,160.0 74.9,160.1 75.4,157.7 75.9,158.1 76.4,157.4 76.9,157.2 77.4,155.6 77.9,155.0 78.4,154.7 78.9,154.8 79.4,152.9 79.9,152.4 80.4,153.0 80.9,152.1 81.4,151.6 81.9,150.7 82.4,149.9 82.9,149.0 83.4,148.9 83.9,148.2 84.4,148.0 84.9,147.2 85.4,146.5 85.9,146.4 86.4,145.6 86.9,145.4 87.4,144.6 87.9,143.4 88.4,143.4 88.9,142.1 89.4,141.8 89.9,141.2 90.4,140.4 90.9,139.9 91.4,139.3 91.9,138.5 92.4,137.9 92.9,137.7 93.4,136.7 93.9,136.2 94.4,135.4 94.9,135.0 95.4,134.1 95.9,133.6 96.4,132.4 96.9,131.9 97.4,131.0 97.9,130.4 98.4,129.6 98.9,129.0 99.4,127.9 99.9,127.4 100.4,126.7 100.9,125.8 101.4,125.2 101.9,124.5 102.4,123.9 102.9,122.9 103.4,122.2 103.9,121.7 104.4,120.9 104.9,120.3 105.4,119.8 105.9,118.9 106.4,118.7 106.9,117.9 107.4,117.3 107.9,116.8 108.4,116.2 108.9,115.8 109.4,115.1 109.9,114.6 110.4,114.3 110.9,113.8 111.4,113.1 111.9,112.8 112.4,112.2 112.9,111.5 113.4,111.0 113.9,110.8 114.4,110.2 114.9,109.8 115.4,109.3 115.9,109.0 116.4,108.3 116.9,108.0 117.4,107.7 117.9,107.2 118.4,106.9 118.9,106.3 119.4,105.8 119.9,105.6 120.4,105.1 120.9,104.4 121.4,104.0 121.9,104.0 122.4,103.3 122.9,103.2 123.4,102.8 123.9,102.5 124.4,102.1 124.9,101.6 125.4,101.1 125.9,100.8 126.4,100.5 126.9,100.2 127.4,100.0 127.9,99.8 128.4,99.4 128.9,98.6 129.4,98.4 129.9,98.1 130.4,97.7 130.9,97.5 131.4,97.3 131.9,97.0 132.4,96.5 132.9,96.4 133.4,96.3 133.9,95.9 134.4,95.5 134.9,95.1 135.4,94.8 135.9,94.4 136.4,94.3 136.9,94.0 137.4,94.1 137.9,93.4 138.4,93.1 138.9,92.9 139.4,92.5 139.9,92.5 140.4,92.3 140.9,92.1 141.4,92.1 141.9,91.7 142.4,91.4 142.9,91.3 143.4,91.3 143.9,90.8 144.4,90.6 144.9,90.3 145.4,90.2 145.9,90.1 146.4,90.1 146.9,89.8 147.4,89.7 147.9,89.5 148.4,89.2 148.9,89.3 149.4,89.1 149.9,88.9 150.4,88.9 150.9,88.7 151.4,88.4 151.9,88.5 152.4,88.3 152.9,87.9 153.4,88.0 153.9,87.6 154.4,87.7 154.9,87.5 155.4,87.5 155.9,87.2 156.4,87.1 156.9,86.8 157.4,86.9 157.9,86.6 158.4,86.6 158.9,86.6 159.4,86.3 159.9,86.3 160.4,86.4 160.9,86.1 161.4,86.1 161.9,85.9 162.4,86.0 162.9,85.9 163.4,86.0 163.9,85.8 164.4,85.8 164.9,85.5 165.4,85.5 165.9,85.5 166.4,85.4 166.9,85.3 167.4,85.5 167.9,85.3 168.4,85.5 168.9,85.4 169.4,85.5 169.9,85.4 170.4,85.4 170.9,85.4 171.4,85.1 171.9,85.1 172.4,85.2 172.9,84.9 173.4,84.9 173.9,84.8 174.4,85.0 174.9,84.7 175.4,85.0 175.9,84.7 176.4,84.8 176.9,84.8 177.4,84.6 177.9,84.8 178.4,84.6 178.9,84.7 179.4,84.8 179.9,84.8 180.4,84.8 180.9,84.7 181.4,84.7 181.9,84.7 182.4,84.7 182.9,84.7 183.4,84.6 183.9,84.6 184.4,84.5 184.9,84.4 185.4,84.4 185.9,84.5 186.4,84.4 186.9,84.4 187.4,84.3 187.9,84.3 188.4,84.3 188.9,84.3 189.4,84.2 189.9,84.2 190.4,84.1 190.9,84.1 191.4,84.1 191.9,84.1 192.4,84.1 192.9,84.1 193.4,84.0 193.9,84.0 194.4,84.0 194.9,83.9 195.4,84.0 195.9,83.9 196.4,83.9 196.9,83.8 197.4,83.8 197.9,83.8 198.4,83.7 198.9,83.6 199.4,83.5 199.9,83.3 200.4,83.0 200.9,82.6 201.4,82.2 201.9,81.6 202.4,81.0 202.9,80.5 203.4,79.9 203.9,79.4 204.4,79.2 204.9,79.2 205.4,79.5 205.9,80.0 206.4,80.7 206.9,81.4 207.4,82.2 207.9,82.8 208.4,83.3 208.9,84.0 209.4,84.3 209.9,84.4 210.4,84.4 210.9,84.1 211.4,83.5 211.9,82.5 212.4,81.0 212.9,79.3 213.4,77.1 213.9,74.7 214.4,72.3 214.9,70.1 215.4,68.8 215.9,68.6 216.4,69.8 216.9,71.8 217.4,74.2 217.9,76.6 218.4,78.7 218.9,80.6 219.4,82.0 219.9,83.2 220.4,83.9 220.9,84.3 221.4,84.4 221.9,84.2 222.4,84.1 222.9,83.9 223.4,83.4 223.9,83.0 224.4,82.4 224.9,81.7 225.4,81.1 225.9,80.4 226.4,79.5 226.9,78.6 227.4,77.9 227.9,77.3 228.4,76.8 228.9,76.8 229.4,77.2 229.9,78.0 230.4,78.9 230.9,79.9 231.4,81.0 231.9,81.9 232.4,82.9 232.9,83.7 233.4,84.5 233.9,85.1 234.4,85.7 234.9,86.3 235.4,86.6 235.9,86.9 236.4,87.0 236.9,86.8 237.4,84.8 237.9,79.3 238.4,69.9 238.9,59.9 239.4,52.6 239.9,49.1 240.4,49.8 240.9,54.6 241.4,62.8 241.9,72.9 242.4,80.9 242.9,84.8 243.4,85.7 243.9,85.6 244.4,85.1 244.9,84.8 245.4,84.4 245.9,84.0 246.4,83.2 246.9,82.7 247.4,82.0 247.9,81.3 248.4,80.7 248.9,79.8 249.4,79.2 249.9,78.5 250.4,77.7 250.9,77.6 251.4,77.1 251.9,77.1 252.4,77.7 252.9,78.5 253.4,79.4 253.9,80.4 254.4,81.4 254.9,82.7 255.4,83.4 255.9,84.5 256.4,85.6 256.9,86.0 257.4,86.9 257.9,88.0 258.4,88.5 258.9,89.3 259.4,90.1 259.9,90.8 260.4,91.3 260.9,91.5 261.4,91.7 261.9,91.9 262.4,91.8 262.9,92.3 263.4,92.6 263.9,92.8 264.4,94.0 264.9,94.1 265.4,94.4 265.9,95.9 266.4,95.8 266.9,96.6 267.4,97.0 267.9,98.1 268.4,97.9 268.9,98.3 269.4,99.1 269.9,99.5 270.4,99.8 270.9,99.4 271.4,99.4 271.9,98.8 272.4,99.2 272.9,97.4 273.4,96.3 273.9,93.8 274.4,92.7 274.9,89.1 275.4,88.6 275.9,90.3 276.4,90.9 276.9,92.5 277.4,95.8 277.9,95.6 278.4,96.3 278.9,96.1 279.4,96.4 279.9,95.5 280.4,94.8 280.9,96.8 281.4,98.6 281.9,100.7 282.4,102.0 282.9,103.4 283.4,103.7 283.9,105.4 284.4,105.8 284.9,106.9 285.4,107.0 285.9,107.3 286.4,107.3 286.9,107.3 287.4,108.3 287.9,107.4 288.4,108.2 288.9,109.1 289.4,108.8 289.9,109.2 290.4,108.2 290.9,109.3 291.4,108.6 291.9,110.2 292.4,108.1 292.9,108.2 293.4,109.9 293.9,109.1 294.4,108.5 294.9,110.2 295.4,109.4 295.9,110.4 296.4,110.7 296.9,112.1 297.4,112.3 297.9,112.5 298.4,110.8 298.9,111.6 299.4,111.8 299.9,113.7 300.4,114.2 300.9,114.0 301.4,114.3 301.9,115.2 302.4,113.4 302.9,113.4 303.4,113.6 303.9,113.7 304.4,115.2 304.9,113.4 305.4,113.3 305.9,113.9 306.4,114.5 306.9,114.1 307.4,116.3 307.9,114.6 308.4,116.3 308.9,115.1 309.4,113.9 309.9,115.8 310.4,116.0 310.9,115.5 311.4,114.0 311.4,124.8 310.9,122.5 310.4,122.1 309.9,123.2 309.4,123.0 308.9,123.1 308.4,122.6 307.9,123.7 307.4,121.6 306.9,122.0 306.4,122.4 305.9,120.1 305.4,120.3 304.9,120.2 304.4,120.2 303.9,120.7 303.4,120.2 302.9,119.9 302.4,123.3 301.9,121.5 301.4,119.3 300.9,120.0 300.4,120.3 299.9,120.8 299.4,118.5 298.9,118.7 298.4,116.5 297.9,117.2 297.4,116.4 296.9,119.1 296.4,117.9 295.9,117.3 295.4,115.8 294.9,115.6 294.4,114.8 293.9,113.7 293.4,116.1 292.9,116.1 292.4,113.9 291.9,115.6 291.4,114.1 290.9,114.6 290.4,114.1 289.9,114.2 289.4,116.1 288.9,114.0 288.4,113.0 287.9,112.6 287.4,113.0 286.9,111.8 286.4,111.9 285.9,111.8 285.4,110.9 284.9,110.5 284.4,110.4 283.9,109.4 283.4,109.4 282.9,107.6 282.4,106.6 281.9,104.2 281.4,102.8 280.9,102.3 280.4,100.2 279.9,99.6 279.4,100.4 278.9,100.1 278.4,100.8 277.9,101.7 277.4,99.5 276.9,97.9 276.4,95.2 275.9,93.2 275.4,92.4 274.9,94.0 274.4,95.1 273.9,97.6 273.4,100.0 272.9,100.6 272.4,102.3 271.9,102.4 271.4,102.7 270.9,103.2 270.4,102.0 269.9,102.0 269.4,102.2 268.9,100.8 268.4,101.2 267.9,99.9 267.4,100.5 266.9,99.3 266.4,98.5 265.9,98.4 265.4,98.3 264.9,97.1 264.4,96.6 263.9,95.2 263.4,95.2 262.9,94.5 262.4,94.4 261.9,94.6 261.4,94.8 260.9,94.2 260.4,93.7 259.9,92.9 259.4,92.5 258.9,91.4 258.4,90.9 257.9,90.1 257.4,88.7 256.9,88.2 256.4,87.5 255.9,86.7 255.4,85.3 254.9,84.4 254.4,83.4 253.9,81.7 253.4,80.6 252.9,80.0 252.4,79.2 251.9,78.7 251.4,79.1 250.9,78.9 250.4,79.0 249.9,79.6 249.4,80.3 248.9,81.0 248.4,81.7 247.9,82.4 247.4,83.2 246.9,83.6 246.4,84.1 245.9,84.7 245.4,85.1 244.9,85.5 244.4,86.0 243.9,86.2 243.4,86.5 242.9,85.5 242.4,81.5 241.9,73.3 241.4,63.4 240.9,55.2 240.4,50.2 239.9,49.7 239.4,53.1 238.9,60.5 238.4,70.4 237.9,79.9 237.4,85.6 236.9,87.4 236.4,87.7 235.9,87.6 235.4,87.5 234.9,87.0 234.4,86.5 233.9,85.9 233.4,85.1 232.9,84.5 232.4,83.6 231.9,82.6 231.4,81.6 230.9,80.6 230.4,79.6 229.9,78.6 229.4,77.9 228.9,77.5 228.4,77.4 227.9,77.8 227.4,78.6 226.9,79.3 226.4,80.2 225.9,80.9 225.4,81.7 224.9,82.4 224.4,83.1 223.9,83.8 223.4,84.2 222.9,84.5 222.4,84.7 221.9,85.0 221.4,85.0 220.9,84.8 220.4,84.5 219.9,83.8 219.4,82.7 218.9,81.2 218.4,79.3 217.9,77.2 217.4,74.8 216.9,72.4 216.4,70.4 215.9,69.2 215.4,69.4 214.9,70.7 214.4,72.9 213.9,75.3 213.4,77.7 212.9,80.0 212.4,81.7 211.9,83.1 211.4,84.2 210.9,84.7 210.4,85.0 209.9,85.1 209.4,84.9 208.9,84.6 208.4,84.1 207.9,83.5 207.4,82.8 206.9,82.1 206.4,81.3 205.9,80.7 205.4,80.2 204.9,79.8 204.4,79.8 203.9,80.1 203.4,80.5 202.9,81.1 202.4,81.8 201.9,82.3 201.4,82.8 200.9,83.2 200.4,83.6 199.9,83.9 199.4,84.1 198.9,84.2 198.4,84.2 197.9,84.4 197.4,84.4 196.9,84.5 196.4,84.6 195.9,84.5 195.4,84.6 194.9,84.7 194.4,84.7 193.9,84.6 193.4,84.8 192.9,84.7 192.4,84.7 191.9,84.7 191.4,84.7 190.9,84.8 190.4,84.9 189.9,84.9 189.4,84.9 188.9,84.9 188.4,85.0 187.9,85.0 187.4,85.0 186.9,85.0 186.4,85.0 185.9,85.2 185.4,85.1 184.9,85.3 184.4,85.1 183.9,85.3 183.4,85.4 182.9,85.4 182.4,85.4 181.9,85.5 181.4,85.4 180.9,85.4 180.4,85.6 179.9,85.6 179.4,85.5 178.9,85.9 178.4,85.7 177.9,85.7 177.4,85.8 176.9,85.6 176.4,85.9 175.9,85.7 175.4,86.0 174.9,85.9 174.4,85.9 173.9,85.9 173.4,86.1 172.9,86.5 172.4,86.3 171.9,86.2 171.4,86.4 170.9,86.5 170.4,86.4 169.9,86.5 169.4,86.4 168.9,86.3 168.4,86.3 167.9,86.4 167.4,86.4 166.9,86.3 166.4,86.4 165.9,86.7 165.4,86.5 164.9,86.7 164.4,86.7 163.9,86.8 163.4,87.0 162.9,86.9 162.4,87.2 161.9,87.3 161.4,87.4 160.9,87.4 160.4,87.6 159.9,87.4 159.4,87.4 158.9,87.8 158.4,87.4 157.9,87.8 157.4,87.7 156.9,88.2 156.4,88.1 155.9,88.5 155.4,88.6 154.9,88.6 154.4,88.7 153.9,89.0 153.4,89.0 152.9,89.2 152.4,89.4 151.9,89.6 151.4,89.4 150.9,89.6 150.4,89.8 149.9,89.9 149.4,89.9 148.9,90.6 148.4,90.6 147.9,90.4 147.4,90.9 146.9,91.0 146.4,91.4 145.9,91.2 145.4,91.6 144.9,91.6 144.4,91.9 143.9,92.0 143.4,92.3 142.9,92.6 142.4,92.6 141.9,93.1 141.4,93.2 140.9,93.1 140.4,93.7 139.9,93.6 139.4,94.0 138.9,94.4 138.4,94.4 137.9,95.0 137.4,95.1 136.9,95.3 136.4,95.9 135.9,95.8 135.4,96.2 134.9,96.4 134.4,96.6 133.9,97.1 133.4,97.5 132.9,97.9 132.4,98.1 131.9,98.2 131.4,98.4 130.9,98.9 130.4,99.0 129.9,99.4 129.4,99.8 128.9,100.1 128.4,100.7 127.9,100.9 127.4,101.3 126.9,101.8 126.4,102.0 125.9,102.0 125.4,102.9 124.9,103.1 124.4,103.7 123.9,103.8 123.4,104.0 122.9,104.4 122.4,104.7 121.9,105.2 121.4,105.6 120.9,105.9 120.4,106.3 119.9,106.8 119.4,107.2 118.9,107.6 118.4,108.1 117.9,108.5 117.4,108.7 116.9,109.1 116.4,109.6 115.9,110.2 115.4,110.7 114.9,111.4 114.4,111.6 113.9,112.1 113.4,112.3 112.9,112.6 112.4,113.6 111.9,113.8 111.4,114.4 110.9,114.9 110.4,115.8 109.9,115.7 109.4,116.8 108.9,116.7 108.4,117.3 107.9,118.0 107.4,118.5 106.9,119.3 106.4,119.6 105.9,120.4 105.4,121.0 104.9,121.3 104.4,122.4 103.9,122.6 103.4,123.7 102.9,124.1 102.4,125.2 101.9,126.1 101.4,126.4 100.9,127.0 100.4,128.4 99.9,128.8 99.4,129.7 98.9,130.6 98.4,131.5 97.9,131.9 97.4,132.4 96.9,133.2 96.4,134.2 95.9,134.7 95.4,136.0 94.9,136.2 94.4,137.0 93.9,137.8 93.4,138.5 92.9,139.3 92.4,139.5 91.9,140.7 91.4,141.5 90.9,141.6 90.4,142.7 89.9,142.8 89.4,143.3 88.9,144.3 88.4,145.5 87.9,145.3 87.4,146.9 86.9,147.1 86.4,148.3 85.9,148.7 85.4,149.7 84.9,150.0 84.4,150.2 83.9,150.7 83.4,151.9 82.9,153.1 82.4,153.1 81.9,154.1 81.4,154.7 80.9,155.9 80.4,155.7 79.9,155.8 79.4,156.8 78.9,158.7 78.4,157.8 77.9,159.2 77.4,160.2 76.9,160.6 76.4,161.0 75.9,163.8 75.4,162.4 74.9,163.4 74.4,163.8 73.9,166.5 73.4,165.7 72.9,166.4 72.4,169.4 71.9,169.7 71.4,169.3 70.9,170.9 70.4,171.9 69.9,172.1 69.4,172.1 68.9,174.1 68.4,174.0 67.9,176.7 67.4,175.7 66.9,179.2 66.4,177.7 65.9,181.5 65.4,181.7 64.9,181.3 64.4,183.7 63.9,184.4 63.4,182.4 62.9,184.1 62.4,186.9 61.9,185.0 61.4,185.0 60.9,187.0 60.4,190.2 59.9,188.2 59.4,191.0 58.9,191.4 58.4,191.3 57.9,193.7 57.4,197.2 56.9,196.0 56.4,191.8 55.9,196.0 55.4,196.0 54.9,193.8 54.4,199.2 53.9,195.8 53.4,194.0 52.9,198.1 52.4,196.6 51.9,197.4 51.4,196.1 50.9,200.9 50.4,200.6 49.9,197.6 49.4,198.8 48.9,200.6 48.4,206.6 47.9,202.7 47.4,200.2 46.9,203.4 46.4,203.3 45.9,201.9 45.4,205.3 44.9,199.5 44.4,204.6 43.9,203.1 43.4,206.4 42.9,207.1 42.4,203.5 41.9,205.0 41.4,207.8 40.9,204.1 40.4,202.1" fill="#ff9400" stroke="#ff9400" stroke-width="1.0" stroke-linejoin="round"/>
<polygon points="40.4,191.9 40.9,189.5 41.4,185.5 41.9,184.7 42.4,188.9 42.9,187.3 43.4,186.5 43.9,188.9 44.4,190.0 44.9,186.0 45.4,191.3 45.9,186.4 46.4,190.0 46.9,188.5 47.4,186.3 47.9,186.3 48.4,183.9 48.9,183.5 49.4,181.4 49.9,186.4 50.4,180.7 50.9,184.6 51.4,180.2 51.9,181.5 52.4,178.4 52.9,180.4 53.4,180.3 53.9,177.1 54.4,176.8 54.9,180.2 55.4,176.0 55.9,180.9 56.4,176.4 56.9,175.9 57.4,174.7 57.9,177.5 58.4,177.3 58.9,176.8 59.4,176.8 59.9,174.0 60.4,173.2 60.9,175.5 61.4,171.9 61.9,170.4 62.4,171.9 62.9,169.4 63.4,169.1 63.9,168.5 64.4,166.4 64.9,166.0 65.4,167.5 65.9,167.9 66.4,167.0 66.9,166.9 67.4,164.9 67.9,165.0 68.4,162.0 68.9,162.1 69.4,162.5 69.9,161.3 70.4,160.6 70.9,159.3 71.4,159.4 71.9,158.8 72.4,157.5 72.9,157.0 73.4,156.9 73.9,155.1 74.4,155.9 74.9,153.9 75.4,154.3 75.9,153.2 76.4,152.2 76.9,152.0 77.4,151.7 77.9,151.8 78.4,151.0 78.9,149.5 79.4,150.3 79.9,148.3 80.4,147.7 80.9,148.2 81.4,146.7 81.9,147.0 82.4,146.4 82.9,145.2 83.4,144.5 83.9,143.4 84.4,142.7 84.9,143.0 85.4,141.8 85.9,141.6 86.4,140.7 86.9,140.2 87.4,139.9 87.9,138.9 88.4,138.7 88.9,138.2 89.4,137.1 89.9,137.1 90.4,136.3 90.9,136.0 91.4,134.7 91.9,134.4 92.4,133.7 92.9,133.2 93.4,132.3 93.9,131.6 94.4,130.7 94.9,130.2 95.4,129.5 95.9,129.0 96.4,128.2 96.9,127.4 97.4,126.8 97.9,125.8 98.4,125.4 98.9,124.3 99.4,123.6 99.9,122.6 100.4,121.8 100.9,121.2 101.4,120.5 101.9,119.6 102.4,119.2 102.9,118.5 103.4,117.7 103.9,116.9 104.4,116.1 104.9,115.7 105.4,115.1 105.9,114.4 106.4,113.9 106.9,113.4 107.4,113.0 107.9,112.2 108.4,111.9 108.9,111.3 109.4,110.6 109.9,110.0 110.4,109.6 110.9,108.9 111.4,108.5 111.9,107.9 112.4,107.5 112.9,107.1 113.4,106.9 113.9,106.4 114.4,106.0 114.9,105.4 115.4,104.9 115.9,104.3 116.4,104.1 116.9,103.3 117.4,103.0 117.9,102.5 118.4,102.3 118.9,101.7 119.4,101.3 119.9,100.9 120.4,100.4 120.9,100.0 121.4,99.7 121.9,99.5 122.4,99.1 122.9,98.5 123.4,98.4 123.9,97.9 124.4,97.6 124.9,97.2 125.4,96.8 125.9,96.5 126.4,96.1 126.9,95.6 127.4,95.1 127.9,94.9 128.4,94.8 128.9,94.5 129.4,93.9 129.9,93.6 130.4,93.6 130.9,93.2 131.4,92.7 131.9,92.4 132.4,92.0 132.9,91.7 133.4,91.3 133.9,91.3 134.4,90.9 134.9,90.6 135.4,90.0 135.9,89.7 136.4,89.3 136.9,89.4 137.4,89.3 137.9,88.9 138.4,88.9 138.9,88.5 139.4,88.3 139.9,88.3 140.4,88.1 140.9,87.5 141.4,87.4 141.9,87.1 142.4,87.0 142.9,86.7 143.4,86.5 143.9,86.5 144.4,86.0 144.9,85.9 145.4,85.9 145.9,85.7 146.4,85.3 146.9,85.4 147.4,85.0 147.9,85.0 148.4,84.8 148.9,84.4 149.4,84.5 149.9,84.1 150.4,84.0 150.9,84.1 151.4,83.8 151.9,83.6 152.4,83.5 152.9,83.6 153.4,83.4 153.9,83.3 154.4,83.1 154.9,83.2 155.4,82.8 155.9,82.9 156.4,82.8 156.9,82.5 157.4,82.4 157.9,82.0 158.4,81.9 158.9,82.0 159.4,81.8 159.9,81.9 160.4,81.8 160.9,81.6 161.4,81.6 161.9,81.4 162.4,81.4 162.9,81.3 163.4,81.3 163.9,81.1 164.4,81.2 164.9,81.1 165.4,81.1 165.9,81.0 166.4,81.0 166.9,81.0 167.4,81.0 167.9,80.9 168.4,80.9 168.9,80.6 169.4,80.8 169.9,80.6 170.4,80.6 170.9,80.6 171.4,80.7 171.9,80.8 172.4,80.5 172.9,80.6 173.4,80.4 173.9,80.5 174.4,80.5 174.9,80.5 175.4,80.6 175.9,80.3 176.4,80.4 176.9,80.5 177.4,80.4 177.9,80.2 178.4,80.1 178.9,80.1 179.4,80.4 179.9,80.2 180.4,80.2 180.9,80.1 181.4,80.1 181.9,80.1 182.4,80.0 182.9,80.0 183.4,80.0 183.9,79.9 184.4,79.9 184.9,79.8 185.4,79.8 185.9,79.9 186.4,79.8 186.9,79.9 187.4,79.7 187.9,79.6 188.4,79.7 188.9,79.7 189.4,79.6 189.9,79.6 190.4,79.7 190.9,79.6 191.4,79.5 191.9,79.6 192.4,79.5 192.9,79.5 193.4,79.5 193.9,79.4 194.4,79.5 194.9,79.4 195.4,79.4 195.9,79.3 196.4,79.3 196.9,79.3 197.4,79.3 197.9,79.2 198.4,79.1 198.9,79.0 199.4,79.0 199.9,78.7 200.4,78.6 200.9,78.3 201.4,77.9 201.9,77.5 202.4,77.0 202.9,76.5 203.4,76.1 203.9,75.7 204.4,75.4 204.9,75.5 205.4,75.8 205.9,76.2 206.4,76.9 206.9,77.5 207.4,78.1 207.9,78.7 208.4,79.2 208.9,79.7 209.4,80.0 209.9,80.1 210.4,80.2 210.9,79.9 211.4,79.4 211.9,78.5 212.4,77.2 212.9,75.5 213.4,73.5 213.9,71.4 214.4,69.1 214.9,67.2 215.4,65.8 215.9,65.7 216.4,66.8 216.9,68.7 217.4,70.9 217.9,73.1 218.4,75.1 218.9,76.8 219.4,78.1 219.9,79.2 220.4,79.7 220.9,80.0 221.4,80.1 221.9,80.2 222.4,79.9 222.9,79.8 223.4,79.4 223.9,79.0 224.4,78.6 224.9,78.1 225.4,77.4 225.9,76.7 226.4,76.0 226.9,75.3 227.4,74.6 227.9,74.1 228.4,73.8 228.9,73.8 229.4,74.1 229.9,74.8 230.4,75.6 230.9,76.6 231.4,77.5 231.9,78.3 232.4,79.2 232.9,79.8 233.4,80.6 233.9,81.2 234.4,81.6 234.9,82.1 235.4,82.5 235.9,82.7 236.4,82.9 236.9,82.7 237.4,81.4 237.9,76.8 238.4,68.7 238.9,59.7 239.4,52.7 239.9,49.1 240.4,49.6 240.9,54.0 241.4,61.7 241.9,70.7 242.4,77.7 242.9,80.9 243.4,81.6 243.9,81.5 244.4,81.4 244.9,80.8 245.4,80.5 245.9,80.2 246.4,79.5 246.9,79.1 247.4,78.6 247.9,77.8 248.4,77.2 248.9,76.6 249.4,76.2 249.9,75.7 250.4,75.0 250.9,75.0 251.4,74.6 251.9,74.7 252.4,75.0 252.9,75.8 253.4,76.1 253.9,77.4 254.4,78.1 254.9,79.4 255.4,79.9 255.9,80.9 256.4,82.0 256.9,82.5 257.4,83.2 257.9,84.0 258.4,84.6 258.9,85.8 259.4,85.9 259.9,86.6 260.4,87.0 260.9,87.8 261.4,87.7 261.9,88.5 262.4,87.9 262.9,88.9 263.4,88.6 263.9,88.6 264.4,89.5 264.9,90.6 265.4,91.3 265.9,91.2 266.4,92.3 266.9,92.6 267.4,92.6 267.9,93.6 268.4,93.6 268.9,94.4 269.4,95.3 269.9,95.7 270.4,96.1 270.9,96.1 271.4,95.0 271.9,95.2 272.4,94.5 272.9,93.4 273.4,92.9 273.9,91.0 274.4,89.2 274.9,87.1 275.4,87.2 275.9,87.1 276.4,88.4 276.9,90.2 277.4,92.3 277.9,92.2 278.4,93.5 278.9,92.6 279.4,93.1 279.9,92.8 280.4,91.9 280.9,93.0 281.4,94.3 281.9,95.7 282.4,97.5 282.9,99.5 283.4,99.9 283.9,102.1 284.4,103.3 284.9,102.2 285.4,103.0 285.9,103.6 286.4,103.1 286.9,104.1 287.4,105.2 287.9,104.9 288.4,104.6 288.9,105.4 289.4,106.5 289.9,106.2 290.4,106.1 290.9,106.7 291.4,105.8 291.9,104.9 292.4,105.5 292.9,103.9 293.4,104.2 293.9,104.6 294.4,104.5 294.9,105.5 295.4,107.0 295.9,107.4 296.4,106.4 296.9,108.0 297.4,106.4 297.9,107.6 298.4,109.2 298.9,109.3 299.4,109.8 299.9,109.2 300.4,110.5 300.9,108.8 301.4,109.7 301.9,108.2 302.4,109.4 302.9,109.2 303.4,111.2 303.9,110.6 304.4,111.2 304.9,111.2 305.4,110.6 305.9,112.3 306.4,112.5 306.9,111.5 307.4,113.1 307.9,111.4 308.4,111.6 308.9,110.3 309.4,111.2 309.9,110.9 310.4,111.7 310.9,110.3 311.4,111.6 311.4,119.3 310.9,119.9 310.4,118.6 309.9,118.6 309.4,120.1 308.9,118.2 308.4,118.4 307.9,117.2 307.4,120.0 306.9,118.1 306.4,118.4 305.9,119.8 305.4,118.0 304.9,116.5 304.4,117.3 303.9,116.5 303.4,115.2 302.9,117.8 302.4,116.9 301.9,115.7 301.4,115.4 300.9,116.6 300.4,116.9 299.9,117.1 299.4,116.2 298.9,115.5 298.4,114.5 297.9,119.2 297.4,112.4 296.9,112.4 296.4,112.5 295.9,112.1 295.4,112.6 294.9,111.9 294.4,111.7 293.9,110.6 293.4,109.4 292.9,110.8 292.4,109.8 291.9,110.0 291.4,112.8 290.9,110.9 290.4,110.0 289.9,109.9 289.4,110.1 288.9,110.8 288.4,112.1 287.9,108.8 287.4,109.5 286.9,108.4 286.4,108.9 285.9,107.2 285.4,108.6 284.9,106.8 284.4,107.8 283.9,106.4 283.4,105.1 282.9,103.3 282.4,101.5 281.9,99.7 281.4,98.6 280.9,98.1 280.4,96.4 279.9,95.6 279.4,97.7 278.9,97.0 278.4,97.0 277.9,97.6 277.4,95.5 276.9,93.2 276.4,91.7 275.9,90.7 275.4,90.8 274.9,91.8 274.4,93.7 273.9,95.1 273.4,95.5 272.9,97.0 272.4,98.6 271.9,97.9 271.4,98.9 270.9,98.3 270.4,99.8 269.9,99.4 269.4,98.7 268.9,97.3 268.4,97.7 267.9,96.5 267.4,95.5 266.9,96.0 266.4,95.2 265.9,94.3 265.4,93.5 264.9,93.6 264.4,92.7 263.9,91.9 263.4,91.3 262.9,91.3 262.4,90.9 261.9,91.0 261.4,90.0 260.9,89.6 260.4,89.6 259.9,89.7 259.4,88.1 258.9,87.6 258.4,87.2 257.9,86.2 257.4,85.7 256.9,84.8 256.4,83.8 255.9,82.8 255.4,81.8 254.9,80.8 254.4,79.8 253.9,78.9 253.4,78.2 252.9,77.3 252.4,76.3 251.9,76.2 251.4,75.8 250.9,76.0 250.4,76.6 249.9,76.7 249.4,77.4 248.9,77.7 248.4,78.1 247.9,78.9 247.4,79.5 246.9,79.9 246.4,80.5 245.9,81.1 245.4,81.4 244.9,81.8 244.4,82.0 243.9,82.3 243.4,82.4 242.9,81.7 242.4,78.4 241.9,71.2 241.4,62.2 240.9,54.5 240.4,50.2 239.9,49.6 239.4,53.3 238.9,60.3 238.4,69.3 237.9,77.5 237.4,82.0 236.9,83.4 236.4,83.5 235.9,83.4 235.4,83.1 234.9,82.8 234.4,82.3 233.9,81.8 233.4,81.2 232.9,80.5 232.4,79.8 231.9,79.0 231.4,78.1 230.9,77.1 230.4,76.4 229.9,75.5 229.4,74.8 228.9,74.4 228.4,74.4 227.9,74.6 227.4,75.2 226.9,75.9 226.4,76.6 225.9,77.4 225.4,78.0 224.9,78.7 224.4,79.3 223.9,79.7 223.4,80.0 222.9,80.4 222.4,80.6 221.9,80.9 221.4,80.8 220.9,80.8 220.4,80.4 219.9,79.8 219.4,78.9 218.9,77.4 218.4,75.7 217.9,73.7 217.4,71.5 216.9,69.4 216.4,67.3 215.9,66.2 215.4,66.4 214.9,67.8 214.4,69.8 213.9,72.0 213.4,74.2 212.9,76.1 212.4,77.8 211.9,79.0 211.4,79.9 210.9,80.5 210.4,80.8 209.9,80.7 209.4,80.5 208.9,80.3 208.4,79.8 207.9,79.3 207.4,78.8 206.9,78.1 206.4,77.4 205.9,76.9 205.4,76.4 204.9,76.0 204.4,76.1 203.9,76.3 203.4,76.7 202.9,77.1 202.4,77.7 201.9,78.1 201.4,78.5 200.9,78.9 200.4,79.2 199.9,79.3 199.4,79.6 198.9,79.7 198.4,79.9 197.9,79.8 197.4,80.0 196.9,80.0 196.4,79.9 195.9,80.0 195.4,79.9 194.9,80.0 194.4,80.1 193.9,80.2 193.4,80.1 192.9,80.1 192.4,80.1 191.9,80.2 191.4,80.1 190.9,80.2 190.4,80.2 189.9,80.3 189.4,80.2 188.9,80.3 188.4,80.3 187.9,80.4 187.4,80.4 186.9,80.4 186.4,80.4 185.9,80.6 185.4,80.5 184.9,80.6 184.4,80.5 183.9,80.6 183.4,80.7 182.9,80.7 182.4,80.8 181.9,80.8 181.4,80.8 180.9,80.8 180.4,80.9 179.9,80.9 179.4,81.0 178.9,81.2 178.4,81.1 177.9,81.2 177.4,81.2 176.9,81.6 176.4,81.3 175.9,81.3 175.4,81.5 174.9,81.3 174.4,81.3 173.9,81.4 173.4,81.5 172.9,81.4 172.4,81.7 171.9,81.7 171.4,81.8 170.9,81.7 170.4,81.7 169.9,81.8 169.4,81.8 168.9,81.7 168.4,81.8 167.9,81.8 167.4,82.0 166.9,82.1 166.4,82.0 165.9,82.1 165.4,82.1 164.9,82.1 164.4,82.2 163.9,82.2 163.4,82.2 162.9,82.3 162.4,82.4 161.9,82.4 161.4,82.6 160.9,82.6 160.4,82.8 159.9,82.8 159.4,82.9 158.9,83.0 158.4,82.8 157.9,83.0 157.4,83.1 156.9,83.3 156.4,83.8 155.9,83.8 155.4,83.9 154.9,84.0 154.4,84.1 153.9,84.1 153.4,84.4 152.9,84.4 152.4,84.4 151.9,84.8 151.4,84.8 150.9,85.1 150.4,85.2 149.9,85.2 149.4,85.6 148.9,85.8 148.4,85.7 147.9,85.8 147.4,86.0 146.9,86.4 146.4,86.4 145.9,86.4 145.4,87.2 144.9,87.0 144.4,87.0 143.9,87.6 143.4,87.7 142.9,87.7 142.4,88.0 141.9,88.3 141.4,88.6 140.9,88.7 140.4,88.9 139.9,89.2 139.4,89.4 138.9,89.9 138.4,89.9 137.9,90.1 137.4,90.4 136.9,90.8 136.4,90.5 135.9,91.0 135.4,91.3 134.9,91.6 134.4,91.8 133.9,92.7 133.4,92.4 132.9,92.8 132.4,93.1 131.9,93.6 131.4,93.7 130.9,94.1 130.4,94.9 129.9,94.7 129.4,95.4 128.9,95.4 128.4,96.0 127.9,96.3 127.4,96.7 126.9,97.0 126.4,97.1 125.9,97.5 125.4,97.9 124.9,98.2 124.4,98.9 123.9,99.1 123.4,99.4 122.9,99.9 122.4,100.1 121.9,100.6 121.4,100.7 120.9,101.1 120.4,101.5 119.9,101.9 119.4,102.5 118.9,102.7 118.4,103.4 117.9,103.8 117.4,104.1 116.9,104.7 116.4,105.2 115.9,105.6 115.4,106.1 114.9,106.5 114.4,106.9 113.9,107.3 113.4,108.1 112.9,108.2 112.4,108.9 111.9,109.2 111.4,109.7 110.9,110.2 110.4,110.5 109.9,111.3 109.4,111.9 108.9,112.4 108.4,113.0 107.9,113.5 107.4,114.2 106.9,114.7 106.4,115.0 105.9,115.8 105.4,116.2 104.9,116.8 104.4,117.4 103.9,118.1 103.4,118.5 102.9,119.6 102.4,120.2 101.9,121.2 101.4,121.7 100.9,122.6 100.4,123.4 99.9,124.2 99.4,125.0 98.9,126.0 98.4,126.6 97.9,127.4 97.4,127.9 96.9,128.5 96.4,129.5 95.9,130.2 95.4,130.8 94.9,131.8 94.4,132.4 93.9,133.2 93.4,133.8 92.9,134.6 92.4,135.0 91.9,136.0 91.4,136.5 90.9,137.7 90.4,138.7 89.9,138.6 89.4,139.4 88.9,140.0 88.4,140.6 87.9,141.3 87.4,141.4 86.9,142.5 86.4,143.2 85.9,143.7 85.4,145.0 84.9,145.8 84.4,145.7 83.9,146.6 83.4,147.5 82.9,147.4 82.4,149.1 81.9,149.5 81.4,150.7 80.9,151.0 80.4,151.5 79.9,152.5 79.4,153.0 78.9,153.4 78.4,155.5 77.9,154.3 77.4,155.1 76.9,156.0 76.4,157.4 75.9,158.0 75.4,158.6 74.9,157.9 74.4,160.4 73.9,159.9 73.4,162.8 72.9,161.3 72.4,163.3 71.9,164.9 71.4,165.5 70.9,165.3 70.4,167.0 69.9,168.1 69.4,168.7 68.9,167.1 68.4,172.0 67.9,171.3 67.4,171.7 66.9,173.3 66.4,174.1 65.9,175.9 65.4,173.7 64.9,174.8 64.4,176.1 63.9,176.0 63.4,178.0 62.9,178.6 62.4,181.6 61.9,181.8 61.4,185.1 60.9,183.1 60.4,182.4 59.9,186.6 59.4,188.0 58.9,184.7 58.4,184.7 57.9,189.9 57.4,187.4 56.9,191.4 56.4,191.1 55.9,190.7 55.4,188.8 54.9,193.4 54.4,199.2 53.9,194.4 53.4,188.7 52.9,196.7 52.4,195.2 51.9,193.6 51.4,195.3 50.9,199.1 50.4,200.1 49.9,196.6 49.4,197.1 48.9,198.3 48.4,200.7 47.9,197.0 47.4,200.7 46.9,203.7 46.4,206.0 45.9,203.3 45.4,202.3 44.9,205.0 44.4,207.0 43.9,201.4 43.4,205.9 42.9,199.6 42.4,201.1 41.9,204.5 41.4,209.9 40.9,202.9 40.4,208.2" fill="#ff6c00" stroke="#ff6c00" stroke-width="1.0" stroke-linejoin="round"/>
<polygon points="40.4,185.3 40.9,185.3 41.4,188.8 41.9,187.2 42.4,187.3 42.9,185.7 43.4,187.0 43.9,188.2 44.4,182.0 44.9,185.6 45.4,181.2 45.9,181.6 46.4,178.7 46.9,184.0 47.4,183.2 47.9,184.0 48.4,185.0 48.9,182.7 49.4,180.6 49.9,184.7 50.4,182.4 50.9,181.5 51.4,180.0 51.9,180.5 52.4,179.2 52.9,179.4 53.4,177.7 53.9,176.6 54.4,177.0 54.9,174.9 55.4,176.1 55.9,173.6 56.4,173.0 56.9,176.2 57.4,174.1 57.9,173.8 58.4,172.3 58.9,173.0 59.4,171.1 59.9,172.4 60.4,170.0 60.9,168.3 61.4,168.8 61.9,168.7 62.4,168.1 62.9,169.3 63.4,166.0 63.9,165.5 64.4,166.0 64.9,163.3 65.4,163.2 65.9,164.3 66.4,163.0 66.9,162.2 67.4,161.9 67.9,161.1 68.4,159.0 68.9,158.8 69.4,157.2 69.9,156.1 70.4,156.2 70.9,155.2 71.4,155.5 71.9,154.1 72.4,153.5 72.9,153.4 73.4,152.0 73.9,152.6 74.4,150.5 74.9,150.3 75.4,149.2 75.9,148.3 76.4,148.4 76.9,147.9 77.4,147.1 77.9,146.7 78.4,146.1 78.9,145.2 79.4,145.6 79.9,145.3 80.4,144.5 80.9,144.5 81.4,143.4 81.9,142.8 82.4,142.1 82.9,141.4 83.4,140.2 83.9,139.7 84.4,139.4 84.9,138.8 85.4,138.7 85.9,137.7 86.4,136.9 86.9,136.4 87.4,135.7 87.9,135.0 88.4,134.8 88.9,134.2 89.4,133.3 89.9,132.6 90.4,132.1 90.9,131.4 91.4,131.0 91.9,130.2 92.4,129.9 92.9,129.0 93.4,128.4 93.9,127.9 94.4,127.0 94.9,126.1 95.4,125.7 95.9,124.7 96.4,124.0 96.9,123.2 97.4,122.2 97.9,121.7 98.4,120.8 98.9,120.1 99.4,119.2 99.9,118.5 100.4,117.7 100.9,116.9 101.4,116.2 101.9,115.6 102.4,115.1 102.9,114.2 103.4,113.5 103.9,112.7 104.4,112.1 104.9,111.4 105.4,111.1 105.9,110.5 106.4,109.8 106.9,109.2 107.4,108.8 107.9,108.3 108.4,107.7 108.9,107.2 109.4,106.7 109.9,106.1 110.4,105.5 110.9,105.2 111.4,104.7 111.9,104.1 112.4,103.6 112.9,102.9 113.4,102.6 113.9,102.1 114.4,101.7 114.9,101.3 115.4,100.6 115.9,100.3 116.4,99.9 116.9,99.2 117.4,98.9 117.9,98.4 118.4,98.0 118.9,97.7 119.4,97.1 119.9,96.7 120.4,96.6 120.9,96.0 121.4,95.7 121.9,95.1 122.4,94.9 122.9,94.6 123.4,94.1 123.9,93.7 124.4,93.1 124.9,93.0 125.4,92.4 125.9,92.2 126.4,92.0 126.9,91.6 127.4,91.1 127.9,90.7 128.4,90.5 128.9,89.8 129.4,89.5 129.9,89.4 130.4,89.1 130.9,88.7 131.4,88.6 131.9,88.2 132.4,87.8 132.9,87.5 133.4,87.0 133.9,87.0 134.4,86.7 134.9,86.3 135.4,86.2 135.9,85.9 136.4,85.6 136.9,85.6 137.4,85.3 137.9,84.9 138.4,84.6 138.9,84.5 139.4,84.0 139.9,83.9 140.4,83.5 140.9,83.5 141.4,83.1 141.9,83.0 142.4,82.8 142.9,82.8 143.4,82.5 143.9,82.4 144.4,82.3 144.9,81.7 145.4,81.5 145.9,81.4 146.4,81.3 146.9,80.9 147.4,81.0 147.9,80.9 148.4,80.7 148.9,80.5 149.4,80.2 149.9,80.1 150.4,79.9 150.9,79.8 151.4,79.8 151.9,79.6 152.4,79.5 152.9,79.5 153.4,79.1 153.9,79.1 154.4,79.0 154.9,78.9 155.4,78.6 155.9,78.5 156.4,78.5 156.9,78.2 157.4,78.2 157.9,77.9 158.4,78.0 158.9,77.9 159.4,77.8 159.9,77.6 160.4,77.5 160.9,77.5 161.4,77.4 161.9,77.5 162.4,77.3 162.9,77.1 163.4,77.0 163.9,77.0 164.4,76.7 164.9,76.8 165.4,76.8 165.9,76.6 166.4,76.7 166.9,76.8 167.4,76.8 167.9,76.9 168.4,76.7 168.9,76.5 169.4,76.5 169.9,76.4 170.4,76.3 170.9,76.3 171.4,76.3 171.9,76.2 172.4,76.2 172.9,76.4 173.4,76.2 173.9,76.3 174.4,76.1 174.9,76.3 175.4,76.3 175.9,76.1 176.4,76.2 176.9,76.1 177.4,76.0 177.9,76.0 178.4,76.2 178.9,75.9 179.4,76.2 179.9,76.1 180.4,76.1 180.9,76.0 181.4,76.0 181.9,76.0 182.4,76.0 182.9,75.9 183.4,75.8 183.9,75.8 184.4,75.7 184.9,75.7 185.4,75.7 185.9,75.7 186.4,75.6 186.9,75.6 187.4,75.6 187.9,75.6 188.4,75.5 188.9,75.5 189.4,75.5 189.9,75.5 190.4,75.5 190.9,75.4 191.4,75.3 191.9,75.4 192.4,75.4 192.9,75.3 193.4,75.2 193.9,75.3 194.4,75.3 194.9,75.2 195.4,75.2 195.9,75.2 196.4,75.2 196.9,75.1 197.4,75.2 197.9,75.1 198.4,75.1 198.9,75.1 199.4,75.0 199.9,74.8 200.4,74.5 200.9,74.3 201.4,74.0 201.9,73.6 202.4,73.2 202.9,72.8 203.4,72.4 203.9,72.0 204.4,71.9 204.9,71.9 205.4,72.1 205.9,72.6 206.4,73.2 206.9,73.8 207.4,74.4 207.9,74.9 208.4,75.3 208.9,75.7 209.4,76.1 209.9,76.3 210.4,76.2 210.9,76.0 211.4,75.6 211.9,74.7 212.4,73.5 212.9,72.0 213.4,70.2 213.9,68.2 214.4,66.1 214.9,64.2 215.4,63.0 215.9,62.8 216.4,63.8 216.9,65.7 217.4,67.7 217.9,69.9 218.4,71.6 218.9,73.3 219.4,74.5 219.9,75.4 220.4,76.0 220.9,76.3 221.4,76.4 221.9,76.3 222.4,76.2 222.9,76.0 223.4,75.7 223.9,75.3 224.4,74.9 224.9,74.5 225.4,74.0 225.9,73.4 226.4,72.8 226.9,72.2 227.4,71.5 227.9,71.1 228.4,70.8 228.9,70.9 229.4,71.1 229.9,71.8 230.4,72.5 230.9,73.3 231.4,74.1 231.9,74.9 232.4,75.6 232.9,76.3 233.4,76.9 233.9,77.5 234.4,77.9 234.9,78.3 235.4,78.6 235.9,78.9 236.4,78.9 236.9,78.8 237.4,77.8 237.9,74.2 238.4,67.3 238.9,59.2 239.4,52.6 239.9,49.2 240.4,49.5 240.9,53.5 241.4,60.5 241.9,68.5 242.4,74.5 242.9,77.5 243.4,78.1 243.9,77.9 244.4,77.6 244.9,77.4 245.4,76.9 245.9,76.7 246.4,76.2 246.9,75.6 247.4,75.0 247.9,74.6 248.4,74.1 248.9,73.5 249.4,73.2 249.9,72.6 250.4,72.3 250.9,72.0 251.4,71.4 251.9,71.7 252.4,72.0 252.9,72.6 253.4,73.8 253.9,74.5 254.4,75.4 254.9,76.3 255.4,77.1 255.9,77.8 256.4,78.8 256.9,79.0 257.4,80.1 257.9,80.7 258.4,81.4 258.9,81.7 259.4,82.0 259.9,82.3 260.4,83.2 260.9,83.7 261.4,84.3 261.9,84.7 262.4,84.3 262.9,84.7 263.4,85.8 263.9,86.1 264.4,86.2 264.9,86.7 265.4,88.0 265.9,88.2 266.4,89.0 266.9,88.4 267.4,89.6 267.9,89.7 268.4,89.5 268.9,90.7 269.4,90.5 269.9,91.2 270.4,90.9 270.9,92.1 271.4,92.2 271.9,91.9 272.4,92.3 272.9,90.8 273.4,89.4 273.9,87.5 274.4,86.2 274.9,84.3 275.4,84.3 275.9,85.1 276.4,85.8 276.9,87.4 277.4,88.7 277.9,90.3 278.4,90.2 278.9,90.2 279.4,90.1 279.9,89.0 280.4,90.3 280.9,90.7 281.4,91.8 281.9,93.2 282.4,95.4 282.9,95.5 283.4,97.5 283.9,96.7 284.4,98.3 284.9,97.8 285.4,98.1 285.9,98.9 286.4,100.3 286.9,101.5 287.4,102.8 287.9,103.0 288.4,102.5 288.9,101.8 289.4,102.9 289.9,101.6 290.4,101.7 290.9,101.7 291.4,101.4 291.9,102.5 292.4,100.6 292.9,101.9 293.4,102.4 293.9,102.6 294.4,103.4 294.9,103.5 295.4,104.4 295.9,104.9 296.4,105.2 296.9,105.5 297.4,104.4 297.9,105.7 298.4,104.4 298.9,106.8 299.4,106.0 299.9,107.0 300.4,105.5 300.9,105.0 301.4,104.4 301.9,104.9 302.4,105.1 302.9,107.4 303.4,108.1 303.9,107.9 304.4,107.4 304.9,105.9 305.4,106.7 305.9,107.8 306.4,107.6 306.9,107.7 307.4,109.2 307.9,109.3 308.4,109.6 308.9,109.2 309.4,108.9 309.9,109.3 310.4,108.6 310.9,107.6 311.4,108.9 311.4,115.2 310.9,116.7 310.4,116.2 309.9,115.3 309.4,116.5 308.9,114.8 308.4,116.0 307.9,115.2 307.4,116.6 306.9,113.7 306.4,113.7 305.9,114.7 305.4,112.5 304.9,112.4 304.4,112.9 303.9,113.2 303.4,115.3 302.9,114.8 302.4,113.5 301.9,113.4 301.4,110.3 300.9,111.8 300.4,114.2 299.9,112.6 299.4,113.3 298.9,111.4 298.4,112.1 297.9,111.1 297.4,110.6 296.9,109.9 296.4,110.6 295.9,109.7 295.4,109.2 294.9,108.9 294.4,108.5 293.9,109.0 293.4,107.5 292.9,107.4 292.4,106.7 291.9,106.0 291.4,108.1 290.9,107.9 290.4,109.7 289.9,106.3 289.4,109.9 288.9,106.1 288.4,109.6 287.9,108.1 287.4,107.7 286.9,106.4 286.4,105.5 285.9,103.9 285.4,102.6 284.9,101.8 284.4,103.2 283.9,101.3 283.4,102.0 282.9,101.6 282.4,99.5 281.9,99.2 281.4,96.1 280.9,95.2 280.4,94.2 279.9,94.1 279.4,94.3 278.9,95.6 278.4,94.6 277.9,93.7 277.4,93.7 276.9,91.5 276.4,89.4 275.9,89.0 275.4,87.3 274.9,88.3 274.4,90.2 273.9,92.3 273.4,93.5 272.9,95.0 272.4,95.7 271.9,95.8 271.4,94.9 270.9,95.9 270.4,95.4 269.9,94.1 269.4,94.3 268.9,93.4 268.4,92.8 267.9,93.3 267.4,91.5 266.9,91.4 266.4,91.3 265.9,90.4 265.4,90.9 264.9,89.2 264.4,89.2 263.9,88.7 263.4,88.3 262.9,88.1 262.4,88.2 261.9,87.2 261.4,87.0 260.9,86.2 260.4,85.4 259.9,84.5 259.4,84.0 258.9,83.5 258.4,83.5 257.9,82.4 257.4,82.1 256.9,82.0 256.4,80.9 255.9,79.9 255.4,78.8 254.9,77.8 254.4,77.0 253.9,76.0 253.4,75.3 252.9,74.1 252.4,73.4 251.9,72.8 251.4,73.1 250.9,73.0 250.4,73.3 249.9,73.9 249.4,74.1 248.9,74.8 248.4,75.2 247.9,75.6 247.4,76.3 246.9,76.6 246.4,77.0 245.9,77.4 245.4,78.0 244.9,78.1 244.4,78.5 243.9,78.7 243.4,78.8 242.9,78.1 242.4,75.2 241.9,69.0 241.4,61.0 240.9,54.0 240.4,50.1 239.9,49.7 239.4,53.2 238.9,59.8 238.4,67.9 237.9,74.7 237.4,78.3 236.9,79.4 236.4,79.6 235.9,79.4 235.4,79.4 234.9,78.9 234.4,78.6 233.9,78.1 233.4,77.5 232.9,76.9 232.4,76.1 231.9,75.5 231.4,74.7 230.9,73.9 230.4,73.2 229.9,72.4 229.4,71.8 228.9,71.4 228.4,71.3 227.9,71.6 227.4,72.2 226.9,72.7 226.4,73.4 225.9,74.0 225.4,74.6 224.9,75.1 224.4,75.6 223.9,76.0 223.4,76.3 222.9,76.7 222.4,76.8 221.9,76.9 221.4,76.9 220.9,76.9 220.4,76.6 219.9,76.1 219.4,75.1 218.9,73.9 218.4,72.3 217.9,70.3 217.4,68.4 216.9,66.2 216.4,64.4 215.9,63.4 215.4,63.6 214.9,64.8 214.4,66.7 213.9,68.8 213.4,70.8 212.9,72.7 212.4,74.2 211.9,75.3 211.4,76.1 210.9,76.7 210.4,76.9 209.9,76.9 209.4,76.8 208.9,76.4 208.4,76.0 207.9,75.6 207.4,75.0 206.9,74.4 206.4,73.8 205.9,73.2 205.4,72.7 204.9,72.5 204.4,72.5 203.9,72.8 203.4,73.1 202.9,73.5 202.4,73.9 201.9,74.3 201.4,74.7 200.9,74.9 200.4,75.1 199.9,75.4 199.4,75.6 198.9,75.6 198.4,75.7 197.9,75.8 197.4,75.7 196.9,75.7 196.4,75.8 195.9,75.8 195.4,75.8 194.9,75.8 194.4,75.9 193.9,75.9 193.4,75.9 192.9,76.0 192.4,76.0 191.9,76.0 191.4,76.0 190.9,76.0 190.4,76.0 189.9,76.1 189.4,76.1 188.9,76.1 188.4,76.2 187.9,76.3 187.4,76.3 186.9,76.3 186.4,76.2 185.9,76.3 185.4,76.2 184.9,76.3 184.4,76.4 183.9,76.3 183.4,76.5 182.9,76.4 182.4,76.6 181.9,76.6 181.4,76.8 180.9,76.8 180.4,76.7 179.9,76.7 179.4,76.7 178.9,77.0 178.4,76.9 177.9,76.9 177.4,77.0 176.9,77.1 176.4,77.0 175.9,77.1 175.4,77.2 174.9,77.4 174.4,77.2 173.9,77.1 173.4,77.2 172.9,77.3 172.4,77.1 171.9,77.4 171.4,77.3 170.9,77.3 170.4,77.5 169.9,77.4 169.4,77.4 168.9,77.5 168.4,77.7 167.9,77.8 167.4,77.7 166.9,77.8 166.4,77.7 165.9,77.7 165.4,77.7 164.9,77.7 164.4,77.8 163.9,78.0 163.4,78.1 162.9,78.2 162.4,78.2 161.9,78.3 161.4,78.2 160.9,78.3 160.4,78.5 159.9,78.6 159.4,78.7 158.9,78.8 158.4,78.8 157.9,78.8 157.4,79.2 156.9,79.2 156.4,79.3 155.9,79.7 155.4,79.9 154.9,79.8 154.4,80.0 153.9,80.0 153.4,80.1 152.9,80.3 152.4,80.3 151.9,80.7 151.4,80.8 150.9,80.8 150.4,81.2 149.9,81.1 149.4,81.3 148.9,81.4 148.4,81.6 147.9,81.9 147.4,82.0 146.9,82.0 146.4,82.2 145.9,82.5 145.4,82.7 144.9,83.0 144.4,83.0 143.9,83.4 143.4,83.5 142.9,83.7 142.4,83.9 141.9,84.3 141.4,84.1 140.9,84.5 140.4,84.7 139.9,85.1 139.4,85.4 138.9,85.5 138.4,85.7 137.9,85.9 137.4,86.4 136.9,86.6 136.4,86.5 135.9,87.0 135.4,87.4 134.9,87.6 134.4,87.7 133.9,88.0 133.4,88.2 132.9,88.9 132.4,88.8 131.9,89.1 131.4,89.5 130.9,89.9 130.4,90.5 129.9,90.6 129.4,91.0 128.9,90.9 128.4,91.6 127.9,91.9 127.4,92.2 126.9,92.6 126.4,93.0 125.9,93.6 125.4,93.5 124.9,93.8 124.4,94.4 123.9,94.7 123.4,95.5 122.9,95.7 122.4,95.8 121.9,96.4 121.4,97.0 120.9,97.5 120.4,97.5 119.9,98.0 119.4,98.2 118.9,98.7 118.4,99.0 117.9,99.4 117.4,100.0 116.9,100.3 116.4,100.9 115.9,101.5 115.4,101.8 114.9,102.1 114.4,102.5 113.9,103.2 113.4,103.6 112.9,104.3 112.4,104.7 111.9,105.1 111.4,105.6 110.9,106.2 110.4,106.8 109.9,107.0 109.4,107.5 108.9,108.1 108.4,108.6 107.9,109.3 107.4,109.9 106.9,110.2 106.4,110.8 105.9,111.3 105.4,112.1 104.9,112.6 104.4,113.1 103.9,113.8 103.4,114.6 102.9,115.3 102.4,116.1 101.9,116.9 101.4,117.3 100.9,118.3 100.4,119.2 99.9,119.9 99.4,120.5 98.9,121.4 98.4,122.2 97.9,123.1 97.4,123.8 96.9,124.4 96.4,125.3 95.9,125.9 95.4,126.7 94.9,127.8 94.4,128.2 93.9,129.1 93.4,129.9 92.9,130.5 92.4,131.2 91.9,131.7 91.4,132.4 90.9,132.9 90.4,133.7 89.9,134.6 89.4,135.2 88.9,135.9 88.4,136.3 87.9,137.3 87.4,137.6 86.9,138.1 86.4,139.3 85.9,139.9 85.4,141.2 84.9,141.2 84.4,142.3 83.9,142.7 83.4,143.2 82.9,144.5 82.4,144.1 81.9,145.7 81.4,146.0 80.9,147.6 80.4,147.3 79.9,147.9 79.4,148.5 78.9,148.4 78.4,149.1 77.9,149.7 77.4,150.2 76.9,151.2 76.4,152.6 75.9,151.8 75.4,153.0 74.9,153.7 74.4,154.4 73.9,155.7 73.4,156.4 72.9,157.1 72.4,157.7 71.9,158.5 71.4,160.2 70.9,161.1 70.4,161.9 69.9,163.0 69.4,164.3 68.9,164.1 68.4,165.1 67.9,166.3 67.4,166.5 66.9,166.8 66.4,168.7 65.9,170.6 65.4,170.1 64.9,171.8 64.4,174.8 63.9,175.0 63.4,176.4 62.9,174.7 62.4,175.5 61.9,180.6 61.4,177.0 60.9,177.3 60.4,177.5 59.9,179.4 59.4,180.4 58.9,180.4 58.4,182.5 57.9,185.1 57.4,185.6 56.9,188.5 56.4,187.7 55.9,186.0 55.4,186.7 54.9,184.7 54.4,188.3 53.9,188.3 53.4,189.3 52.9,190.8 52.4,193.4 51.9,194.1 51.4,193.3 50.9,195.3 50.4,199.1 49.9,208.0 49.4,197.4 48.9,197.3 48.4,198.7 47.9,195.8 47.4,198.1 46.9,202.4 46.4,196.4 45.9,195.1 45.4,203.4 44.9,195.4 44.4,197.2 43.9,204.6 43.4,205.0 42.9,203.8 42.4,200.8 41.9,205.3 41.4,201.4 40.9,201.9 40.4,202.7" fill="#ff4000" stroke="#ff4000" stroke-width="1.0" stroke-linejoin="round"/>
<polygon points="40.4,187.4 40.9,186.5 41.4,185.8 41.9,187.8 42.4,183.3 42.9,180.7 43.4,184.7 43.9,181.9 44.4,183.8 44.9,183.2 45.4,180.2 45.9,184.3 46.4,184.0 46.9,184.5 47.4,179.6 47.9,181.0 48.4,180.0 48.9,176.7 49.4,176.1 49.9,174.2 50.4,176.2 50.9,174.1 51.4,176.8 51.9,175.4 52.4,178.8 52.9,178.0 53.4,175.7 53.9,173.2 54.4,175.1 54.9,171.1 55.4,171.7 55.9,171.2 56.4,171.7 56.9,169.0 57.4,169.6 57.9,170.5 58.4,171.0 58.9,169.9 59.4,166.8 59.9,168.5 60.4,167.8 60.9,166.9 61.4,164.3 61.9,164.4 62.4,164.0 62.9,165.1 63.4,162.4 63.9,163.0 64.4,162.3 64.9,161.1 65.4,160.5 65.9,158.9 66.4,158.8 66.9,158.0 67.4,156.6 67.9,157.4 68.4,156.2 68.9,155.7 69.4,152.9 69.9,153.3 70.4,153.2 70.9,150.8 71.4,150.5 71.9,150.6 72.4,149.8 72.9,148.6 73.4,147.4 73.9,146.8 74.4,146.7 74.9,145.9 75.4,146.0 75.9,144.7 76.4,144.4 76.9,143.4 77.4,143.3 77.9,142.3 78.4,143.1 78.9,141.8 79.4,141.9 79.9,141.3 80.4,140.7 80.9,139.9 81.4,138.5 81.9,138.6 82.4,137.4 82.9,137.2 83.4,136.5 83.9,135.9 84.4,135.4 84.9,134.6 85.4,133.7 85.9,133.1 86.4,132.3 86.9,131.9 87.4,131.8 87.9,130.9 88.4,130.3 88.9,129.5 89.4,129.0 89.9,128.5 90.4,127.4 90.9,127.1 91.4,126.6 91.9,125.6 92.4,125.3 92.9,124.4 93.4,123.9 93.9,123.2 94.4,122.6 94.9,121.7 95.4,120.7 95.9,120.1 96.4,119.6 96.9,118.6 97.4,117.9 97.9,117.1 98.4,116.5 98.9,115.8 99.4,114.9 99.9,114.2 100.4,113.4 100.9,112.8 101.4,111.9 101.9,111.2 102.4,110.7 102.9,109.8 103.4,109.3 103.9,108.7 104.4,108.0 104.9,107.4 105.4,106.8 105.9,106.2 106.4,105.7 106.9,105.0 107.4,104.4 107.9,103.9 108.4,103.4 108.9,102.6 109.4,102.0 109.9,101.7 110.4,101.0 110.9,100.6 111.4,100.2 111.9,99.8 112.4,99.0 112.9,98.7 113.4,98.0 113.9,97.6 114.4,97.2 114.9,96.7 115.4,96.2 115.9,96.0 116.4,95.3 116.9,94.9 117.4,94.5 117.9,94.0 118.4,93.6 118.9,93.1 119.4,92.7 119.9,92.4 120.4,91.9 120.9,91.3 121.4,91.2 121.9,90.8 122.4,90.2 122.9,90.1 123.4,89.8 123.9,89.2 124.4,88.8 124.9,88.3 125.4,88.2 125.9,87.7 126.4,87.3 126.9,87.1 127.4,86.9 127.9,86.5 128.4,86.0 128.9,85.8 129.4,85.3 129.9,85.1 130.4,84.8 130.9,84.4 131.4,84.0 131.9,83.8 132.4,83.3 132.9,83.3 133.4,82.7 133.9,82.5 134.4,82.1 134.9,82.1 135.4,81.6 135.9,81.3 136.4,81.1 136.9,81.1 137.4,80.6 137.9,80.3 138.4,80.3 138.9,79.9 139.4,79.6 139.9,79.5 140.4,79.4 140.9,79.0 141.4,78.9 141.9,78.7 142.4,78.5 142.9,78.4 143.4,78.1 143.9,77.8 144.4,77.8 144.9,77.4 145.4,77.2 145.9,77.2 146.4,77.0 146.9,76.9 147.4,76.6 147.9,76.4 148.4,76.3 148.9,76.1 149.4,75.8 149.9,75.6 150.4,75.6 150.9,75.6 151.4,75.4 151.9,75.3 152.4,75.2 152.9,75.0 153.4,74.6 153.9,74.5 154.4,74.5 154.9,74.2 155.4,74.1 155.9,74.1 156.4,74.0 156.9,73.8 157.4,73.7 157.9,73.8 158.4,73.6 158.9,73.5 159.4,73.5 159.9,73.3 160.4,73.2 160.9,73.2 161.4,73.0 161.9,72.9 162.4,72.7 162.9,72.7 163.4,72.7 163.9,72.8 164.4,72.7 164.9,72.5 165.4,72.6 165.9,72.6 166.4,72.3 166.9,72.3 167.4,72.3 167.9,72.4 168.4,72.3 168.9,72.2 169.4,72.2 169.9,72.2 170.4,72.2 170.9,72.2 171.4,72.0 171.9,72.2 172.4,72.0 172.9,72.1 173.4,72.2 173.9,72.1 174.4,71.9 174.9,72.0 175.4,71.7 175.9,71.8 176.4,71.8 176.9,71.7 177.4,71.7 177.9,71.8 178.4,71.8 178.9,71.8 179.4,71.8 179.9,71.7 180.4,71.7 180.9,71.6 181.4,71.6 181.9,71.6 182.4,71.5 182.9,71.5 183.4,71.4 183.9,71.4 184.4,71.4 184.9,71.4 185.4,71.4 185.9,71.3 186.4,71.3 186.9,71.2 187.4,71.1 187.9,71.0 188.4,71.1 188.9,71.0 189.4,71.0 189.9,71.0 190.4,71.0 190.9,71.0 191.4,71.0 191.9,70.9 192.4,70.9 192.9,70.9 193.4,70.8 193.9,70.8 194.4,70.9 194.9,70.9 195.4,70.9 195.9,70.8 196.4,70.9 196.9,70.8 197.4,70.8 197.9,70.8 198.4,70.8 198.9,70.7 199.4,70.6 199.9,70.5 200.4,70.3 200.9,70.1 201.4,69.8 201.9,69.6 202.4,69.3 202.9,68.9 203.4,68.5 203.9,68.2 204.4,68.1 204.9,68.2 205.4,68.4 205.9,68.8 206.4,69.3 206.9,69.9 207.4,70.5 207.9,70.9 208.4,71.3 208.9,71.7 209.4,71.9 209.9,72.0 210.4,72.0 210.9,71.8 211.4,71.4 211.9,70.8 212.4,69.7 212.9,68.4 213.4,66.8 213.9,64.9 214.4,63.0 214.9,61.2 215.4,60.1 215.9,60.0 216.4,60.9 216.9,62.6 217.4,64.4 217.9,66.3 218.4,68.1 218.9,69.5 219.4,70.6 219.9,71.4 220.4,71.8 220.9,72.2 221.4,72.3 221.9,72.3 222.4,72.2 222.9,71.9 223.4,71.7 223.9,71.4 224.4,71.1 224.9,70.7 225.4,70.3 225.9,69.8 226.4,69.3 226.9,68.8 227.4,68.2 227.9,67.8 228.4,67.6 228.9,67.6 229.4,67.9 229.9,68.4 230.4,69.1 230.9,69.8 231.4,70.6 231.9,71.3 232.4,71.9 232.9,72.6 233.4,73.1 233.9,73.7 234.4,73.9 234.9,74.3 235.4,74.6 235.9,74.8 236.4,74.9 236.9,74.8 237.4,74.0 237.9,71.3 238.4,65.7 238.9,58.6 239.4,52.5 239.9,49.2 240.4,49.3 240.9,52.9 241.4,59.1 241.9,66.0 242.4,71.2 242.9,73.6 243.4,74.0 243.9,74.0 244.4,73.7 244.9,73.4 245.4,73.0 245.9,72.8 246.4,72.5 246.9,72.1 247.4,71.6 247.9,71.1 248.4,70.7 248.9,70.4 249.4,69.9 249.9,69.5 250.4,69.1 250.9,68.8 251.4,68.7 251.9,68.8 252.4,69.3 252.9,69.3 253.4,70.6 253.9,71.0 254.4,71.9 254.9,73.1 255.4,73.8 255.9,74.6 256.4,75.4 256.9,75.6 257.4,76.5 257.9,77.1 258.4,77.9 258.9,78.1 259.4,79.0 259.9,79.4 260.4,79.4 260.9,79.9 261.4,79.8 261.9,81.2 262.4,80.6 262.9,81.7 263.4,81.5 263.9,82.6 264.4,82.8 264.9,83.1 265.4,84.1 265.9,84.0 266.4,84.1 266.9,84.5 267.4,85.3 267.9,86.3 268.4,86.1 268.9,86.9 269.4,87.0 269.9,87.3 270.4,87.4 270.9,87.7 271.4,87.5 271.9,87.1 272.4,86.6 272.9,86.1 273.4,85.8 273.9,84.3 274.4,83.0 274.9,82.7 275.4,81.4 275.9,81.7 276.4,82.3 276.9,84.9 277.4,85.6 277.9,87.0 278.4,87.9 278.9,86.5 279.4,86.1 279.9,86.9 280.4,86.9 280.9,86.6 281.4,88.6 281.9,90.1 282.4,90.5 282.9,92.8 283.4,93.7 283.9,93.5 284.4,95.0 284.9,93.8 285.4,94.5 285.9,95.3 286.4,97.1 286.9,97.3 287.4,97.9 287.9,96.7 288.4,97.1 288.9,98.8 289.4,98.2 289.9,98.8 290.4,97.4 290.9,99.6 291.4,98.5 291.9,98.4 292.4,97.8 292.9,98.4 293.4,99.1 293.9,98.5 294.4,98.3 294.9,98.0 295.4,98.9 295.9,100.0 296.4,100.9 296.9,99.4 297.4,100.8 297.9,102.1 298.4,101.3 298.9,100.6 299.4,101.6 299.9,101.9 300.4,101.1 300.9,102.4 301.4,103.0 301.9,103.2 302.4,103.3 302.9,103.8 303.4,102.5 303.9,101.7 304.4,104.5 304.9,103.2 305.4,104.2 305.9,105.3 306.4,105.9 306.9,104.0 307.4,103.1 307.9,104.9 308.4,102.6 308.9,105.0 309.4,103.1 309.9,105.1 310.4,104.1 310.9,105.4 311.4,104.0 311.4,113.3 310.9,112.7 310.4,113.1 309.9,114.9 309.4,112.7 308.9,112.5 308.4,111.5 307.9,110.2 307.4,111.0 306.9,114.0 306.4,113.3 305.9,110.9 305.4,113.0 304.9,111.8 304.4,112.7 303.9,110.3 303.4,113.0 302.9,111.4 302.4,108.9 301.9,109.4 301.4,107.3 300.9,109.6 300.4,109.6 299.9,108.5 299.4,108.0 298.9,108.3 298.4,106.5 297.9,108.0 297.4,105.4 296.9,108.9 296.4,105.3 295.9,105.0 295.4,104.6 294.9,105.4 294.4,105.0 293.9,104.5 293.4,103.8 292.9,103.5 292.4,103.9 291.9,106.3 291.4,107.3 290.9,104.4 290.4,104.2 289.9,103.5 289.4,105.4 288.9,103.2 288.4,104.4 287.9,103.6 287.4,101.5 286.9,102.6 286.4,101.1 285.9,101.0 285.4,100.8 284.9,98.9 284.4,97.9 283.9,98.9 283.4,98.5 282.9,96.5 282.4,96.0 281.9,94.5 281.4,92.7 280.9,91.9 280.4,90.6 279.9,90.4 279.4,91.3 278.9,91.1 278.4,91.3 277.9,91.2 277.4,89.8 276.9,88.1 276.4,86.7 275.9,85.0 275.4,84.7 274.9,86.0 274.4,87.3 273.9,88.8 273.4,90.4 272.9,90.9 272.4,90.1 271.9,90.6 271.4,90.7 270.9,91.9 270.4,90.6 269.9,90.7 269.4,91.5 268.9,89.7 268.4,89.5 267.9,90.0 267.4,88.7 266.9,87.7 266.4,88.2 265.9,86.4 265.4,86.6 264.9,86.2 264.4,85.3 263.9,85.9 263.4,84.0 262.9,83.9 262.4,83.6 261.9,83.1 261.4,82.6 260.9,83.1 260.4,82.3 259.9,81.2 259.4,81.1 258.9,80.2 258.4,79.8 257.9,78.7 257.4,78.8 256.9,77.4 256.4,77.4 255.9,76.1 255.4,75.7 254.9,74.6 254.4,73.5 253.9,72.7 253.4,71.6 252.9,71.0 252.4,70.6 251.9,70.1 251.4,70.1 250.9,70.3 250.4,70.7 249.9,70.8 249.4,71.0 248.9,71.5 248.4,71.9 247.9,72.4 247.4,72.6 246.9,73.1 246.4,73.3 245.9,73.6 245.4,73.8 244.9,74.2 244.4,74.5 243.9,74.8 243.4,74.7 242.9,74.2 242.4,71.9 241.9,66.6 241.4,59.7 240.9,53.4 240.4,49.8 239.9,49.7 239.4,53.0 238.9,59.2 238.4,66.3 237.9,71.9 237.4,74.8 236.9,75.5 236.4,75.5 235.9,75.3 235.4,75.1 234.9,74.8 234.4,74.6 233.9,74.3 233.4,73.8 232.9,73.2 232.4,72.6 231.9,71.8 231.4,71.1 230.9,70.4 230.4,69.7 229.9,69.1 229.4,68.5 228.9,68.2 228.4,68.1 227.9,68.4 227.4,68.8 226.9,69.4 226.4,69.9 225.9,70.5 225.4,70.9 224.9,71.3 224.4,71.7 223.9,72.0 223.4,72.3 222.9,72.5 222.4,72.7 221.9,72.9 221.4,72.8 220.9,72.9 220.4,72.7 219.9,72.0 219.4,71.1 218.9,70.0 218.4,68.7 217.9,66.9 217.4,65.0 216.9,63.2 216.4,61.5 215.9,60.5 215.4,60.6 214.9,61.8 214.4,63.5 213.9,65.5 213.4,67.4 212.9,69.0 212.4,70.3 211.9,71.4 211.4,72.0 210.9,72.4 210.4,72.6 209.9,72.7 209.4,72.5 208.9,72.2 208.4,71.9 207.9,71.5 207.4,71.0 206.9,70.5 206.4,70.0 205.9,69.4 205.4,69.0 204.9,68.7 204.4,68.7 203.9,69.0 203.4,69.2 202.9,69.6 202.4,69.9 201.9,70.2 201.4,70.5 200.9,70.7 200.4,71.0 199.9,71.1 199.4,71.2 198.9,71.4 198.4,71.4 197.9,71.5 197.4,71.4 196.9,71.4 196.4,71.5 195.9,71.4 195.4,71.5 194.9,71.4 194.4,71.5 193.9,71.4 193.4,71.5 192.9,71.5 192.4,71.5 191.9,71.6 191.4,71.5 190.9,71.6 190.4,71.6 189.9,71.7 189.4,71.6 188.9,71.6 188.4,71.6 187.9,71.8 187.4,71.7 186.9,71.7 186.4,71.9 185.9,71.8 185.4,71.9 184.9,72.0 184.4,71.9 183.9,72.0 183.4,72.1 182.9,72.3 182.4,72.1 181.9,72.3 181.4,72.2 180.9,72.3 180.4,72.3 179.9,72.4 179.4,72.5 178.9,72.7 178.4,72.5 177.9,72.5 177.4,72.5 176.9,72.7 176.4,72.5 175.9,72.7 175.4,72.7 174.9,72.7 174.4,72.7 173.9,72.9 173.4,73.1 172.9,72.9 172.4,73.0 171.9,73.0 171.4,73.0 170.9,73.0 170.4,73.0 169.9,73.1 169.4,73.0 168.9,73.0 168.4,73.1 167.9,73.1 167.4,73.2 166.9,73.3 166.4,73.3 165.9,73.5 165.4,73.4 164.9,73.4 164.4,73.8 163.9,73.5 163.4,73.7 162.9,73.5 162.4,73.7 161.9,73.9 161.4,74.0 160.9,74.0 160.4,74.2 159.9,74.1 159.4,74.3 158.9,74.3 158.4,74.5 157.9,74.4 157.4,74.7 156.9,74.8 156.4,75.0 155.9,74.9 155.4,75.0 154.9,75.2 154.4,75.3 153.9,75.3 153.4,75.6 152.9,75.8 152.4,75.9 151.9,76.2 151.4,76.2 150.9,76.5 150.4,76.6 149.9,76.6 149.4,76.9 148.9,77.1 148.4,77.2 147.9,77.4 147.4,77.5 146.9,77.7 146.4,77.8 145.9,78.1 145.4,78.1 144.9,78.3 144.4,78.7 143.9,78.7 143.4,78.9 142.9,79.2 142.4,79.4 141.9,79.6 141.4,80.0 140.9,80.0 140.4,80.3 139.9,80.4 139.4,80.6 138.9,80.7 138.4,81.4 137.9,81.5 137.4,81.5 136.9,82.2 136.4,82.1 135.9,82.4 135.4,83.0 134.9,83.3 134.4,83.2 133.9,83.8 133.4,84.1 132.9,84.2 132.4,84.4 131.9,84.8 131.4,85.4 130.9,85.4 130.4,86.0 129.9,86.0 129.4,86.5 128.9,86.9 128.4,87.1 127.9,87.4 127.4,87.7 126.9,88.0 126.4,88.5 125.9,88.8 125.4,89.3 124.9,89.4 124.4,90.4 123.9,90.3 123.4,90.5 122.9,91.1 122.4,91.5 121.9,91.6 121.4,92.2 120.9,92.4 120.4,92.9 119.9,93.2 119.4,93.8 118.9,94.3 118.4,94.8 117.9,95.4 117.4,95.5 116.9,95.8 116.4,96.3 115.9,96.9 115.4,97.4 114.9,97.9 114.4,98.1 113.9,98.6 113.4,99.1 112.9,99.6 112.4,100.2 111.9,100.7 111.4,101.3 110.9,101.7 110.4,102.2 109.9,102.6 109.4,103.0 108.9,103.6 108.4,104.1 107.9,104.7 107.4,105.3 106.9,105.9 106.4,106.6 105.9,107.3 105.4,107.9 104.9,108.4 104.4,109.0 103.9,109.7 103.4,110.4 102.9,110.7 102.4,111.7 101.9,112.4 101.4,113.3 100.9,113.9 100.4,114.9 99.9,115.3 99.4,116.4 98.9,117.4 98.4,117.8 97.9,118.4 97.4,119.5 96.9,119.8 96.4,120.5 95.9,121.6 95.4,122.0 94.9,122.9 94.4,124.0 93.9,124.6 93.4,125.1 92.9,125.8 92.4,126.4 91.9,127.1 91.4,127.8 90.9,128.8 90.4,129.1 89.9,130.1 89.4,130.3 88.9,131.5 88.4,132.0 87.9,132.8 87.4,133.0 86.9,134.3 86.4,134.8 85.9,135.1 85.4,135.7 84.9,136.4 84.4,137.2 83.9,137.6 83.4,138.8 82.9,139.5 82.4,140.5 81.9,140.6 81.4,141.3 80.9,142.6 80.4,143.1 79.9,145.4 79.4,144.1 78.9,144.8 78.4,146.6 77.9,145.6 77.4,146.2 76.9,147.4 76.4,147.5 75.9,147.9 75.4,149.0 74.9,149.4 74.4,150.4 73.9,150.4 73.4,151.3 72.9,153.0 72.4,154.1 71.9,154.4 71.4,156.2 70.9,157.7 70.4,157.6 69.9,159.1 69.4,159.7 68.9,160.1 68.4,160.9 67.9,162.6 67.4,165.2 66.9,163.8 66.4,165.0 65.9,167.9 65.4,166.1 64.9,166.4 64.4,172.9 63.9,168.8 63.4,169.1 62.9,170.4 62.4,174.0 61.9,174.1 61.4,174.6 60.9,173.4 60.4,175.5 59.9,177.9 59.4,176.1 58.9,181.3 58.4,179.2 57.9,181.1 57.4,178.8 56.9,183.6 56.4,181.1 55.9,182.3 55.4,184.4 54.9,181.9 54.4,183.5 53.9,187.9 53.4,188.8 52.9,188.1 52.4,188.2 51.9,186.8 51.4,186.1 50.9,188.5 50.4,188.0 49.9,193.8 49.4,194.1 48.9,195.2 48.4,194.6 47.9,195.6 47.4,191.1 46.9,194.6 46.4,195.8 45.9,193.6 45.4,195.1 44.9,197.2 44.4,198.4 43.9,199.8 43.4,194.3 42.9,198.1 42.4,198.2 41.9,199.0 41.4,200.4 40.9,198.4 40.4,203.8" fill="#cc0000" stroke="#cc0000" stroke-width="1.0" stroke-linejoin="round"/>
<polygon points="40.4,183.2 40.9,179.0 41.4,178.2 41.9,181.5 42.4,178.7 42.9,180.6 43.4,181.5 43.9,180.2 44.4,179.8 44.9,176.0 45.4,177.5 45.9,176.7 46.4,173.7 46.9,177.0 47.4,174.0 47.9,178.3 48.4,174.2 48.9,173.7 49.4,178.1 49.9,175.2 50.4,175.0 50.9,171.6 51.4,171.7 51.9,172.2 52.4,168.9 52.9,172.0 53.4,171.4 53.9,168.2 54.4,168.5 54.9,170.3 55.4,170.1 55.9,170.6 56.4,169.2 56.9,165.8 57.4,167.1 57.9,167.2 58.4,165.3 58.9,166.9 59.4,166.8 59.9,164.4 60.4,165.1 60.9,163.1 61.4,163.8 61.9,162.0 62.4,161.4 62.9,162.5 63.4,160.4 63.9,161.0 64.4,159.3 64.9,158.7 65.4,156.5 65.9,156.4 66.4,155.1 66.9,155.0 67.4,153.7 67.9,153.4 68.4,153.3 68.9,152.6 69.4,149.7 69.9,149.6 70.4,148.9 70.9,147.7 71.4,147.4 71.9,147.4 72.4,146.1 72.9,146.2 73.4,145.0 73.9,144.1 74.4,144.1 74.9,143.5 75.4,142.2 75.9,141.0 76.4,141.3 76.9,140.8 77.4,139.3 77.9,139.3 78.4,139.2 78.9,137.7 79.4,137.2 79.9,136.5 80.4,136.6 80.9,135.2 81.4,135.2 81.9,134.2 82.4,134.0 82.9,132.8 83.4,132.9 83.9,131.7 84.4,131.5 84.9,131.2 85.4,130.6 85.9,129.8 86.4,129.1 86.9,128.1 87.4,127.6 87.9,127.3 88.4,126.4 88.9,126.1 89.4,125.2 89.9,124.9 90.4,123.9 90.9,123.3 91.4,123.0 91.9,122.0 92.4,121.7 92.9,121.0 93.4,120.1 93.9,119.4 94.4,118.9 94.9,118.1 95.4,117.3 95.9,116.8 96.4,115.8 96.9,115.4 97.4,114.6 97.9,113.8 98.4,112.9 98.9,112.2 99.4,111.3 99.9,110.7 100.4,109.9 100.9,109.3 101.4,108.5 101.9,107.7 102.4,106.8 102.9,106.3 103.4,105.6 103.9,105.1 104.4,104.2 104.9,103.8 105.4,103.0 105.9,102.4 106.4,101.9 106.9,101.3 107.4,100.6 107.9,100.1 108.4,99.7 108.9,99.2 109.4,98.7 109.9,98.0 110.4,97.5 110.9,97.0 111.4,96.4 111.9,96.0 112.4,95.4 112.9,95.0 113.4,94.5 113.9,93.8 114.4,93.5 114.9,93.0 115.4,92.5 115.9,92.0 116.4,91.7 116.9,91.2 117.4,90.7 117.9,90.3 118.4,90.1 118.9,89.7 119.4,89.4 119.9,88.9 120.4,88.3 120.9,88.1 121.4,87.7 121.9,87.4 122.4,87.0 122.9,86.6 123.4,86.1 123.9,85.7 124.4,85.4 124.9,84.8 125.4,84.5 125.9,84.3 126.4,83.9 126.9,83.4 127.4,83.1 127.9,82.8 128.4,82.3 128.9,82.0 129.4,81.7 129.9,81.2 130.4,81.1 130.9,80.6 131.4,80.3 131.9,80.1 132.4,79.9 132.9,79.4 133.4,79.2 133.9,79.0 134.4,78.6 134.9,78.2 135.4,78.1 135.9,77.9 136.4,77.7 136.9,77.4 137.4,76.9 137.9,76.7 138.4,76.6 138.9,76.4 139.4,76.0 139.9,75.9 140.4,75.5 140.9,75.3 141.4,75.1 141.9,75.0 142.4,74.7 142.9,74.6 143.4,74.4 143.9,74.2 144.4,74.0 144.9,73.9 145.4,73.7 145.9,73.4 146.4,73.2 146.9,73.1 147.4,72.8 147.9,72.6 148.4,72.6 148.9,72.4 149.4,72.2 149.9,72.2 150.4,72.0 150.9,71.9 151.4,71.8 151.9,71.5 152.4,71.5 152.9,71.4 153.4,71.1 153.9,71.0 154.4,70.9 154.9,70.9 155.4,70.6 155.9,70.5 156.4,70.3 156.9,70.2 157.4,70.0 157.9,69.9 158.4,69.7 158.9,69.8 159.4,69.7 159.9,69.5 160.4,69.6 160.9,69.3 161.4,69.4 161.9,69.2 162.4,69.2 162.9,69.2 163.4,69.1 163.9,69.1 164.4,69.0 164.9,69.0 165.4,68.8 165.9,68.8 166.4,68.8 166.9,68.8 167.4,68.7 167.9,68.5 168.4,68.7 168.9,68.6 169.4,68.6 169.9,68.7 170.4,68.6 170.9,68.4 171.4,68.5 171.9,68.4 172.4,68.5 172.9,68.5 173.4,68.3 173.9,68.2 174.4,68.3 174.9,68.1 175.4,68.1 175.9,68.0 176.4,68.1 176.9,68.0 177.4,68.2 177.9,68.0 178.4,68.1 178.9,67.9 179.4,68.0 179.9,68.0 180.4,68.0 180.9,67.9 181.4,68.0 181.9,67.8 182.4,67.9 182.9,67.8 183.4,67.8 183.9,67.7 184.4,67.7 184.9,67.7 185.4,67.6 185.9,67.6 186.4,67.6 186.9,67.5 187.4,67.6 187.9,67.5 188.4,67.5 188.9,67.4 189.4,67.5 189.9,67.4 190.4,67.3 190.9,67.3 191.4,67.3 191.9,67.3 192.4,67.2 192.9,67.3 193.4,67.2 193.9,67.2 194.4,67.2 194.9,67.2 195.4,67.1 195.9,67.2 196.4,67.1 196.9,67.1 197.4,67.1 197.9,67.1 198.4,67.1 198.9,67.0 199.4,66.9 199.9,66.8 200.4,66.7 200.9,66.6 201.4,66.4 201.9,66.2 202.4,66.0 202.9,65.6 203.4,65.3 203.9,65.1 204.4,64.9 204.9,64.9 205.4,65.2 205.9,65.6 206.4,66.0 206.9,66.4 207.4,67.0 207.9,67.4 208.4,67.8 208.9,68.1 209.4,68.4 209.9,68.5 210.4,68.5 210.9,68.4 211.4,68.0 211.9,67.4 212.4,66.3 212.9,65.1 213.4,63.6 213.9,61.8 214.4,60.1 214.9,58.5 215.4,57.6 215.9,57.4 216.4,58.3 216.9,59.8 217.4,61.5 217.9,63.3 218.4,64.9 218.9,66.2 219.4,67.2 219.9,67.9 220.4,68.5 220.9,68.6 221.4,68.7 221.9,68.8 222.4,68.7 222.9,68.5 223.4,68.4 223.9,68.1 224.4,67.8 224.9,67.4 225.4,67.1 225.9,66.6 226.4,66.2 226.9,65.6 227.4,65.2 227.9,64.9 228.4,64.7 228.9,64.8 229.4,65.0 229.9,65.6 230.4,66.1 230.9,66.8 231.4,67.5 231.9,68.1 232.4,68.7 232.9,69.2 233.4,69.8 233.9,70.2 234.4,70.5 234.9,70.8 235.4,71.1 235.9,71.2 236.4,71.4 236.9,71.3 237.4,70.7 237.9,68.6 238.4,64.1 238.9,57.9 239.4,52.3 239.9,49.2 240.4,49.2 240.9,52.5 241.4,58.0 241.9,64.0 242.4,68.4 242.9,70.2 243.4,70.7 243.9,70.7 244.4,70.5 244.9,70.2 245.4,69.9 245.9,69.6 246.4,69.4 246.9,69.0 247.4,68.5 247.9,68.1 248.4,67.9 248.9,67.2 249.4,66.8 249.9,66.4 250.4,66.4 250.9,66.1 251.4,66.0 251.9,66.1 252.4,66.5 252.9,67.1 253.4,68.0 253.9,68.7 254.4,69.2 254.9,69.7 255.4,70.5 255.9,71.0 256.4,72.1 256.9,72.7 257.4,73.4 257.9,74.0 258.4,74.1 258.9,74.7 259.4,75.2 259.9,76.0 260.4,76.1 260.9,76.5 261.4,76.9 261.9,77.4 262.4,77.4 262.9,77.8 263.4,77.8 263.9,78.3 264.4,79.5 264.9,79.6 265.4,79.4 265.9,80.7 266.4,81.3 266.9,81.2 267.4,82.1 267.9,82.8 268.4,82.7 268.9,82.6 269.4,83.9 269.9,83.8 270.4,83.3 270.9,84.3 271.4,85.0 271.9,83.8 272.4,83.3 272.9,83.1 273.4,82.7 273.9,81.8 274.4,80.0 274.9,78.8 275.4,78.9 275.9,79.4 276.4,79.7 276.9,81.8 277.4,82.8 277.9,83.1 278.4,84.8 278.9,84.0 279.4,83.6 279.9,84.1 280.4,83.4 280.9,84.3 281.4,84.6 281.9,86.7 282.4,86.7 282.9,89.1 283.4,88.6 283.9,90.3 284.4,90.8 284.9,90.8 285.4,92.3 285.9,91.5 286.4,93.0 286.9,94.0 287.4,93.1 287.9,94.9 288.4,94.0 288.9,95.5 289.4,94.6 289.9,95.7 290.4,96.7 290.9,95.0 291.4,96.2 291.9,97.0 292.4,96.0 292.9,96.1 293.4,95.4 293.9,94.5 294.4,96.6 294.9,96.3 295.4,95.3 295.9,97.6 296.4,98.2 296.9,98.0 297.4,98.4 297.9,98.3 298.4,100.2 298.9,98.4 299.4,99.7 299.9,97.7 300.4,98.8 300.9,99.0 301.4,100.0 301.9,98.6 302.4,99.3 302.9,98.6 303.4,99.7 303.9,100.0 304.4,100.1 304.9,100.5 305.4,100.6 305.9,100.7 306.4,100.0 306.9,100.5 307.4,99.0 307.9,101.6 308.4,101.1 308.9,102.7 309.4,102.0 309.9,100.4 310.4,100.1 310.9,101.3 311.4,103.0 311.4,109.9 310.9,110.3 310.4,110.5 309.9,109.2 309.4,108.0 308.9,110.8 308.4,110.4 307.9,109.1 307.4,106.1 306.9,106.7 306.4,106.5 305.9,107.3 305.4,107.7 304.9,107.6 304.4,107.1 303.9,105.9 303.4,106.6 302.9,107.0 302.4,105.5 301.9,105.1 301.4,106.2 300.9,107.0 300.4,104.9 299.9,106.5 299.4,105.5 298.9,106.1 298.4,104.9 297.9,105.7 297.4,103.7 296.9,102.8 296.4,104.0 295.9,103.4 295.4,103.9 294.9,102.1 294.4,102.3 293.9,103.1 293.4,102.3 292.9,101.3 292.4,100.7 291.9,101.4 291.4,103.3 290.9,100.9 290.4,103.6 289.9,100.0 289.4,101.2 288.9,99.9 288.4,99.0 287.9,100.7 287.4,99.4 286.9,99.0 286.4,98.5 285.9,97.2 285.4,96.7 284.9,96.2 284.4,96.0 283.9,95.1 283.4,94.1 282.9,93.2 282.4,92.8 281.9,90.6 281.4,90.4 280.9,89.8 280.4,87.8 279.9,88.6 279.4,89.2 278.9,87.9 278.4,88.5 277.9,89.0 277.4,86.6 276.9,86.0 276.4,85.1 275.9,83.1 275.4,83.1 274.9,83.0 274.4,83.3 273.9,85.0 273.4,86.7 272.9,86.9 272.4,87.5 271.9,88.7 271.4,88.3 270.9,88.1 270.4,87.5 269.9,86.4 269.4,86.6 268.9,86.9 268.4,86.3 267.9,86.3 267.4,85.5 266.9,84.3 266.4,83.8 265.9,83.4 265.4,83.1 264.9,82.2 264.4,81.4 263.9,81.0 263.4,81.2 262.9,80.1 262.4,79.9 261.9,79.4 261.4,80.1 260.9,78.6 260.4,79.0 259.9,78.2 259.4,77.6 258.9,77.5 258.4,77.1 257.9,76.0 257.4,75.5 256.9,74.6 256.4,73.7 255.9,72.9 255.4,72.3 254.9,72.0 254.4,70.8 253.9,69.8 253.4,69.5 252.9,68.5 252.4,68.2 251.9,67.5 251.4,67.9 250.9,67.2 250.4,67.7 249.9,67.8 249.4,68.3 248.9,68.4 248.4,68.9 247.9,69.3 247.4,69.8 246.9,69.9 246.4,70.3 245.9,70.5 245.4,70.8 244.9,70.8 244.4,71.1 243.9,71.4 243.4,71.4 242.9,70.9 242.4,69.0 241.9,64.7 241.4,58.6 240.9,53.0 240.4,49.7 239.9,49.8 239.4,52.9 238.9,58.5 238.4,64.6 237.9,69.3 237.4,71.3 236.9,72.0 236.4,72.0 235.9,71.8 235.4,71.6 234.9,71.5 234.4,71.3 233.9,70.8 233.4,70.3 232.9,69.9 232.4,69.3 231.9,68.7 231.4,68.0 230.9,67.3 230.4,66.7 229.9,66.2 229.4,65.6 228.9,65.4 228.4,65.3 227.9,65.5 227.4,65.9 226.9,66.2 226.4,66.8 225.9,67.2 225.4,67.6 224.9,68.1 224.4,68.4 223.9,68.7 223.4,68.9 222.9,69.3 222.4,69.2 221.9,69.4 221.4,69.4 220.9,69.2 220.4,69.0 219.9,68.5 219.4,67.8 218.9,66.8 218.4,65.5 217.9,63.9 217.4,62.1 216.9,60.4 216.4,58.9 215.9,57.9 215.4,58.1 214.9,59.1 214.4,60.7 213.9,62.5 213.4,64.1 212.9,65.7 212.4,66.9 211.9,67.9 211.4,68.5 210.9,69.0 210.4,69.1 209.9,69.1 209.4,68.9 208.9,68.7 208.4,68.4 207.9,68.0 207.4,67.6 206.9,67.1 206.4,66.7 205.9,66.2 205.4,65.8 204.9,65.5 204.4,65.5 203.9,65.6 203.4,65.9 202.9,66.1 202.4,66.6 201.9,66.8 201.4,67.0 200.9,67.2 200.4,67.4 199.9,67.4 199.4,67.6 198.9,67.7 198.4,67.6 197.9,67.7 197.4,67.7 196.9,67.7 196.4,67.6 195.9,67.7 195.4,67.7 194.9,67.8 194.4,67.7 193.9,67.8 193.4,67.8 192.9,67.8 192.4,67.8 191.9,67.9 191.4,67.8 190.9,68.0 190.4,67.9 189.9,68.0 189.4,68.1 188.9,68.0 188.4,68.0 187.9,68.1 187.4,68.1 186.9,68.2 186.4,68.2 185.9,68.3 185.4,68.3 184.9,68.3 184.4,68.3 183.9,68.4 183.4,68.4 182.9,68.5 182.4,68.5 181.9,68.5 181.4,68.5 180.9,68.5 180.4,68.6 179.9,68.6 179.4,68.7 178.9,68.9 178.4,68.9 177.9,68.8 177.4,69.0 176.9,68.9 176.4,68.9 175.9,68.9 175.4,68.9 174.9,68.9 174.4,69.1 173.9,68.9 173.4,69.2 172.9,69.2 172.4,69.2 171.9,69.3 171.4,69.3 170.9,69.2 170.4,69.3 169.9,69.3 169.4,69.4 168.9,69.5 168.4,69.6 167.9,69.6 167.4,69.4 166.9,69.5 166.4,69.7 165.9,69.6 165.4,69.7 164.9,69.7 164.4,69.7 163.9,69.9 163.4,69.9 162.9,70.1 162.4,70.1 161.9,70.2 161.4,70.1 160.9,70.4 160.4,70.2 159.9,70.4 159.4,70.5 158.9,70.5 158.4,70.7 157.9,70.7 157.4,71.0 156.9,71.2 156.4,71.2 155.9,71.3 155.4,71.4 154.9,71.6 154.4,72.0 153.9,71.8 153.4,72.0 152.9,72.4 152.4,72.3 151.9,72.6 151.4,72.6 150.9,72.8 150.4,72.8 149.9,72.9 149.4,73.2 148.9,73.5 148.4,73.4 147.9,73.6 147.4,73.8 146.9,74.3 146.4,74.1 145.9,74.2 145.4,74.6 144.9,74.8 144.4,74.9 143.9,75.0 143.4,75.2 142.9,75.3 142.4,75.7 141.9,75.8 141.4,76.1 140.9,76.3 140.4,76.5 139.9,76.9 139.4,76.9 138.9,77.2 138.4,77.6 137.9,77.7 137.4,78.0 136.9,78.3 136.4,78.6 135.9,78.9 135.4,78.9 134.9,79.5 134.4,79.5 133.9,79.9 133.4,80.0 132.9,80.4 132.4,81.0 131.9,81.3 131.4,81.3 130.9,81.7 130.4,81.9 129.9,82.3 129.4,82.7 128.9,83.2 128.4,83.4 127.9,84.2 127.4,84.1 126.9,84.4 126.4,84.8 125.9,85.0 125.4,85.5 124.9,85.8 124.4,86.3 123.9,86.8 123.4,87.2 122.9,87.3 122.4,87.9 121.9,88.4 121.4,88.6 120.9,89.2 120.4,89.5 119.9,89.7 119.4,90.2 118.9,90.5 118.4,90.9 117.9,91.5 117.4,91.8 116.9,92.1 116.4,92.5 115.9,93.1 115.4,93.4 114.9,93.8 114.4,94.4 113.9,94.8 113.4,95.4 112.9,96.0 112.4,96.4 111.9,96.8 111.4,97.4 110.9,98.2 110.4,98.3 109.9,98.9 109.4,99.5 108.9,99.9 108.4,100.6 107.9,101.1 107.4,101.5 106.9,102.0 106.4,102.8 105.9,103.4 105.4,103.9 104.9,104.5 104.4,105.1 103.9,105.8 103.4,106.5 102.9,107.1 102.4,108.0 101.9,108.8 101.4,109.8 100.9,110.3 100.4,111.0 99.9,111.6 99.4,112.3 98.9,113.3 98.4,114.1 97.9,115.1 97.4,115.8 96.9,116.4 96.4,117.3 95.9,117.9 95.4,118.7 94.9,119.0 94.4,120.1 93.9,120.6 93.4,121.6 92.9,121.9 92.4,122.6 91.9,123.5 91.4,124.3 90.9,124.7 90.4,125.8 89.9,126.4 89.4,126.9 88.9,127.6 88.4,127.9 87.9,128.5 87.4,129.5 86.9,130.2 86.4,131.0 85.9,131.5 85.4,132.7 84.9,133.1 84.4,133.3 83.9,134.3 83.4,134.9 82.9,135.1 82.4,135.9 81.9,136.2 81.4,137.3 80.9,138.0 80.4,139.0 79.9,138.9 79.4,139.8 78.9,140.8 78.4,141.8 77.9,142.5 77.4,143.8 76.9,142.9 76.4,144.2 75.9,144.3 75.4,146.0 74.9,146.4 74.4,147.7 73.9,148.4 73.4,148.2 72.9,148.9 72.4,149.7 71.9,150.8 71.4,150.9 70.9,152.6 70.4,153.6 69.9,154.5 69.4,156.9 68.9,156.7 68.4,157.3 67.9,159.2 67.4,159.3 66.9,160.1 66.4,159.3 65.9,161.6 65.4,164.8 64.9,163.2 64.4,165.3 63.9,169.6 63.4,167.2 62.9,170.0 62.4,169.2 61.9,169.0 61.4,173.9 60.9,172.9 60.4,172.8 59.9,171.9 59.4,173.2 58.9,173.4 58.4,175.5 57.9,176.2 57.4,177.6 56.9,179.2 56.4,177.0 55.9,180.1 55.4,182.7 54.9,179.1 54.4,182.0 53.9,180.7 53.4,181.8 52.9,183.5 52.4,183.1 51.9,182.9 51.4,182.2 50.9,181.3 50.4,188.7 49.9,188.4 49.4,189.0 48.9,187.0 48.4,186.8 47.9,190.1 47.4,189.0 46.9,189.4 46.4,191.2 45.9,195.9 45.4,190.8 44.9,191.7 44.4,193.5 43.9,198.2 43.4,192.7 42.9,194.2 42.4,196.7 41.9,192.1 41.4,195.7 40.9,193.8 40.4,193.5" fill="#8a0000" stroke="#8a0000" stroke-width="1.0" stroke-linejoin="round"/>
</g>
<rect x="41.4" y="38.0" width="269.2" height="217.6" fill="none" stroke="#000" stroke-width="1.4"/>
<path d="M41.40,255.6v-3.4M41.40,38.0v3.4M49.80,255.6v-1.7M49.80,38.0v1.7M58.20,255.6v-1.7M58.20,38.0v1.7M66.60,255.6v-1.7M66.60,38.0v1.7M75.00,255.6v-1.7M75.00,38.0v1.7M83.40,255.6v-3.4M83.40,38.0v3.4M91.80,255.6v-1.7M91.80,38.0v1.7M100.20,255.6v-1.7M100.20,38.0v1.7M108.60,255.6v-1.7M108.60,38.0v1.7M117.00,255.6v-1.7M117.00,38.0v1.7M125.40,255.6v-3.4M125.40,38.0v3.4M133.80,255.6v-1.7M133.80,38.0v1.7M142.20,255.6v-1.7M142.20,38.0v1.7M150.60,255.6v-1.7M150.60,38.0v1.7M159.00,255.6v-1.7M159.00,38.0v1.7M167.40,255.6v-3.4M167.40,38.0v3.4M175.80,255.6v-1.7M175.80,38.0v1.7M184.20,255.6v-1.7M184.20,38.0v1.7M192.60,255.6v-1.7M192.60,38.0v1.7M201.00,255.6v-1.7M201.00,38.0v1.7M209.40,255.6v-3.4M209.40,38.0v3.4M217.80,255.6v-1.7M217.80,38.0v1.7M226.20,255.6v-1.7M226.20,38.0v1.7M234.60,255.6v-1.7M234.60,38.0v1.7M243.00,255.6v-1.7M243.00,38.0v1.7M251.40,255.6v-3.4M251.40,38.0v3.4M259.80,255.6v-1.7M259.80,38.0v1.7M268.20,255.6v-1.7M268.20,38.0v1.7M276.60,255.6v-1.7M276.60,38.0v1.7M285.00,255.6v-1.7M285.00,38.0v1.7M293.40,255.6v-3.4M293.40,38.0v3.4M301.80,255.6v-1.7M301.80,38.0v1.7M310.20,255.6v-1.7M310.20,38.0v1.7M41.4,252.66h1.7M310.6,252.66h-1.7M41.4,249.62h1.7M310.6,249.62h-1.7M41.4,247.05h1.7M310.6,247.05h-1.7M41.4,244.82h1.7M310.6,244.82h-1.7M41.4,242.86h1.7M310.6,242.86h-1.7M41.4,241.10h3.4M310.6,241.10h-3.4M41.4,229.54h1.7M310.6,229.54h-1.7M41.4,222.78h1.7M310.6,222.78h-1.7M41.4,217.98h1.7M310.6,217.98h-1.7M41.4,214.26h1.7M310.6,214.26h-1.7M41.4,211.22h1.7M310.6,211.22h-1.7M41.4,208.65h1.7M310.6,208.65h-1.7M41.4,206.42h1.7M310.6,206.42h-1.7M41.4,204.46h1.7M310.6,204.46h-1.7M41.4,202.70h3.4M310.6,202.70h-3.4M41.4,191.14h1.7M310.6,191.14h-1.7M41.4,184.38h1.7M310.6,184.38h-1.7M41.4,179.58h1.7M310.6,179.58h-1.7M41.4,175.86h1.7M310.6,175.86h-1.7M41.4,172.82h1.7M310.6,172.82h-1.7M41.4,170.25h1.7M310.6,170.25h-1.7M41.4,168.02h1.7M310.6,168.02h-1.7M41.4,166.06h1.7M310.6,166.06h-1.7M41.4,164.30h3.4M310.6,164.30h-3.4M41.4,152.74h1.7M310.6,152.74h-1.7M41.4,145.98h1.7M310.6,145.98h-1.7M41.4,141.18h1.7M310.6,141.18h-1.7M41.4,137.46h1.7M310.6,137.46h-1.7M41.4,134.42h1.7M310.6,134.42h-1.7M41.4,131.85h1.7M310.6,131.85h-1.7M41.4,129.62h1.7M310.6,129.62h-1.7M41.4,127.66h1.7M310.6,127.66h-1.7M41.4,125.90h3.4M310.6,125.90h-3.4M41.4,114.34h1.7M310.6,114.34h-1.7M41.4,107.58h1.7M310.6,107.58h-1.7M41.4,102.78h1.7M310.6,102.78h-1.7M41.4,99.06h1.7M310.6,99.06h-1.7M41.4,96.02h1.7M310.6,96.02h-1.7M41.4,93.45h1.7M310.6,93.45h-1.7M41.4,91.22h1.7M310.6,91.22h-1.7M41.4,89.26h1.7M310.6,89.26h-1.7M41.4,87.50h3.4M310.6,87.50h-3.4M41.4,75.94h1.7M310.6,75.94h-1.7M41.4,69.18h1.7M310.6,69.18h-1.7M41.4,64.38h1.7M310.6,64.38h-1.7M41.4,60.66h1.7M310.6,60.66h-1.7M41.4,57.62h1.7M310.6,57.62h-1.7M41.4,55.05h1.7M310.6,55.05h-1.7M41.4,52.82h1.7M310.6,52.82h-1.7M41.4,50.86h1.7M310.6,50.86h-1.7M41.4,49.10h3.4M310.6,49.10h-3.4" stroke="#000" stroke-width="1" fill="none"/>
<text x="41.4" y="268.9" font-size="10.3" text-anchor="middle" fill="#000" >450</text>
<text x="83.4" y="268.9" font-size="10.3" text-anchor="middle" fill="#000" >500</text>
<text x="125.4" y="268.9" font-size="10.3" text-anchor="middle" fill="#000" >550</text>
<text x="167.4" y="268.9" font-size="10.3" text-anchor="middle" fill="#000" >600</text>
<text x="209.4" y="268.9" font-size="10.3" text-anchor="middle" fill="#000" >650</text>
<text x="251.4" y="268.9" font-size="10.3" text-anchor="middle" fill="#000" >700</text>
<text x="293.4" y="268.9" font-size="10.3" text-anchor="middle" fill="#000" >750</text>
<text x="167.5" y="283.5" font-size="10.3" text-anchor="middle" fill="#000" >Wavelength (nm)</text>
<text x="37" y="55.7" font-size="10.3" text-anchor="end">10<tspan font-size="7.2" dy="-4.9">0</tspan></text>
<text x="37" y="94.1" font-size="10.3" text-anchor="end">10<tspan font-size="7.2" dy="-4.9">&#8722;1</tspan></text>
<text x="37" y="132.5" font-size="10.3" text-anchor="end">10<tspan font-size="7.2" dy="-4.9">&#8722;2</tspan></text>
<text x="37" y="170.9" font-size="10.3" text-anchor="end">10<tspan font-size="7.2" dy="-4.9">&#8722;3</tspan></text>
<text x="37" y="209.3" font-size="10.3" text-anchor="end">10<tspan font-size="7.2" dy="-4.9">&#8722;4</tspan></text>
<text x="37" y="247.7" font-size="10.3" text-anchor="end">10<tspan font-size="7.2" dy="-4.9">&#8722;5</tspan></text>
<text transform="translate(8.3,146.7) rotate(-90)" font-size="10.3" text-anchor="middle">Normalized intensity</text>
<text x="48" y="51.2" font-size="9.0">Al<tspan font-size="5.6" dy="2.9">0.993</tspan><tspan dy="-2.9">Cr</tspan><tspan font-size="5.6" dy="2.9">0.007</tspan><tspan dy="-2.9"> B</tspan><tspan font-size="5.6" dy="2.9">4</tspan><tspan dy="-2.9">O</tspan><tspan font-size="5.6" dy="2.9">6</tspan><tspan dy="-2.9">N</tspan></text>
<text x="48.8" y="66.8" font-size="9.0"><tspan font-style="italic">&#955;</tspan><tspan font-size="5.6" dy="2.6">exc</tspan><tspan dy="-2.6" dx="1.2"> = 395 nm</tspan></text>
<path d="M48.3,80.1 H54.2" stroke="#000" stroke-width="0.9"/><path d="M53.2,78.4 L55.6,80.1 L53.2,81.8 Z" fill="#000"/>
<text x="58.6" y="83.2" font-size="9.0"><tspan font-size="5.6" dy="-4.9">4</tspan><tspan dy="4.9" font-style="italic">A</tspan><tspan font-size="5.6" dy="2.0" font-style="italic">2g</tspan><tspan dy="-2.0"> (</tspan><tspan font-size="5.6" dy="-4.9">4</tspan><tspan dy="4.9">F)</tspan></text>
<text x="132.8" y="63.4" font-size="9.0"><tspan font-size="5.6" dy="-4.9">4</tspan><tspan dy="4.9" font-style="italic">T</tspan><tspan font-size="5.6" dy="2.0" font-style="italic">2g</tspan><tspan dy="-2.0"> (</tspan><tspan font-size="5.6" dy="-4.9">4</tspan><tspan dy="4.9">F)</tspan></text>
<text x="202.6" y="50.8" font-size="9.0"><tspan font-size="5.6" dy="-4.9">2</tspan><tspan dy="4.9" font-style="italic">T</tspan><tspan font-size="5.6" dy="2.7" font-style="italic">1g</tspan><tspan dy="-2.7"> (</tspan><tspan font-size="5.6" dy="-4.9">2</tspan><tspan dy="4.9">G)</tspan></text>
<text x="238.6" y="50.8" font-size="9.0"><tspan font-size="5.6" dy="-4.9">2</tspan><tspan dy="4.9" font-style="italic">E</tspan><tspan font-size="5.6" dy="2.7" font-style="italic">1g</tspan><tspan dy="-2.7"> (</tspan><tspan font-size="5.6" dy="-4.9">2</tspan><tspan dy="4.9">G)</tspan></text>
<rect x="310.6" y="38.00" width="8.2" height="10.66" fill="#dab4ff"/>
<text x="323" y="46.8" font-size="10.3" text-anchor="start" fill="#000" >323 K</text>
<rect x="310.6" y="48.36" width="8.2" height="10.66" fill="#b46ef8"/>
<text x="323" y="57.1" font-size="10.3" text-anchor="start" fill="#000" >373 K</text>
<rect x="310.6" y="58.72" width="8.2" height="10.66" fill="#8000ff"/>
<text x="323" y="67.5" font-size="10.3" text-anchor="start" fill="#000" >398 K</text>
<rect x="310.6" y="69.09" width="8.2" height="10.66" fill="#6478ff"/>
<text x="323" y="77.9" font-size="10.3" text-anchor="start" fill="#000" >423 K</text>
<rect x="310.6" y="79.45" width="8.2" height="10.66" fill="#2a46ff"/>
<text x="323" y="88.2" font-size="10.3" text-anchor="start" fill="#000" >448 K</text>
<rect x="310.6" y="89.81" width="8.2" height="10.66" fill="#1464ff"/>
<text x="323" y="98.6" font-size="10.3" text-anchor="start" fill="#000" >473 K</text>
<rect x="310.6" y="100.17" width="8.2" height="10.66" fill="#1e88ff"/>
<text x="323" y="109.0" font-size="10.3" text-anchor="start" fill="#000" >498 K</text>
<rect x="310.6" y="110.53" width="8.2" height="10.66" fill="#00acff"/>
<text x="323" y="119.3" font-size="10.3" text-anchor="start" fill="#000" >523 K</text>
<rect x="310.6" y="120.90" width="8.2" height="10.66" fill="#00ccff"/>
<text x="323" y="129.7" font-size="10.3" text-anchor="start" fill="#000" >548 K</text>
<rect x="310.6" y="131.26" width="8.2" height="10.66" fill="#00f0f0"/>
<text x="323" y="140.0" font-size="10.3" text-anchor="start" fill="#000" >573 K</text>
<rect x="310.6" y="141.62" width="8.2" height="10.66" fill="#00f050"/>
<text x="323" y="150.4" font-size="10.3" text-anchor="start" fill="#000" >598 K</text>
<rect x="310.6" y="151.98" width="8.2" height="10.66" fill="#10f000"/>
<text x="323" y="160.8" font-size="10.3" text-anchor="start" fill="#000" >623 K</text>
<rect x="310.6" y="162.34" width="8.2" height="10.66" fill="#80f000"/>
<text x="323" y="171.1" font-size="10.3" text-anchor="start" fill="#000" >648 K</text>
<rect x="310.6" y="172.70" width="8.2" height="10.66" fill="#c0f000"/>
<text x="323" y="181.5" font-size="10.3" text-anchor="start" fill="#000" >673 K</text>
<rect x="310.6" y="183.07" width="8.2" height="10.66" fill="#ffe600"/>
<text x="323" y="191.8" font-size="10.3" text-anchor="start" fill="#000" >698 K</text>
<rect x="310.6" y="193.43" width="8.2" height="10.66" fill="#ffb400"/>
<text x="323" y="202.2" font-size="10.3" text-anchor="start" fill="#000" >723 K</text>
<rect x="310.6" y="203.79" width="8.2" height="10.66" fill="#ff9400"/>
<text x="323" y="212.6" font-size="10.3" text-anchor="start" fill="#000" >748 K</text>
<rect x="310.6" y="214.15" width="8.2" height="10.66" fill="#ff6c00"/>
<text x="323" y="222.9" font-size="10.3" text-anchor="start" fill="#000" >773 K</text>
<rect x="310.6" y="224.51" width="8.2" height="10.66" fill="#ff4000"/>
<text x="323" y="233.3" font-size="10.3" text-anchor="start" fill="#000" >798 K</text>
<rect x="310.6" y="234.88" width="8.2" height="10.66" fill="#cc0000"/>
<text x="323" y="243.7" font-size="10.3" text-anchor="start" fill="#000" >823 K</text>
<rect x="310.6" y="245.24" width="8.2" height="10.66" fill="#8a0000"/>
<text x="323" y="254.0" font-size="10.3" text-anchor="start" fill="#000" >848 K</text>
<rect x="310.6" y="38.0" width="8.2" height="217.6" fill="none" stroke="#000" stroke-width="1.2"/>
<line x1="416.7" y1="51.6" x2="665.3" y2="238.2" stroke="#f01414" stroke-width="1.4"/>
<path d="M417.32,45.20V53.60M413.92,45.20h6.8M413.92,53.60h6.8M421.95,48.90V57.30M418.55,48.90h6.8M418.55,57.30h6.8M426.86,53.60V62.00M423.46,53.60h6.8M423.46,62.00h6.8M432.10,57.60V66.00M428.70,57.60h6.8M428.70,66.00h6.8M437.69,62.40V70.80M434.29,62.40h6.8M434.29,70.80h6.8M443.66,66.70V75.10M440.26,66.70h6.8M440.26,75.10h6.8M450.06,71.90V80.30M446.66,71.90h6.8M446.66,80.30h6.8M456.94,77.20V85.60M453.54,77.20h6.8M453.54,85.60h6.8M464.34,83.80V92.20M460.94,83.80h6.8M460.94,92.20h6.8M472.34,87.30V95.70M468.94,87.30h6.8M468.94,95.70h6.8M481.01,96.80V105.20M477.61,96.80h6.8M477.61,105.20h6.8M490.44,105.40V113.80M487.04,105.40h6.8M487.04,113.80h6.8M500.73,112.80V121.20M497.33,112.80h6.8M497.33,121.20h6.8M512.00,122.80V131.20M508.60,122.80h6.8M508.60,131.20h6.8M524.40,132.30V140.70M521.00,132.30h6.8M521.00,140.70h6.8M538.11,132.20V140.60M534.71,132.20h6.8M534.71,140.60h6.8M553.35,143.80V152.20M549.95,143.80h6.8M549.95,152.20h6.8M570.40,163.40V171.80M567.00,163.40h6.8M567.00,171.80h6.8M589.58,172.80V181.20M586.18,172.80h6.8M586.18,181.20h6.8M611.34,196.40V204.80M607.94,196.40h6.8M607.94,204.80h6.8M636.22,206.00V214.40M632.82,206.00h6.8M632.82,214.40h6.8M664.96,231.90V240.30M661.56,231.90h6.8M661.56,240.30h6.8" stroke="#000" stroke-width="1.1" fill="none"/>
<circle cx="417.32" cy="49.40" r="2.1" fill="#000"/>
<circle cx="421.95" cy="53.10" r="2.1" fill="#000"/>
<circle cx="426.86" cy="57.80" r="2.1" fill="#000"/>
<circle cx="432.10" cy="61.80" r="2.1" fill="#000"/>
<circle cx="437.69" cy="66.60" r="2.1" fill="#000"/>
<circle cx="443.66" cy="70.90" r="2.1" fill="#000"/>
<circle cx="450.06" cy="76.10" r="2.1" fill="#000"/>
<circle cx="456.94" cy="81.40" r="2.1" fill="#000"/>
<circle cx="464.34" cy="88.00" r="2.1" fill="#000"/>
<circle cx="472.34" cy="91.50" r="2.1" fill="#000"/>
<circle cx="481.01" cy="101.00" r="2.1" fill="#000"/>
<circle cx="490.44" cy="109.60" r="2.1" fill="#000"/>
<circle cx="500.73" cy="117.00" r="2.1" fill="#000"/>
<circle cx="512.00" cy="127.00" r="2.1" fill="#000"/>
<circle cx="524.40" cy="136.50" r="2.1" fill="#000"/>
<circle cx="538.11" cy="136.40" r="2.1" fill="#000"/>
<circle cx="553.35" cy="148.00" r="2.1" fill="#000"/>
<circle cx="570.40" cy="167.60" r="2.1" fill="#000"/>
<circle cx="589.58" cy="177.00" r="2.1" fill="#000"/>
<circle cx="611.34" cy="200.60" r="2.1" fill="#000"/>
<circle cx="636.22" cy="210.20" r="2.1" fill="#000"/>
<circle cx="664.96" cy="236.10" r="2.1" fill="#000"/>
<rect x="408.7" y="38.3" width="269.7" height="216.2" fill="none" stroke="#000" stroke-width="1.4"/>
<path d="M409.66,254.5v-1.8M414.83,254.5v-1.8M420.00,254.5v-3.5M425.17,254.5v-1.8M430.34,254.5v-1.8M435.50,254.5v-1.8M440.67,254.5v-1.8M445.84,254.5v-3.5M451.01,254.5v-1.8M456.18,254.5v-1.8M461.34,254.5v-1.8M466.51,254.5v-1.8M471.68,254.5v-3.5M476.85,254.5v-1.8M482.02,254.5v-1.8M487.18,254.5v-1.8M492.35,254.5v-1.8M497.52,254.5v-3.5M502.69,254.5v-1.8M507.86,254.5v-1.8M513.02,254.5v-1.8M518.19,254.5v-1.8M523.36,254.5v-3.5M528.53,254.5v-1.8M533.70,254.5v-1.8M538.86,254.5v-1.8M544.03,254.5v-1.8M549.20,254.5v-3.5M554.37,254.5v-1.8M559.54,254.5v-1.8M564.70,254.5v-1.8M569.87,254.5v-1.8M575.04,254.5v-3.5M580.21,254.5v-1.8M585.38,254.5v-1.8M590.54,254.5v-1.8M595.71,254.5v-1.8M600.88,254.5v-3.5M606.05,254.5v-1.8M611.22,254.5v-1.8M616.38,254.5v-1.8M621.55,254.5v-1.8M626.72,254.5v-3.5M631.89,254.5v-1.8M637.06,254.5v-1.8M642.22,254.5v-1.8M647.39,254.5v-1.8M652.56,254.5v-3.5M657.73,254.5v-1.8M662.90,254.5v-1.8M668.06,254.5v-1.8M673.23,254.5v-1.8M678.40,254.5v-3.5M634.10,38.3v3.5M623.85,38.3v1.8M614.15,38.3v1.8M604.96,38.3v1.8M596.24,38.3v1.8M587.96,38.3v3.5M580.08,38.3v1.8M572.58,38.3v1.8M565.43,38.3v1.8M558.60,38.3v1.8M552.07,38.3v3.5M545.83,38.3v1.8M539.85,38.3v1.8M534.13,38.3v1.8M528.63,38.3v1.8M523.36,38.3v3.5M518.29,38.3v1.8M513.42,38.3v1.8M508.73,38.3v1.8M504.22,38.3v1.8M499.87,38.3v3.5M495.67,38.3v1.8M491.63,38.3v1.8M487.72,38.3v1.8M483.94,38.3v1.8M480.29,38.3v3.5M476.76,38.3v1.8M473.35,38.3v1.8M470.04,38.3v1.8M466.83,38.3v1.8M463.73,38.3v3.5M460.72,38.3v1.8M457.80,38.3v1.8M454.96,38.3v1.8M452.21,38.3v1.8M449.53,38.3v3.5M446.93,38.3v1.8M444.40,38.3v1.8M441.95,38.3v1.8M439.55,38.3v1.8M437.23,38.3v3.5M434.96,38.3v1.8M432.75,38.3v1.8M430.60,38.3v1.8M428.50,38.3v1.8M426.46,38.3v3.5M424.47,38.3v1.8M422.52,38.3v1.8M420.62,38.3v1.8M418.77,38.3v1.8M416.96,38.3v3.5M415.19,38.3v1.8M413.47,38.3v1.8M411.78,38.3v1.8M410.13,38.3v1.8M408.7,253.87h1.8M678.4,253.87h-1.8M408.7,246.42h1.8M678.4,246.42h-1.8M408.7,241.13h1.8M678.4,241.13h-1.8M408.7,237.03h1.8M678.4,237.03h-1.8M408.7,233.68h1.8M678.4,233.68h-1.8M408.7,230.85h1.8M678.4,230.85h-1.8M408.7,228.40h1.8M678.4,228.40h-1.8M408.7,226.24h1.8M678.4,226.24h-1.8M408.7,224.30h3.5M678.4,224.30h-3.5M408.7,211.57h1.8M678.4,211.57h-1.8M408.7,204.12h1.8M678.4,204.12h-1.8M408.7,198.83h1.8M678.4,198.83h-1.8M408.7,194.73h1.8M678.4,194.73h-1.8M408.7,191.38h1.8M678.4,191.38h-1.8M408.7,188.55h1.8M678.4,188.55h-1.8M408.7,186.10h1.8M678.4,186.10h-1.8M408.7,183.94h1.8M678.4,183.94h-1.8M408.7,182.00h3.5M678.4,182.00h-3.5M408.7,169.27h1.8M678.4,169.27h-1.8M408.7,161.82h1.8M678.4,161.82h-1.8M408.7,156.53h1.8M678.4,156.53h-1.8M408.7,152.43h1.8M678.4,152.43h-1.8M408.7,149.08h1.8M678.4,149.08h-1.8M408.7,146.25h1.8M678.4,146.25h-1.8M408.7,143.80h1.8M678.4,143.80h-1.8M408.7,141.64h1.8M678.4,141.64h-1.8M408.7,139.70h3.5M678.4,139.70h-3.5M408.7,126.97h1.8M678.4,126.97h-1.8M408.7,119.52h1.8M678.4,119.52h-1.8M408.7,114.23h1.8M678.4,114.23h-1.8M408.7,110.13h1.8M678.4,110.13h-1.8M408.7,106.78h1.8M678.4,106.78h-1.8M408.7,103.95h1.8M678.4,103.95h-1.8M408.7,101.50h1.8M678.4,101.50h-1.8M408.7,99.34h1.8M678.4,99.34h-1.8M408.7,97.40h3.5M678.4,97.40h-3.5M408.7,84.67h1.8M678.4,84.67h-1.8M408.7,77.22h1.8M678.4,77.22h-1.8M408.7,71.93h1.8M678.4,71.93h-1.8M408.7,67.83h1.8M678.4,67.83h-1.8M408.7,64.48h1.8M678.4,64.48h-1.8M408.7,61.65h1.8M678.4,61.65h-1.8M408.7,59.20h1.8M678.4,59.20h-1.8M408.7,57.04h1.8M678.4,57.04h-1.8M408.7,55.10h3.5M678.4,55.10h-3.5M408.7,42.37h1.8M678.4,42.37h-1.8" stroke="#000" stroke-width="1" fill="none"/>
<text x="420.0" y="267.7" font-size="10" text-anchor="middle" fill="#000" >1.2</text>
<text x="445.8" y="267.7" font-size="10" text-anchor="middle" fill="#000" >1.4</text>
<text x="471.7" y="267.7" font-size="10" text-anchor="middle" fill="#000" >1.6</text>
<text x="497.5" y="267.7" font-size="10" text-anchor="middle" fill="#000" >1.8</text>
<text x="523.4" y="267.7" font-size="10" text-anchor="middle" fill="#000" >2.0</text>
<text x="549.2" y="267.7" font-size="10" text-anchor="middle" fill="#000" >2.2</text>
<text x="575.0" y="267.7" font-size="10" text-anchor="middle" fill="#000" >2.4</text>
<text x="600.9" y="267.7" font-size="10" text-anchor="middle" fill="#000" >2.6</text>
<text x="626.7" y="267.7" font-size="10" text-anchor="middle" fill="#000" >2.8</text>
<text x="652.6" y="267.7" font-size="10" text-anchor="middle" fill="#000" >3.0</text>
<text x="678.4" y="267.7" font-size="10" text-anchor="middle" fill="#000" >3.2</text>
<text x="549" y="284.6" font-size="10" text-anchor="middle">10<tspan font-size="7" dy="-3.8">3</tspan><tspan dy="3.8">/</tspan><tspan font-style="italic">T</tspan> (K<tspan font-size="7" dy="-3.8">&#8722;1</tspan><tspan dy="3.8">)</tspan></text>
<text transform="translate(638.9,32.6) rotate(-90)" font-size="10">350</text>
<text transform="translate(592.8,32.6) rotate(-90)" font-size="10">400</text>
<text transform="translate(556.9,32.6) rotate(-90)" font-size="10">450</text>
<text transform="translate(528.2,32.6) rotate(-90)" font-size="10">500</text>
<text transform="translate(504.7,32.6) rotate(-90)" font-size="10">550</text>
<text transform="translate(485.1,32.6) rotate(-90)" font-size="10">600</text>
<text transform="translate(468.5,32.6) rotate(-90)" font-size="10">650</text>
<text transform="translate(454.3,32.6) rotate(-90)" font-size="10">700</text>
<text transform="translate(442.0,32.6) rotate(-90)" font-size="10">750</text>
<text transform="translate(431.3,32.6) rotate(-90)" font-size="10">800</text>
<text transform="translate(421.8,32.6) rotate(-90)" font-size="10">850</text>
<text transform="translate(413.3,32.6) rotate(-90)" font-size="10">900</text>
<text x="513.6" y="7.7" font-size="10"><tspan font-style="italic">T</tspan><tspan dx="-0.9"> (K)</tspan></text>
<text x="403.6" y="60.9" font-size="10" text-anchor="end">10<tspan font-size="7" dy="-4.4">1</tspan></text>
<text x="403.6" y="103.2" font-size="10" text-anchor="end">10<tspan font-size="7" dy="-4.4">0</tspan></text>
<text x="403.6" y="145.5" font-size="10" text-anchor="end">10<tspan font-size="7" dy="-4.4">&#8722;1</tspan></text>
<text x="403.6" y="187.8" font-size="10" text-anchor="end">10<tspan font-size="7" dy="-4.4">&#8722;2</tspan></text>
<text x="403.6" y="230.1" font-size="10" text-anchor="end">10<tspan font-size="7" dy="-4.4">&#8722;3</tspan></text>
<text transform="translate(375.2,146) rotate(-90)" font-size="10" text-anchor="middle"><tspan font-style="italic">R</tspan><tspan font-size="7" dy="2.2">31</tspan><tspan dy="-2.2">(</tspan><tspan font-style="italic">T</tspan>)</text>
<circle cx="545.1" cy="49.1" r="2.1" fill="#000"/>
<text x="562.4" y="53.2" font-size="8.85">Al<tspan font-size="5.5" dy="2.9">0.993</tspan><tspan dy="-2.9">Cr</tspan><tspan font-size="5.5" dy="2.9">0.007</tspan><tspan dy="-2.9"> B</tspan><tspan font-size="5.5" dy="2.9">4</tspan><tspan dy="-2.9">O</tspan><tspan font-size="5.5" dy="2.9">6</tspan><tspan dy="-2.9">N</tspan></text>
<line x1="533.1" y1="64" x2="556.8" y2="64" stroke="#f04040" stroke-width="1.4"/>
<text x="562.4" y="67.2" font-size="8.85" text-anchor="start" fill="#000" >Quasi-Boltzmann fit</text>
<text x="562.4" y="77.7" font-size="8.85" text-anchor="start" fill="#000" >(crossover thermometer)</text>
<text x="562.8" y="92.3" font-size="8.85"><tspan font-style="italic">R</tspan><tspan font-size="5.5" dy="-4">2</tspan><tspan font-size="5.5" dx="-3.5" dy="6.2">adj</tspan><tspan dy="-2.2"> = 0.9713</tspan></text>
<text x="562.3" y="108.6" font-size="8.85"><tspan font-style="italic">&#967;</tspan><tspan font-size="5.5" dy="-4.5">2</tspan><tspan font-size="5.5" dx="-3.5" dy="6.4">red</tspan><tspan dy="-1.9"> = 0.5746</tspan></text>
<text x="562.7" y="126" font-size="8.85" fill="#f01e1e"><tspan font-style="italic">C</tspan> = 1883 &#177; 260</text>
<text x="562.7" y="138.8" font-size="8.85" fill="#f01e1e">&#916;<tspan font-style="italic">E</tspan><tspan font-size="5.5" dy="2.6">21</tspan><tspan dy="-2.6"> = (3644 &#177; 52) cm</tspan><tspan font-size="5.5" dy="-3.8">&#8722;1</tspan></text>
<polyline points="412.85,147.40 415.47,157.11 418.09,166.32 420.71,175.04 423.34,183.26 425.96,190.97 428.58,198.20 431.21,204.92 433.83,211.14 436.45,216.87 439.07,222.10 441.70,226.83 444.32,231.06 446.94,234.80 449.56,238.04 452.19,240.77 454.81,243.02 457.43,244.76 460.05,246.00 462.68,246.75 465.30,247.00 467.92,246.75 470.55,246.00 473.17,244.76 475.79,243.02 478.41,240.78 481.04,238.04 483.66,234.80 486.28,231.06 488.90,226.83 491.53,222.10 494.15,216.87 496.77,211.14 499.39,204.92 502.02,198.20 504.64,190.98 507.26,183.26 509.89,175.04 512.51,166.32 515.13,157.11 517.75,147.40" fill="none" stroke="#000" stroke-width="1.4"/>
<polyline points="425.35,147.20 427.35,152.86 429.34,158.24 431.34,163.32 433.34,168.12 435.34,172.62 437.33,176.83 439.33,180.75 441.33,184.38 443.33,187.72 445.32,190.78 447.32,193.53 449.32,196.00 451.32,198.18 453.31,200.07 455.31,201.67 457.31,202.98 459.31,203.99 461.30,204.72 463.30,205.15 465.30,205.30 467.30,205.15 469.30,204.72 471.29,203.99 473.29,202.98 475.29,201.67 477.29,200.07 479.28,198.18 481.28,196.00 483.28,193.53 485.28,190.77 487.27,187.72 489.27,184.38 491.27,180.75 493.27,176.83 495.26,172.62 497.26,168.12 499.26,163.32 501.26,158.24 503.25,152.86 505.25,147.20" fill="none" stroke="#ff1010" stroke-width="1.4"/>
<polyline points="445.66,146.50 447.50,150.35 449.34,154.01 451.18,157.46 453.03,160.72 454.87,163.78 456.71,166.64 458.55,169.31 460.39,171.78 462.24,174.05 464.08,176.12 465.92,178.00 467.76,179.68 469.61,181.16 471.45,182.44 473.29,183.53 475.13,184.42 476.97,185.11 478.82,185.60 480.66,185.90 482.50,186.00 484.34,185.90 486.18,185.60 488.03,185.11 489.87,184.42 491.71,183.53 493.55,182.44 495.39,181.16 497.24,179.68 499.08,178.00 500.92,176.13 502.76,174.05 504.61,171.78 506.45,169.31 508.29,166.64 510.13,163.78 511.97,160.72 513.82,157.46 515.66,154.01 517.50,150.35 519.34,146.50" fill="none" stroke="#0a8a8a" stroke-width="1.4"/>
<line x1="448.2" y1="236.1" x2="482.4" y2="236.1" stroke="#6e6e6e" stroke-width="1"/>
<line x1="453.4" y1="241.6" x2="477.2" y2="241.6" stroke="#6e6e6e" stroke-width="1"/>
<line x1="453" y1="199.4" x2="473" y2="199.4" stroke="#ff8080" stroke-width="1"/>
<line x1="468.2" y1="179.9" x2="496.8" y2="179.9" stroke="#14a0a0" stroke-width="1.3"/>
<line x1="465.4" y1="199.4" x2="465.4" y2="239" stroke="#ff4040" stroke-width="1"/>
<path d="M463.6,238 L465.4,241.8 L467.2,238 Z" fill="#ff4040"/>
<line x1="482" y1="180.4" x2="482" y2="233" stroke="#0a8a8a" stroke-width="1.3"/>
<path d="M480.2,232.5 L482,236.3 L483.8,232.5 Z" fill="#0a8a8a"/>
<path d="M472.6,180.6 q1.6,2.35 0,4.70 q-1.6,2.35 0,4.70 q1.6,2.35 0,4.70 q-1.6,2.35 0,4.70 M475.8,180.6 q1.6,2.35 0,4.70 q-1.6,2.35 0,4.70 q1.6,2.35 0,4.70 q-1.6,2.35 0,4.70" fill="none" stroke="#000" stroke-width="1.1"/>
<path d="M464.3,172 C468,170 471,166 474,160 C475.5,157.2 477.5,157 479.5,159.5 C481.5,162 483,164 484.5,164.3 C485.6,164 485.9,152 486.6,146.4 C487.2,152 487.8,168 489.2,172 Z" fill="url(#sg)"/>
<path d="M463.3,172.2 H490 M463.3,172.2 V148.5" stroke="#000" stroke-width="0.8" fill="none"/>
<path d="M462.2,149.2 L463.3,146.6 L464.4,149.2 Z M488.8,171.1 L491.2,172.2 L488.8,173.3 Z" fill="#000"/>
<rect x="461.3" y="159.6" width="1.3" height="3.4" fill="#888"/>
<text x="476.9" y="177.7" font-size="5.6" font-style="italic" fill="#333" text-anchor="middle">&#955;</text>
<text x="415.6" y="153" font-size="6.4" font-style="italic" font-weight="bold"><tspan font-size="4" dy="-2.8" font-style="normal">4</tspan><tspan dy="2.8">A</tspan><tspan font-size="4" dy="1.5">2g</tspan></text>
<text x="433.8" y="153.6" font-size="6.4" font-style="italic" font-weight="bold" fill="#0a8a8a"><tspan font-size="4" dy="-2.8" font-style="normal">4</tspan><tspan dy="2.8">T</tspan><tspan font-size="4" dy="1.5">2g</tspan></text>
<text x="491.3" y="154" font-size="6.4" font-style="italic" font-weight="bold" fill="#ff4040"><tspan font-size="4" dy="-2.8" font-style="normal">2</tspan><tspan dy="2.8">E</tspan><tspan font-size="4" dy="1.5">g</tspan></text>
<text x="508.6" y="153.8" font-size="6.4" font-style="italic" font-weight="bold">X&#8242;</text>
<text x="489.8" y="190.2" font-size="6" font-style="italic" font-weight="bold">x</text>
</svg></body></html>
